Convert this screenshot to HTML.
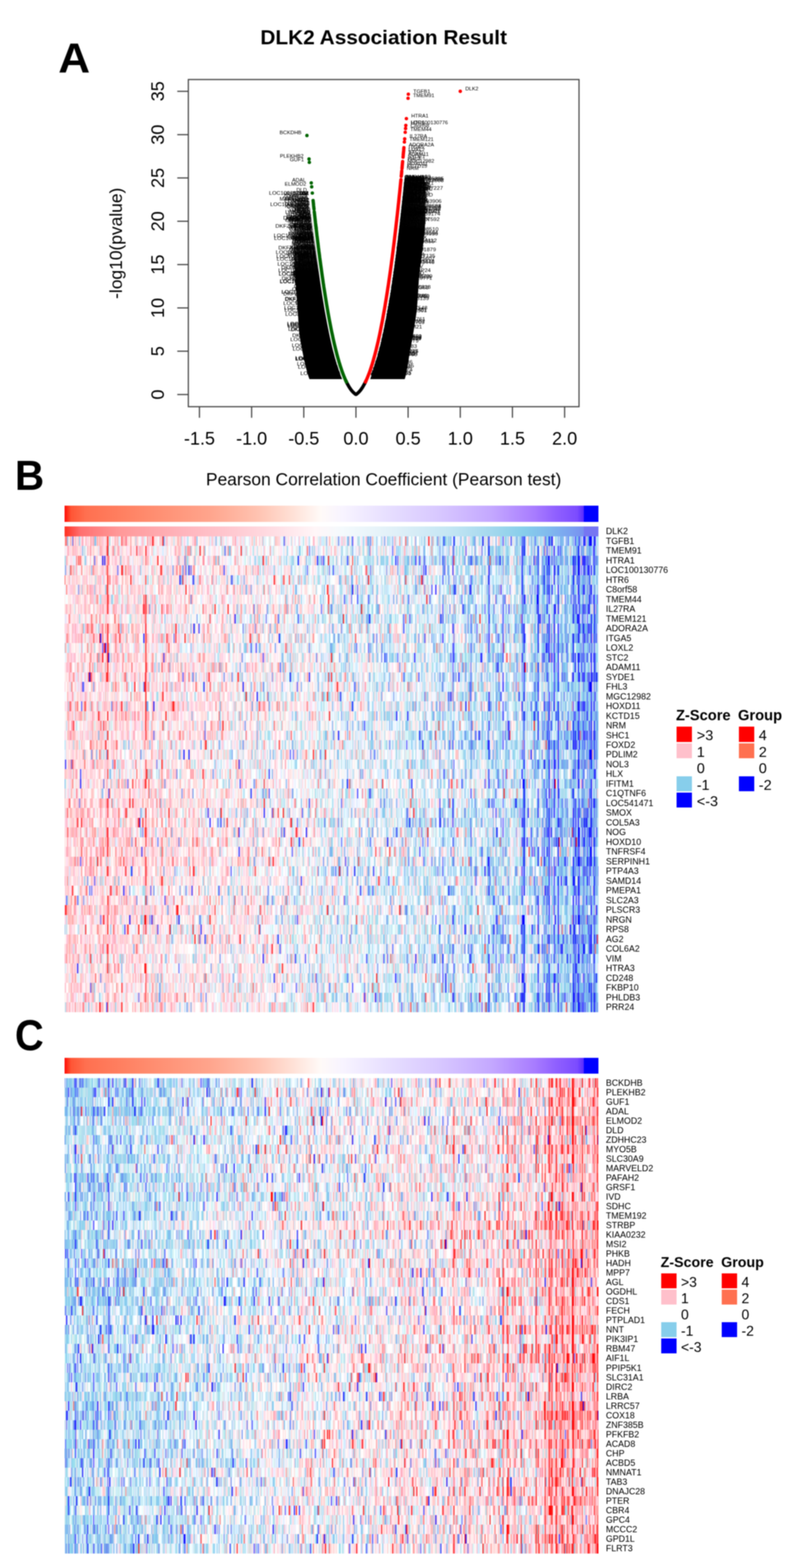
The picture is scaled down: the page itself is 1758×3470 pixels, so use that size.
<!DOCTYPE html><html><head><meta charset="utf-8"><title>DLK2 Association Result</title><style>
*{margin:0;padding:0;box-sizing:border-box}
html,body{width:1758px;height:3470px;overflow:hidden;background:#fff}
body{position:relative;font-family:"Liberation Sans",Arial,Helvetica,sans-serif;color:#000}
#w{position:absolute;left:0;top:0;width:1758px;height:3470px;filter:blur(0.8px)}
.abs{position:absolute;left:0;top:0}
.pl{position:absolute;font-weight:bold;font-size:93px;line-height:1}
svg text{font-family:"Liberation Sans",Arial,sans-serif}
.lab text{font-size:11.3px;fill:#000}
.labn text{font-size:10.6px;fill:#000}
.tk text{font-size:40px;fill:#000}
.axt{font-size:38.5px;fill:#000}
.ttl{font-size:43.5px;font-weight:bold;fill:#000}
.bar{position:absolute}
.hr{position:absolute;left:142.5px;width:1182px;height:21.78px}
.gl{position:absolute;left:1341.5px;font-size:19.5px;line-height:21.48px;height:21.48px;color:#000;white-space:nowrap}
.lt{position:absolute;font-weight:bold;font-size:32.5px;line-height:1;white-space:nowrap}
.lb{position:absolute;width:34px;height:33.2px}
.li{position:absolute;font-size:32px;line-height:39px;white-space:nowrap}
</style></head><body><div id="w"><div class="pl" style="left:129px;top:82px;transform:scaleX(1.05);transform-origin:0 0">A</div><div class="pl" style="left:32.5px;top:1006px;transform:scaleX(0.965);transform-origin:0 0">B</div><div class="pl" style="left:33px;top:2244px;transform:scale(0.95,1.03);transform-origin:0 0">C</div><svg class="abs" width="1758" height="1100" viewBox="0 0 1758 1100"><defs><linearGradient id="gl" gradientUnits="userSpaceOnUse" x1="0" y1="430" x2="0" y2="840"><stop offset="0" stop-color="#000" stop-opacity="0"/><stop offset="0.17" stop-color="#000" stop-opacity="0.2"/><stop offset="0.3" stop-color="#000" stop-opacity="0.65"/><stop offset="0.42" stop-color="#000" stop-opacity="1"/></linearGradient><linearGradient id="gr" gradientUnits="userSpaceOnUse" x1="0" y1="395" x2="0" y2="840"><stop offset="0" stop-color="#000" stop-opacity="0.72"/><stop offset="0.15" stop-color="#000" stop-opacity="0.9"/><stop offset="0.27" stop-color="#000" stop-opacity="1"/></linearGradient></defs><polygon points="819.6,839.0 823.4,829.5 826.9,820.1 830.0,810.7 832.9,801.3 835.6,791.8 838.2,782.4 840.6,773.0 842.8,763.5 845.0,754.1 847.1,744.7 849.1,735.2 851.0,725.8 852.8,716.4 854.6,707.0 856.4,697.5 858.0,688.1 859.7,678.7 861.3,669.2 862.8,659.8 864.3,650.4 865.8,640.9 867.2,631.5 868.6,622.1 870.0,612.7 871.3,603.2 872.6,593.8 873.9,584.4 875.1,574.9 876.4,565.5 877.6,556.1 878.8,546.6 879.9,537.2 881.1,527.8 882.2,518.4 883.3,508.9 884.4,499.5 885.5,490.1 886.5,480.6 887.6,471.2 888.6,461.8 889.6,452.3 890.6,442.9 891.6,433.5 892.5,424.1 893.5,414.6 894.4,405.2 895.4,395.8 939.6,395.8 941.6,405.2 943.1,414.6 942.8,424.1 942.5,433.5 942.1,442.9 941.8,452.3 941.6,461.8 941.7,471.2 941.8,480.6 941.8,490.1 941.1,499.5 940.2,508.9 939.3,518.4 938.4,527.8 937.4,537.2 936.3,546.6 935.1,556.1 933.9,565.5 932.6,574.9 931.4,584.4 930.1,593.8 928.8,603.2 927.7,612.7 927.2,622.1 926.6,631.5 926.1,640.9 925.5,650.4 924.8,659.8 924.2,669.2 923.4,678.7 922.6,688.1 921.3,697.5 919.9,707.0 918.4,716.4 916.9,725.8 915.4,735.2 913.8,744.7 912.1,754.1 910.4,763.5 908.6,773.0 906.6,782.4 905.4,791.8 904.1,801.3 902.6,810.7 900.8,820.1 898.8,829.5 896.1,839.0" fill="url(#gr)"/><polygon points="757.6,839.0 754.1,830.5 751.0,822.1 748.1,813.6 745.4,805.2 742.9,796.7 740.6,788.3 738.4,779.8 736.2,771.4 734.2,762.9 732.3,754.5 730.4,746.0 728.6,737.6 726.9,729.1 725.2,720.7 723.6,712.2 722.0,703.8 720.4,695.3 718.9,686.9 717.5,678.4 716.1,670.0 714.7,661.5 713.3,653.1 712.0,644.6 710.7,636.2 709.4,627.7 708.2,619.2 707.0,610.8 705.8,602.3 704.6,593.9 703.5,585.4 702.3,577.0 701.2,568.5 700.1,560.1 699.1,551.6 698.0,543.2 697.0,534.7 695.9,526.3 694.9,517.8 693.9,509.4 693.0,500.9 692.0,492.5 691.0,484.0 690.1,475.6 689.2,467.1 688.3,458.7 687.4,450.2 686.5,441.8 661.0,441.8 659.7,450.2 658.4,458.7 657.1,467.1 655.8,475.6 654.5,484.0 653.3,492.5 652.2,500.9 651.9,509.4 651.7,517.8 651.4,526.3 651.2,534.7 651.0,543.2 650.8,551.6 651.0,560.1 651.4,568.5 651.7,577.0 652.1,585.4 652.6,593.9 653.0,602.3 653.5,610.8 654.0,619.2 654.6,627.7 655.2,636.2 655.8,644.6 656.5,653.1 657.2,661.5 657.9,670.0 658.6,678.4 659.4,686.9 659.8,695.3 660.3,703.8 660.7,712.2 661.3,720.7 661.9,729.1 662.5,737.6 663.7,746.0 665.1,754.5 666.7,762.9 668.3,771.4 670.0,779.8 671.7,788.3 673.5,796.7 675.3,805.2 677.4,813.6 679.6,822.1 682.1,830.5 685.1,839.0" fill="url(#gl)"/><g class="lab" transform="scale(1.1 1)"><text x="804.8" y="494.1">WWA</text><text x="788.7" y="629.8">ZNF639</text><text x="787.3" y="639.9">MZU31</text><text x="770.7" y="741.2">BL2</text><text x="810.9" y="431.7">MIF4</text><text x="769.5" y="747.6">LOC100192401</text><text x="807.2" y="470.1">ZNF823</text><text x="798.2" y="554.0">KIAA1880</text><text x="792.9" y="597.5">IPOC3</text><text x="764.7" y="769.9">ZKOL24</text><text x="764.8" y="769.6">DKFZp146K83</text><text x="813.0" y="409.4">AG</text><text x="762.9" y="778.1">WZOG6</text><text x="793.6" y="592.6">POOBI9F</text><text x="809.2" y="449.8">HLT29I</text><text x="799.1" y="546.1">WRH11</text><text x="791.7" y="607.2">ZDKX23</text><text x="763.4" y="775.8">ZAVPM31</text><text x="771.7" y="736.3">EK</text><text x="780.4" y="686.2">FLE39</text><text x="795.1" y="580.1">KSX10</text><text x="812.3" y="416.8">RRH28</text><text x="779.9" y="689.4">FLJ16083</text><text x="807.6" y="465.7">WM18</text><text x="812.7" y="412.2">KPCE27</text><text x="760.9" y="786.2">TWWN</text><text x="750.5" y="822.7">SNORD87</text><text x="768.3" y="753.4">LOC100248569</text><text x="795.6" y="575.8">AL</text><text x="806.4" y="478.3">FET23</text><text x="753.4" y="813.7">CG</text><text x="762.6" y="779.2">MEOO11P</text><text x="799.3" y="544.6">UIHB</text><text x="765.8" y="764.9">REDN</text><text x="773.8" y="724.6">COIV6</text><text x="782.9" y="669.9">ESF34L</text><text x="803.7" y="504.2">BE30V</text><text x="757.3" y="800.3">ZNF198</text><text x="778.0" y="701.0">EALEW13S</text><text x="782.5" y="672.6">TUEGG9</text><text x="762.2" y="780.7">LPCS</text><text x="784.1" y="661.9">C19orf154</text><text x="787.3" y="640.0">AHV5</text><text x="802.2" y="517.9">FXI16</text><text x="814.0" y="398.3">UIXFC27Z</text><text x="767.3" y="758.1">TVELX33T</text><text x="789.0" y="627.4">HLS29</text><text x="773.3" y="727.4">DKFZp151M21</text><text x="750.9" y="821.5">KIAA1167</text><text x="808.5" y="456.7">C4orf41</text><text x="774.9" y="718.9">ZNF602</text><text x="791.5" y="608.5">KXUEW10D</text><text x="770.1" y="744.5">XUAT13M</text><text x="802.9" y="511.7">C5orf25</text><text x="766.3" y="763.0">ZHVXO7D</text><text x="776.1" y="711.8">UPUXF17</text><text x="807.4" y="467.9">EANS</text><text x="748.2" y="829.3">LKBS37S</text><text x="794.1" y="588.0">AXLC25U</text><text x="771.3" y="738.1">METL</text><text x="788.6" y="630.7">RRP4</text><text x="803.3" y="507.9">BTWM7</text><text x="787.4" y="638.9">LOC100826818</text><text x="795.0" y="580.6">RFOIK14</text><text x="781.3" y="680.7">FOT</text><text x="775.0" y="718.4">XRDBF34</text><text x="769.2" y="748.8">VDL</text><text x="782.7" y="671.5">FLJ29144</text><text x="754.2" y="811.1">MLF3</text><text x="798.4" y="552.4">FGLEN7</text><text x="776.7" y="708.6">SNORD32</text><text x="755.6" y="806.3">SUE2</text><text x="799.0" y="546.7">KTB14</text><text x="790.0" y="620.4">PM6X</text><text x="812.7" y="412.1">C6orf86</text><text x="789.1" y="626.9">DD30U</text><text x="797.0" y="564.0">URD</text><text x="799.6" y="541.4">OITXE</text><text x="761.0" y="785.7">LOC100854024</text><text x="796.8" y="566.3">IOEXW24</text><text x="748.7" y="827.9">KSVX30K</text><text x="768.0" y="754.8">NX17</text><text x="808.2" y="459.8">LOC100898584</text><text x="805.3" y="489.1">C2orf161</text><text x="800.5" y="533.5">ZNF669</text><text x="775.1" y="717.7">KIAA1939</text><text x="806.5" y="476.7">AONE</text><text x="804.3" y="498.9">OPI</text><text x="803.9" y="502.0">DIM29</text><text x="749.9" y="824.4">EW29</text><text x="808.5" y="457.0">ZNF550</text><text x="756.7" y="802.1">ZNF329</text><text x="766.9" y="759.8">EIS</text><text x="794.7" y="583.8">LOC100393446</text><text x="809.6" y="446.0">IB18</text><text x="746.6" y="833.6">OTTBI</text><text x="779.0" y="695.1">ADE4</text><text x="795.0" y="580.6">ORTT</text><text x="769.2" y="748.7">EDNPU</text><text x="802.8" y="512.6">ZNF508</text><text x="782.6" y="672.0">ND</text><text x="759.6" y="791.4">C3orf124</text><text x="810.6" y="434.7">SEMLM36D</text><text x="792.0" y="605.0">SDW</text><text x="761.2" y="784.8">WTFA</text><text x="788.0" y="635.1">DMD38</text><text x="762.7" y="778.7">KO15</text><text x="803.8" y="503.1">KT9</text><text x="778.3" y="699.2">SNORD107</text><text x="763.7" y="774.6">XRDKS34</text><text x="801.0" y="529.3">ZC32</text><text x="750.9" y="821.5">WBM23</text><text x="803.0" y="511.1">DXUI</text><text x="813.9" y="398.7">GXM37</text><text x="784.8" y="657.1">LK18</text><text x="763.7" y="774.4">NL</text><text x="772.3" y="733.0">NTRI13P</text><text x="760.2" y="789.2">GMP29</text><text x="773.9" y="724.4">TOT7N</text><text x="769.6" y="746.9">FLJ44910</text><text x="813.9" y="398.9">ZM38</text><text x="796.2" y="571.0">HXAI2T</text><text x="779.9" y="689.2">LOC100202481</text><text x="811.3" y="427.4">FLJ31130</text><text x="747.3" y="831.9">RWEP35H</text><text x="771.1" y="739.5">KIAA1678</text><text x="759.5" y="791.8">KHNH26</text><text x="793.3" y="594.9">KIAA1795</text><text x="774.4" y="721.3">UXPO21</text><text x="755.5" y="806.6">UZUGL27</text><text x="813.4" y="405.0">ZK14M</text><text x="787.2" y="640.9">MOVW35</text><text x="811.8" y="422.0">KIAA1197</text><text x="813.9" y="399.4">LOC100045885</text><text x="791.3" y="610.7">XIXFC13</text><text x="797.4" y="561.1">CEK32</text><text x="768.9" y="750.4">NFB7R</text><text x="773.8" y="724.7">IWMZ12M</text><text x="812.7" y="412.8">RVTGO32</text><text x="780.0" y="688.8">BGUR22</text><text x="755.8" y="805.5">CO</text><text x="769.6" y="746.7">BPIM2</text><text x="762.3" y="780.6">WXSD11G</text><text x="768.4" y="752.9">KR9</text><text x="784.4" y="660.1">FKSKH</text><text x="799.9" y="539.5">C1orf198</text><text x="750.3" y="823.3">ARDH9</text><text x="795.7" y="574.9">KIAA1810</text><text x="806.1" y="481.4">C18orf43</text><text x="797.7" y="558.5">LIUM28</text><text x="802.7" y="513.7">MSTK35T</text><text x="798.2" y="554.1">WPL37</text><text x="778.7" y="696.6">PXX37</text><text x="796.4" y="569.4">BCN21</text><text x="811.7" y="423.2">KAUI</text><text x="777.0" y="706.5">ZNF325</text><text x="757.4" y="799.6">OLEDT21</text><text x="754.5" y="810.1">LA31</text><text x="754.3" y="810.8">FLJ20578</text><text x="779.3" y="692.9">EXX1</text><text x="806.7" y="475.4">TBRTG4</text><text x="796.0" y="572.4">KIM23</text><text x="780.3" y="687.0">WDSTL</text><text x="812.8" y="411.3">KIAA1281</text><text x="777.3" y="705.0">OMVCG31</text><text x="809.2" y="449.4">KIAA1278</text><text x="789.4" y="624.5">TFVKB</text><text x="765.8" y="765.1">UZZB15</text><text x="774.6" y="720.7">CXABB9</text><text x="774.1" y="723.2">ZHTNB28</text><text x="807.7" y="465.0">KIAA1917</text><text x="802.5" y="515.3">ZENAN</text><text x="782.1" y="675.6">KIAA1062</text><text x="768.1" y="754.2">AOIRS29M</text><text x="753.3" y="813.9">VRV25</text><text x="810.1" y="440.4">BWXT7</text><text x="802.9" y="511.4">LOC100298510</text><text x="813.2" y="407.3">CEKL24</text><text x="800.6" y="533.0">MLOK4</text><text x="773.0" y="729.3">NGT</text><text x="781.7" y="677.7">SPUZT</text><text x="805.7" y="485.2">RH10</text><text x="800.3" y="535.6">LOC100264112</text><text x="799.5" y="542.6">BGRU23</text><text x="771.6" y="736.8">TI15</text><text x="809.7" y="444.7">GOS16</text><text x="792.3" y="602.2">HRZ15</text><text x="796.5" y="568.2">ABMV9X</text><text x="809.9" y="442.1">KIAA1656</text><text x="797.2" y="562.6">CFI5</text><text x="775.6" y="714.7">MIG</text><text x="786.5" y="645.3">ITZD4</text><text x="798.5" y="551.8">TPAXZ12E</text><text x="787.2" y="640.5">DKFZp726G68</text><text x="799.9" y="539.3">C5orf86</text><text x="803.3" y="507.6">KIAA1132</text><text x="772.4" y="732.7">CXU33X</text><text x="777.3" y="704.8">RHDHV7</text><text x="800.3" y="535.6">FDM1</text><text x="757.8" y="798.2">SMS32</text><text x="790.9" y="613.1">HG39</text><text x="811.8" y="421.7">VOPTK18C</text><text x="781.0" y="682.2">NPZA29</text><text x="765.6" y="765.8">HSEVC12L</text><text x="801.9" y="520.8">MVNA18</text><text x="805.8" y="484.3">FEC25</text><text x="801.1" y="528.0">ML6</text><text x="756.6" y="802.7">NRN26C</text><text x="778.2" y="699.9">XZ34</text><text x="795.9" y="573.8">ZP</text><text x="768.6" y="752.0">C13orf171</text><text x="755.8" y="805.5">RMBV16</text><text x="787.7" y="636.9">LESP21</text><text x="755.0" y="808.3">FLJ27836</text><text x="779.1" y="694.3">IAE</text><text x="786.9" y="642.6">WF</text><text x="779.1" y="694.2">GZRFV</text><text x="788.3" y="632.8">HPTS33P</text><text x="802.6" y="514.3">ZNF387</text><text x="782.6" y="671.8">GFB18</text><text x="746.6" y="833.6">CVB25</text><text x="791.3" y="609.9">FLJ33448</text><text x="779.8" y="690.1">ZLC12</text><text x="782.9" y="669.9">EDUU21</text><text x="806.4" y="478.4">DRSIF23</text><text x="748.9" y="827.3">VT4</text><text x="751.3" y="820.2">ZNF580</text><text x="788.3" y="632.4">HGRZN32</text><text x="755.7" y="805.9">TG26</text><text x="773.5" y="726.8">KTRL16</text><text x="747.7" y="830.6">GNR14</text><text x="811.7" y="423.6">ISDX</text><text x="800.0" y="538.4">DKFZp694B55</text><text x="801.3" y="526.2">VBAW11</text><text x="771.8" y="735.8">PED</text><text x="801.4" y="525.6">EASB33H</text><text x="790.5" y="616.1">SLEM5</text><text x="765.8" y="765.1">ZNF440</text><text x="773.5" y="726.7">KIAA1534</text><text x="792.1" y="604.0">SNORD32</text><text x="782.7" y="671.5">ZLVU17</text><text x="755.7" y="805.8">OCGGX35O</text><text x="809.8" y="443.3">WNXE</text><text x="750.7" y="822.0">LOC100903974</text><text x="812.7" y="412.6">EN1E</text><text x="800.6" y="532.9">KUXHE</text><text x="812.0" y="420.4">LOC100847227</text><text x="772.1" y="733.8">XC14F</text><text x="813.8" y="399.8">MZE1</text><text x="759.0" y="793.9">DT24</text><text x="778.0" y="700.8">SNORD117</text><text x="767.2" y="758.6">VIM28</text><text x="780.5" y="685.5">GFUB5</text><text x="775.9" y="713.4">FLJ23089</text><text x="786.9" y="642.6">UA</text><text x="776.9" y="707.3">SUHD</text><text x="783.4" y="666.6">THB21</text><text x="812.9" y="409.9">NCCV33</text><text x="807.1" y="471.4">LOC100931071</text><text x="775.2" y="717.0">HIHKU14</text><text x="779.8" y="689.9">KVOP12</text><text x="788.8" y="628.9">NLWZG3R</text><text x="812.7" y="411.9">SNORD47</text><text x="806.6" y="476.5">LCVNB</text><text x="796.3" y="570.5">ENHW</text><text x="811.2" y="428.8">LMT31</text><text x="751.2" y="820.6">WVS</text><text x="777.7" y="702.4">OWH35</text><text x="798.0" y="556.1">WEMR</text><text x="804.2" y="499.2">KM5</text><text x="764.2" y="772.1">IWVWT20</text><text x="767.3" y="758.3">DKFZp604D79</text><text x="755.1" y="807.9">UPC</text><text x="810.1" y="440.3">DGDNI39</text><text x="805.3" y="489.0">AVFWE37X</text><text x="777.4" y="704.4">TFI16V</text><text x="755.3" y="807.4">XLS20</text><text x="797.5" y="559.9">KIAA1521</text><text x="769.5" y="747.5">UO</text><text x="811.3" y="427.7">CU10R</text><text x="796.4" y="569.6">LOC100717135</text><text x="789.4" y="624.5">LC35</text><text x="791.2" y="611.3">FLJ45891</text><text x="784.6" y="658.7">LOC100988216</text><text x="813.9" y="399.5">FFCEZH</text><text x="805.2" y="489.5">LOC100127592</text><text x="802.9" y="512.0">RV1K</text><text x="798.5" y="551.4">C4orf155</text><text x="790.6" y="615.5">OI8G</text><text x="787.5" y="638.5">KIAA1269</text><text x="782.5" y="672.7">FLJ28502</text><text x="752.0" y="818.2">HHCS</text><text x="776.7" y="708.7">CPMEA</text><text x="752.7" y="815.8">CK21</text><text x="798.0" y="555.8">LOC100381879</text><text x="807.4" y="467.9">GN9</text><text x="788.8" y="629.0">FLJ21887</text><text x="749.7" y="825.0">C4orf172</text><text x="787.3" y="640.2">VR20</text><text x="764.7" y="769.9">HU11</text><text x="794.9" y="582.1">ISMW37</text><text x="780.4" y="686.5">ZVWI</text><text x="802.8" y="512.9">FUCD39</text><text x="803.7" y="504.3">ZCCC15</text><text x="811.0" y="431.0">CSASW33</text><text x="810.2" y="438.8">GFETE27</text><text x="759.3" y="792.7">IAW19I</text><text x="808.1" y="461.2">KLH7</text><text x="809.2" y="449.3">LOC100393906</text><text x="813.7" y="401.2">DKFZp909W58</text><text x="801.0" y="529.1">FKGEB39X</text><text x="784.8" y="657.7">DKFZp242R46</text><text x="802.8" y="512.2">PVFO18</text><text x="760.1" y="789.6">KIAA1274</text><text x="768.5" y="752.4">LOC100668914</text><text x="768.7" y="751.6">LOC100382709</text><text x="780.2" y="687.7">SXZEA15</text><text x="801.9" y="521.3">LOC100744956</text><text x="804.6" y="495.4">ZNF281</text><text x="792.5" y="600.9">CHB</text><text x="759.4" y="792.1">PFR38</text><text x="808.3" y="459.0">GG39</text><text x="776.9" y="707.6">BFF32</text><text x="790.5" y="616.4">DKFZp764G93</text><text x="791.0" y="612.3">UA11</text><text x="766.7" y="761.1">PZKID</text><text x="807.0" y="471.6">PVDM25P</text><text x="780.6" y="685.0">GVZP</text><text x="752.4" y="817.0">FVEE35W</text><text x="771.4" y="737.6">UTDLO6</text><text x="805.5" y="487.3">IW29V</text><text x="777.2" y="705.7">RR17</text><text x="787.2" y="640.7">DZ38</text><text x="788.5" y="631.0">ZNF590</text><text x="748.8" y="827.7">VEDRF39</text><text x="769.5" y="747.5">LVTWD17</text><text x="783.9" y="663.6">SNORD63</text><text x="811.0" y="430.7">HIBLH23</text><text x="775.0" y="718.5">CB31</text><text x="798.3" y="553.1">NWNHWT</text><text x="793.4" y="593.7">C18orf63</text><text x="806.1" y="480.8">COX</text><text x="806.2" y="480.0">WDOTD</text><text x="800.9" y="530.0">VMLG8</text><text x="791.4" y="609.7">PKRUC26</text><text x="755.1" y="807.9">PB36</text><text x="785.7" y="651.3">FNKV20</text><text x="776.3" y="710.7">PSRC24</text><text x="767.7" y="756.2">VR</text><text x="810.4" y="437.2">PRZE4</text><text x="806.0" y="481.5">GPI30Z</text><text x="810.7" y="433.6">KWAP21</text><text x="799.6" y="541.7">EFTA10</text><text x="756.4" y="803.3">DOWWX</text><text x="787.6" y="637.6">RFHPD</text><text x="785.8" y="650.6">APA25S</text><text x="814.1" y="396.4">C19orf75</text><text x="776.5" y="709.4">UNTX</text><text x="804.7" y="494.8">MXCCG8</text><text x="784.6" y="658.8">KIAA1379</text><text x="753.2" y="814.5">LTX30</text><text x="812.4" y="415.6">AXZLS37B</text><text x="785.2" y="654.8">SFSZK16</text><text x="791.7" y="607.5">BSBN6</text><text x="789.4" y="624.5">AEFI39</text><text x="790.2" y="619.0">LOC100720771</text><text x="779.1" y="694.3">SN24</text><text x="812.7" y="411.9">WL2</text><text x="779.6" y="691.3">LOC100332501</text><text x="809.4" y="447.4">KIAA1718</text><text x="807.8" y="463.6">C13orf126</text><text x="774.9" y="718.6">LLL</text><text x="806.6" y="476.3">FLJ14849</text><text x="792.0" y="604.6">ZZ36</text><text x="762.1" y="781.5">LOC100431237</text><text x="761.8" y="782.3">HS6</text><text x="799.9" y="539.5">LR6T</text><text x="770.4" y="742.7">FLJ22449</text><text x="774.4" y="721.3">HRGL4</text><text x="793.5" y="593.4">ZCTLZ24</text><text x="782.6" y="672.1">KAVFK36</text><text x="786.5" y="645.9">GZT4I</text><text x="756.4" y="803.6">MENFD27</text><text x="794.4" y="585.7">FLJ31848</text><text x="797.7" y="558.6">HLVW5</text><text x="794.1" y="588.3">PMZSO8</text><text x="811.8" y="422.5">KIAA1284</text><text x="799.5" y="542.5">CMWBS3</text><text x="806.5" y="476.7">LOC100259174</text><text x="785.1" y="655.6">DXIZA</text><text x="757.3" y="800.2">PK16</text><text x="759.8" y="790.6">RSL</text><text x="809.5" y="447.0">AUPK22P</text><text x="792.4" y="601.6">DKFZp454P24</text><text x="814.2" y="395.5">C21orf128</text><text x="787.1" y="641.5">DSIN30</text><text x="760.0" y="789.9">WGGO21</text><text x="755.9" y="805.1">DKFZp283V86</text><text x="778.9" y="695.5">NXB1P</text><text x="773.5" y="726.6">GH22V</text><text x="753.5" y="813.5">FLJ19858</text><text x="754.3" y="810.8">ESXWGO</text><text x="807.5" y="467.3">LOC100456048</text><text x="786.4" y="646.5">RS16</text><text x="759.0" y="793.9">LA28P</text><text x="753.5" y="813.4">SUC8</text><text x="800.0" y="538.5">OT19</text><text x="755.3" y="807.3">NUDC32</text><text x="798.8" y="548.7">UEAXA25</text><text x="792.7" y="599.5">BRT4</text><text x="813.9" y="399.0">LTEXI5</text><text x="755.5" y="806.7">EUGBDV</text><text x="789.2" y="625.8">COWW8</text><text x="779.0" y="694.6">AEFX13</text><text x="760.7" y="787.0">SRM8</text><text x="797.6" y="559.0">PE</text><text x="784.7" y="658.3">OIOUB30</text><text x="798.1" y="554.9">C6orf34</text><text x="809.2" y="449.2">OKD16</text><text x="788.9" y="628.6">GLDXK28</text><text x="805.2" y="490.3">STA</text><text x="752.1" y="817.7">ONC</text><text x="786.4" y="646.4">ZNF604</text><text x="796.5" y="568.4">KOFCN33</text><text x="763.4" y="775.8">LF9</text><text x="760.3" y="788.7">C14orf161</text><text x="793.9" y="589.7">FIH29</text><text x="789.7" y="622.4">WT13W</text><text x="746.7" y="833.4">KIAA1932</text><text x="809.9" y="442.9">SUK34</text><text x="778.0" y="700.8">ZGG</text><text x="759.7" y="791.0">NBM14</text><text x="751.2" y="820.8">MHDP23</text><text x="752.7" y="815.9">ABB13L</text><text x="809.2" y="449.7">PSPMK10</text><text x="809.1" y="450.3">MT20</text><text x="770.0" y="745.1">XGP</text><text x="807.9" y="462.8">FLJ21901</text><text x="771.5" y="737.1">SNORD98</text><text x="785.8" y="650.4">AB9</text><text x="782.7" y="671.5">CZ</text><text x="783.0" y="669.4">UI32</text><text x="798.8" y="548.5">ZNF374</text><text x="786.8" y="643.8">C6orf41</text><text x="752.3" y="817.2">IDBTO</text><text x="785.7" y="650.9">BSFE1N</text><text x="762.9" y="778.0">C12orf55</text><text x="788.1" y="634.1">RXRNAB</text><text x="791.2" y="611.3">TG</text><text x="807.8" y="463.9">LOC100351969</text><text x="798.2" y="553.8">WH28</text><text x="809.9" y="442.5">OVT</text><text x="788.6" y="630.7">UES36C</text><text x="777.6" y="703.2">GLV</text><text x="776.6" y="709.3">FLJ42682</text><text x="784.5" y="659.5">LOC100480980</text><text x="802.8" y="512.5">SNORD94</text><text x="792.9" y="598.0">OSHI32F</text><text x="779.0" y="694.7">VKM33</text><text x="767.9" y="755.1">FDC23</text><text x="802.6" y="514.8">C3orf105</text><text x="766.3" y="762.8">KIAA1361</text><text x="803.1" y="509.4">TGD</text><text x="794.4" y="586.1">EC</text><text x="760.9" y="786.1">OICZ</text><text x="796.1" y="571.7">AN23</text><text x="772.2" y="733.5">PBRP</text><text x="800.7" y="532.3">KIAA1908</text><text x="803.4" y="506.9">SROU</text><text x="790.7" y="615.0">MZZ25D</text><text x="782.8" y="670.7">ZCL1</text><text x="808.7" y="455.3">GPNR28</text><text x="746.1" y="835.1">WGEW</text><text x="755.4" y="807.0">NN6U</text><text x="783.4" y="666.9">KZM19</text><text x="797.4" y="561.1">EKPG</text><text x="802.1" y="519.5">LOC100998594</text><text x="812.0" y="420.4">PAIKH28</text><text x="810.7" y="433.6">ID7</text><text x="746.6" y="833.8">NA24</text><text x="793.8" y="590.5">SNORD94</text><text x="770.6" y="741.7">AVSGZ12</text><text x="804.5" y="496.3">NXCHN18</text><text x="758.3" y="796.3">OK23</text><text x="785.2" y="654.9">GEPZS4</text><text x="770.7" y="741.3">CHWZD6</text><text x="758.6" y="795.1">FX</text><text x="791.2" y="611.3">AHRO24W</text><text x="762.2" y="781.0">LOC100939025</text><text x="783.4" y="667.1">HZFCU7</text><text x="775.5" y="715.4">LOC100332057</text><text x="779.2" y="693.6">SNORD74</text><text x="781.4" y="680.0">DVNFK</text><text x="766.6" y="761.5">GFGBD</text><text x="795.5" y="576.5">GRVX21</text><text x="762.2" y="780.7">LOC100696785</text><text x="796.4" y="569.3">KIAA1151</text><text x="783.9" y="663.8">LOC100446139</text><text x="755.0" y="808.3">NFOKK</text><text x="777.8" y="702.3">WBDH8</text><text x="797.2" y="562.6">ZME7</text><text x="806.5" y="477.4">ZNF606</text><text x="813.4" y="404.1">ZNF226</text><text x="794.5" y="584.9">PZ22</text><text x="803.9" y="502.4">C17orf46</text><text x="764.9" y="769.0">KVCB6</text><text x="781.9" y="676.8">CGW17</text><text x="763.0" y="777.3">GAR</text><text x="750.3" y="823.4">FLJ41682</text><text x="792.1" y="603.9">DLZ25</text><text x="785.1" y="655.0">OGMH17</text><text x="798.7" y="550.0">CRUTK6</text><text x="761.2" y="784.8">KBINL39C</text><text x="780.7" y="684.3">DVF21L</text><text x="812.3" y="416.8">NH38R</text><text x="756.0" y="804.8">KIAA1032</text><text x="769.0" y="749.7">HHG14</text><text x="746.9" y="832.9">KIAA1169</text><text x="800.9" y="529.8">THGLC30</text><text x="789.2" y="626.0">GUSRK16</text><text x="808.6" y="456.3">KTO</text><text x="748.0" y="829.9">ZNF848</text><text x="773.8" y="724.9">LLSS38</text><text x="796.6" y="567.3">MNSWW</text><text x="801.7" y="523.1">FVRMR</text><text x="813.6" y="402.6">LOC100163908</text><text x="794.8" y="582.5">LOC100195618</text><text x="769.6" y="747.0">TULS</text><text x="781.6" y="678.3">EISID7M</text><text x="793.5" y="593.4">KFCDP19V</text><text x="786.3" y="646.7">SMBH8</text><text x="807.0" y="471.8">DKFZp532G40</text><text x="794.3" y="587.0">VZFLR36I</text><text x="796.5" y="568.3">NOZ17</text><text x="812.0" y="420.3">XA22</text><text x="781.9" y="676.9">SNORD23</text><text x="756.5" y="803.1">ZNF490</text><text x="769.3" y="748.6">NU19</text><text x="808.2" y="459.8">LOC100539508</text><text x="788.2" y="633.6">BKNFD</text><text x="799.2" y="545.3">ZNF600</text><text x="779.7" y="690.6">SNORD75</text><text x="748.3" y="829.1">LOC100525165</text><text x="757.9" y="797.8">OL5</text><text x="791.4" y="609.8">VZROWL</text><text x="755.0" y="808.2">BN1</text><text x="763.5" y="775.3">ALWE10</text><text x="780.6" y="684.7">LOC100857548</text><text x="774.8" y="719.2">C10orf143</text><text x="769.1" y="749.2">PCN</text><text x="760.1" y="789.3">GW30</text><text x="769.8" y="745.8">FBH16X</text><text x="813.6" y="402.7">NWWG</text><text x="798.5" y="551.4">ZNF745</text><text x="757.9" y="797.9">FLJ13655</text><text x="804.3" y="498.5">SOCHI10</text><text x="768.3" y="753.3">SNORD110</text><text x="765.2" y="768.0">SNORD88</text><text x="765.6" y="765.8">VDBN35</text><text x="806.5" y="476.8">EOF</text><text x="779.4" y="692.3">KSZ6</text><text x="772.3" y="733.1">IBCNF</text><text x="796.7" y="567.0">GWWFN34</text><text x="763.5" y="775.4">GB</text><text x="787.2" y="640.8">XNOUL21</text><text x="769.3" y="748.4">LOC100550559</text><text x="807.3" y="469.3">SNORD35</text><text x="770.6" y="742.1">C13orf117</text><text x="776.8" y="707.7">BHW26</text><text x="772.4" y="732.3">MCU31</text><text x="771.4" y="737.9">FLJ11729</text><text x="777.2" y="705.7">OPGK2</text><text x="760.4" y="788.1">LOC100064758</text><text x="782.8" y="671.0">UA16</text><text x="790.6" y="615.3">SNORD90</text><text x="753.7" y="812.7">LOC100583815</text><text x="802.4" y="516.8">NG38U</text><text x="777.2" y="705.7">XU7</text><text x="790.6" y="615.4">LOC100288799</text><text x="805.4" y="487.9">OLIK8</text><text x="775.1" y="717.4">LOC100624709</text><text x="775.1" y="717.8">RPP13</text><text x="811.0" y="431.1">ROL</text><text x="782.5" y="672.7">ZNF235</text><text x="795.6" y="576.1">LOC100325607</text><text x="777.8" y="702.1">OSFW</text><text x="794.5" y="585.2">FLJ37868</text><text x="760.7" y="787.1">DKFZp285E69</text><text x="773.7" y="725.2">ENRI9C</text><text x="808.8" y="453.7">ELO3</text><text x="780.4" y="686.0">VDET19</text><text x="750.4" y="823.1">OC6</text><text x="802.8" y="512.9">GP16</text><text x="747.9" y="830.2">LOC100228593</text><text x="769.9" y="745.3">XV</text><text x="748.3" y="829.1">CK33</text><text x="809.1" y="450.3">FI18</text><text x="785.0" y="656.0">WCBAX3</text><text x="789.0" y="627.3">TW33</text><text x="754.9" y="808.6">GO</text><text x="775.7" y="714.3">GDF23S</text><text x="814.1" y="396.9">ZNF183</text><text x="783.9" y="663.3">OW10</text><text x="784.9" y="656.8">CIISK2</text><text x="787.7" y="637.0">C3orf110</text><text x="807.4" y="467.6">EU6</text><text x="801.5" y="524.6">RDV16M</text><text x="808.9" y="453.3">WAES36O</text><text x="805.6" y="485.4">AKRU11G</text><text x="803.1" y="510.0">FMS</text><text x="778.9" y="695.5">WW9C</text><text x="794.9" y="582.1">ZIN4</text><text x="746.2" y="834.8">ZKUBA36H</text><text x="754.7" y="809.4">TCF</text><text x="779.2" y="693.4">C13orf87</text><text x="807.3" y="469.2">ITWZD22</text><text x="807.9" y="463.3">ZNF342</text><text x="761.9" y="782.0">KIAA1837</text><text x="752.9" y="815.2">OTAZW15</text><text x="776.5" y="709.9">LOC100424761</text><text x="796.0" y="572.4">PN14D</text><text x="781.1" y="682.0">SNORD115</text><text x="787.4" y="639.3">ZNF234</text><text x="752.8" y="815.5">DKFZp881H50</text><text x="757.1" y="800.8">KIAA1028</text><text x="798.7" y="549.8">UAGARK</text><text x="788.6" y="630.8">ZNF520</text><text x="757.9" y="798.0">FLJ44271</text><text x="811.4" y="426.9">DXZ23</text><text x="798.3" y="553.4">KN</text><text x="812.6" y="413.6">ZNF160</text><text x="763.3" y="776.3">EKGH</text><text x="806.7" y="474.6">C7orf72</text><text x="753.3" y="813.9">RGZEU24E</text><text x="755.7" y="805.9">HAHV</text><text x="804.7" y="494.5">EFATB10</text><text x="797.8" y="557.8">LK</text><text x="786.4" y="646.4">C5orf69</text><text x="781.3" y="680.4">FEN20</text><text x="766.0" y="764.2">OHPW17</text><text x="657.1" y="718.8" text-anchor="end">URS</text><text x="666.2" y="764.8" text-anchor="end">PX36</text><text x="656.8" y="717.2" text-anchor="end">KIAA1616</text><text x="633.9" y="554.5" text-anchor="end">NTRWI5</text><text x="644.2" y="636.4" text-anchor="end">KIRB</text><text x="651.7" y="686.3" text-anchor="end">SIWCO</text><text x="651.0" y="682.0" text-anchor="end">SM21</text><text x="683.4" y="828.0" text-anchor="end">HDWBK3</text><text x="651.8" y="687.0" text-anchor="end">LH13</text><text x="655.3" y="708.1" text-anchor="end">KIIVGU</text><text x="660.7" y="737.8" text-anchor="end">KIAA1568</text><text x="626.6" y="487.7" text-anchor="end">KIAA1602</text><text x="628.3" y="503.9" text-anchor="end">DKFZp802F97</text><text x="647.1" y="656.2" text-anchor="end">CVCUG35</text><text x="637.0" y="580.5" text-anchor="end">UHHZ5</text><text x="658.0" y="723.4" text-anchor="end">LOC100385456</text><text x="658.2" y="724.7" text-anchor="end">LOC100248247</text><text x="666.6" y="766.7" text-anchor="end">KIAA1578</text><text x="647.3" y="657.9" text-anchor="end">MK18</text><text x="649.2" y="670.4" text-anchor="end">RRV34</text><text x="681.3" y="822.0" text-anchor="end">FCB27D</text><text x="652.2" y="689.6" text-anchor="end">KN6</text><text x="647.8" y="661.4" text-anchor="end">WIG26O</text><text x="647.9" y="662.3" text-anchor="end">CV39</text><text x="676.2" y="805.2" text-anchor="end">BZNLI37</text><text x="662.5" y="747.3" text-anchor="end">ZNF351</text><text x="635.9" y="571.9" text-anchor="end">NSPT3</text><text x="659.7" y="733.1" text-anchor="end">DKFZp413P46</text><text x="649.5" y="672.2" text-anchor="end">PAMCG2</text><text x="669.3" y="778.5" text-anchor="end">FLJ34107</text><text x="627.4" y="495.7" text-anchor="end">C1orf43</text><text x="660.5" y="736.8" text-anchor="end">AEOVM12</text><text x="624.5" y="467.0" text-anchor="end">DFG16</text><text x="649.9" y="675.5" text-anchor="end">LOC100647884</text><text x="646.7" y="653.5" text-anchor="end">VBT37</text><text x="648.5" y="666.2" text-anchor="end">DKFZp308R93</text><text x="667.2" y="769.2" text-anchor="end">DUVSP26</text><text x="661.1" y="740.3" text-anchor="end">NSD28</text><text x="662.2" y="745.8" text-anchor="end">ZNF516</text><text x="683.8" y="829.2" text-anchor="end">KHERB15</text><text x="664.4" y="756.5" text-anchor="end">VFP31</text><text x="635.8" y="570.7" text-anchor="end">LOC100928430</text><text x="672.7" y="792.2" text-anchor="end">WKB37</text><text x="662.3" y="746.3" text-anchor="end">DKFZp851T96</text><text x="658.1" y="724.2" text-anchor="end">XAGT37</text><text x="636.8" y="578.8" text-anchor="end">SCG39</text><text x="640.3" y="606.9" text-anchor="end">XGPW39</text><text x="668.1" y="773.2" text-anchor="end">ZNF620</text><text x="678.1" y="811.9" text-anchor="end">GLXH1</text><text x="651.5" y="685.2" text-anchor="end">LOC100754594</text><text x="659.1" y="729.6" text-anchor="end">VS9H</text><text x="661.7" y="743.1" text-anchor="end">HPFK35</text><text x="628.8" y="508.9" text-anchor="end">BVR35</text><text x="652.6" y="692.2" text-anchor="end">CHRD31</text><text x="683.7" y="829.0" text-anchor="end">C15orf53</text><text x="670.2" y="782.1" text-anchor="end">AZMTO5</text><text x="678.0" y="811.5" text-anchor="end">NWRZ</text><text x="639.8" y="603.5" text-anchor="end">C21orf90</text><text x="657.2" y="718.9" text-anchor="end">FLJ16029</text><text x="630.9" y="528.0" text-anchor="end">C13orf170</text><text x="656.8" y="717.2" text-anchor="end">XUFV17Z</text><text x="645.0" y="642.1" text-anchor="end">ZNF282</text><text x="630.5" y="524.6" text-anchor="end">LOC100292451</text><text x="621.2" y="432.3" text-anchor="end">CCXH</text><text x="665.3" y="760.9" text-anchor="end">KBU14</text><text x="641.4" y="615.2" text-anchor="end">C5orf88</text><text x="681.5" y="822.5" text-anchor="end">HVV</text><text x="648.4" y="665.4" text-anchor="end">KOF12</text><text x="640.7" y="610.3" text-anchor="end">MN26</text><text x="631.8" y="536.3" text-anchor="end">PFRP16</text><text x="673.2" y="794.2" text-anchor="end">NC26</text><text x="629.0" y="510.5" text-anchor="end">WDTOA5</text><text x="621.1" y="431.9" text-anchor="end">MM</text><text x="677.4" y="809.5" text-anchor="end">GHS37</text><text x="661.2" y="740.4" text-anchor="end">HR</text><text x="626.4" y="486.1" text-anchor="end">DVWOO10</text><text x="644.5" y="638.5" text-anchor="end">NMWVI3</text><text x="641.7" y="617.8" text-anchor="end">XPD</text><text x="684.7" y="831.5" text-anchor="end">ZNF743</text><text x="640.4" y="608.2" text-anchor="end">EXTPK</text><text x="621.1" y="431.2" text-anchor="end">LOC100653052</text><text x="628.0" y="501.4" text-anchor="end">MPC18I</text><text x="638.2" y="590.8" text-anchor="end">C10orf159</text><text x="649.0" y="669.2" text-anchor="end">KD4</text><text x="680.0" y="818.0" text-anchor="end">C2orf50</text><text x="634.7" y="561.9" text-anchor="end">LOC100418489</text><text x="656.6" y="715.8" text-anchor="end">RW</text><text x="651.0" y="682.0" text-anchor="end">SHT27V</text><text x="647.9" y="662.2" text-anchor="end">BD27U</text><text x="636.4" y="575.6" text-anchor="end">EAM10D</text><text x="664.1" y="755.1" text-anchor="end">ZGURB4</text><text x="652.6" y="692.1" text-anchor="end">CNLMD30</text><text x="659.3" y="730.8" text-anchor="end">CV36</text><text x="633.6" y="552.3" text-anchor="end">DKFZp319L28</text><text x="648.4" y="665.4" text-anchor="end">LH</text><text x="667.5" y="770.6" text-anchor="end">OBGF30</text><text x="651.3" y="684.1" text-anchor="end">SBOUI6</text><text x="666.9" y="767.9" text-anchor="end">LOC100580404</text><text x="683.8" y="829.1" text-anchor="end">BGPAL2</text><text x="636.8" y="578.8" text-anchor="end">FLJ40315</text><text x="647.3" y="658.0" text-anchor="end">EG23</text><text x="677.3" y="809.3" text-anchor="end">LOC100748787</text><text x="627.0" y="491.5" text-anchor="end">MWVXO</text><text x="674.8" y="800.3" text-anchor="end">WHSU24</text><text x="635.4" y="567.7" text-anchor="end">FWP11T</text><text x="637.0" y="580.5" text-anchor="end">CBFG34</text><text x="671.6" y="787.9" text-anchor="end">US3</text><text x="654.5" y="703.6" text-anchor="end">XGS28</text><text x="657.0" y="718.0" text-anchor="end">C18orf94</text><text x="652.2" y="689.6" text-anchor="end">ETR</text><text x="636.7" y="578.1" text-anchor="end">KTL35</text><text x="660.2" y="735.5" text-anchor="end">LKKND</text><text x="642.9" y="627.0" text-anchor="end">VG14</text><text x="643.4" y="630.1" text-anchor="end">VFB23</text><text x="621.0" y="430.7" text-anchor="end">NM</text><text x="630.2" y="521.9" text-anchor="end">HS10</text><text x="643.9" y="634.3" text-anchor="end">VWZ20</text><text x="647.3" y="657.7" text-anchor="end">UFL22</text><text x="648.9" y="668.5" text-anchor="end">ZNF432</text><text x="639.4" y="600.4" text-anchor="end">BSIDZ16</text><text x="628.1" y="501.7" text-anchor="end">C21orf36</text><text x="637.7" y="586.2" text-anchor="end">UDT28</text><text x="660.5" y="737.0" text-anchor="end">C1orf172</text><text x="673.7" y="796.2" text-anchor="end">LOC100135233</text><text x="633.4" y="550.6" text-anchor="end">HAER6</text><text x="624.7" y="469.0" text-anchor="end">XUTV5N</text><text x="630.8" y="527.4" text-anchor="end">BBK27</text><text x="637.8" y="586.9" text-anchor="end">IFNCN12</text><text x="679.9" y="817.6" text-anchor="end">GIRU</text><text x="635.9" y="572.0" text-anchor="end">BVRK2</text><text x="645.3" y="644.3" text-anchor="end">DIO</text><text x="640.7" y="610.1" text-anchor="end">GCHW13N</text><text x="684.3" y="830.7" text-anchor="end">EPZOL</text><text x="633.2" y="548.7" text-anchor="end">WBF29</text><text x="675.2" y="801.6" text-anchor="end">SM3</text><text x="653.5" y="697.9" text-anchor="end">KIAA1553</text><text x="684.2" y="830.2" text-anchor="end">LOC100203943</text><text x="651.5" y="685.6" text-anchor="end">OXLPE11</text><text x="637.7" y="586.6" text-anchor="end">OF</text><text x="657.9" y="722.9" text-anchor="end">C17orf114</text><text x="666.9" y="768.2" text-anchor="end">ZNF742</text><text x="669.2" y="778.0" text-anchor="end">FO3</text><text x="669.4" y="779.2" text-anchor="end">ZNF838</text><text x="646.3" y="651.0" text-anchor="end">HIHGD</text><text x="657.5" y="721.0" text-anchor="end">KIAA1686</text><text x="649.2" y="670.3" text-anchor="end">SI32</text><text x="660.8" y="738.5" text-anchor="end">WVBA18</text><text x="626.1" y="483.2" text-anchor="end">TVM38W</text><text x="654.8" y="705.7" text-anchor="end">UD4</text><text x="686.0" y="834.9" text-anchor="end">C16orf134</text><text x="646.2" y="650.2" text-anchor="end">FLJ20570</text><text x="651.2" y="683.5" text-anchor="end">WLFIF34</text><text x="651.4" y="685.0" text-anchor="end">FNF14</text><text x="671.9" y="789.3" text-anchor="end">SNORD71</text><text x="650.8" y="681.2" text-anchor="end">HCP</text><text x="659.6" y="732.3" text-anchor="end">LOC100288264</text><text x="632.7" y="543.8" text-anchor="end">KRL</text><text x="683.6" y="828.5" text-anchor="end">CA3</text><text x="646.9" y="655.2" text-anchor="end">ICN</text><text x="643.4" y="630.4" text-anchor="end">ZCSI15E</text><text x="640.1" y="605.8" text-anchor="end">AR9</text><text x="676.7" y="807.0" text-anchor="end">RVK19</text><text x="646.0" y="649.2" text-anchor="end">WSM</text><text x="645.2" y="643.6" text-anchor="end">KIAA1828</text><text x="665.6" y="762.1" text-anchor="end">C18orf117</text><text x="680.7" y="820.1" text-anchor="end">EVVDK</text><text x="635.4" y="567.7" text-anchor="end">C6orf32</text><text x="672.3" y="790.6" text-anchor="end">RP</text><text x="667.4" y="770.5" text-anchor="end">ZPAT24</text><text x="665.0" y="759.5" text-anchor="end">AE14</text><text x="630.0" y="520.3" text-anchor="end">GMC</text><text x="657.5" y="721.0" text-anchor="end">FSWLD18</text><text x="664.3" y="755.9" text-anchor="end">SR14</text><text x="637.7" y="586.7" text-anchor="end">NEA36A</text><text x="674.9" y="800.8" text-anchor="end">SISM19B</text><text x="652.7" y="692.7" text-anchor="end">C19orf79</text><text x="637.0" y="581.0" text-anchor="end">C13orf154</text><text x="634.1" y="556.3" text-anchor="end">OZEMR11</text><text x="639.0" y="596.5" text-anchor="end">DKFZp611Z97</text><text x="649.5" y="672.3" text-anchor="end">C12orf118</text><text x="638.0" y="588.5" text-anchor="end">LP13</text><text x="643.1" y="628.1" text-anchor="end">AA10O</text><text x="669.5" y="779.6" text-anchor="end">LL6</text><text x="621.1" y="431.8" text-anchor="end">ULOF19A</text><text x="672.5" y="791.7" text-anchor="end">FT</text><text x="641.3" y="614.7" text-anchor="end">BAV</text><text x="625.2" y="474.2" text-anchor="end">DFP8R</text><text x="647.2" y="657.5" text-anchor="end">LT27</text><text x="655.6" y="709.8" text-anchor="end">HXMU23P</text><text x="633.6" y="551.7" text-anchor="end">EER16</text><text x="638.5" y="592.9" text-anchor="end">IXKA38</text><text x="681.5" y="822.4" text-anchor="end">FAEIK</text><text x="647.7" y="660.7" text-anchor="end">IINV14I</text><text x="625.2" y="473.5" text-anchor="end">LWKTC21</text><text x="634.8" y="562.1" text-anchor="end">FLJ29256</text><text x="653.7" y="699.1" text-anchor="end">KZ14</text><text x="658.3" y="725.0" text-anchor="end">ON28</text><text x="635.7" y="569.7" text-anchor="end">XUCKB34B</text><text x="632.1" y="538.5" text-anchor="end">UVDR15</text><text x="638.0" y="588.8" text-anchor="end">VCLZT22</text><text x="669.4" y="779.0" text-anchor="end">C11orf101</text><text x="663.3" y="751.2" text-anchor="end">C12orf11</text><text x="648.4" y="665.0" text-anchor="end">DKFZp687A94</text><text x="654.8" y="705.3" text-anchor="end">WI</text><text x="665.7" y="762.6" text-anchor="end">AF11T</text><text x="644.8" y="640.4" text-anchor="end">FLJ32993</text><text x="659.8" y="733.2" text-anchor="end">LTBX</text><text x="659.0" y="729.1" text-anchor="end">TLUNV25</text><text x="631.2" y="530.7" text-anchor="end">MWOZT</text><text x="660.5" y="736.9" text-anchor="end">NTRSH23</text><text x="642.0" y="619.8" text-anchor="end">DKFZp709N24</text><text x="640.0" y="604.8" text-anchor="end">KIAA1628</text><text x="635.7" y="569.9" text-anchor="end">EP31</text><text x="661.9" y="744.2" text-anchor="end">TOIFL19</text><text x="640.1" y="605.8" text-anchor="end">C7orf134</text><text x="626.4" y="486.1" text-anchor="end">BIOGE35</text><text x="675.8" y="803.9" text-anchor="end">ZNF350</text><text x="673.5" y="795.6" text-anchor="end">PSDA</text><text x="622.6" y="447.3" text-anchor="end">FLJ29771</text><text x="642.9" y="626.7" text-anchor="end">LOC100832852</text><text x="662.6" y="747.9" text-anchor="end">IOXCM12</text><text x="652.2" y="690.0" text-anchor="end">FFW</text><text x="672.9" y="793.2" text-anchor="end">VATZ</text><text x="640.9" y="611.5" text-anchor="end">FLJ28350</text><text x="678.8" y="814.1" text-anchor="end">WSH32</text><text x="669.4" y="779.0" text-anchor="end">TFDMB</text><text x="674.1" y="797.6" text-anchor="end">LOC100067083</text><text x="640.7" y="610.4" text-anchor="end">KIAA1632</text><text x="637.7" y="586.3" text-anchor="end">EX34</text><text x="651.0" y="682.3" text-anchor="end">ZNIUKF</text><text x="631.4" y="532.8" text-anchor="end">EU8</text><text x="635.7" y="570.2" text-anchor="end">UH17</text><text x="628.5" y="506.0" text-anchor="end">BS14</text><text x="664.5" y="756.9" text-anchor="end">PBAIE36T</text><text x="644.3" y="636.7" text-anchor="end">C14orf132</text><text x="663.5" y="752.1" text-anchor="end">DW17</text><text x="633.5" y="551.4" text-anchor="end">C10orf86</text><text x="670.3" y="782.8" text-anchor="end">ZNF303</text><text x="649.6" y="673.3" text-anchor="end">HOIM28</text><text x="653.0" y="694.7" text-anchor="end">KIAA1433</text><text x="680.3" y="818.8" text-anchor="end">CBCEGG</text><text x="623.0" y="451.6" text-anchor="end">TX22</text><text x="649.4" y="671.8" text-anchor="end">ZV10</text><text x="643.2" y="629.0" text-anchor="end">TSVAS1V</text><text x="626.6" y="487.3" text-anchor="end">PR</text><text x="671.3" y="786.7" text-anchor="end">PL</text><text x="666.1" y="764.2" text-anchor="end">C6orf165</text><text x="663.2" y="750.6" text-anchor="end">PXOOK5P</text><text x="663.3" y="751.3" text-anchor="end">TNMEHH</text><text x="631.1" y="529.6" text-anchor="end">OORZ10</text><text x="670.3" y="782.8" text-anchor="end">NHD39</text><text x="663.4" y="751.6" text-anchor="end">FOM11</text><text x="644.5" y="638.6" text-anchor="end">ZNF727</text><text x="645.3" y="644.2" text-anchor="end">OWPZO5G</text><text x="654.0" y="700.7" text-anchor="end">DDHEF6</text><text x="661.0" y="739.4" text-anchor="end">UNZZ1A</text><text x="655.4" y="708.8" text-anchor="end">RBANF7</text><text x="662.5" y="747.2" text-anchor="end">USIFN</text><text x="647.3" y="657.8" text-anchor="end">XR</text><text x="665.6" y="762.2" text-anchor="end">DCABS</text><text x="651.1" y="683.0" text-anchor="end">ZV</text><text x="668.7" y="776.0" text-anchor="end">LOC100356183</text><text x="649.2" y="670.3" text-anchor="end">HR26</text><text x="637.7" y="586.7" text-anchor="end">LG36</text><text x="631.4" y="533.1" text-anchor="end">IXM35</text><text x="636.6" y="577.5" text-anchor="end">LOC100735194</text><text x="675.9" y="804.4" text-anchor="end">RMGX27</text><text x="657.9" y="723.3" text-anchor="end">CA39</text><text x="665.9" y="763.5" text-anchor="end">FLJ41599</text><text x="647.0" y="655.9" text-anchor="end">GL32</text><text x="657.0" y="717.9" text-anchor="end">WSMX</text><text x="640.5" y="608.9" text-anchor="end">NWAA29</text><text x="676.3" y="805.5" text-anchor="end">SV28</text><text x="669.1" y="777.6" text-anchor="end">WEUF</text><text x="662.7" y="748.4" text-anchor="end">MRA33</text><text x="623.9" y="460.7" text-anchor="end">DKRXXK</text><text x="640.5" y="608.8" text-anchor="end">SNBAM15</text><text x="664.1" y="755.0" text-anchor="end">LOC100570149</text><text x="684.8" y="831.9" text-anchor="end">OTKRK20</text><text x="657.2" y="719.4" text-anchor="end">ZNF637</text><text x="640.9" y="611.7" text-anchor="end">VXSV35</text><text x="658.6" y="727.1" text-anchor="end">GRGN5</text><text x="640.1" y="605.4" text-anchor="end">TRF36</text><text x="652.6" y="692.4" text-anchor="end">ZNF568</text><text x="663.8" y="753.4" text-anchor="end">ZGTR</text><text x="634.5" y="560.0" text-anchor="end">DOZ7T</text><text x="641.5" y="616.4" text-anchor="end">GESKX12S</text><text x="669.5" y="779.3" text-anchor="end">HSZP15</text><text x="646.3" y="650.9" text-anchor="end">VPAG</text><text x="649.2" y="670.5" text-anchor="end">ELBPK12</text><text x="635.0" y="563.9" text-anchor="end">RI8</text><text x="663.9" y="753.9" text-anchor="end">KZAE21</text><text x="651.7" y="686.3" text-anchor="end">CHRIW11</text><text x="639.0" y="597.0" text-anchor="end">FTIKS</text><text x="673.4" y="795.1" text-anchor="end">DPGD36M</text><text x="623.6" y="457.7" text-anchor="end">SM22</text><text x="657.3" y="720.0" text-anchor="end">LOC100551020</text><text x="631.1" y="529.6" text-anchor="end">BS23</text><text x="684.7" y="831.7" text-anchor="end">SNORD51</text><text x="647.0" y="655.5" text-anchor="end">WCWH</text><text x="658.4" y="725.7" text-anchor="end">KIAA1759</text><text x="638.7" y="594.4" text-anchor="end">KIAA1022</text><text x="650.2" y="677.1" text-anchor="end">LO2</text><text x="635.4" y="567.3" text-anchor="end">C14orf14</text><text x="662.1" y="745.0" text-anchor="end">HDDRP10</text><text x="642.7" y="625.4" text-anchor="end">C6orf32</text><text x="631.3" y="531.9" text-anchor="end">EWS26</text><text x="656.6" y="715.6" text-anchor="end">EOBO25</text><text x="660.7" y="737.9" text-anchor="end">WXNOC16</text><text x="635.8" y="570.9" text-anchor="end">TZK14</text><text x="663.4" y="751.5" text-anchor="end">LZS</text><text x="640.9" y="611.8" text-anchor="end">GHZER28</text><text x="648.7" y="667.4" text-anchor="end">KIAA1120</text><text x="669.5" y="779.3" text-anchor="end">GC4</text><text x="679.8" y="817.3" text-anchor="end">C15orf186</text><text x="668.6" y="775.7" text-anchor="end">INV10</text><text x="657.1" y="718.9" text-anchor="end">TK</text><text x="657.0" y="717.9" text-anchor="end">UVI</text><text x="651.2" y="683.6" text-anchor="end">KIAA1232</text><text x="681.5" y="822.5" text-anchor="end">NHK15D</text><text x="680.5" y="819.5" text-anchor="end">DZW</text><text x="679.5" y="816.3" text-anchor="end">XOZ2W</text><text x="643.3" y="629.8" text-anchor="end">FLJ13737</text><text x="677.2" y="808.7" text-anchor="end">C12orf133</text><text x="655.0" y="706.5" text-anchor="end">BH9</text><text x="662.6" y="747.8" text-anchor="end">GG20</text><text x="679.1" y="815.0" text-anchor="end">DD25</text><text x="650.7" y="680.5" text-anchor="end">MON14</text><text x="642.9" y="626.7" text-anchor="end">MDCZW5</text><text x="660.2" y="735.4" text-anchor="end">GMIX14X</text><text x="634.8" y="562.6" text-anchor="end">ZNF448</text><text x="634.9" y="563.0" text-anchor="end">SNORD114</text><text x="640.6" y="609.6" text-anchor="end">RLB27W</text><text x="672.2" y="790.6" text-anchor="end">LOVIE5</text><text x="653.7" y="699.0" text-anchor="end">LOC100812309</text><text x="655.4" y="708.8" text-anchor="end">HEBG4</text><text x="634.9" y="563.3" text-anchor="end">SBZZ8T</text><text x="640.1" y="605.4" text-anchor="end">LA24</text><text x="635.2" y="565.4" text-anchor="end">RTXII14</text><text x="670.6" y="783.8" text-anchor="end">PRNM31D</text><text x="663.8" y="753.6" text-anchor="end">KIAA1281</text><text x="674.3" y="798.4" text-anchor="end">LOC100118619</text><text x="654.2" y="701.9" text-anchor="end">EZVGP9</text><text x="623.5" y="456.5" text-anchor="end">LOC100923367</text><text x="654.8" y="705.5" text-anchor="end">TTE16</text><text x="679.5" y="816.2" text-anchor="end">LOC100802459</text><text x="642.7" y="625.5" text-anchor="end">PUKNW13</text><text x="664.4" y="756.6" text-anchor="end">GWMAL8</text><text x="637.7" y="586.3" text-anchor="end">AFGPF4</text><text x="632.6" y="543.5" text-anchor="end">NSOO37</text><text x="647.8" y="661.4" text-anchor="end">DLIUC29</text><text x="654.8" y="705.3" text-anchor="end">APK</text><text x="659.0" y="728.9" text-anchor="end">RODO</text><text x="652.7" y="693.0" text-anchor="end">C18orf157</text><text x="639.6" y="601.4" text-anchor="end">CHAG11</text><text x="655.3" y="708.2" text-anchor="end">ZX29</text><text x="653.6" y="698.5" text-anchor="end">ZPN9</text><text x="639.9" y="604.2" text-anchor="end">KIAA1666</text><text x="649.3" y="671.1" text-anchor="end">C3orf193</text><text x="633.7" y="552.9" text-anchor="end">CXI</text><text x="629.3" y="513.7" text-anchor="end">BTBN</text><text x="672.8" y="792.9" text-anchor="end">CE20</text><text x="677.1" y="808.3" text-anchor="end">KIAA1951</text><text x="640.7" y="609.8" text-anchor="end">LOC100836802</text><text x="631.1" y="530.4" text-anchor="end">C14orf51</text><text x="660.4" y="736.4" text-anchor="end">UFNFX37</text><text x="641.8" y="618.6" text-anchor="end">C16orf134</text><text x="640.5" y="608.3" text-anchor="end">XMS16</text><text x="654.2" y="701.9" text-anchor="end">GLEUZ</text><text x="646.8" y="654.4" text-anchor="end">DKFZp998M32</text><text x="663.7" y="752.9" text-anchor="end">TDGA26</text><text x="644.5" y="638.7" text-anchor="end">BBICH27</text><text x="652.1" y="689.0" text-anchor="end">BBCB25</text><text x="635.0" y="563.7" text-anchor="end">ID37</text><text x="675.8" y="803.9" text-anchor="end">RDNS32</text><text x="646.2" y="650.4" text-anchor="end">LOC100360328</text><text x="628.6" y="506.9" text-anchor="end">ZZU</text><text x="655.9" y="711.7" text-anchor="end">DB31</text><text x="658.7" y="727.6" text-anchor="end">TBBD</text><text x="633.9" y="554.5" text-anchor="end">RIEXG28</text><text x="630.2" y="521.3" text-anchor="end">FLJ11920</text><text x="630.3" y="523.0" text-anchor="end">ZNF109</text><text x="631.8" y="536.6" text-anchor="end">ZNF411</text><text x="679.2" y="815.4" text-anchor="end">C2orf51</text><text x="682.5" y="825.4" text-anchor="end">C21orf102</text><text x="631.2" y="530.8" text-anchor="end">LOC100899162</text><text x="675.3" y="802.1" text-anchor="end">PLMP19I</text><text x="661.1" y="740.2" text-anchor="end">WXRTO31</text><text x="634.0" y="555.3" text-anchor="end">BH</text><text x="640.7" y="609.8" text-anchor="end">XEE27</text><text x="679.4" y="816.2" text-anchor="end">C21orf120</text><text x="647.8" y="661.2" text-anchor="end">CV22S</text><text x="626.2" y="483.6" text-anchor="end">ZGO21S</text><text x="651.0" y="682.1" text-anchor="end">FLJ39090</text><text x="645.5" y="645.2" text-anchor="end">BA34N</text><text x="646.2" y="650.5" text-anchor="end">ZNF350</text><text x="678.2" y="812.1" text-anchor="end">ZCHBH35</text><text x="642.4" y="622.7" text-anchor="end">RUZ</text><text x="661.5" y="742.4" text-anchor="end">C16orf78</text><text x="643.5" y="631.2" text-anchor="end">KIAA1141</text><text x="678.6" y="813.3" text-anchor="end">KIAA1779</text><text x="639.7" y="602.4" text-anchor="end">LOC100538748</text><text x="633.5" y="551.1" text-anchor="end">RC36</text><text x="666.1" y="764.5" text-anchor="end">C21orf80</text><text x="645.3" y="643.9" text-anchor="end">WNLDE</text><text x="631.4" y="532.7" text-anchor="end">LHER36</text><text x="631.2" y="530.8" text-anchor="end">NV3R</text><text x="635.1" y="565.2" text-anchor="end">PUISI10</text><text x="625.3" y="474.9" text-anchor="end">KXG</text><text x="674.6" y="799.5" text-anchor="end">C13orf104</text><text x="650.7" y="680.1" text-anchor="end">HCT12</text><text x="674.2" y="797.9" text-anchor="end">SP</text><text x="658.9" y="728.3" text-anchor="end">BBCEC29</text><text x="656.6" y="716.0" text-anchor="end">ZNF581</text><text x="655.3" y="708.4" text-anchor="end">ZS13</text><text x="625.9" y="481.1" text-anchor="end">MA3</text><text x="630.4" y="523.6" text-anchor="end">GF27</text><text x="671.8" y="788.7" text-anchor="end">XHP</text><text x="662.3" y="746.1" text-anchor="end">NX31</text><text x="642.9" y="626.5" text-anchor="end">LOC100260398</text><text x="639.8" y="603.0" text-anchor="end">VTB20</text><text x="632.2" y="539.5" text-anchor="end">MBXRA</text><text x="685.1" y="832.8" text-anchor="end">FLCC16</text><text x="683.7" y="829.0" text-anchor="end">NTT21</text><text x="662.5" y="747.2" text-anchor="end">NLF</text><text x="671.2" y="786.3" text-anchor="end">C5orf64</text><text x="648.8" y="667.7" text-anchor="end">CDM26</text><text x="667.7" y="771.5" text-anchor="end">DNRBH</text><text x="654.7" y="704.8" text-anchor="end">XBNO29F</text><text x="638.7" y="594.4" text-anchor="end">EGWH33</text><text x="633.5" y="551.1" text-anchor="end">DL6</text><text x="639.0" y="596.8" text-anchor="end">KGSG</text><text x="622.4" y="445.6" text-anchor="end">OG2</text><text x="647.8" y="661.1" text-anchor="end">RI</text><text x="657.7" y="721.8" text-anchor="end">LOC100892014</text><text x="640.1" y="605.8" text-anchor="end">TVBSW1</text><text x="680.7" y="820.0" text-anchor="end">ZNF467</text><text x="675.7" y="803.4" text-anchor="end">SNORD67</text><text x="638.0" y="588.5" text-anchor="end">LOC100938214</text><text x="626.7" y="488.2" text-anchor="end">NHLHB15</text><text x="633.2" y="548.5" text-anchor="end">TE26E</text><text x="628.2" y="503.3" text-anchor="end">IKEC35</text><text x="622.5" y="445.8" text-anchor="end">TG2</text><text x="650.6" y="679.7" text-anchor="end">AW11</text><text x="640.7" y="609.9" text-anchor="end">LOC100037581</text><text x="640.3" y="607.4" text-anchor="end">IXCO16</text><text x="684.0" y="829.8" text-anchor="end">DCCUL2</text><text x="653.2" y="696.1" text-anchor="end">TRNUD</text><text x="646.2" y="650.5" text-anchor="end">LOC100040343</text><text x="651.2" y="683.4" text-anchor="end">AP16O</text><text x="633.5" y="551.6" text-anchor="end">SO16</text><text x="625.5" y="477.2" text-anchor="end">MOI</text><text x="644.5" y="638.4" text-anchor="end">THEC5T</text><text x="649.6" y="673.2" text-anchor="end">CUCAW8K</text><text x="679.9" y="817.8" text-anchor="end">FLJ43772</text><text x="664.5" y="757.1" text-anchor="end">ZPLXW</text><text x="652.2" y="689.6" text-anchor="end">LOC100533239</text><text x="652.6" y="692.2" text-anchor="end">OGW6O</text><text x="642.0" y="619.7" text-anchor="end">SZUIC19</text><text x="665.4" y="761.4" text-anchor="end">HA</text><text x="675.9" y="804.3" text-anchor="end">KIAA1805</text><text x="645.7" y="646.5" text-anchor="end">XKZX2V</text><text x="681.7" y="823.2" text-anchor="end">ZAARB9</text><text x="645.4" y="644.7" text-anchor="end">HPWE28</text><text x="632.5" y="542.9" text-anchor="end">WKTA32</text><text x="645.6" y="645.9" text-anchor="end">LN13</text><text x="650.8" y="680.6" text-anchor="end">URVX15</text><text x="665.7" y="762.7" text-anchor="end">RO28</text><text x="682.8" y="826.3" text-anchor="end">MBRK4</text><text x="633.5" y="551.5" text-anchor="end">KIAA1100</text><text x="626.9" y="491.0" text-anchor="end">CUGEC32</text><text x="667.5" y="770.7" text-anchor="end">ME</text><text x="658.9" y="728.4" text-anchor="end">C3orf88</text><text x="653.5" y="697.5" text-anchor="end">SNORD110</text><text x="659.9" y="733.9" text-anchor="end">MDVS5V</text><text x="677.6" y="810.3" text-anchor="end">VEDZW39G</text><text x="642.9" y="626.7" text-anchor="end">VXKT16</text><text x="684.6" y="831.4" text-anchor="end">ZNF660</text><text x="636.1" y="573.6" text-anchor="end">GA14</text><text x="657.0" y="718.3" text-anchor="end">EA23</text></g><g class="labn" transform="scale(1.1 1)"><text x="936.5" y="199.6">DLK2</text><text x="831.9" y="206.0">TGFB1</text><text x="831.3" y="215.0">TMEM91</text><text x="827.7" y="260.0">HTRA1</text><text x="826.9" y="275.0">LOC100130776</text><text x="826.9" y="275.0">HTR6</text><text x="826.3" y="281.9">C8orf58</text><text x="825.7" y="290.3">TMEM44</text><text x="824.5" y="304.9">IL27RA</text><text x="824.0" y="311.8">TMEM121</text><text x="823.0" y="324.3">ADORA2A</text><text x="822.6" y="329.4">ITGA5</text><text x="822.1" y="334.6">LOXL2</text><text x="821.7" y="339.8">STC2</text><text x="821.3" y="345.0">ADAM11</text><text x="820.9" y="350.1">SYDE1</text><text x="820.4" y="355.3">FHL3</text><text x="820.0" y="360.5">MGC12982</text><text x="819.5" y="365.7">HOXD11</text><text x="819.1" y="370.8">KCTD15</text><text x="818.7" y="376.0">NRM</text><text x="817.0" y="395.2">SHC1</text><text x="816.8" y="397.1">FOXD2</text><text x="816.6" y="399.0">PDLIM2</text><text x="816.5" y="400.9">NOL3</text><text x="816.3" y="402.9">HLX</text><text x="816.1" y="404.8">IFITM1</text><text x="815.9" y="406.7">C1QTNF6</text><text x="815.8" y="408.6">LOC541471</text><text x="815.6" y="410.5">SMOX</text><text x="815.4" y="412.4">COL5A3</text><text x="815.2" y="414.4">NOG</text><text x="815.1" y="416.3">HOXD10</text><text x="814.9" y="418.2">TNFRSF4</text><text x="814.7" y="420.1">SERPINH1</text><text x="814.5" y="422.0">PTP4A3</text><text x="814.4" y="423.9">SAMD14</text><text x="814.2" y="425.9">PMEPA1</text><text x="814.0" y="427.8">SLC2A3</text><text x="813.8" y="429.7">PLSCR3</text><text x="813.6" y="431.6">NRGN</text><text x="813.5" y="433.5">RPS8</text><text x="813.3" y="435.4">AG2</text><text x="813.1" y="437.4">COL6A2</text><text x="812.9" y="439.3">VIM</text><text x="812.7" y="441.2">HTRA3</text><text x="812.6" y="443.1">CD248</text><text x="812.4" y="445.0">FKBP10</text><text x="812.2" y="446.9">PHLDB3</text><text x="812.0" y="448.9">PRR24</text><text x="606.9" y="297.2" text-anchor="end">BCKDHB</text><text x="611.1" y="349.2" text-anchor="end">PLEKHB2</text><text x="611.7" y="356.6" text-anchor="end">GUF1</text><text x="615.7" y="402.1" text-anchor="end">ADAL</text><text x="616.4" y="410.7" text-anchor="end">ELMOD2</text><text x="617.7" y="424.5" text-anchor="end">DLD</text><text x="618.9" y="437.2" text-anchor="end">ZDHHC23</text><text x="619.1" y="439.4" text-anchor="end">MYO5B</text><text x="619.3" y="441.7" text-anchor="end">SLC30A9</text><text x="619.5" y="444.0" text-anchor="end">MARVELD2</text><text x="619.8" y="446.3" text-anchor="end">PAFAH2</text><text x="620.0" y="448.5" text-anchor="end">GRSF1</text><text x="620.2" y="450.8" text-anchor="end">IVD</text><text x="620.4" y="453.1" text-anchor="end">SDHC</text><text x="620.6" y="455.3" text-anchor="end">TMEM192</text><text x="620.9" y="457.6" text-anchor="end">STRBP</text><text x="621.1" y="459.9" text-anchor="end">KIAA0232</text><text x="621.3" y="462.2" text-anchor="end">MSI2</text><text x="621.5" y="464.4" text-anchor="end">PHKB</text><text x="621.8" y="466.7" text-anchor="end">HADH</text><text x="622.0" y="469.0" text-anchor="end">MPP7</text><text x="622.2" y="471.3" text-anchor="end">AGL</text><text x="622.4" y="473.5" text-anchor="end">OGDHL</text><text x="622.7" y="475.8" text-anchor="end">CDS1</text><text x="622.9" y="478.1" text-anchor="end">FECH</text><text x="623.1" y="480.4" text-anchor="end">PTPLAD1</text><text x="623.4" y="482.6" text-anchor="end">NNT</text><text x="623.6" y="484.9" text-anchor="end">PIK3IP1</text><text x="623.8" y="487.2" text-anchor="end">RBM47</text><text x="624.1" y="489.5" text-anchor="end">AIF1L</text><text x="624.3" y="491.7" text-anchor="end">PPIP5K1</text><text x="624.5" y="494.0" text-anchor="end">SLC31A1</text><text x="624.8" y="496.3" text-anchor="end">DIRC2</text><text x="625.0" y="498.5" text-anchor="end">LRBA</text><text x="625.2" y="500.8" text-anchor="end">LRRC57</text><text x="625.5" y="503.1" text-anchor="end">COX18</text><text x="625.7" y="505.4" text-anchor="end">ZNF385B</text><text x="626.0" y="507.6" text-anchor="end">PFKFB2</text><text x="626.2" y="509.9" text-anchor="end">ACAD8</text><text x="626.4" y="512.2" text-anchor="end">CHP</text><text x="626.7" y="514.5" text-anchor="end">ACBD5</text><text x="626.9" y="516.7" text-anchor="end">NMNAT1</text><text x="627.2" y="519.0" text-anchor="end">TAB3</text><text x="627.4" y="521.3" text-anchor="end">DNAJC28</text><text x="627.7" y="523.6" text-anchor="end">PTER</text><text x="627.9" y="525.8" text-anchor="end">CBR4</text><text x="628.2" y="528.1" text-anchor="end">GPC4</text><text x="628.4" y="530.4" text-anchor="end">MCCC2</text><text x="628.7" y="532.7" text-anchor="end">GPD1L</text><text x="628.9" y="534.9" text-anchor="end">FLRT3</text></g><polyline points="766.2,843.4 767.3,845.8 768.4,848.0 769.5,850.2 770.7,852.2 771.8,854.2 772.9,856.1 774.0,857.9 775.2,859.6 776.3,861.2 777.4,862.7 778.5,864.1 779.7,865.5 780.8,866.7 781.9,867.9 783.0,869.0 784.2,870.1 785.3,871.0 786.4,871.9 787.5,872.7 788.7,872.7 789.8,871.9 790.9,871.0 792.0,870.1 793.2,869.0 794.3,867.9 795.4,866.7 796.5,865.5 797.7,864.1 798.8,862.7 799.9,861.2 801.0,859.6 802.2,857.9 803.3,856.1 804.4,854.2 805.5,852.2 806.7,850.2 807.8,848.0 808.9,845.8 810.0,843.4" fill="none" stroke="#000" stroke-width="7.4" stroke-linejoin="round" stroke-linecap="round"/><polyline points="767.1,845.3 765.0,840.9 763.1,836.5 761.3,832.2 759.6,827.8 758.0,823.4 756.4,819.0 755.0,814.6 753.5,810.3 752.2,805.9 750.8,801.5 749.6,797.1 748.3,792.7 747.1,788.4 745.9,784.0 744.8,779.6 743.7,775.2 742.6,770.8 741.6,766.5 740.5,762.1 739.5,757.7 738.5,753.3 737.5,748.9 736.6,744.6 735.7,740.2 734.7,735.8 733.8,731.4 732.9,727.0 732.1,722.7 731.2,718.3 730.4,713.9 729.5,709.5 728.7,705.1 727.9,700.8 727.1,696.4 726.3,692.0 725.6,687.6 724.8,683.2 724.1,678.9 723.3,674.5 722.6,670.1 721.9,665.7 721.2,661.3 720.5,657.0 719.8,652.6 719.1,648.2 718.4,643.8 717.7,639.4 717.0,635.1 716.4,630.7 715.7,626.3 715.1,621.9 714.5,617.5 713.8,613.2 713.2,608.8 712.6,604.4 712.0,600.0 711.4,595.6 710.8,591.3 710.2,586.9 709.6,582.5 709.0,578.1 708.4,573.7 707.8,569.4 707.3,565.0 706.7,560.6 706.1,556.2 705.6,551.8 705.0,547.5 704.5,543.1 704.0,538.7 703.4,534.3 702.9,529.9 702.4,525.6 701.8,521.2 701.3,516.8 700.8,512.4 700.3,508.0 699.8,503.7 699.3,499.3" fill="none" stroke="#006400" stroke-width="7.4" stroke-linecap="round"/><polyline points="699.9,505.0 699.5,501.0 699.0,496.9 698.5,492.9 698.1,488.8 697.6,484.8 697.2,480.8 696.7,476.7 696.3,472.7 695.8,468.6" fill="none" stroke="#006400" stroke-width="7.4" stroke-linecap="round"/><polyline points="695.2,462.9 694.9,460.1 694.6,457.4 694.3,454.6 694.1,451.9 693.8,449.2 693.5,446.4 693.2,443.7" fill="none" stroke="#006400" stroke-width="7.4" stroke-linecap="round"/><polyline points="809.1,845.3 811.5,840.3 813.7,835.2 815.7,830.2 817.6,825.2 819.4,820.2 821.1,815.1 822.7,810.1 824.3,805.1 825.8,800.0 827.2,795.0 828.6,790.0 830.0,785.0 831.3,779.9 832.6,774.9 833.8,769.9 835.0,764.8 836.2,759.8 837.4,754.8 838.5,749.7 839.6,744.7 840.7,739.7 841.7,734.7 842.7,729.6 843.7,724.6 844.7,719.6 845.7,714.5 846.7,709.5 847.6,704.5 848.5,699.4 849.4,694.4 850.3,689.4 851.2,684.4 852.1,679.3 852.9,674.3 853.7,669.3 854.6,664.2 855.4,659.2 856.2,654.2 857.0,649.2 857.8,644.1 858.5,639.1 859.3,634.1 860.1,629.0 860.8,624.0 861.5,619.0 862.3,613.9 863.0,608.9 863.7,603.9 864.4,598.9 865.1,593.8 865.8,588.8 866.5,583.8 867.1,578.7 867.8,573.7 868.5,568.7 869.1,563.7 869.8,558.6 870.4,553.6 871.0,548.6 871.7,543.5 872.3,538.5 872.9,533.5 873.5,528.4 874.1,523.4 874.7,518.4 875.3,513.4 875.9,508.3 876.5,503.3 877.0,498.3 877.6,493.2 878.2,488.2 878.7,483.2 879.3,478.2 879.9,473.1 880.4,468.1 881.0,463.1 881.5,458.0 882.0,453.0 882.6,448.0 883.1,442.9 883.6,437.9 884.1,432.9 884.7,427.9 885.2,422.8 885.7,417.8 886.2,412.8 886.7,407.7 887.2,402.7 887.7,397.7" fill="none" stroke="#ff0000" stroke-width="7.4" stroke-linecap="round"/><polyline points="888.4,390.0 888.6,387.7 888.9,385.4 889.1,383.1 889.3,380.8 889.5,378.5" fill="none" stroke="#ff0000" stroke-width="7.4" stroke-linecap="round"/><polyline points="890.1,372.8 890.4,369.7 890.6,366.6 890.9,363.6 891.2,360.5 891.5,357.4" fill="none" stroke="#ff0000" stroke-width="7.4" stroke-linecap="round"/><polyline points="892.4,347.8 892.7,344.8 892.9,341.8 893.2,338.8 893.5,335.8 893.8,332.8 894.0,329.8 894.3,326.8" fill="none" stroke="#ff0000" stroke-width="7.4" stroke-linecap="round"/><circle cx="904.1" cy="208.5" r="3.8" fill="#f00"/><circle cx="903.5" cy="217.5" r="3.8" fill="#f00"/><circle cx="899.8" cy="262.5" r="3.8" fill="#f00"/><circle cx="898.5" cy="277.5" r="3.8" fill="#f00"/><circle cx="898.0" cy="284.4" r="3.8" fill="#f00"/><circle cx="897.2" cy="292.8" r="3.8" fill="#f00"/><circle cx="896.0" cy="307.4" r="3.8" fill="#f00"/><circle cx="895.4" cy="314.3" r="3.8" fill="#f00"/><circle cx="1019.1" cy="202.1" r="3.8" fill="#f00"/><circle cx="679.6" cy="299.9" r="3.8" fill="#006400"/><circle cx="684.2" cy="351.9" r="3.8" fill="#006400"/><circle cx="684.9" cy="359.3" r="3.8" fill="#006400"/><circle cx="689.2" cy="404.8" r="3.8" fill="#006400"/><circle cx="690.1" cy="413.4" r="3.8" fill="#006400"/><circle cx="691.5" cy="427.2" r="3.8" fill="#006400"/><rect x="417" y="176" width="865" height="724" fill="none" stroke="#444" stroke-width="2.6"/><g stroke="#444" stroke-width="2.6"><line x1="392.5" y1="873.1" x2="417" y2="873.1"/><line x1="392.5" y1="777.2" x2="417" y2="777.2"/><line x1="392.5" y1="681.4" x2="417" y2="681.4"/><line x1="392.5" y1="585.5" x2="417" y2="585.5"/><line x1="392.5" y1="489.7" x2="417" y2="489.7"/><line x1="392.5" y1="393.8" x2="417" y2="393.8"/><line x1="392.5" y1="298.0" x2="417" y2="298.0"/><line x1="392.5" y1="202.1" x2="417" y2="202.1"/><line x1="441.6" y1="900" x2="441.6" y2="924.5"/><line x1="557.1" y1="900" x2="557.1" y2="924.5"/><line x1="672.6" y1="900" x2="672.6" y2="924.5"/><line x1="788.1" y1="900" x2="788.1" y2="924.5"/><line x1="903.6" y1="900" x2="903.6" y2="924.5"/><line x1="1019.1" y1="900" x2="1019.1" y2="924.5"/><line x1="1134.6" y1="900" x2="1134.6" y2="924.5"/><line x1="1250.1" y1="900" x2="1250.1" y2="924.5"/></g><g class="tk"><text transform="translate(363 873.1) rotate(-90)" text-anchor="middle">0</text><text transform="translate(363 777.2) rotate(-90)" text-anchor="middle">5</text><text transform="translate(363 681.4) rotate(-90)" text-anchor="middle">10</text><text transform="translate(363 585.5) rotate(-90)" text-anchor="middle">15</text><text transform="translate(363 489.7) rotate(-90)" text-anchor="middle">20</text><text transform="translate(363 393.8) rotate(-90)" text-anchor="middle">25</text><text transform="translate(363 298.0) rotate(-90)" text-anchor="middle">30</text><text transform="translate(363 202.1) rotate(-90)" text-anchor="middle">35</text><text x="441.6" y="984" text-anchor="middle">-1.5</text><text x="557.1" y="984" text-anchor="middle">-1.0</text><text x="672.6" y="984" text-anchor="middle">-0.5</text><text x="788.1" y="984" text-anchor="middle">0.0</text><text x="903.6" y="984" text-anchor="middle">0.5</text><text x="1019.1" y="984" text-anchor="middle">1.0</text><text x="1134.6" y="984" text-anchor="middle">1.5</text><text x="1250.1" y="984" text-anchor="middle">2.0</text></g><text class="axt" transform="translate(270 538.4) rotate(-90)" text-anchor="middle">-log10(pvalue)</text><text class="axt" x="849.4" y="1074.4" text-anchor="middle">Pearson Correlation Coefficient (Pearson test)</text><text class="ttl" x="849.5" y="98.4" text-anchor="middle" textLength="546" lengthAdjust="spacingAndGlyphs">DLK2 Association Result</text></svg><div class="bar" style="left:142.5px;top:1119.4px;width:1182.0px;height:35.6px;background:linear-gradient(90deg,#ff0000 0,#ff2010 0.3%,#ff5535 1.2%,#ff7050 4%,#ff8a6c 15%,#ffa48c 27%,#ffc2b0 36%,#ffe2d8 43%,#fffaf8 48%,#f8f4ff 52%,#e8e0ff 60%,#d8c8ff 70%,#c4a8ff 80%,#a87cff 88%,#9060ff 92%,#7c4cff 96%,#5a2cff 97.2%,#4020ff 97.25%,#0000ff 97.3%,#0000ff 100%)"></div><div class="hr" style="top:1165.40px;background:linear-gradient(90deg,#ff3020 0,#ff7070 3%,#ff9898 10%,#ffb4bc 22%,#ffcad2 32%,#ffe0e6 40%,#fff6f8 47%,#f4fafd 52%,#e0f0f8 62%,#c4e6f4 72%,#a4d8ee 80%,#87ceeb 86%,#80b8ee 91%,#7aa0f0 95%,#7890f0 97.2%,#7676f2 97.3%,#7676f2 100%)"></div><div class="hr" style="top:1186.88px;background:linear-gradient(90deg,#fee,#f66,#f88,#8be,#fdd,#eff,#f99,#fee,#67e,#f9a,#fff,#f9a,#eff,#fcc,#fcd,#8ce,#fee,#fcd,#f9a,#fde,#fff,#fbb,#fcd,#fde,#fcc,#fff,#f99,#fcd,#fbc,#faa,#9ce,#7be,#fdd,#f99,#fee,#f99,#fdd,#fbb,#fcd,#fcd,#fee,#fcd,#fcc,#f00,#fdd,#9de,#fee,#fff,#fcd,#fff,#fbb,#fbc,#fdd,#faa,#def,#def,#fee,#f44,#fbc,#faa,#fcc,#f78,#f9a,#fee,#fcc,#fff,#f88,#fff,#fdd,#fff,#fcc,#bde,#fbc,#fdd,#fee,#eff,#eef,#fcd,#fbc,#fdd,#cef,#fff,#fdd,#f89,#eff,#f9a,#fdd,#fab,#f00,#fbb,#fdd,#fef,#fdd,#fff,#eff,#fbc,#fcc,#fcc,#f11,#69e,#def,#fcd,#fbc,#fdd,#eff,#fde,#fee,#fcc,#fee,#bde,#fee,#fdd,#fee,#f99,#fdd,#fcc,#fbc,#bde,#fff,#fcd,#fde,#fef,#def,#ade,#fff,#fee,#fee,#fee,#fbc,#fde,#f88,#fcd,#7be,#fff,#fee,#fee,#fdd,#fef,#fee,#fde,#eef,#fee,#fee,#fee,#fcc,#cef,#eef,#fbc,#fdd,#def,#fde,#7be,#fee,#eef,#eff,#bee,#f9a,#cef,#fdd,#fde,#fff,#cef,#fee,#fde,#fff,#fef,#eff,#fee,#fab,#fee,#f9a,#fcd,#def,#fde,#fee,#fcd,#fdd,#def,#fde,#fdd,#cef,#fff,#eff,#fff,#def,#fde,#fee,#fbb,#fee,#ade,#fee,#fbb,#fee,#fff,#fcd,#fdd,#eff,#fbc,#ade,#fee,#def,#eff,#fff,#fff,#cee,#fdd,#eff,#fff,#fff,#cef,#fbb,#fcc,#fcc,#fdd,#fcd,#fee,#def,#fff,#bde,#55f,#fdd,#def,#fee,#fde,#fee,#fff,#bde,#fdd,#fff,#def,#fde,#fff,#fff,#def,#fbc,#fff,#def,#fff,#9de,#fff,#fdd,#fdd,#fef,#eef,#ade,#fff,#fff,#fff,#fab,#fcd,#fff,#fee,#fee,#def,#cee,#fcd,#cef,#cef,#cef,#cee,#fee,#7be,#fde,#fff,#faa,#fee,#eff,#cee,#eff,#fee,#fee,#cef,#fee,#68e,#def,#eef,#fcd,#fcd,#cee,#fcd,#fde,#eff,#8be,#8be,#fcd,#fff,#ade,#44f,#fde,#fff,#eef,#fff,#bde,#bde,#bee,#fff,#fde,#def,#8ce,#eff,#fcd,#fbc,#7be,#7ae,#bde,#67e,#eff,#f99,#eff,#cef,#fff,#8ce,#eef,#eff,#fff,#eef,#9de,#fde,#def,#79e,#fee,#fef,#8ce,#cee,#ade,#def,#def,#8be,#fef,#fab,#bde,#fee,#def,#fff,#f88,#cef,#bde,#fef,#fff,#def,#f55,#bde,#8be,#fee,#fff,#eff,#ade,#fff,#eff,#fcd,#7ae,#fff,#fff,#fff,#ade,#fff,#8ce,#fff,#bde,#8ce,#fee,#def,#eef,#f00,#fee,#fee,#7be,#faa,#bde,#fff,#cef,#ade,#68e,#fdd,#9ce,#cef,#def,#8ce,#33f,#7be,#8ce,#cee,#ade,#9ce,#bde,#7be,#eef,#eff,#00f,#8be,#fff,#cef,#fee,#def,#def,#7be,#eef,#fee,#bde,#9de,#9ce,#fee,#eef,#fbc,#def,#ade,#cee,#7be,#8ce,#68e,#fee,#def,#fee,#ade,#9de,#eef,#9ce,#00f,#fee,#bde,#def,#fdd,#7ae,#33f,#fee,#fee,#fdd,#cef,#fee,#fff,#7ae,#fff,#fdd,#fab,#cee,#8ce,#cef,#44f,#fdd,#9de,#8ce,#def,#9ce,#fdd,#fee,#33f,#cee,#fde,#cee,#def,#8be,#8be,#bde,#cee,#7be,#bee,#44f,#7ae,#22f,#79e,#def,#fee,#fcc,#8ce,#eff,#7ae,#bde,#bde,#ade,#56f,#9ce,#ade,#ade,#fee,#ade,#ade,#cef,#bde,#fcc,#56f,#7ae,#9de,#8ce,#00f,#7be,#67e,#00f,#fee,#eff,#bde,#9de,#def,#7ae,#def,#7ae,#7be,#8be,#7be,#eef,#def,#79e,#ade,#56f,#bee,#cee,#ade,#ade,#79e,#def,#33f,#8ce,#7be,#8be,#22f,#bde,#79e,#fff,#56f,#11f,#56f,#fcd,#7be,#8ce,#00f,#11f,#00f,#eff,#8be,#00f,#55f,#def,#ade,#9de)"></div><div class="hr" style="top:1208.36px;background:linear-gradient(90deg,#fdd,#eef,#fee,#fbc,#fab,#fee,#fcd,#fee,#fbb,#fbc,#fcc,#fbc,#fcd,#fcc,#fee,#fdd,#fcd,#fde,#7be,#fee,#ade,#fee,#eff,#fab,#fdd,#fdd,#f89,#fee,#fdd,#fcc,#fee,#fee,#fee,#fdd,#def,#fbc,#faa,#fbc,#fcc,#fde,#fdd,#fde,#f88,#f00,#ade,#fff,#fdd,#fee,#f9a,#f99,#bde,#fdd,#fee,#fab,#fab,#fdd,#def,#fcd,#fdd,#fee,#fee,#fee,#fcd,#fef,#fde,#fee,#f88,#fde,#fee,#fcd,#fee,#fde,#f22,#eef,#fbc,#fbc,#fbb,#fcd,#fcc,#fee,#fff,#f00,#fcd,#fcd,#fcd,#fef,#fff,#fbb,#fde,#bee,#fff,#def,#fee,#fcd,#fee,#eef,#fee,#eef,#cef,#eef,#fee,#def,#fdd,#fdd,#fff,#eff,#fcd,#fff,#fee,#fef,#fbc,#faa,#fee,#fcc,#fbc,#fbb,#fdd,#def,#cef,#fee,#fab,#8ce,#fdd,#f77,#fbc,#f88,#9ce,#fdd,#fff,#fee,#fcc,#bee,#cee,#fee,#def,#f11,#fcc,#fff,#fdd,#f88,#9ce,#fff,#fff,#fee,#def,#eef,#fff,#fee,#fee,#fde,#fdd,#fef,#eff,#fef,#fdd,#fff,#fff,#ade,#fdd,#bde,#56f,#fdd,#eef,#f88,#8ce,#7be,#fbb,#fff,#eff,#fff,#fcc,#eef,#fbc,#fee,#def,#fff,#f00,#cef,#eef,#fee,#cef,#fbc,#cee,#eff,#fff,#fdd,#fde,#fff,#9de,#fee,#fde,#fff,#bde,#fee,#fee,#eff,#fdd,#fff,#def,#fbc,#fee,#fff,#eff,#fef,#eff,#f99,#def,#eef,#bee,#fdd,#eff,#fee,#fff,#fee,#fee,#fef,#fde,#fff,#def,#def,#fee,#fee,#8ce,#eff,#fef,#fff,#fee,#fcd,#eff,#eff,#eff,#fdd,#cee,#fef,#7be,#9de,#fff,#bee,#fff,#eff,#fee,#def,#f55,#fff,#67e,#def,#eef,#8ce,#fee,#9ce,#fee,#fde,#fef,#bde,#eef,#def,#fff,#fff,#fbc,#fee,#eff,#ade,#def,#fdd,#def,#fee,#fbc,#fff,#eff,#fbc,#fcc,#fdd,#def,#eef,#fee,#eef,#ade,#ade,#fff,#eff,#def,#cee,#bde,#fee,#eff,#bde,#cee,#7ae,#eef,#eff,#def,#fde,#eff,#fcd,#ade,#fdd,#fee,#cee,#9de,#fee,#fff,#fdd,#ade,#ade,#79e,#fab,#fff,#bde,#eef,#eff,#eff,#9ce,#eef,#fdd,#fee,#bee,#fdd,#fee,#bde,#eff,#fbc,#cee,#fff,#fef,#def,#eef,#eef,#56f,#fee,#fbb,#fff,#8be,#cef,#8ce,#cef,#ade,#fff,#bde,#fee,#f9a,#eef,#ade,#fee,#cef,#fde,#fee,#cee,#9de,#cef,#faa,#bde,#8ce,#fee,#faa,#bde,#fff,#def,#fff,#7ae,#8ce,#fff,#fff,#def,#fff,#fdd,#ade,#f99,#bde,#eff,#eff,#cef,#eff,#ade,#def,#79e,#cef,#def,#8be,#def,#def,#fef,#bde,#def,#8ce,#fcd,#fee,#fee,#68e,#67e,#fff,#ade,#9de,#fee,#bee,#8ce,#fff,#ade,#8ce,#bee,#fdd,#55f,#fde,#eff,#cee,#eef,#fff,#9ce,#eff,#fee,#79e,#bde,#eff,#fff,#fcd,#def,#fde,#67e,#def,#fff,#7be,#eef,#fff,#79e,#00f,#ade,#9de,#9ce,#8ce,#cee,#fee,#7ae,#bde,#8ce,#8ce,#9ce,#bee,#bde,#bde,#fdd,#cef,#ade,#8ce,#9de,#bde,#cee,#eff,#def,#eff,#fee,#8be,#ade,#8ce,#bde,#ade,#bde,#fff,#00f,#7ae,#00f,#69e,#fff,#eef,#fbb,#eff,#def,#9de,#8be,#fee,#79e,#ade,#fee,#9de,#00f,#cef,#fff,#fcc,#ade,#ade,#56f,#faa,#ade,#44f,#fee,#7ae,#fdd,#8ce,#7be,#fde,#00f,#eff,#ade,#def,#11f,#cef,#44f,#8ce,#79e,#fff,#bde,#7be,#7be,#bde,#bde,#cee,#fbc,#8ce,#fff,#8ce,#8be,#cee,#68e,#8ce,#00f,#79e,#fff,#67e,#8ce,#68e,#bde,#fdd,#ade,#7ae,#9de,#68e,#7be,#7be,#cef,#55f,#33f,#ade,#8ce,#fde,#8ce)"></div><div class="hr" style="top:1229.85px;background:linear-gradient(90deg,#9de,#bde,#fab,#fcc,#fee,#fee,#fde,#fde,#fee,#def,#eef,#eef,#f77,#fee,#f44,#fbb,#f55,#fee,#fdd,#fff,#bde,#8ce,#fde,#fee,#fff,#fee,#fbc,#fff,#eff,#fbb,#56f,#fdd,#fbb,#fde,#fff,#fee,#fef,#fdd,#00f,#fdd,#00f,#fcd,#fcc,#f78,#f77,#fde,#fff,#fdd,#fcd,#fee,#fcd,#fbc,#fcd,#fee,#fee,#fbc,#8ce,#fdd,#fdd,#fcd,#fdd,#fef,#fdd,#fbc,#fbb,#def,#fee,#fef,#def,#fdd,#fee,#fdd,#fff,#fcc,#fff,#fcd,#fee,#bde,#fcd,#fcc,#fff,#f55,#fde,#f99,#fee,#fde,#cef,#eff,#fdd,#fee,#fde,#fee,#fdd,#f00,#fff,#fff,#fde,#fde,#fcd,#fee,#cef,#fbb,#fff,#fdd,#eef,#fff,#fde,#cef,#fff,#fee,#fef,#fdd,#fcd,#f9a,#9ce,#fcc,#eff,#fcd,#fee,#fcd,#68e,#faa,#9de,#ade,#fdd,#fee,#fff,#fee,#fee,#fbc,#8ce,#fee,#fee,#fdd,#fcd,#eff,#fee,#fff,#f89,#f9a,#fff,#fff,#eef,#fcd,#fbc,#def,#fdd,#fee,#fcd,#f99,#fbb,#7be,#fee,#f88,#8ce,#fee,#fff,#fcd,#fee,#fee,#eef,#fde,#fff,#eef,#eff,#def,#def,#eff,#fff,#fde,#f99,#fcd,#cee,#fbc,#eff,#fee,#fdd,#fff,#eef,#eff,#bee,#fff,#fee,#def,#fee,#ade,#fff,#fef,#fee,#def,#8ce,#def,#fde,#bee,#ade,#cee,#def,#bde,#f00,#fcd,#fee,#7be,#eff,#f99,#fff,#fee,#bde,#fff,#fff,#fcd,#fff,#fdd,#eff,#cef,#fcc,#fcc,#bde,#eff,#eef,#ade,#fff,#8ce,#def,#fee,#cee,#def,#ade,#ade,#8ce,#fee,#cef,#fff,#ade,#00f,#fff,#fcd,#fee,#fee,#fff,#fdd,#fdd,#7be,#fff,#ade,#cef,#ade,#fff,#def,#fdd,#def,#f99,#fff,#00f,#bde,#8ce,#cef,#67e,#fde,#33f,#9de,#def,#fff,#cef,#f00,#cee,#cee,#def,#cee,#ade,#fff,#fee,#8ce,#fdd,#eef,#fff,#eff,#7ae,#fff,#bde,#fee,#bde,#cef,#33f,#ade,#fbb,#fff,#eff,#f44,#eff,#8ce,#bde,#fee,#7be,#def,#eff,#fee,#eff,#eff,#def,#ade,#bde,#cee,#ade,#9de,#bde,#ade,#def,#9de,#bde,#fee,#fee,#cee,#8be,#fef,#fee,#ade,#8ce,#ade,#8ce,#def,#bde,#9de,#8ce,#eef,#fdd,#fff,#8ce,#9de,#eff,#eff,#11f,#cef,#55f,#fdd,#bee,#bde,#fef,#bde,#fcd,#8ce,#bde,#9de,#7be,#7be,#fdd,#def,#79e,#cee,#8ce,#9de,#22f,#fde,#def,#9ce,#33f,#fee,#ade,#fff,#68e,#67e,#def,#cef,#eff,#eef,#9de,#fef,#7be,#fbc,#ade,#ade,#7ae,#cee,#cee,#def,#79e,#eef,#bee,#33f,#8ce,#67e,#fde,#ade,#8ce,#bde,#eff,#9de,#bde,#55f,#f44,#bde,#ade,#def,#eff,#9de,#bde,#fde,#cee,#8ce,#ade,#68e,#fff,#fee,#9de,#67e,#9de,#22f,#7ae,#8be,#fdd,#8ce,#67e,#7ae,#8ce,#cee,#bde,#7ae,#8ce,#def,#fcd,#cee,#eff,#bde,#69e,#7be,#f44,#7be,#bde,#bde,#9ce,#fee,#55f,#ade,#79e,#9de,#00f,#bde,#9de,#57e,#fee,#cee,#8ce,#8ce,#69e,#ade,#fff,#fcd,#fee,#fdd,#8ce,#fff,#9de,#7be,#fbb,#cef,#79e,#fef,#11f,#7ae,#8be,#8ce,#bde,#bee,#fff,#7ae,#cee,#7ae,#fee,#ade,#22f,#fcc,#56e,#8ce,#11f,#cee,#def,#fff,#68e,#8be,#8ce,#8ce,#44f,#8ce,#22f,#00f,#def,#79e,#67e,#bde,#55f,#ade,#68e,#9ce,#8ce,#ade,#79e,#7ae,#7ae,#8ce,#fde,#69e,#8ce,#68e,#9de,#fff,#7ae,#9de,#7be,#00f,#68e,#22f,#7be,#7ae,#00f,#11f,#ade,#fbc,#44f,#33f,#22f,#44f,#7ae,#55f,#68e,#79e,#68e,#def,#cee,#56f,#55f,#7ae,#67e,#7be,#7ae)"></div><div class="hr" style="top:1251.33px;background:linear-gradient(90deg,#def,#79e,#fdd,#fde,#fee,#bde,#f55,#faa,#fdd,#f9a,#cee,#fcd,#fab,#fee,#eff,#fde,#fff,#f77,#fee,#eff,#fdd,#fee,#fcd,#fdd,#fee,#fbb,#fde,#8ce,#fab,#f88,#fdd,#fbc,#fdd,#fcc,#fff,#fdd,#fde,#fcc,#fbc,#fcd,#eef,#fcc,#f99,#f33,#fff,#fbc,#eff,#fee,#fee,#fcd,#fee,#fcd,#fdd,#56f,#fde,#fde,#fff,#f00,#f66,#def,#fdd,#f66,#fee,#faa,#fbc,#fbc,#fab,#fee,#def,#fcd,#fcd,#eff,#fef,#fcd,#fdd,#fbc,#8ce,#fff,#fcd,#eff,#fcd,#fdd,#fee,#fdd,#def,#fff,#eff,#fab,#fcd,#fcc,#bee,#fee,#fcc,#fff,#fde,#fee,#f11,#f77,#fee,#fde,#def,#def,#fbc,#bde,#fcd,#fee,#fbc,#fff,#68e,#fdd,#fdd,#fcd,#f66,#fee,#fdd,#f77,#fbc,#cef,#67e,#fcc,#fab,#56f,#fee,#ade,#22f,#fcc,#56f,#fdd,#fcd,#f77,#fdd,#fff,#fff,#cef,#fef,#fee,#fbc,#fff,#eff,#fdd,#def,#fcd,#fff,#fee,#fff,#cee,#fee,#fee,#f9a,#fee,#fee,#fdd,#fee,#fee,#fff,#f88,#fff,#f9a,#fee,#22f,#fee,#fbc,#def,#def,#def,#fff,#fdd,#fee,#fee,#fdd,#fff,#eef,#fff,#fcc,#fab,#fee,#fde,#fff,#fde,#fdd,#eff,#f77,#fff,#fcc,#fff,#fcc,#fee,#bde,#fab,#fee,#fcc,#fcd,#fde,#f78,#eff,#9ce,#fff,#fde,#9de,#fdd,#fcd,#eef,#fdd,#fcd,#def,#fcd,#def,#fde,#def,#8ce,#fdd,#fef,#fee,#cef,#eef,#eff,#bde,#fff,#eff,#fcd,#fdd,#fee,#fde,#fdd,#fdd,#fde,#8be,#cef,#eff,#def,#cee,#fee,#fff,#fee,#cee,#fee,#fef,#eff,#bde,#fff,#7be,#def,#56f,#fee,#cee,#fff,#fff,#fde,#fdd,#fff,#fde,#fff,#cef,#bde,#cef,#fff,#cee,#cee,#8ce,#fdd,#ade,#fff,#8ce,#fee,#67e,#fff,#eef,#9de,#44f,#fff,#ade,#fef,#bde,#def,#fde,#def,#def,#fee,#eff,#cee,#ade,#def,#eff,#eff,#fdd,#eef,#f66,#cee,#fef,#9ce,#fdd,#ade,#def,#fff,#bde,#eff,#ade,#fff,#fff,#fff,#f9a,#f44,#cef,#bde,#cef,#67e,#fee,#8ce,#fcc,#eff,#fff,#def,#fff,#fff,#bde,#def,#eff,#eff,#def,#cef,#fee,#79e,#fee,#def,#cef,#faa,#fee,#f99,#def,#fcd,#fdd,#fee,#79e,#def,#bee,#fcd,#fde,#fbc,#fde,#8ce,#7be,#9de,#9ce,#bee,#fee,#bde,#eff,#fbb,#ade,#fcd,#cef,#fde,#eff,#ade,#fef,#bde,#9ce,#fde,#44f,#cef,#00f,#eff,#fde,#bde,#fbc,#fdd,#def,#eef,#fdd,#fdd,#fff,#fff,#def,#fee,#def,#fdd,#fff,#79e,#79e,#56f,#fee,#eff,#68e,#8ce,#def,#fff,#fee,#22f,#fdd,#fff,#ade,#9de,#8be,#fff,#def,#9de,#ade,#fee,#fee,#eff,#7be,#cef,#8ce,#ade,#bde,#eff,#fde,#def,#fff,#f99,#ade,#fee,#fdd,#ade,#cef,#fff,#7be,#cee,#bde,#7be,#eef,#cee,#fde,#00f,#bde,#8be,#def,#fff,#eef,#fff,#9de,#bde,#fff,#7ae,#fff,#8ce,#def,#79e,#fdd,#ade,#7ae,#bde,#8ce,#9de,#fde,#fff,#ade,#fff,#ade,#fbc,#7be,#ade,#ade,#cee,#ade,#def,#00f,#ade,#9ce,#bde,#fff,#8ce,#cef,#7ae,#55f,#def,#8ce,#fee,#9ce,#8ce,#8be,#8ce,#22f,#cee,#fff,#eef,#68e,#9de,#22f,#ade,#8ce,#22f,#7be,#00f,#bde,#8ce,#cef,#fff,#00f,#67e,#def,#7be,#00f,#8ce,#cee,#cee,#7ae,#eff,#9de,#bde,#8ce,#cef,#79e,#eef,#ade,#ade,#fee,#22f,#67e,#55f,#8be,#9ce,#00f,#00f,#fff,#55f,#def,#67e,#33f,#67e,#ade,#56f,#22f,#33f,#eff,#00f,#fff,#7ae,#11f,#8ce,#bde,#9ce,#9de)"></div><div class="hr" style="top:1272.81px;background:linear-gradient(90deg,#f44,#fdd,#fee,#fdd,#fdd,#fab,#eff,#fde,#fcc,#fdd,#fcd,#fee,#fbc,#fdd,#fdd,#fdd,#fee,#eff,#fcd,#fcd,#fcc,#fdd,#fbc,#fde,#fff,#fcc,#eff,#fcd,#fee,#fee,#fdd,#ade,#fdd,#fcc,#fbc,#fcd,#fab,#fee,#cef,#fbc,#fde,#fee,#fee,#f00,#fdd,#f66,#fcd,#fff,#fbc,#fcc,#fde,#faa,#fab,#fbc,#eef,#fee,#fff,#fdd,#faa,#fff,#fee,#fbb,#fdd,#fcc,#fee,#fff,#f00,#fdd,#fcd,#bde,#fde,#fee,#fef,#fdd,#eef,#fff,#def,#fee,#fdd,#def,#fdd,#f33,#eff,#8ce,#fee,#fee,#bee,#eff,#faa,#fee,#fee,#fff,#fdd,#cee,#f9a,#fdd,#fcc,#fde,#fbc,#ade,#fdd,#fde,#fee,#9de,#fdd,#fef,#fab,#def,#fee,#fdd,#fdd,#fdd,#fee,#fdd,#fee,#00f,#ade,#79e,#f33,#def,#fcd,#fbc,#cef,#fff,#fcd,#fff,#def,#fff,#33f,#68e,#fee,#fde,#def,#bde,#fbc,#f77,#fcd,#fde,#fcc,#fff,#eff,#def,#fbc,#def,#fdd,#fff,#fee,#f78,#bde,#fcd,#fff,#fab,#cef,#fff,#ade,#fff,#fdd,#fdd,#fdd,#fdd,#fcd,#fff,#8be,#fdd,#fee,#fee,#68e,#55f,#cee,#fde,#cef,#fff,#ade,#8ce,#eff,#def,#fbc,#cef,#fde,#7ae,#fee,#fcd,#fcc,#fee,#eff,#fee,#fde,#fff,#fde,#def,#eff,#fdd,#9ce,#cef,#fdd,#def,#fdd,#eff,#cef,#eff,#fee,#fde,#fbc,#eff,#fee,#eff,#def,#fee,#fef,#f00,#fcc,#fdd,#fff,#fee,#eff,#eff,#ade,#def,#f66,#f77,#fff,#fee,#cef,#fff,#f33,#def,#fdd,#cee,#ade,#fde,#eef,#fff,#cef,#faa,#8ce,#def,#faa,#eef,#cef,#ade,#9ce,#fdd,#fdd,#bde,#eff,#eff,#def,#fee,#fdd,#9de,#eff,#fde,#cee,#9de,#ade,#fde,#eef,#eff,#cee,#fff,#8ce,#eef,#def,#fee,#bde,#fff,#eff,#fff,#fff,#fff,#fee,#fee,#fee,#fde,#7ae,#8ce,#bde,#fde,#fdd,#cef,#f88,#ade,#bde,#ade,#fde,#fef,#7ae,#7be,#fff,#fee,#fee,#f99,#fee,#bde,#9de,#fef,#def,#ade,#fee,#fff,#def,#fcd,#8ce,#f00,#fff,#7ae,#bee,#cee,#cef,#def,#fee,#ade,#fee,#def,#fff,#fee,#bde,#eff,#fff,#ade,#ade,#fdd,#bde,#fdd,#fdd,#fee,#bde,#fee,#eef,#eff,#fdd,#fcd,#fff,#ade,#8ce,#fde,#fee,#eff,#fff,#7be,#f44,#bde,#fdd,#cef,#fff,#eff,#bee,#fbc,#fff,#cef,#7ae,#fef,#faa,#ade,#7ae,#fcc,#f00,#67e,#fcd,#def,#eff,#bde,#ade,#fff,#fee,#cee,#ade,#fcd,#fee,#cef,#cee,#9de,#fff,#eff,#8be,#eff,#cef,#55f,#cee,#fff,#7be,#fff,#bde,#68e,#def,#cee,#fee,#fee,#68e,#eef,#79e,#eff,#cef,#cee,#7be,#fbc,#ade,#fbc,#9ce,#def,#eff,#eff,#eff,#8be,#def,#55f,#7be,#8ce,#fef,#9ce,#bde,#cef,#fdd,#ade,#cee,#8ce,#7ae,#bde,#fff,#eef,#bde,#eef,#79e,#00f,#fff,#cef,#def,#9de,#def,#eff,#ade,#cef,#cef,#cee,#eef,#ade,#fcd,#8ce,#def,#def,#bde,#fee,#7be,#fee,#fee,#fcc,#def,#eff,#eff,#eef,#8ce,#8ce,#9ce,#ade,#bde,#def,#00f,#7be,#bde,#eff,#fee,#eef,#cef,#cee,#def,#cef,#79e,#7ae,#def,#7be,#bee,#9de,#55f,#cef,#ade,#9ce,#68e,#7ae,#00f,#8ce,#bde,#55f,#8ce,#33f,#fff,#8be,#cee,#fee,#00f,#cee,#def,#9ce,#67e,#ade,#9ce,#cef,#79e,#bee,#def,#8ce,#8ce,#bde,#56f,#bde,#eff,#8ce,#8ce,#00f,#69e,#fee,#8ce,#55f,#68e,#44f,#ade,#9ce,#7be,#69e,#8be,#79e,#bde,#79e,#ade,#33f,#7be,#fdd,#8ce,#ade,#8ce,#def,#8ce,#8be,#eff)"></div><div class="hr" style="top:1294.29px;background:linear-gradient(90deg,#def,#fff,#f77,#fee,#fde,#fde,#fcd,#fcd,#fcd,#fcc,#fcc,#fdd,#eff,#fde,#79e,#fcd,#fdd,#bde,#fab,#fee,#fcc,#eff,#fcc,#f99,#fee,#fab,#fab,#fbc,#fbc,#fcd,#9ce,#fbc,#fdd,#fde,#fee,#fab,#fdd,#fdd,#fee,#fde,#fee,#8ce,#f88,#f11,#eff,#fcd,#fff,#eff,#fbc,#faa,#eff,#eff,#fbb,#fde,#ade,#bde,#fff,#f9a,#fdd,#fff,#fee,#fdd,#fdd,#faa,#fff,#cef,#fbc,#fcc,#fcd,#fdd,#fcc,#fde,#fee,#fdd,#fbc,#fcc,#fdd,#eef,#fab,#fff,#fcc,#ade,#fff,#fde,#fff,#fcd,#fdd,#fcc,#fdd,#eff,#def,#fff,#fff,#fff,#f88,#fde,#fdd,#f99,#fcd,#fdd,#fff,#fee,#fcc,#fcd,#fcc,#fcd,#fab,#eff,#fff,#fcc,#fdd,#fdd,#bde,#fee,#fcc,#fdd,#fde,#fef,#fdd,#def,#fee,#f00,#fff,#fff,#fbc,#fbc,#fff,#fdd,#fbc,#fee,#ade,#fff,#fcd,#fdd,#fbb,#fff,#fee,#fbb,#eef,#fde,#fee,#fff,#fcd,#fab,#fde,#fee,#bee,#fff,#eef,#fbb,#def,#fee,#fff,#eff,#fee,#fee,#fbc,#fff,#fde,#fee,#fdd,#cef,#f77,#fdd,#fee,#fef,#fff,#fee,#fcd,#f88,#def,#fee,#fcd,#fdd,#fff,#f99,#eef,#ade,#fcd,#fcd,#fdd,#69e,#cee,#fcd,#fcd,#fbc,#7ae,#fde,#eff,#fde,#fff,#fee,#fcc,#def,#fdd,#fff,#fde,#fee,#9de,#f77,#eff,#fee,#fee,#fab,#bde,#def,#fcd,#fff,#fee,#fff,#fee,#fbc,#fee,#eef,#fcc,#fff,#9ce,#def,#bde,#def,#fee,#fcd,#bee,#fee,#fff,#cef,#def,#fff,#f9a,#fff,#8ce,#7ae,#eff,#eef,#eff,#fff,#fcd,#eff,#fff,#fee,#fdd,#fdd,#fee,#eff,#fff,#fff,#eff,#fee,#fdd,#eff,#fdd,#ade,#fff,#fff,#fff,#fff,#eef,#9de,#fee,#7be,#fff,#fff,#f00,#faa,#def,#cef,#fde,#bde,#bde,#fcd,#fff,#fee,#fff,#fff,#cef,#ade,#ade,#cee,#fef,#def,#fff,#fbc,#cee,#bde,#fbc,#bde,#8ce,#00f,#fcc,#eff,#9ce,#fee,#56f,#fee,#fdd,#bde,#def,#8ce,#fde,#9de,#fdd,#fcd,#fff,#bee,#def,#9de,#cef,#7ae,#fdd,#eff,#fee,#9de,#8ce,#fef,#fee,#def,#def,#bde,#eff,#ade,#def,#bde,#cef,#cef,#eff,#def,#eef,#fee,#def,#fcd,#bee,#fff,#faa,#def,#ade,#9de,#fee,#fee,#fee,#ade,#eff,#8ce,#eff,#cee,#fee,#eff,#eef,#def,#ade,#cee,#68e,#8ce,#fcc,#cef,#ade,#fdd,#cee,#fff,#fab,#79e,#fdd,#cee,#fcd,#bde,#eff,#fee,#44f,#def,#fff,#fef,#00f,#fff,#fee,#fdd,#7ae,#eff,#def,#fff,#ade,#fff,#eef,#bee,#9de,#9de,#f9a,#8ce,#cef,#7ae,#68e,#11f,#7ae,#def,#fcd,#ade,#fff,#eff,#9de,#fbc,#fde,#7ae,#7be,#fbc,#cef,#ade,#22f,#44f,#bde,#eff,#8ce,#def,#fee,#9de,#fab,#8ce,#eff,#eff,#8ce,#eff,#eff,#bde,#eef,#7ae,#ade,#44f,#fde,#cef,#fee,#8be,#8ce,#eff,#9ce,#9ce,#bde,#79e,#fcc,#33f,#fef,#ade,#fff,#eef,#def,#8ce,#cee,#def,#79e,#fef,#eef,#fff,#fee,#fee,#ade,#9ce,#ade,#fee,#bee,#def,#00f,#7ae,#7ae,#fee,#eff,#bee,#fdd,#cee,#79e,#eef,#79e,#cef,#bde,#68e,#def,#55f,#33f,#7be,#bde,#fff,#8ce,#8ce,#22f,#8ce,#9de,#33f,#79e,#00f,#cee,#8be,#11f,#fff,#9de,#8be,#eff,#fee,#00f,#eff,#9ce,#7ae,#8ce,#def,#7be,#7be,#ade,#7be,#bde,#fff,#def,#68e,#8be,#33f,#8ce,#9ce,#9de,#fee,#00f,#68e,#ade,#7be,#7ae,#33f,#33f,#ade,#ade,#67e,#bde,#67e,#67e,#00f,#def,#bde,#68e,#9ce,#def,#8ce,#fee)"></div><div class="hr" style="top:1315.77px;background:linear-gradient(90deg,#fdd,#fff,#eff,#fff,#fdd,#fee,#fdd,#fff,#fde,#fcd,#eef,#fcc,#fcd,#fbc,#fcc,#fdd,#fdd,#fff,#fdd,#fef,#fbb,#fbc,#fde,#fdd,#fff,#fdd,#faa,#fcd,#fbc,#fcd,#cee,#fcd,#faa,#f88,#fee,#cef,#9de,#fcd,#fcc,#fcd,#fcc,#fbc,#fcc,#f00,#f9a,#fdd,#fde,#8ce,#ade,#eff,#fbb,#fcc,#fbc,#fbc,#cee,#cee,#eff,#fde,#fbc,#fee,#cee,#fdd,#cef,#faa,#fdd,#fde,#fee,#fdd,#fff,#fcd,#fbc,#fee,#fee,#fcd,#bde,#fdd,#bde,#fee,#fee,#f55,#fcd,#f00,#bee,#fcd,#fee,#fee,#bde,#fcd,#fab,#fee,#f89,#eff,#ade,#eff,#fde,#fcd,#fdd,#fee,#fcd,#fee,#fff,#fcd,#fdd,#fdd,#fcd,#fcc,#fdd,#cee,#fdd,#eff,#fee,#fab,#fff,#fde,#fff,#fee,#fbc,#fee,#eff,#fee,#fab,#eff,#fee,#fff,#f99,#fcc,#68e,#f99,#fde,#fee,#fee,#fdd,#fee,#fff,#fff,#fff,#cef,#fef,#fde,#fff,#fee,#fee,#fee,#fcd,#eff,#faa,#fde,#fcd,#fee,#def,#fee,#ade,#eff,#fff,#fde,#fee,#eef,#f99,#fcd,#fbc,#fde,#fee,#fff,#eff,#def,#fde,#cef,#fff,#fcd,#fde,#fcd,#fee,#fdd,#cee,#fdd,#fee,#fcc,#fff,#fee,#fde,#fff,#fff,#fee,#fcd,#fee,#fff,#fcc,#fee,#bee,#fff,#def,#fcd,#def,#fdd,#eef,#eff,#fbc,#eff,#fff,#fde,#fdd,#fff,#eff,#fdd,#fde,#ade,#fff,#cee,#fde,#fff,#fdd,#fee,#fff,#eff,#def,#eef,#fff,#fff,#def,#fff,#f99,#8ce,#bde,#fde,#fff,#eef,#fff,#fab,#bde,#eff,#f88,#fff,#fcc,#ade,#fab,#fff,#8ce,#fff,#def,#eff,#fff,#fee,#fde,#eff,#f99,#cee,#fee,#fff,#fde,#f88,#fee,#fff,#fdd,#fff,#fff,#8ce,#cef,#def,#9ce,#fee,#cef,#fff,#fff,#f00,#fcc,#fff,#fdd,#ade,#8ce,#fde,#def,#fff,#fcc,#def,#fdd,#bde,#bde,#fee,#def,#44f,#cee,#9ce,#cef,#eef,#fcd,#fef,#67e,#eff,#fff,#fee,#fff,#eff,#33f,#cef,#cef,#bde,#9ce,#9de,#fee,#def,#fff,#fee,#cef,#44f,#ade,#bde,#fff,#cef,#def,#fee,#fee,#7ae,#fcd,#fff,#fff,#def,#eff,#ade,#def,#cee,#fee,#cef,#cee,#8ce,#cef,#fef,#def,#fee,#69e,#fff,#fee,#7be,#fde,#fee,#eff,#ade,#fdd,#f9a,#8be,#def,#fde,#def,#8ce,#56f,#fee,#eef,#bde,#fde,#bde,#def,#cee,#fff,#def,#fdd,#eef,#eef,#bde,#fff,#cef,#def,#def,#f00,#def,#fdd,#56f,#bde,#def,#eff,#eff,#fff,#fff,#fee,#fee,#bde,#9ce,#fee,#eff,#69e,#ade,#fcc,#8ce,#fee,#fee,#bde,#fff,#fee,#ade,#fff,#7be,#fef,#fff,#fcd,#cef,#fee,#8ce,#bde,#56f,#fff,#def,#9de,#eff,#fee,#9de,#7ae,#cee,#7be,#9de,#79e,#fff,#9de,#fff,#fff,#fde,#def,#fff,#fff,#8ce,#eff,#fee,#ade,#fee,#8ce,#bee,#22f,#bde,#fff,#fee,#bde,#fff,#fcd,#56e,#ade,#def,#cef,#def,#def,#def,#67e,#8ce,#55f,#fdd,#fff,#fdd,#fcc,#fdd,#9de,#fff,#fff,#cee,#8ce,#fee,#9de,#fff,#fee,#8ce,#fee,#44f,#8ce,#11f,#55f,#fee,#bde,#8ce,#fdd,#def,#68e,#8ce,#fee,#ade,#8ce,#ade,#00f,#00f,#cee,#bde,#def,#7be,#8ce,#7be,#cee,#cee,#56f,#cef,#00f,#fef,#79e,#cee,#fff,#def,#8ce,#7ae,#ade,#00f,#9ce,#fee,#8ce,#fab,#fff,#fff,#56f,#cee,#7ae,#7be,#cee,#8ce,#55f,#eff,#67e,#79e,#55f,#8be,#def,#44f,#44f,#9de,#cee,#8ce,#68e,#fee,#8be,#8ce,#79e,#bde,#00f,#79e,#56f,#def,#55f,#33f,#9de,#8ce,#56f,#fee)"></div><div class="hr" style="top:1337.26px;background:linear-gradient(90deg,#fdd,#fdd,#fab,#fdd,#fdd,#fdd,#fab,#fee,#fdd,#fee,#cef,#fcc,#fff,#fee,#fbc,#fee,#fcd,#fcc,#fee,#fde,#fbc,#fbb,#fdd,#fdd,#fcc,#fbc,#fee,#fff,#fff,#fbb,#fde,#eff,#fdd,#fcc,#fdd,#fcd,#fab,#fde,#faa,#fbc,#fee,#fcd,#fcc,#f00,#fcd,#fde,#fef,#def,#fcc,#f99,#fbc,#fbc,#fbc,#fff,#fcd,#fee,#def,#f9a,#fcc,#fef,#fde,#bde,#fbc,#fab,#fcc,#fcd,#fee,#fdd,#def,#fcd,#cef,#fbb,#fdd,#fab,#fdd,#fdd,#fee,#fee,#fab,#f00,#f9a,#f22,#faa,#fee,#f89,#7ae,#fee,#fbc,#fcd,#fee,#9ce,#f99,#fff,#def,#cee,#eef,#fee,#f44,#fcd,#fab,#fef,#fef,#f66,#fbc,#f9a,#fff,#f88,#fee,#cef,#fdd,#fff,#fcd,#fff,#fcd,#fde,#fcd,#fcc,#fee,#fee,#fcd,#fdd,#f77,#fdd,#fee,#fcc,#eff,#fff,#fdd,#def,#cef,#fee,#fee,#fee,#eff,#fdd,#fee,#eff,#eff,#f66,#fcd,#fdd,#fab,#fee,#fee,#fdd,#fde,#fee,#fbb,#ade,#fee,#f11,#fee,#fff,#def,#bde,#fee,#fee,#fee,#fbb,#cef,#fde,#fee,#fee,#f00,#fff,#fef,#eff,#fff,#fcd,#fbb,#fee,#fdd,#7be,#fcd,#cef,#fee,#f88,#fdd,#def,#def,#9de,#fcd,#fee,#fee,#fcd,#fde,#fee,#fff,#f99,#67e,#fff,#fdd,#ade,#f9a,#fee,#f99,#fff,#fdd,#fee,#fee,#fff,#fde,#79e,#ade,#fee,#cef,#fdd,#fee,#f99,#fde,#fee,#fdd,#fee,#fee,#ade,#fcd,#fdd,#def,#eff,#faa,#fbb,#f89,#8ce,#fab,#fff,#cef,#fbc,#fcc,#fff,#fcc,#def,#ade,#7ae,#fff,#fde,#fcc,#fcc,#def,#fff,#fee,#fee,#fee,#fee,#fcc,#fde,#fee,#fcd,#fde,#fcd,#bee,#fff,#fee,#def,#fff,#fee,#fee,#56f,#eef,#fbb,#cef,#eff,#eff,#bde,#f55,#bde,#ade,#56e,#ade,#def,#fdd,#cef,#bde,#fdd,#8ce,#fee,#ade,#ade,#fcd,#def,#fff,#fbc,#fcc,#ade,#fff,#fdd,#eef,#def,#ade,#fbc,#fff,#cef,#eff,#ade,#fef,#cef,#8ce,#f00,#bee,#fcc,#bde,#cef,#fff,#8ce,#9ce,#def,#eff,#bee,#8ce,#fff,#fff,#cee,#8be,#7be,#7ae,#f9a,#fff,#fff,#fdd,#eff,#bde,#fee,#def,#ade,#def,#fcd,#fff,#bde,#fff,#fee,#fde,#cef,#fff,#fff,#fcc,#cee,#ade,#fdd,#eff,#fee,#bde,#fee,#bee,#7be,#9de,#fde,#ade,#eef,#fff,#fff,#fee,#bee,#def,#9de,#cef,#cef,#fee,#eef,#79e,#8ce,#bde,#fdd,#bde,#8ce,#fff,#bee,#eff,#79e,#eff,#def,#fee,#ade,#def,#cef,#fcd,#8ce,#fde,#fee,#44f,#eff,#9de,#fdd,#bde,#cee,#fff,#67e,#fff,#fdd,#fee,#7ae,#faa,#9de,#fff,#fee,#ade,#fee,#fee,#def,#22f,#7ae,#7ae,#ade,#fff,#7ae,#8ce,#9ce,#fff,#eff,#def,#bde,#bee,#56f,#def,#eef,#bee,#def,#fee,#7be,#ade,#def,#55f,#fff,#ade,#9de,#33f,#eff,#ade,#cef,#ade,#67e,#fee,#def,#def,#cef,#fee,#fff,#8be,#eef,#44f,#ade,#fff,#68e,#eff,#bde,#44f,#fee,#8ce,#fde,#eff,#79e,#cef,#8ce,#faa,#8ce,#cee,#ade,#9de,#79e,#67e,#8ce,#7ae,#7be,#bde,#def,#cee,#7ae,#eef,#9de,#fee,#8ce,#def,#69e,#67e,#00f,#def,#9ce,#fdd,#7ae,#bde,#7ae,#8ce,#7be,#00f,#cef,#9de,#fee,#ade,#bde,#bde,#33f,#11f,#bde,#fee,#00f,#cee,#fee,#fee,#8ce,#cee,#9ce,#68e,#8ce,#7ae,#eff,#7be,#bde,#8ce,#bde,#11f,#8ce,#67e,#55f,#79e,#def,#22f,#8be,#8ce,#68e,#33f,#67e,#55f,#8ce,#79e,#44f,#11f,#cee,#bde,#fcd,#ade,#00f,#fdd,#68e,#8ce,#9de)"></div><div class="hr" style="top:1358.74px;background:linear-gradient(90deg,#fde,#def,#fde,#fff,#fbc,#f77,#fee,#fde,#fee,#fdd,#fdd,#fde,#fee,#fcd,#fdd,#9de,#fee,#fde,#fee,#eff,#fee,#fbc,#fee,#fee,#eff,#fde,#fdd,#f55,#fee,#fcc,#eff,#fbb,#f99,#fee,#eff,#f89,#fcc,#fee,#fee,#cee,#fee,#fbc,#fcc,#fde,#fdd,#fee,#fff,#fff,#fee,#fff,#f55,#fbb,#fee,#fdd,#faa,#def,#bde,#fcd,#fee,#fff,#fde,#fee,#fee,#fff,#eff,#bee,#ade,#fdd,#fdd,#fee,#fdd,#cee,#fde,#fdd,#fdd,#fee,#cef,#fbb,#fee,#fbc,#fbb,#f33,#eff,#def,#fef,#eff,#fee,#fde,#fcc,#bde,#fbb,#fde,#fee,#fde,#fff,#bee,#fef,#f9a,#fee,#fff,#8be,#eff,#fcd,#def,#fee,#eef,#def,#fbc,#eff,#fee,#fde,#fee,#ade,#fdd,#eff,#fdd,#fde,#eff,#eef,#fdd,#fab,#fdd,#eef,#bde,#fdd,#fff,#bde,#fff,#fee,#eff,#fee,#fff,#79e,#eff,#fff,#bee,#fee,#fff,#fee,#fee,#fff,#fcc,#fee,#fee,#bde,#f44,#fde,#fee,#fff,#fff,#fde,#eff,#bde,#fef,#fde,#fee,#fff,#faa,#fab,#fff,#fde,#fde,#ade,#fee,#fee,#9ce,#fdd,#fff,#fde,#fbc,#00f,#eff,#ade,#cee,#bde,#fcc,#faa,#cef,#fef,#cef,#fff,#fff,#def,#fef,#fff,#9de,#ade,#fcd,#fff,#8ce,#f9a,#fff,#f88,#fdd,#7be,#fee,#fee,#fde,#cee,#cef,#fef,#67e,#fff,#def,#fff,#fff,#fde,#fff,#eff,#fee,#f88,#fcc,#fdd,#55f,#ade,#fee,#fff,#bde,#def,#f99,#fee,#fff,#cee,#eff,#fee,#fff,#def,#fdd,#fee,#bde,#fff,#eff,#ade,#44f,#def,#ade,#9de,#fff,#faa,#bde,#fff,#def,#fff,#eef,#ade,#fff,#def,#cee,#bde,#eef,#f99,#eff,#cee,#7be,#fff,#def,#fff,#8ce,#bde,#cee,#ade,#eff,#eff,#fff,#fbb,#ade,#fee,#bee,#fff,#fee,#eff,#fee,#fff,#8ce,#ade,#9ce,#def,#8ce,#f00,#fff,#bee,#7ae,#def,#fee,#fff,#fbc,#cef,#bee,#ade,#eef,#9de,#fcc,#fee,#9ce,#bee,#fdd,#8ce,#9ce,#fcd,#cee,#def,#7ae,#8be,#8be,#00f,#ade,#cef,#bee,#fee,#fbc,#bde,#def,#bde,#bde,#fff,#fee,#9ce,#fef,#fef,#bde,#ade,#def,#bde,#eff,#8ce,#8ce,#bde,#fff,#bee,#eff,#8ce,#fff,#9de,#fff,#fef,#eff,#eff,#bde,#55f,#def,#f55,#cef,#9de,#fee,#44f,#bde,#8ce,#eef,#eff,#fff,#8ce,#fff,#fbc,#def,#ade,#fff,#bde,#fff,#cee,#cef,#fee,#def,#8ce,#def,#eef,#def,#fee,#cef,#fef,#ade,#bee,#fef,#fef,#f99,#ade,#00f,#bde,#44f,#cee,#eff,#8be,#fdd,#9de,#8be,#fff,#ade,#bde,#79e,#cef,#8be,#ade,#fff,#bde,#eff,#eef,#fff,#bee,#eff,#bde,#def,#ade,#fef,#79e,#ade,#fee,#56f,#bde,#8ce,#f99,#ade,#69e,#eff,#cef,#cee,#f00,#fff,#ade,#cef,#fff,#ade,#ade,#bde,#eef,#00f,#9de,#eff,#cee,#7ae,#8ce,#def,#8ce,#fff,#9ce,#fee,#fee,#fdd,#def,#33f,#def,#9de,#ade,#cee,#8be,#eff,#bde,#eff,#cef,#fff,#fde,#8ce,#7be,#ade,#bde,#ade,#7ae,#faa,#22f,#def,#8ce,#ade,#eff,#8ce,#9ce,#9de,#cee,#fff,#9ce,#fee,#bde,#ade,#8ce,#eff,#00f,#68e,#00f,#fee,#68e,#ade,#55f,#9de,#bde,#9de,#cee,#00f,#fef,#def,#9ce,#bde,#11f,#cee,#8ce,#9de,#79e,#def,#cef,#7ae,#9de,#def,#def,#79e,#9de,#7ae,#bde,#eff,#9de,#ade,#9ce,#00f,#8be,#7ae,#9de,#11f,#22f,#33f,#fef,#bde,#56f,#79e,#ade,#79e,#fff,#55f,#cef,#9de,#9ce,#11f,#7be,#cee,#00f,#7ae,#7ae,#8be,#bde)"></div><div class="hr" style="top:1380.22px;background:linear-gradient(90deg,#fcc,#fde,#fcd,#fcc,#fbb,#fef,#fee,#fee,#fab,#fcd,#fcd,#fab,#fde,#fcd,#fef,#fdd,#fdd,#fcc,#faa,#8ce,#def,#fab,#fbc,#f55,#fbc,#fbb,#fcc,#f55,#f88,#fcd,#fee,#fcd,#cee,#fff,#9ce,#fcc,#fbc,#fbc,#f67,#fdd,#fee,#f77,#fee,#f00,#fbc,#fcc,#fee,#fee,#fdd,#fcc,#fdd,#fbb,#fcc,#fcc,#f22,#fde,#7be,#fab,#faa,#fbb,#fff,#fbc,#fcd,#fdd,#9ce,#fff,#fee,#f99,#fbb,#fcc,#fff,#faa,#fdd,#fbc,#fcd,#fcc,#fff,#fee,#fbb,#eff,#fcd,#f00,#fef,#fee,#fee,#fff,#fee,#fdd,#bde,#fdd,#fcd,#eff,#fcc,#fef,#fdd,#fcd,#cee,#eef,#fee,#fff,#bde,#fcd,#fdd,#fee,#fbc,#fee,#fee,#faa,#fdd,#ade,#fdd,#f00,#fde,#fde,#9ce,#fff,#fdd,#bde,#fcc,#fde,#fee,#cef,#fcd,#def,#fff,#fdd,#7ae,#fee,#fcd,#00f,#bde,#fee,#fff,#fcd,#33f,#def,#fff,#fcd,#fcc,#f9a,#eef,#fff,#fcd,#f88,#fdd,#fdd,#cef,#fdd,#fff,#fff,#fdd,#fcd,#fef,#fee,#fff,#fff,#fcd,#faa,#fdd,#bde,#fde,#fdd,#fee,#fee,#def,#fdd,#9de,#fbb,#fef,#fdd,#fee,#fdd,#cef,#fdd,#fee,#eff,#fff,#eff,#67e,#fff,#9ce,#fcc,#cef,#fde,#fbc,#fbb,#fee,#fcd,#faa,#fde,#79e,#f9a,#fdd,#fde,#eff,#fbb,#def,#fbc,#8ce,#fee,#fdd,#fff,#eff,#fcc,#fcd,#7ae,#fcc,#fee,#fdd,#cee,#8be,#fdd,#f77,#fee,#fdd,#fde,#bee,#fee,#def,#fcc,#eef,#fff,#cee,#fee,#def,#def,#def,#fee,#ade,#fbc,#eff,#fbc,#cee,#fee,#eef,#fff,#eef,#fff,#fdd,#eff,#fcc,#fff,#7ae,#fde,#9de,#fef,#fee,#bde,#fcd,#fdd,#fee,#cef,#bde,#fee,#def,#fef,#fff,#fff,#fff,#fcc,#cee,#fef,#fee,#fde,#9ce,#fef,#fde,#7ae,#9ce,#fee,#fde,#fdd,#def,#def,#fff,#fdd,#68e,#def,#eef,#eff,#eff,#bde,#9de,#bde,#f88,#fbb,#8ce,#eef,#fff,#cee,#fff,#fee,#def,#fdd,#8be,#bde,#faa,#cef,#fee,#eff,#def,#faa,#7ae,#ade,#cee,#fde,#fff,#def,#fde,#fff,#eff,#cee,#eef,#fee,#fab,#bee,#bde,#fff,#fee,#ade,#fee,#def,#8ce,#7be,#f89,#fcd,#cee,#eff,#fee,#fcd,#fdd,#fbb,#fff,#fee,#fff,#fff,#fdd,#cef,#33f,#def,#fee,#9de,#eff,#8ce,#fff,#def,#fdd,#fff,#def,#fee,#8ce,#fdd,#fff,#eff,#9de,#eff,#cee,#ade,#bde,#fbc,#fdd,#bde,#fff,#9de,#f77,#cef,#ade,#ade,#fee,#ade,#fee,#cef,#cef,#eef,#ade,#cee,#fee,#8ce,#cef,#7be,#eff,#fff,#def,#bde,#fee,#fff,#fde,#33f,#79e,#fee,#fee,#fde,#fcd,#fff,#eff,#cef,#fcd,#fee,#def,#8be,#8be,#fee,#68e,#ade,#cef,#56f,#7be,#fee,#def,#7be,#def,#55f,#fee,#bee,#fff,#fdd,#7be,#cee,#fbc,#ade,#fff,#8ce,#cee,#33f,#def,#def,#eff,#9de,#ade,#8ce,#67e,#fcd,#cee,#eff,#cef,#9de,#79e,#56f,#def,#fbc,#7be,#fff,#7ae,#79e,#fdd,#bee,#cee,#fff,#cef,#7be,#67e,#cef,#79e,#bde,#bde,#8ce,#33f,#79e,#00f,#fee,#eff,#eff,#fee,#fee,#fdd,#8ce,#faa,#9de,#9de,#68e,#eff,#ade,#00f,#ade,#f9a,#def,#7ae,#bde,#fcc,#9ce,#fee,#22f,#8ce,#00f,#fee,#69e,#ade,#fdd,#00f,#bde,#fff,#def,#00f,#eef,#7ae,#8be,#8ce,#eff,#8ce,#7ae,#79e,#bde,#eff,#7ae,#9de,#cee,#ade,#cee,#ade,#8be,#7be,#9de,#55f,#22f,#68e,#8ce,#7ae,#00f,#68e,#7be,#7be,#68e,#44f,#44f,#79e,#00f,#cee,#8ce,#00f,#8ce,#56f,#def,#cee)"></div><div class="hr" style="top:1401.70px;background:linear-gradient(90deg,#def,#fee,#f9a,#f88,#fcc,#fcd,#fff,#fdd,#fbc,#fde,#fcd,#fbc,#fbc,#fdd,#fab,#fcd,#fcc,#f89,#fcd,#eff,#fcc,#fcc,#eff,#fdd,#def,#fbb,#fcd,#fbc,#fdd,#f55,#fbc,#fdd,#fbc,#fcd,#fff,#f22,#00f,#fcd,#f77,#fcd,#eff,#fbc,#fcd,#f00,#fee,#fff,#bde,#fdd,#fcd,#fbc,#fbb,#f66,#fbc,#fde,#fdd,#f22,#fbc,#fdd,#fdd,#fcd,#fee,#bde,#f99,#fdd,#fff,#fde,#fee,#fdd,#fbb,#fbb,#cef,#f99,#fdd,#f88,#fcd,#fff,#fee,#eff,#fff,#00f,#fdd,#f22,#faa,#fcd,#fdd,#fff,#fee,#fef,#f99,#fde,#fee,#fcd,#fcd,#fcd,#ade,#fcc,#fbc,#f88,#fbc,#9de,#fdd,#fde,#f22,#fbc,#fab,#fee,#fbc,#fee,#fff,#67e,#fbc,#f33,#fef,#fdd,#fbc,#fde,#fee,#def,#fef,#eff,#f11,#fdd,#fee,#ade,#fcd,#fbb,#fee,#fff,#f99,#fdd,#fff,#fcc,#cef,#fdd,#fff,#fff,#fde,#fcc,#cef,#f66,#fff,#fde,#fcc,#fdd,#fcc,#fbb,#bde,#fee,#fef,#fdd,#fff,#fde,#fff,#fcc,#def,#fff,#fcd,#fdd,#fdd,#fcc,#f88,#fcd,#fbb,#fdd,#8ce,#fde,#eff,#ade,#fde,#fff,#fee,#fde,#fde,#fdd,#fff,#fdd,#fee,#fff,#8ce,#fee,#cee,#fcc,#eff,#fde,#fee,#f11,#fab,#bde,#fdd,#fee,#fee,#fdd,#ade,#faa,#f77,#fff,#fdd,#fff,#fff,#def,#fee,#fff,#fff,#fbb,#9ce,#eff,#fef,#9ce,#fee,#fdd,#fff,#fee,#fdd,#fee,#00f,#8ce,#def,#fff,#def,#fee,#fee,#fdd,#def,#fdd,#ade,#fcc,#ade,#fee,#fff,#eff,#f9a,#9ce,#fdd,#8be,#fef,#fcc,#faa,#ade,#fee,#ade,#fab,#def,#fff,#fee,#ade,#fee,#fee,#fdd,#f77,#fee,#fff,#fff,#eff,#eef,#def,#cee,#9ce,#eef,#fdd,#cef,#ade,#cef,#def,#fff,#8ce,#eff,#fff,#fff,#9ce,#69e,#fff,#eff,#cee,#68e,#ade,#eef,#ade,#fee,#bde,#9ce,#cef,#def,#bde,#cef,#fee,#fdd,#fdd,#ade,#eff,#def,#f44,#fee,#eff,#fde,#fff,#def,#cee,#eff,#fee,#fff,#fdd,#eff,#ade,#bde,#fcd,#def,#fff,#9de,#68e,#fcd,#fff,#67e,#def,#fff,#fcd,#9ce,#eff,#f99,#fee,#8be,#fee,#8ce,#def,#def,#7ae,#ade,#cef,#def,#fbc,#fde,#fbb,#def,#faa,#fcd,#bde,#cef,#fee,#fcd,#fef,#fee,#fcd,#ade,#ade,#ade,#fee,#eff,#bde,#eff,#def,#7be,#8ce,#fdd,#fee,#68e,#fee,#fff,#fdd,#ade,#bde,#44f,#fcc,#eff,#fee,#bde,#fee,#fff,#79e,#cef,#7be,#eef,#9ce,#fff,#fff,#def,#cef,#7ae,#fef,#11f,#fff,#9de,#fff,#fff,#fdd,#9de,#cef,#eff,#cef,#fdd,#67e,#fdd,#def,#fee,#fff,#bde,#fff,#fdd,#fbb,#eff,#fff,#fcd,#7be,#fef,#fff,#9de,#def,#ade,#8be,#def,#def,#eef,#ade,#68e,#fde,#8ce,#f55,#eff,#bde,#bde,#fef,#7ae,#eff,#56f,#def,#00f,#fee,#cee,#f88,#def,#fff,#fff,#69e,#cef,#55f,#7ae,#bde,#cee,#cee,#33f,#fdd,#def,#8be,#bde,#eff,#8ce,#fcd,#bee,#fdd,#fee,#68e,#9de,#9de,#bde,#8ce,#fcc,#ade,#fee,#69e,#79e,#00f,#56f,#eff,#fff,#fee,#fff,#fcd,#9de,#def,#fdd,#9ce,#8ce,#8ce,#9de,#00f,#fff,#def,#fee,#79e,#8be,#67e,#8ce,#7ae,#67e,#8ce,#00f,#fee,#67e,#8be,#fee,#22f,#9ce,#ade,#cee,#00f,#cee,#9de,#8ce,#69e,#cef,#bde,#7ae,#7ae,#8ce,#67e,#cee,#9de,#cef,#79e,#00f,#7ae,#8ce,#67e,#8ce,#00f,#67e,#9de,#def,#79e,#67e,#33f,#67e,#8ce,#55f,#79e,#bde,#7ae,#11f,#fcd,#7ae,#33f,#7be,#44f,#bde,#fef)"></div><div class="hr" style="top:1423.18px;background:linear-gradient(90deg,#ade,#faa,#fdd,#cef,#bde,#fcd,#fcd,#fee,#fee,#fee,#fff,#fdd,#fee,#fee,#fee,#def,#eff,#f9a,#cef,#fff,#fee,#fee,#fee,#f77,#cee,#fdd,#fcc,#f9a,#fee,#fcc,#ade,#fee,#fff,#fee,#fdd,#fbc,#fcd,#fde,#55f,#f89,#f00,#11f,#fde,#f00,#f88,#cef,#fee,#fee,#fff,#fdd,#fde,#f77,#fcc,#fcd,#fde,#fdd,#ade,#fbc,#fab,#fff,#fee,#fcc,#fdd,#fcd,#fcd,#eff,#fff,#fee,#fff,#cef,#fcd,#fbc,#fbc,#fcc,#fbb,#def,#eef,#fee,#fff,#ade,#fee,#f00,#fff,#fcc,#fcd,#fee,#eff,#fcd,#def,#fde,#fee,#fde,#fcc,#fee,#def,#eef,#cef,#fee,#bde,#fff,#fcd,#def,#f99,#fee,#f22,#fff,#fcd,#fee,#fff,#fdd,#fee,#fde,#fdd,#fbc,#fbc,#def,#bde,#def,#eff,#fee,#eff,#cef,#def,#fff,#fff,#fef,#8be,#def,#fbc,#def,#fee,#fee,#eef,#cee,#fff,#def,#fee,#def,#fcd,#fdd,#9de,#eff,#fde,#fee,#bde,#cef,#fdd,#fee,#fef,#fcd,#cee,#fee,#fab,#fff,#9ce,#cee,#fee,#fdd,#fde,#cee,#fee,#fcc,#def,#9de,#7ae,#fee,#fff,#eff,#9de,#faa,#eff,#fee,#def,#fff,#fcd,#9de,#fde,#fff,#fef,#9de,#8ce,#8ce,#fab,#fde,#def,#cee,#44f,#bee,#def,#eef,#fde,#44f,#def,#fee,#7be,#8be,#fee,#def,#fee,#fcc,#fee,#def,#cef,#eef,#fff,#faa,#fcd,#fff,#fee,#fff,#69e,#fef,#fde,#fff,#fee,#eff,#bde,#def,#ade,#fff,#f89,#f77,#ade,#fde,#cee,#fde,#f9a,#fff,#bde,#def,#cee,#fff,#fee,#fee,#ade,#fee,#bde,#def,#fee,#eef,#eff,#eff,#fcc,#cef,#67e,#fee,#ade,#fff,#eef,#eff,#eff,#fee,#eff,#eff,#bde,#fee,#def,#fff,#fee,#fff,#fee,#def,#cee,#def,#cee,#7ae,#7ae,#8ce,#ade,#9de,#def,#fee,#fee,#fde,#cef,#fff,#fff,#ade,#fee,#9de,#cef,#def,#bde,#fdd,#fab,#fee,#8ce,#fee,#fee,#7ae,#bde,#56f,#fee,#eef,#def,#ade,#eef,#fee,#fee,#8ce,#fff,#fff,#fee,#55f,#ade,#79e,#cef,#ade,#fee,#fff,#eff,#79e,#fee,#bee,#fee,#fee,#68e,#9ce,#def,#8ce,#fff,#cef,#cef,#fee,#9ce,#cef,#cee,#def,#bde,#fee,#fee,#def,#def,#fcd,#bee,#fff,#fee,#fff,#8be,#9ce,#f88,#fff,#cee,#cef,#fff,#fff,#fdd,#fee,#fff,#bde,#faa,#eff,#8ce,#ade,#ade,#bde,#bee,#def,#cef,#bde,#fdd,#fff,#eff,#def,#eff,#fee,#fff,#def,#69e,#ade,#bde,#f77,#bee,#fbc,#9ce,#fee,#fcc,#eff,#cef,#7ae,#fff,#bde,#8ce,#fff,#eff,#bde,#eff,#44f,#56f,#def,#bee,#cee,#eff,#bee,#fff,#cee,#eff,#eef,#fdd,#8ce,#ade,#eff,#f9a,#8ce,#cef,#55f,#8ce,#fde,#7ae,#9de,#fff,#bde,#fff,#fcc,#ade,#def,#8ce,#def,#def,#eff,#fab,#bee,#8be,#33f,#fde,#ade,#9de,#7be,#8be,#cee,#eff,#bde,#bee,#def,#fff,#7ae,#fee,#33f,#f77,#cee,#bee,#eff,#fff,#eff,#8ce,#cef,#fef,#fee,#cef,#fcc,#bde,#def,#eff,#cee,#8ce,#fff,#7ae,#8ce,#22f,#bde,#bee,#fff,#fde,#fde,#fdd,#8ce,#8ce,#fde,#cef,#8ce,#ade,#ade,#00f,#cee,#eff,#def,#8ce,#8ce,#7ae,#bde,#00f,#56f,#56f,#33f,#def,#68e,#ade,#ade,#22f,#def,#79e,#ade,#00f,#9de,#7ae,#9de,#56e,#7ae,#ade,#cee,#56f,#67e,#9de,#fff,#bde,#8ce,#8ce,#00f,#cee,#fff,#9de,#8ce,#9de,#8be,#8be,#79e,#bde,#44f,#ade,#8ce,#bee,#7ae,#9de,#55f,#ade,#67e,#7ae,#cee,#44f,#cee,#ade,#ade,#cef)"></div><div class="hr" style="top:1444.67px;background:linear-gradient(90deg,#fff,#def,#fee,#fbb,#fbc,#fdd,#fcd,#fbc,#fde,#fcd,#fbc,#fcd,#fff,#fee,#fdd,#eff,#fcc,#fbc,#fcd,#fee,#f9a,#fdd,#fee,#fee,#fee,#fcc,#f77,#fcd,#fee,#fcc,#fde,#fee,#fcd,#f66,#8ce,#f99,#fdd,#fbc,#f00,#fde,#fee,#fcc,#fbb,#f00,#11f,#fee,#ade,#fbc,#fee,#fbc,#fbb,#fde,#fbc,#f99,#fcd,#fcd,#fff,#fdd,#faa,#f89,#fff,#ade,#fff,#fab,#faa,#fcc,#fcc,#fcc,#fff,#fcc,#fcc,#fde,#fbb,#fcd,#fff,#fee,#fde,#eff,#fcd,#fcc,#fdd,#f22,#fcc,#fdd,#fee,#eff,#fde,#fcc,#f88,#fee,#fee,#9de,#fdd,#fff,#eef,#fff,#fcd,#fdd,#f99,#33f,#fcc,#fab,#fee,#fee,#fcd,#fcc,#bde,#fcd,#fee,#fbb,#cef,#fdd,#8ce,#fbc,#eff,#fee,#fcd,#eff,#fdd,#fee,#fdd,#fee,#fde,#cef,#fee,#fde,#fbb,#def,#fcd,#fff,#def,#fff,#fcd,#fdd,#faa,#f88,#fff,#fdd,#fbb,#f89,#fdd,#fee,#fee,#fdd,#fdd,#fde,#fee,#fcd,#fee,#fcd,#bde,#fef,#eff,#9de,#def,#fcc,#fde,#fcd,#fde,#fee,#fde,#fff,#fff,#fee,#fbc,#def,#eff,#eff,#fdd,#fde,#fff,#fdd,#eff,#fee,#fee,#fde,#fdd,#68e,#def,#fef,#cef,#fff,#fff,#eff,#fff,#fee,#fcc,#cef,#fee,#fee,#fef,#fcc,#fff,#def,#eef,#fcc,#fbc,#fcd,#44f,#fcd,#fcd,#def,#bde,#fcc,#fff,#cee,#fee,#fff,#fee,#fee,#fde,#fff,#fde,#fff,#fee,#fee,#cef,#7ae,#ade,#fff,#fdd,#eff,#bde,#bde,#def,#7ae,#fee,#fcc,#bde,#fdd,#ade,#fee,#bde,#fee,#fff,#fee,#fee,#9de,#bde,#fdd,#fcd,#fff,#fee,#fef,#fbb,#bde,#fff,#fdd,#fdd,#fde,#eff,#68e,#fbc,#eff,#fee,#fef,#9ce,#def,#bde,#fef,#cef,#eef,#def,#fde,#bde,#fdd,#f00,#8ce,#cee,#fee,#eff,#fff,#fee,#fff,#79e,#def,#def,#fee,#fff,#bde,#cee,#7ae,#8ce,#fbc,#cee,#eff,#bde,#def,#fff,#fcc,#eff,#cef,#bde,#fde,#fcd,#fff,#bde,#cee,#eff,#cee,#fee,#fdd,#fde,#7be,#f99,#eef,#fde,#8ce,#ade,#fef,#fdd,#ade,#8be,#eef,#eff,#fff,#67e,#fff,#eff,#33f,#8ce,#56f,#def,#fff,#7be,#cee,#8ce,#8ce,#ade,#fee,#8ce,#cef,#56f,#fef,#bde,#eff,#fde,#7be,#fff,#9de,#fee,#8ce,#cee,#7be,#fee,#def,#fff,#bde,#def,#00f,#fff,#ade,#eff,#bde,#fee,#8ce,#fee,#fdd,#def,#7ae,#fee,#fff,#cef,#cef,#fef,#fee,#bde,#def,#def,#ade,#fff,#9de,#cee,#fee,#7ae,#ade,#ade,#def,#def,#8ce,#fee,#eff,#ade,#ade,#bde,#55f,#cef,#56f,#33f,#ade,#8ce,#cef,#def,#fff,#9ce,#f9a,#9ce,#ade,#eff,#9de,#9de,#cee,#cee,#9ce,#cee,#79e,#9de,#def,#cef,#fff,#7be,#bde,#cee,#9de,#def,#00f,#56f,#eef,#def,#fdd,#fff,#bde,#8ce,#68e,#8ce,#ade,#cee,#67e,#def,#fdd,#69e,#bee,#56f,#9de,#7be,#7ae,#8ce,#33f,#fff,#fff,#faa,#f44,#fff,#def,#f88,#def,#ade,#fff,#ade,#fcd,#7ae,#7ae,#9de,#fcd,#ade,#fee,#11f,#7ae,#ade,#8be,#fff,#eef,#fff,#bde,#fee,#9de,#bde,#8be,#8ce,#67e,#cef,#7ae,#bee,#bde,#def,#fee,#56f,#79e,#33f,#ade,#79e,#ade,#7be,#00f,#fab,#56f,#55f,#fde,#00f,#8ce,#9de,#bee,#00f,#fff,#fff,#79e,#79e,#cee,#bde,#def,#9ce,#56f,#8ce,#cee,#fee,#68e,#7ae,#00f,#bde,#00f,#eff,#8be,#00f,#33f,#9ce,#56f,#68e,#56f,#67e,#ade,#7ae,#44f,#8ce,#fff,#79e,#00f,#fff,#56f,#22f,#67e,#9de,#8ce,#eff)"></div><div class="hr" style="top:1466.15px;background:linear-gradient(90deg,#fde,#fee,#fbc,#fbc,#fcd,#fbc,#f88,#fbc,#fff,#fff,#fee,#fcd,#eff,#f99,#fcc,#fde,#fee,#fcc,#fbb,#bde,#fde,#fee,#fff,#fcd,#fff,#f66,#fcc,#fee,#f89,#fdd,#8ce,#fee,#cef,#f99,#fde,#fab,#fde,#faa,#fee,#fdd,#def,#f88,#fff,#f00,#fee,#fde,#fcc,#fff,#fde,#cef,#fcd,#fcd,#fbc,#fdd,#fdd,#fde,#fef,#fee,#f78,#fff,#fdd,#fcc,#fcc,#fee,#fcc,#fef,#fee,#f66,#fcd,#fff,#fdd,#fde,#fcd,#fff,#fcc,#fdd,#fdd,#fee,#eff,#fee,#fff,#f00,#f88,#fcd,#fee,#fff,#fcc,#f9a,#f88,#fde,#9ce,#def,#fbc,#fee,#8be,#fdd,#eff,#f55,#fbc,#fde,#fbb,#fff,#fcd,#fdd,#f67,#9ce,#fbc,#fff,#f9a,#fff,#fee,#fbc,#fff,#faa,#fee,#fee,#f99,#ade,#fdd,#fef,#fab,#fbb,#fff,#fcc,#fcd,#fdd,#def,#fde,#fbc,#fbc,#fee,#fee,#fde,#fee,#fee,#def,#fcc,#fcc,#fcd,#fcc,#fff,#cef,#fdd,#fcc,#fcc,#fdd,#bde,#faa,#faa,#f9a,#bde,#fbc,#fcd,#eff,#f77,#8be,#f9a,#bde,#fcc,#fee,#fee,#f77,#fee,#fee,#fff,#fee,#fff,#def,#def,#fee,#fee,#9de,#def,#fcd,#fff,#79e,#fee,#fee,#def,#fef,#7be,#fdd,#f9a,#fcd,#fcd,#fcd,#fff,#fab,#fcd,#fff,#fab,#fbb,#fdd,#fee,#def,#fff,#fdd,#fcd,#ade,#fdd,#fdd,#fee,#fff,#fee,#fee,#bde,#fcd,#f99,#eff,#fde,#fff,#fdd,#fee,#f77,#fdd,#55f,#cef,#fcc,#7ae,#bee,#f89,#fee,#fee,#eef,#def,#ade,#f99,#ade,#def,#fde,#cee,#fdd,#fde,#eff,#eff,#fcc,#fcd,#cee,#fdd,#fcc,#fff,#fff,#fdd,#def,#def,#fcd,#fdd,#fcc,#fff,#9de,#fff,#fde,#def,#eef,#fee,#fab,#bee,#fff,#eff,#f99,#def,#fde,#ade,#eff,#def,#fbb,#cef,#cee,#fdd,#f88,#fee,#cee,#fee,#def,#fee,#eff,#8ce,#eff,#8ce,#def,#8be,#fdd,#cef,#fdd,#8be,#fff,#bee,#cef,#fee,#eff,#def,#cef,#def,#fff,#fdd,#eff,#cef,#fee,#fde,#fde,#fdd,#fcc,#def,#eff,#fee,#fee,#fcc,#fff,#bde,#fee,#fff,#cee,#fee,#def,#fdd,#bde,#fff,#fff,#ade,#def,#eff,#7be,#bde,#fcd,#fee,#eff,#fef,#fde,#fff,#fff,#fee,#fee,#fbc,#fcc,#68e,#eef,#fcc,#def,#def,#f88,#fcc,#cef,#eff,#eff,#fff,#fff,#7be,#cef,#fdd,#bee,#9ce,#fef,#def,#eff,#fee,#eff,#7be,#cef,#cee,#fee,#fcd,#8ce,#9ce,#eff,#fdd,#eef,#cee,#9de,#eff,#eef,#cef,#8ce,#def,#def,#bde,#fff,#fff,#def,#fee,#cef,#fbc,#eff,#8ce,#bde,#fee,#8ce,#eff,#55f,#fef,#8ce,#cee,#fff,#7be,#fcc,#fbc,#def,#8ce,#68e,#faa,#ade,#67e,#cee,#9de,#bde,#fde,#67e,#eff,#fdd,#bee,#fee,#7be,#def,#fff,#cee,#fee,#fde,#bde,#f9a,#def,#79e,#fee,#bde,#8ce,#cee,#fee,#eff,#fee,#8ce,#bee,#cef,#68e,#67e,#22f,#ade,#def,#7ae,#7ae,#eff,#fee,#cee,#bde,#fff,#8ce,#bde,#faa,#9de,#9ce,#ade,#8be,#def,#cee,#67e,#cef,#faa,#def,#eef,#67e,#bee,#00f,#f00,#fdd,#79e,#fee,#fff,#8ce,#9ce,#68e,#bde,#bee,#8ce,#f88,#9de,#00f,#cee,#fdd,#fbc,#7ae,#79e,#fee,#7be,#7ae,#67e,#9de,#bde,#eef,#7be,#ade,#eef,#00f,#bee,#68e,#eef,#00f,#eff,#cee,#fee,#68e,#8ce,#7be,#8ce,#9de,#7ae,#fee,#def,#def,#fff,#fef,#8ce,#8be,#11f,#ade,#fff,#00f,#8ce,#eff,#33f,#7be,#bde,#56f,#7ae,#cef,#ade,#8ce,#8be,#fee,#11f,#eff,#bde,#00f,#79e,#8ce,#fee,#8ce)"></div><div class="hr" style="top:1487.63px;background:linear-gradient(90deg,#fee,#fee,#fdd,#fee,#fde,#f99,#fde,#fcd,#fdd,#f77,#fcd,#fde,#cef,#fcd,#fbc,#eff,#fdd,#fcd,#def,#fff,#fcd,#fcd,#def,#fdd,#f44,#00f,#f33,#f78,#fcd,#fcd,#fcc,#fff,#fff,#fee,#fee,#fde,#8ce,#fcc,#fab,#fdd,#fcd,#fcc,#f11,#f33,#fbc,#fbb,#def,#fff,#fde,#fdd,#fcd,#faa,#eff,#fdd,#fdd,#fff,#cee,#fdd,#fcd,#fcc,#f77,#f78,#ade,#fde,#fee,#eff,#fcd,#fcd,#fdd,#fde,#f89,#fdd,#fdd,#fde,#cef,#faa,#fef,#fee,#fcc,#fff,#f9a,#f00,#fee,#fcd,#fde,#9ce,#fff,#fcc,#fdd,#fab,#def,#fee,#fbc,#eff,#fff,#fdd,#fdd,#fee,#fcc,#cef,#fff,#fcd,#fcc,#eff,#fab,#def,#fff,#fee,#fef,#fee,#fff,#fff,#fee,#fcd,#f66,#fff,#faa,#fee,#44f,#fcd,#f9a,#fee,#fee,#def,#f66,#fdd,#fde,#bde,#67e,#fbc,#fee,#7ae,#fee,#fff,#fcc,#eef,#def,#fde,#fee,#fbc,#fee,#cef,#f9a,#fde,#f00,#fde,#fdd,#fde,#fff,#fcd,#fee,#fde,#fff,#fee,#eff,#eff,#fef,#fbc,#eff,#68e,#fde,#fff,#fcd,#fef,#bde,#fee,#fcc,#68e,#def,#fde,#eff,#cef,#fdd,#f00,#fdd,#9de,#fdd,#7be,#fee,#fef,#eff,#def,#fde,#fdd,#fee,#bde,#fff,#fff,#faa,#fde,#bde,#fdd,#eff,#fdd,#eff,#fbb,#fff,#fee,#cef,#fee,#bee,#fcc,#bde,#fde,#def,#fde,#fee,#79e,#fbc,#eff,#cee,#fcd,#fcd,#fee,#fee,#fbc,#def,#fff,#fab,#ade,#fcd,#eff,#cef,#fff,#ade,#00f,#bde,#cef,#bde,#def,#fff,#fee,#cef,#8be,#fff,#fcd,#fff,#fff,#eff,#bde,#fcc,#fff,#f88,#fee,#00f,#fee,#fee,#fff,#fff,#def,#fee,#fee,#ade,#8be,#fff,#eff,#fef,#cef,#cef,#fdd,#8ce,#def,#cef,#f44,#7be,#eef,#f00,#cef,#cef,#fff,#ade,#fbb,#fee,#cef,#bde,#9ce,#bde,#fff,#fde,#fcc,#f77,#def,#8ce,#def,#eff,#fdd,#fcc,#9de,#7ae,#fee,#ade,#fef,#eef,#bde,#fee,#eef,#fff,#bde,#fcd,#fee,#fff,#fff,#fdd,#def,#79e,#cee,#eff,#fde,#9de,#ade,#fff,#cee,#fff,#def,#cef,#def,#bee,#eef,#bde,#8ce,#eef,#def,#eff,#cef,#7ae,#fdd,#def,#fbb,#bde,#fdd,#fee,#eff,#eef,#cef,#fff,#fff,#f88,#def,#56f,#7be,#eff,#cee,#def,#9de,#def,#7be,#bde,#def,#eff,#eff,#bee,#f99,#fee,#44f,#cef,#fff,#7be,#fff,#ade,#cef,#fee,#fdd,#cef,#fee,#eff,#fee,#9ce,#eef,#eef,#7be,#eff,#fee,#9ce,#eef,#68e,#ade,#fff,#67e,#9de,#8be,#fff,#ade,#eff,#fff,#fcd,#bde,#eef,#67e,#68e,#def,#68e,#fee,#def,#00f,#def,#ade,#cef,#def,#fee,#9ce,#69e,#fff,#def,#ade,#bde,#56f,#ade,#eef,#fff,#ade,#cee,#def,#fdd,#ade,#fef,#7ae,#8be,#eff,#fde,#ade,#fff,#7ae,#eef,#ade,#8ce,#def,#def,#9ce,#def,#fef,#7ae,#fff,#ade,#f78,#cef,#fee,#def,#33f,#fee,#fff,#8ce,#8be,#fff,#9de,#fff,#eff,#fff,#fee,#7ae,#def,#79e,#def,#9de,#cee,#9ce,#fff,#56f,#cef,#33f,#8ce,#ade,#fee,#eff,#def,#8be,#eef,#8be,#cef,#ade,#9ce,#79e,#ade,#44f,#9de,#cef,#fee,#7ae,#fee,#79e,#ade,#7be,#33f,#79e,#9ce,#fff,#8ce,#9de,#eff,#44f,#8ce,#8ce,#ade,#00f,#def,#fee,#bde,#44f,#8ce,#67e,#79e,#8ce,#69e,#eff,#fff,#eff,#fee,#67e,#00f,#def,#8ce,#ade,#8ce,#55f,#00f,#ade,#9ce,#44f,#55f,#22f,#8ce,#9de,#67e,#67e,#44f,#bde,#00f,#55f,#79e,#22f,#7ae,#00f,#68e,#bde)"></div><div class="hr" style="top:1509.11px;background:linear-gradient(90deg,#fcd,#fee,#fff,#fcc,#fee,#fcd,#cef,#f77,#fcc,#fff,#fdd,#fcd,#fee,#def,#fcd,#eef,#fcd,#fbc,#55f,#56f,#fde,#fde,#fdd,#fde,#fee,#fff,#eff,#faa,#fdd,#79e,#fbc,#fdd,#fff,#fff,#fcd,#fdd,#fee,#fcd,#fdd,#fef,#fde,#fbb,#fcd,#fcd,#fcc,#fff,#fee,#9de,#fbb,#faa,#fee,#f55,#fdd,#fcd,#fbb,#fee,#fff,#cee,#fee,#fee,#fcc,#fef,#f66,#fcd,#ade,#fff,#fff,#ade,#def,#fde,#f00,#fff,#fff,#fdd,#fcd,#ade,#fee,#def,#eef,#67e,#f00,#f33,#fde,#faa,#f99,#def,#eff,#fbc,#fdd,#fdd,#fde,#fdd,#fbc,#eff,#fee,#fcd,#def,#fff,#f77,#fde,#fde,#fbc,#f77,#fee,#fde,#bde,#fbc,#8ce,#fde,#fdd,#fcc,#f9a,#eef,#fab,#fef,#f9a,#fff,#eef,#eff,#fcd,#f9a,#def,#fff,#fcd,#fdd,#fde,#fff,#fff,#fcc,#fde,#fff,#f44,#fdd,#fdd,#fff,#fee,#fde,#eff,#bde,#11f,#fee,#fee,#fbb,#fee,#eff,#f55,#fbc,#fff,#fdd,#bde,#fee,#eff,#eff,#fbb,#fdd,#ade,#fcd,#f99,#fdd,#fee,#fde,#f99,#fde,#fff,#fee,#fdd,#fee,#eef,#fdd,#fee,#eff,#fee,#faa,#fcc,#def,#fff,#fdd,#fee,#00f,#fee,#fdd,#fdd,#eff,#fff,#fdd,#fee,#7ae,#def,#fee,#f99,#fbb,#fef,#bde,#eff,#eef,#ade,#f99,#fff,#67e,#ade,#fff,#eef,#ade,#fdd,#def,#fbc,#fff,#def,#fde,#eff,#fee,#fcd,#fcd,#fff,#fee,#fcc,#def,#7ae,#fff,#fde,#fef,#fff,#eef,#fff,#fee,#ade,#eff,#cef,#fee,#fee,#def,#fdd,#55f,#fee,#fdd,#fee,#7ae,#fff,#fee,#eff,#fef,#fff,#fee,#bde,#eff,#fdd,#fff,#fcc,#fff,#fee,#def,#fee,#cef,#7ae,#fee,#fee,#cef,#ade,#fde,#fee,#def,#fff,#fdd,#f89,#eff,#def,#ade,#cef,#fff,#fde,#fdd,#fbb,#f00,#fee,#fcd,#eff,#fdd,#fde,#fcc,#9ce,#fff,#cef,#bde,#fee,#faa,#fff,#def,#fff,#def,#55f,#8be,#fbb,#fee,#7ae,#fee,#fff,#def,#fcc,#def,#fcd,#f9a,#fff,#cee,#eff,#bde,#eff,#fff,#ade,#fee,#ade,#fee,#7be,#ade,#def,#fcd,#eef,#ade,#8be,#cee,#cee,#fff,#fcd,#fff,#68e,#def,#fbc,#def,#fbb,#bde,#fee,#eff,#fcd,#fab,#fff,#fef,#bde,#fee,#fee,#cee,#bee,#fff,#eef,#f77,#7be,#faa,#cee,#fbc,#fee,#eef,#fde,#def,#bde,#fff,#fff,#def,#eef,#fee,#bde,#cef,#ade,#eef,#fdd,#eff,#def,#fcc,#fee,#ade,#def,#def,#fdd,#9de,#cef,#def,#def,#9ce,#fff,#7ae,#68e,#def,#def,#fef,#cef,#eff,#ade,#fff,#9de,#fdd,#67e,#ade,#fff,#fff,#fcc,#fde,#fee,#def,#cee,#def,#fee,#eef,#bde,#cef,#fcd,#ade,#7be,#67e,#56f,#8ce,#f99,#cef,#bee,#cee,#eff,#faa,#8ce,#eff,#8ce,#9de,#8be,#fdd,#fbb,#fee,#ade,#fdd,#fff,#fcd,#ade,#fff,#9ce,#eff,#cee,#8be,#9ce,#ade,#56f,#cee,#def,#fef,#00f,#eef,#def,#7be,#8ce,#9de,#ade,#fff,#def,#9de,#fab,#9ce,#fee,#67e,#def,#f78,#bde,#bde,#fff,#7be,#ade,#44f,#ade,#eff,#fee,#eef,#fff,#fff,#fff,#def,#def,#68e,#57e,#9ce,#8be,#00f,#def,#fee,#cef,#ade,#cee,#fdd,#cee,#bde,#def,#67e,#8ce,#eff,#9de,#8ce,#ade,#44f,#7ae,#9de,#8ce,#00f,#9de,#def,#ade,#def,#8ce,#bde,#8ce,#8ce,#9de,#44f,#9de,#cef,#7be,#7ae,#8ce,#bde,#8ce,#ade,#bee,#8ce,#79e,#fee,#9de,#cee,#67e,#7be,#9ce,#8ce,#9ce,#67e,#22f,#00f,#00f,#fde,#bde,#67e,#cee,#68e,#ade,#cee)"></div><div class="hr" style="top:1530.59px;background:linear-gradient(90deg,#fef,#eff,#fff,#faa,#fde,#fdd,#fde,#fde,#f89,#fdd,#def,#fee,#fee,#fcc,#fdd,#fee,#fbc,#fde,#fcd,#eef,#fcd,#fab,#fcd,#fdd,#eff,#fcc,#fcc,#fee,#fde,#fff,#fde,#fee,#eff,#fdd,#fdd,#fbc,#fcd,#fde,#fff,#fbc,#eff,#faa,#eff,#fbc,#fff,#fee,#fee,#fdd,#fdd,#fee,#fcc,#def,#fcd,#fdd,#fdd,#fff,#fff,#def,#fee,#fee,#fee,#eef,#fde,#fcd,#eff,#fff,#f88,#bee,#fff,#fdd,#faa,#fee,#f99,#fdd,#fcc,#fab,#fdd,#fee,#fee,#eff,#fee,#f00,#fee,#fff,#fee,#eff,#bde,#fde,#fab,#fee,#fef,#fee,#9de,#ade,#fee,#fdd,#fdd,#fbb,#f00,#fde,#fff,#fdd,#fcd,#fde,#fee,#fcc,#fcd,#cef,#def,#fee,#fff,#fcd,#fee,#fcc,#def,#eff,#fcc,#ade,#fde,#fcd,#fde,#fee,#8ce,#fff,#fff,#fdd,#fdd,#fcd,#fff,#fee,#9de,#def,#fff,#fbc,#fdd,#fde,#fcc,#fee,#fff,#fde,#def,#fdd,#f99,#fdd,#fdd,#def,#eff,#fcd,#fcc,#fdd,#fbc,#fee,#fbc,#fde,#f9a,#cee,#fee,#fee,#fcd,#fcc,#fff,#fff,#fee,#fcd,#fde,#fde,#ade,#fee,#fcd,#fee,#fee,#eff,#cef,#fcc,#bee,#fde,#fff,#eff,#fee,#bde,#9de,#f00,#bde,#fee,#eef,#8ce,#fcc,#def,#f9a,#fde,#fff,#fee,#00f,#def,#fee,#ade,#bee,#fff,#cee,#8ce,#fee,#eff,#f88,#68e,#cee,#cee,#bde,#fee,#def,#fcd,#ade,#eff,#fee,#fcc,#fff,#fdd,#bde,#cee,#cef,#fff,#def,#bde,#fee,#fee,#fff,#fee,#9ce,#9ce,#ade,#eff,#f88,#fff,#cef,#bee,#fcc,#fde,#fff,#eff,#eff,#fcd,#fff,#fdd,#eef,#cee,#cee,#fde,#fee,#def,#f99,#fbb,#9ce,#def,#eff,#bde,#fee,#fee,#bde,#f77,#8be,#9de,#cef,#fee,#f00,#9de,#8ce,#cef,#def,#fbb,#def,#fee,#fab,#fff,#f99,#9ce,#cee,#11f,#bde,#eef,#def,#fff,#eff,#fee,#fcc,#fee,#eff,#ade,#def,#fff,#8ce,#8ce,#fef,#fdd,#bde,#9de,#ade,#eff,#fbc,#eff,#fbc,#fef,#cef,#def,#bde,#9ce,#fff,#fff,#fee,#eef,#9de,#fdd,#def,#bde,#eff,#fbc,#fee,#cee,#79e,#fdd,#fff,#def,#fee,#eff,#fff,#fff,#fff,#fef,#def,#eff,#79e,#fff,#cef,#eef,#fff,#fff,#def,#bde,#fff,#def,#fcd,#def,#def,#cee,#bde,#fff,#fee,#ade,#def,#bde,#fef,#fff,#9de,#fcd,#eff,#eff,#def,#fee,#ade,#cef,#cee,#67e,#fbb,#9ce,#9ce,#fee,#fee,#fee,#def,#fff,#eef,#fff,#def,#bde,#fbc,#ade,#ade,#fee,#bde,#fee,#bde,#cee,#fbc,#fff,#7ae,#55f,#bde,#00f,#fdd,#67e,#fdd,#eff,#eef,#fbb,#bde,#cef,#ade,#ade,#9de,#7ae,#def,#cee,#7ae,#cee,#ade,#faa,#69e,#56f,#fdd,#fef,#fee,#79e,#8ce,#bee,#fff,#fee,#fde,#bee,#def,#ade,#bde,#eff,#8ce,#7be,#def,#00f,#fdd,#9de,#fff,#8ce,#eff,#fff,#7be,#7ae,#bde,#8ce,#7ae,#44f,#def,#fff,#def,#fdd,#bde,#fdd,#8ce,#ade,#bde,#ade,#eff,#fdd,#8ce,#8ce,#fcc,#def,#ade,#22f,#bde,#cef,#ade,#8be,#00f,#cee,#fde,#9ce,#def,#ade,#ade,#def,#7ae,#8ce,#8ce,#68e,#9de,#ade,#22f,#fee,#fff,#def,#8ce,#cee,#55f,#bde,#fdd,#8ce,#def,#22f,#def,#7be,#7ae,#bde,#11f,#eef,#ade,#ade,#cef,#eff,#def,#7ae,#cee,#ade,#67e,#eff,#bde,#8be,#cee,#cef,#7ae,#def,#9ce,#7ae,#ade,#68e,#ade,#bde,#68e,#44f,#fee,#9de,#9de,#7ae,#8ce,#bde,#8ce,#56f,#ade,#8ce,#9ce,#33f,#ade,#8ce,#67e,#55f,#ade,#ade,#fff)"></div><div class="hr" style="top:1552.08px;background:linear-gradient(90deg,#fee,#fcd,#fef,#fab,#ade,#f89,#f55,#fcd,#fdd,#fde,#def,#f88,#fdd,#f44,#fff,#fdd,#fff,#44f,#fdd,#fdd,#f66,#f55,#fee,#fde,#fdd,#fcd,#ade,#f77,#fbc,#fdd,#fee,#eff,#fcd,#f9a,#bde,#fdd,#cef,#fee,#fcc,#fcd,#fab,#fcc,#fbc,#fdd,#fdd,#fbc,#eff,#67e,#f99,#fbc,#fcd,#fbc,#f78,#def,#fde,#fcc,#fbc,#f00,#fde,#fdd,#ade,#fcc,#7be,#fcd,#fbc,#fbc,#fdd,#fde,#fee,#fee,#fbc,#fee,#fff,#fdd,#fdd,#fee,#fbb,#fee,#fab,#fff,#fcc,#f00,#7ae,#7ae,#fff,#fff,#fee,#fdd,#fab,#00f,#fee,#fde,#cee,#fee,#fde,#fdd,#fbc,#fcd,#fcd,#fdd,#fcc,#fee,#fdd,#fde,#faa,#fee,#f9a,#fbb,#f11,#f33,#fcc,#fcd,#fde,#faa,#fbb,#def,#fcd,#fef,#f99,#fcd,#fee,#fcd,#fcd,#9de,#fde,#fee,#fcd,#fcd,#fde,#fee,#fee,#fbc,#fde,#fdd,#fee,#fbb,#fee,#fbc,#fee,#fbc,#fde,#fff,#fee,#fde,#fde,#fbb,#fde,#fcd,#fee,#fff,#fde,#f88,#fff,#fdd,#fee,#7be,#faa,#fdd,#fde,#fee,#fdd,#fdd,#eef,#fcd,#fff,#fff,#fff,#fee,#def,#fbc,#ade,#fbb,#eff,#fee,#fee,#fee,#fcc,#ade,#fff,#fff,#fdd,#fde,#fcc,#fde,#fff,#fbc,#fdd,#69e,#fcc,#fff,#fcd,#def,#8be,#fee,#f33,#fab,#fcd,#fcd,#faa,#f88,#fcd,#fde,#fff,#fcc,#69e,#cef,#fee,#fbc,#fee,#fee,#fee,#fdd,#f66,#cef,#f88,#fee,#fff,#fcd,#9de,#fdd,#fab,#fbb,#bee,#eff,#fee,#fdd,#fcd,#fde,#eff,#fdd,#fdd,#fcd,#fee,#fff,#fff,#fdd,#fde,#eff,#fde,#fdd,#fee,#fcd,#f77,#fee,#def,#fde,#fde,#fef,#eff,#fef,#fdd,#fee,#cef,#def,#eff,#def,#9de,#eff,#bde,#cee,#fff,#cef,#fff,#fcd,#fdd,#fee,#fee,#8be,#def,#fde,#fff,#fee,#fcd,#fde,#fee,#ade,#9de,#fcd,#fee,#eff,#def,#fee,#def,#eef,#fab,#fbc,#9de,#00f,#cef,#fee,#fff,#fee,#cef,#fdd,#fff,#f99,#fbc,#fee,#fcc,#def,#fee,#fee,#bde,#7ae,#eef,#eff,#eff,#8ce,#def,#fde,#fdd,#def,#fff,#bde,#fee,#ade,#cee,#fff,#9ce,#9de,#fff,#fcc,#eef,#fcd,#bde,#fcd,#9de,#fee,#def,#def,#fcc,#9ce,#bde,#8ce,#fff,#fdd,#fdd,#fee,#fee,#cee,#cef,#ade,#ade,#eef,#8ce,#fdd,#cee,#7ae,#8ce,#fbb,#79e,#cef,#fff,#bde,#9de,#fcd,#eff,#fcd,#eff,#9ce,#fff,#fde,#bde,#fff,#fef,#eef,#7be,#fbc,#fee,#fee,#ade,#68e,#eff,#fdd,#67e,#fde,#fab,#bde,#fab,#ade,#fff,#fde,#ade,#68e,#fee,#8ce,#eff,#fbb,#79e,#9de,#fde,#fff,#fde,#bde,#fcd,#f44,#ade,#fcc,#fff,#bde,#00f,#fff,#cee,#f33,#def,#8be,#eff,#bee,#ade,#8ce,#def,#bde,#fee,#def,#cef,#f9a,#8be,#fff,#fab,#eef,#fff,#fdd,#8be,#11f,#7ae,#68e,#def,#bde,#bee,#fef,#68e,#9de,#fee,#f44,#cee,#def,#fff,#44f,#fff,#8be,#79e,#cef,#8ce,#fef,#eff,#eff,#def,#cee,#cee,#ade,#8ce,#cee,#def,#ade,#eef,#fcd,#11f,#9de,#fee,#8ce,#fee,#8ce,#ade,#cef,#bde,#55f,#8ce,#fff,#bde,#7be,#22f,#7be,#8ce,#fff,#bde,#fdd,#eff,#fdd,#33f,#68e,#9de,#55f,#8ce,#00f,#fdd,#68e,#fff,#8ce,#00f,#fee,#9de,#8ce,#00f,#cee,#bde,#7ae,#def,#8ce,#cee,#8be,#8ce,#fff,#bde,#9ce,#cef,#8ce,#faa,#55f,#fff,#8ce,#ade,#68e,#00f,#33f,#8ce,#67e,#56f,#44f,#22f,#79e,#8ce,#56f,#8be,#8ce,#bde,#00f,#def,#68e,#33f,#cee,#8be,#8ce,#def)"></div><div class="hr" style="top:1573.56px;background:linear-gradient(90deg,#eff,#fee,#fee,#faa,#faa,#fcd,#fcd,#fdd,#fbb,#fde,#def,#faa,#fde,#fcc,#fcc,#fab,#faa,#faa,#fdd,#cee,#faa,#fcc,#cef,#fee,#fdd,#fee,#fcd,#fee,#f9a,#fcd,#fcc,#fff,#fcd,#fdd,#f00,#fbc,#fbc,#fee,#fcc,#fee,#fcc,#fee,#fff,#f00,#fef,#fee,#fcd,#cee,#fcd,#fee,#fcc,#f89,#fab,#fee,#fdd,#faa,#fff,#f77,#fde,#f9a,#fff,#f55,#fde,#fbb,#fcc,#fcc,#cee,#fcd,#fab,#fde,#f78,#fcd,#fff,#f99,#fab,#fcd,#eff,#fdd,#fbc,#fee,#fcc,#f11,#fbc,#faa,#fab,#fff,#fee,#def,#f77,#fdd,#fcc,#fde,#fdd,#eff,#fcd,#def,#fcd,#fdd,#fff,#fdd,#fff,#f00,#fdd,#def,#fcc,#fff,#fcd,#fdd,#fcd,#fbb,#fbc,#fbc,#fee,#f9a,#fff,#fef,#fcd,#fde,#fef,#fee,#fdd,#fff,#fee,#eff,#fcd,#fef,#fcc,#8be,#fbc,#eef,#fff,#fff,#fdd,#fef,#fee,#fff,#fdd,#fdd,#fdd,#fee,#fdd,#fdd,#fde,#9de,#fff,#fff,#fff,#fcd,#eff,#fee,#fff,#fee,#fee,#fff,#f66,#8ce,#eff,#fdd,#fbc,#eff,#fdd,#fff,#fcd,#faa,#eef,#fee,#def,#eff,#fbc,#fee,#bde,#eff,#eff,#fdd,#9ce,#f99,#fde,#8ce,#fff,#fee,#fff,#fbc,#ade,#fff,#eef,#fff,#f77,#fff,#fcd,#cef,#fdd,#eff,#cee,#f88,#fff,#def,#fee,#fee,#fee,#fee,#faa,#fcd,#fee,#fee,#9de,#eff,#fee,#def,#cee,#fde,#fff,#fde,#eff,#fee,#eff,#fab,#eff,#fee,#cee,#fdd,#fdd,#fff,#fff,#fee,#eef,#fde,#fef,#9ce,#def,#fff,#8ce,#9ce,#fbc,#def,#fff,#fee,#def,#def,#fff,#fdd,#cee,#eff,#fcd,#fff,#7be,#fcd,#fdd,#f99,#fcc,#fee,#faa,#cef,#fff,#bde,#fbc,#def,#eff,#bde,#fee,#fcd,#fff,#eff,#fee,#eff,#f00,#def,#eff,#def,#fff,#cef,#fee,#cee,#eef,#9de,#fff,#fff,#79e,#def,#ade,#fde,#ade,#bde,#cee,#9ce,#fdd,#fcd,#fff,#fcc,#eff,#cef,#8ce,#fff,#fbc,#fff,#fff,#fee,#eff,#def,#def,#fff,#fdd,#fff,#eef,#bde,#bde,#cee,#bde,#8ce,#ade,#faa,#fff,#79e,#def,#fff,#fcc,#cef,#9de,#fff,#bde,#7be,#fdd,#9de,#9ce,#ade,#8ce,#fee,#9ce,#fcd,#cef,#bde,#bde,#00f,#fff,#fff,#ade,#bde,#fcd,#eff,#fee,#def,#cee,#cee,#00f,#def,#bde,#fff,#def,#fee,#fff,#fdd,#bde,#fff,#bde,#bee,#fee,#fff,#eff,#ade,#bde,#fcc,#7be,#fff,#eef,#fff,#def,#fff,#9de,#8ce,#79e,#fee,#fff,#ade,#ade,#ade,#7be,#cee,#fff,#68e,#eff,#7be,#def,#cee,#cee,#cee,#def,#8ce,#def,#fff,#9de,#eff,#fde,#fff,#def,#8be,#cee,#def,#def,#f99,#bde,#ade,#ade,#cee,#ade,#68e,#cef,#79e,#9de,#fff,#def,#def,#ade,#ade,#fee,#9de,#fff,#fff,#8ce,#8ce,#fff,#7ae,#eff,#9de,#8be,#fff,#7be,#fbb,#cee,#8ce,#ade,#fff,#79e,#cee,#cee,#7be,#bde,#bde,#def,#11f,#def,#eef,#fff,#9ce,#9ce,#def,#def,#fff,#fff,#fdd,#7be,#cee,#68e,#bde,#9de,#fde,#fff,#fee,#67e,#7ae,#00f,#7ae,#def,#7be,#fff,#9de,#fff,#8ce,#8ce,#9de,#00f,#68e,#9ce,#8ce,#00f,#fff,#eff,#cee,#79e,#cef,#7be,#8ce,#faa,#ade,#79e,#11f,#fee,#bde,#7ae,#cef,#def,#8ce,#22f,#8ce,#00f,#9de,#eef,#bde,#68e,#8ce,#fdd,#8ce,#def,#9de,#56f,#cef,#ade,#7ae,#ade,#79e,#56f,#55f,#8ce,#8ce,#79e,#44f,#fff,#8ce,#79e,#ade,#67e,#8ce,#79e,#22f,#9ce,#bde,#7be,#11f,#ade,#8be,#8be,#7ae,#68e,#8ce,#7be)"></div><div class="hr" style="top:1595.04px;background:linear-gradient(90deg,#fee,#fee,#bde,#fde,#faa,#fdd,#fff,#f9a,#fab,#f22,#fde,#fee,#ade,#fff,#eff,#fee,#fdd,#fee,#fff,#fcd,#fee,#fde,#eff,#fcd,#fdd,#fdd,#fcd,#fbc,#faa,#fdd,#cee,#fee,#fcc,#fdd,#fbc,#fdd,#f66,#fbc,#def,#f22,#fef,#f77,#fdd,#fdd,#fcc,#bde,#fee,#bee,#fff,#fcd,#fdd,#f99,#fdd,#fcc,#fff,#fbc,#fcd,#fee,#fbc,#fdd,#fee,#fee,#fbb,#fcd,#fcc,#fff,#def,#fef,#fdd,#fee,#fab,#fcd,#fde,#fde,#fde,#fdd,#fef,#ade,#fcd,#fde,#fcc,#f00,#fff,#f88,#fef,#cef,#def,#f99,#fee,#fdd,#fee,#fee,#fff,#def,#fff,#fcc,#fee,#fcc,#f44,#ade,#fdd,#fff,#fee,#cef,#fbc,#fde,#fcd,#def,#fff,#fdd,#fff,#fdd,#fee,#fcc,#eff,#fff,#fcc,#fef,#def,#fdd,#fbc,#fdd,#fcc,#fff,#fcd,#fcd,#fee,#fee,#f99,#fee,#bde,#def,#fcd,#fcc,#fff,#fee,#fcd,#fcd,#fcd,#fee,#68e,#fdd,#fff,#fee,#fff,#fee,#f89,#faa,#fdd,#fcc,#fdd,#fde,#fee,#f78,#fee,#79e,#fee,#faa,#f11,#eff,#fdd,#fcc,#fff,#fee,#faa,#fdd,#9de,#bde,#fdd,#fde,#ade,#fee,#fff,#fee,#def,#fcc,#fee,#eff,#fbc,#eef,#68e,#fee,#fee,#fee,#fff,#fab,#fee,#fee,#fee,#fff,#fff,#fde,#9ce,#fcd,#ade,#bde,#fff,#faa,#eff,#fdd,#fee,#bde,#fee,#cee,#fee,#fff,#fee,#cef,#cef,#f66,#fee,#fdd,#fdd,#cee,#fee,#eff,#ade,#faa,#fff,#fee,#fee,#fee,#eff,#fdd,#def,#fee,#eff,#cee,#fff,#fee,#cee,#fbb,#bee,#fff,#def,#bee,#9de,#fee,#fee,#cee,#fcd,#fff,#eef,#fcd,#fee,#fcd,#eff,#fbc,#fff,#fdd,#fff,#fdd,#bde,#eef,#8ce,#def,#fff,#fee,#eff,#fdd,#cee,#fee,#fff,#bde,#fff,#fef,#fff,#7ae,#fee,#fff,#bee,#def,#fee,#fff,#fff,#fee,#cef,#eef,#def,#eff,#bde,#def,#68e,#fff,#fdd,#bde,#fff,#7ae,#def,#fee,#fff,#def,#cee,#7ae,#fee,#cef,#fdd,#7ae,#cef,#33f,#eff,#ade,#def,#9ce,#cee,#cef,#ade,#bde,#fee,#fcd,#fff,#cef,#fee,#fee,#fde,#fff,#ade,#fee,#fee,#cee,#fee,#cef,#def,#fff,#7ae,#fff,#7be,#def,#eff,#eef,#fff,#cef,#def,#eff,#ade,#fff,#fee,#9ce,#fee,#fff,#8ce,#8ce,#9ce,#cef,#fbc,#bee,#cef,#fee,#fee,#fee,#cee,#fde,#fee,#eff,#9ce,#fef,#def,#fee,#7ae,#8ce,#fee,#56e,#fef,#fff,#fff,#cee,#cee,#fee,#fde,#fee,#9de,#fdd,#9de,#f44,#9de,#def,#def,#f88,#def,#def,#fff,#fee,#9de,#ade,#fff,#ade,#def,#68e,#7be,#fff,#def,#ade,#eef,#cee,#f66,#def,#eff,#fff,#fee,#def,#cef,#ade,#fff,#8be,#eef,#68e,#68e,#f99,#fff,#9ce,#fdd,#fcc,#eff,#ade,#fff,#eef,#9ce,#7be,#eef,#eef,#fee,#8ce,#def,#11f,#cee,#9de,#fee,#def,#8ce,#fee,#7ae,#fff,#8ce,#ade,#9ce,#cee,#cef,#bde,#fee,#cee,#79e,#fee,#22f,#55f,#ade,#fbc,#fff,#fee,#fdd,#fff,#bee,#8ce,#cee,#fdd,#ade,#def,#def,#7be,#55f,#ade,#eff,#7ae,#fee,#8ce,#fff,#8be,#ade,#eff,#f00,#9de,#cee,#cee,#00f,#cee,#ade,#fef,#68e,#9de,#56f,#bde,#8be,#68e,#55f,#79e,#bde,#22f,#8ce,#cef,#fff,#8ce,#bde,#eff,#00f,#fcc,#68e,#fff,#9de,#fbc,#8ce,#cee,#ade,#22f,#f99,#bde,#f89,#fff,#9de,#00f,#8ce,#7ae,#8be,#7ae,#11f,#7ae,#7ae,#8ce,#7be,#33f,#8ce,#68e,#7be,#8ce,#bde,#22f,#ade,#00f,#fee,#bde,#11f,#ade,#7be,#69e,#9de)"></div><div class="hr" style="top:1616.52px;background:linear-gradient(90deg,#fcd,#fde,#eff,#fbb,#fbb,#fbc,#f89,#fbc,#fcc,#faa,#fbb,#fcd,#fee,#fdd,#eef,#fee,#fbc,#fee,#fab,#eff,#fdd,#fde,#fcd,#fcd,#fcc,#def,#fbc,#def,#f99,#fee,#fcc,#fcc,#fdd,#fcd,#7be,#fbb,#fcd,#fbb,#fbc,#fcc,#cef,#fde,#bde,#f11,#fdd,#eff,#fee,#fab,#fde,#fde,#fff,#fcc,#fdd,#eff,#fee,#fee,#fde,#fbc,#fcc,#fcd,#fef,#fdd,#fdd,#fab,#fcd,#def,#fff,#fdd,#fde,#f9a,#fcd,#fff,#fff,#fdd,#fee,#fee,#fff,#fbc,#fcc,#fcd,#fde,#f22,#fbb,#fcc,#fdd,#fff,#fbc,#fbb,#fbc,#56f,#fcc,#def,#fee,#fee,#fee,#fbb,#fcd,#fee,#eef,#fdd,#fff,#fff,#fee,#fbc,#f88,#def,#fee,#eff,#fdd,#fcc,#fdd,#fee,#fef,#fcd,#fcd,#f55,#fdd,#fdd,#f99,#fbc,#eff,#fee,#fcc,#def,#fde,#f99,#fef,#fee,#fdd,#fee,#fcd,#fff,#fee,#fcc,#fdd,#fcd,#fde,#fff,#fbc,#faa,#56f,#fde,#fee,#f9a,#fee,#f99,#eef,#faa,#fdd,#fcd,#fcc,#fdd,#9de,#fde,#eef,#def,#fcc,#f77,#fcc,#fee,#fde,#fde,#fee,#eef,#fdd,#def,#fff,#fee,#eef,#fff,#fbc,#fff,#fde,#fcd,#bee,#fee,#fdd,#cee,#fee,#fff,#def,#f66,#fef,#fee,#fff,#eff,#fcc,#fcd,#fde,#def,#fee,#fcd,#7be,#fbc,#fff,#9ce,#cee,#fee,#fee,#fee,#9de,#fff,#cee,#ade,#9de,#cef,#def,#fcc,#fff,#fef,#fcd,#fdd,#fff,#fff,#fde,#fdd,#fff,#fff,#fff,#fde,#fde,#cee,#7be,#fee,#ade,#fde,#f55,#fff,#def,#9de,#def,#fee,#def,#fff,#fff,#fee,#fbc,#cee,#fee,#fff,#9de,#eef,#fcc,#fff,#cee,#def,#fef,#fcd,#eff,#def,#eff,#fdd,#eff,#eff,#ade,#cee,#fdd,#fff,#ade,#cee,#7be,#8ce,#faa,#fee,#def,#fee,#bee,#def,#67e,#bde,#fee,#fee,#fee,#00f,#cef,#fee,#eff,#eff,#fef,#fff,#f99,#fff,#7ae,#eff,#f77,#fde,#eff,#ade,#fdd,#fff,#bde,#eef,#cef,#fee,#def,#def,#cef,#fee,#def,#eff,#f99,#fef,#ade,#9de,#fff,#def,#69e,#8ce,#fff,#fdd,#fbc,#8ce,#fee,#cee,#fdd,#fee,#def,#fee,#eff,#bde,#fee,#fff,#fee,#fee,#fde,#def,#fff,#fee,#fee,#fde,#ade,#fff,#9de,#fcc,#8ce,#eff,#fdd,#9ce,#fdd,#bde,#eff,#bee,#fff,#9de,#cee,#ade,#ade,#9ce,#9ce,#cef,#9de,#fee,#eff,#ade,#00f,#cee,#79e,#eef,#eff,#9de,#fee,#def,#cee,#ade,#7ae,#7be,#8ce,#fee,#fff,#7ae,#f33,#fff,#bde,#fee,#7be,#fff,#def,#7be,#8ce,#8ce,#fee,#eff,#9ce,#cee,#fbc,#7be,#eef,#68e,#7be,#cef,#fee,#fff,#fee,#def,#cef,#9de,#ade,#eef,#cef,#69e,#7ae,#ade,#8ce,#cef,#eff,#68e,#bde,#fee,#fee,#7ae,#55f,#fee,#cef,#22f,#68e,#fee,#7be,#ade,#def,#8ce,#eef,#eff,#56e,#9de,#fde,#eef,#fdd,#7ae,#eff,#fee,#eff,#cee,#cef,#bde,#9ce,#8ce,#cee,#55f,#fff,#67e,#8ce,#bde,#79e,#22f,#f55,#eff,#bde,#fee,#def,#eff,#9de,#9ce,#eff,#fee,#ade,#cef,#cee,#7ae,#67e,#cee,#fee,#ade,#fff,#cef,#def,#eef,#def,#bde,#69e,#8ce,#fef,#ade,#00f,#fff,#9de,#fee,#7ae,#67e,#bde,#7ae,#ade,#11f,#8ce,#22f,#def,#8be,#def,#fff,#9de,#fff,#9ce,#cef,#00f,#ade,#9de,#79e,#8ce,#eff,#67e,#8be,#7be,#7ae,#7be,#ade,#9de,#44f,#cef,#00f,#7be,#00f,#7ae,#8ce,#22f,#44f,#f77,#7ae,#9ce,#44f,#44f,#56f,#69e,#33f,#cef,#44f,#7be,#00f,#fee,#67e,#11f,#68e,#8be,#7ae,#bde)"></div><div class="hr" style="top:1638.00px;background:linear-gradient(90deg,#9de,#def,#fdd,#fee,#fdd,#fcd,#fee,#fdd,#fcd,#ade,#fcc,#fdd,#fbb,#fbb,#fee,#ade,#fff,#faa,#fee,#fcd,#fdd,#fff,#fee,#fff,#fff,#fdd,#f55,#fbb,#fbc,#fbb,#fdd,#fee,#f99,#fcc,#fee,#fcc,#fcc,#faa,#fee,#fcd,#fdd,#f00,#fcd,#fee,#fcc,#fff,#fdd,#fbc,#fdd,#fab,#fdd,#fbb,#f55,#fcd,#fff,#fee,#def,#fdd,#fee,#8be,#cee,#ade,#fdd,#fff,#7ae,#fde,#fee,#bee,#fcc,#fde,#fdd,#fcc,#fee,#fde,#fef,#fcc,#fff,#def,#fdd,#fcc,#f89,#fdd,#fdd,#faa,#fdd,#7ae,#eff,#f9a,#fdd,#fef,#fee,#fff,#fff,#ade,#eff,#f88,#eff,#faa,#fee,#cee,#fdd,#def,#cee,#eff,#fcd,#fee,#f89,#9ce,#fee,#cef,#def,#fab,#fdd,#fee,#fff,#cee,#fde,#fcd,#fde,#fff,#fff,#fdd,#fde,#fdd,#fde,#fee,#def,#fcd,#fbc,#bde,#bde,#fff,#fcd,#fff,#fdd,#eff,#68e,#fff,#fee,#fdd,#f88,#f00,#def,#cee,#fef,#fff,#ade,#eff,#fab,#cee,#fff,#fff,#fdd,#fff,#79e,#ade,#fef,#fcd,#fcd,#def,#eff,#fff,#eef,#fee,#fff,#fff,#bde,#fde,#fee,#fde,#def,#fee,#fcd,#fee,#def,#8ce,#fcc,#cef,#68e,#fdd,#def,#fdd,#def,#eff,#fdd,#eff,#fdd,#fbb,#cef,#cee,#fee,#fcc,#7ae,#fee,#cee,#fff,#def,#ade,#fde,#f88,#fee,#fde,#eff,#fff,#bde,#def,#fff,#eff,#cee,#fde,#fbc,#cef,#fff,#fee,#f33,#fdd,#fff,#ade,#def,#fee,#8ce,#eff,#fee,#fee,#bde,#fff,#fee,#7ae,#ade,#fee,#9ce,#fee,#bee,#fef,#fde,#fee,#9de,#cef,#ade,#fee,#fff,#fee,#fff,#def,#ade,#fee,#fee,#fdd,#fdd,#fbb,#eff,#fff,#9de,#bde,#fbc,#eff,#ade,#fee,#def,#9ce,#cee,#ade,#def,#fcc,#fee,#cee,#9ce,#def,#cef,#f99,#eff,#def,#fee,#def,#fbb,#fcd,#fee,#f77,#bde,#9de,#def,#def,#eef,#def,#eff,#cef,#fff,#bde,#def,#fde,#bde,#fee,#fdd,#8ce,#fff,#bde,#eef,#eef,#fff,#bde,#fff,#fee,#fff,#8ce,#fdd,#8ce,#9de,#8be,#cef,#fcc,#fff,#bde,#fee,#cef,#fab,#9ce,#def,#fee,#eff,#bee,#cee,#8ce,#fee,#def,#67e,#def,#eff,#9ce,#eef,#fee,#9de,#9de,#fcc,#fcd,#8ce,#cee,#bde,#def,#def,#bde,#eff,#44f,#fff,#bde,#eff,#cef,#8ce,#cef,#def,#def,#9ce,#fee,#fff,#cef,#8be,#cee,#ade,#00f,#cee,#bee,#fff,#ade,#cef,#ade,#fee,#f99,#ade,#eff,#bde,#fff,#68e,#cef,#fde,#eef,#eff,#cef,#bde,#fee,#fee,#69e,#fee,#fff,#bde,#7be,#55f,#fdd,#9de,#44f,#fee,#fee,#9de,#fff,#def,#69e,#def,#bde,#56f,#ade,#def,#eff,#bde,#def,#def,#7ae,#8ce,#68e,#67e,#7be,#9ce,#9ce,#8be,#fee,#fff,#ade,#cef,#cef,#7be,#bde,#fde,#9de,#bee,#8ce,#44f,#00f,#def,#eff,#fcc,#fef,#7ae,#fee,#7be,#7ae,#cee,#ade,#9de,#8ce,#def,#33f,#fff,#def,#79e,#8ce,#def,#cee,#cef,#ade,#9ce,#def,#ade,#ade,#7be,#ade,#bde,#fff,#8ce,#eff,#68e,#fbb,#44f,#cef,#def,#cee,#cee,#eff,#ade,#bee,#8ce,#fbc,#67e,#8ce,#8be,#68e,#8ce,#8ce,#ade,#fee,#def,#fdd,#fcc,#9ce,#f44,#8ce,#67e,#00f,#9de,#56f,#8be,#8ce,#00f,#9de,#68e,#9de,#00f,#fff,#7ae,#def,#8ce,#9ce,#ade,#8be,#68e,#33f,#7ae,#fff,#7ae,#cee,#ade,#00f,#67e,#22f,#55f,#68e,#cef,#00f,#9de,#9de,#56f,#7be,#56f,#79e,#cee,#56f,#9de,#69e,#69e,#55f,#79e,#8ce,#11f,#ade,#56f,#ade,#8ce)"></div><div class="hr" style="top:1659.49px;background:linear-gradient(90deg,#def,#def,#fdd,#fee,#fdd,#fff,#fdd,#fdd,#fcd,#fcd,#fee,#fdd,#fbb,#fde,#fee,#fcc,#fee,#fde,#fcc,#f88,#8ce,#fbc,#fee,#fdd,#fff,#fee,#fdd,#68e,#faa,#fee,#fee,#fdd,#7ae,#fee,#fee,#f66,#fbb,#bde,#fee,#ade,#fdd,#fde,#7ae,#f11,#fdd,#fee,#fee,#fcd,#fde,#faa,#fee,#fee,#fab,#eff,#fee,#fef,#fab,#fee,#fff,#fff,#cee,#fef,#fff,#fff,#fef,#fcc,#fcc,#fbc,#fff,#fee,#ade,#fee,#fdd,#fde,#fff,#fcc,#68e,#cef,#fde,#bde,#fde,#fdd,#fee,#fff,#eef,#fff,#fee,#f88,#fee,#fcd,#fef,#fcc,#fee,#cef,#fab,#fbc,#fdd,#f88,#ade,#fff,#bde,#def,#fee,#fff,#fcd,#fee,#fee,#fff,#fbc,#cef,#fde,#fcc,#fdd,#fff,#9ce,#7be,#fcd,#fde,#def,#00f,#fde,#fff,#fdd,#eff,#00f,#fdd,#fee,#fee,#fff,#fde,#fff,#fee,#fef,#fcd,#fee,#fef,#fee,#fee,#fdd,#fcc,#cee,#def,#fee,#bde,#fee,#def,#f55,#fbc,#fff,#def,#fdd,#fee,#bde,#faa,#eff,#fee,#fdd,#fef,#cee,#fcc,#fdd,#bee,#fdd,#fcc,#eef,#8ce,#cef,#69e,#fff,#fff,#fff,#def,#cee,#fbb,#eef,#fee,#def,#fee,#bde,#fee,#fff,#fef,#fff,#fcc,#fdd,#fee,#fbc,#8ce,#fff,#fdd,#9de,#fdd,#cef,#fde,#eff,#fff,#fbc,#eff,#bde,#fde,#fcd,#fff,#bde,#fee,#fff,#7ae,#fff,#fdd,#7be,#def,#bde,#fdd,#fde,#fee,#fff,#def,#8ce,#fee,#fbb,#fee,#def,#faa,#fcc,#fbc,#fff,#44f,#eff,#fef,#56f,#fdd,#fcd,#fdd,#7ae,#eff,#eef,#bde,#cef,#fcd,#fdd,#fdd,#fcc,#f77,#fee,#cee,#def,#fff,#eff,#fff,#f00,#fee,#9de,#faa,#eff,#fff,#def,#67e,#bee,#cef,#def,#ade,#f00,#fee,#fee,#fff,#cee,#fff,#fef,#fff,#fee,#bde,#fff,#fee,#8be,#8ce,#fff,#fdd,#ade,#fff,#fee,#cef,#cee,#fdd,#fef,#fef,#cef,#fcd,#ade,#ade,#fee,#fde,#bde,#faa,#cee,#fee,#ade,#eff,#bde,#faa,#cee,#fcc,#fff,#fee,#eef,#eef,#fff,#68e,#fde,#def,#bde,#56f,#def,#fee,#8be,#fff,#fee,#fcc,#cee,#eff,#fdd,#def,#fff,#fff,#cef,#fee,#def,#def,#fcd,#fff,#fef,#fff,#cee,#9ce,#fff,#bde,#cee,#def,#fee,#eff,#fff,#bde,#fee,#cee,#eff,#cee,#fdd,#fee,#eef,#9de,#eff,#fff,#ade,#fef,#fff,#eef,#eff,#cee,#fdd,#7ae,#f9a,#7be,#fee,#def,#8ce,#fff,#fee,#fff,#cef,#fcd,#ade,#fde,#fab,#9ce,#fcc,#fde,#68e,#fdd,#fee,#eff,#fee,#eef,#cef,#def,#def,#8ce,#fee,#fff,#fff,#9de,#eff,#fff,#fbb,#fcc,#fbb,#def,#fff,#cee,#eff,#ade,#ade,#8ce,#cef,#fee,#ade,#eef,#ade,#79e,#8ce,#fde,#69e,#def,#fff,#8ce,#cee,#ade,#fee,#fde,#ade,#def,#def,#def,#8ce,#cee,#8ce,#22f,#7be,#fee,#eef,#79e,#ade,#fcd,#8be,#8ce,#8ce,#fff,#7ae,#fff,#fff,#bde,#eff,#ade,#8be,#ade,#8ce,#7ae,#fde,#eff,#def,#8ce,#9de,#ade,#eff,#cef,#bee,#fef,#7ae,#def,#44f,#9ce,#44f,#cee,#fee,#def,#9de,#f99,#def,#00f,#fdd,#fee,#8be,#79e,#9de,#fff,#fff,#8be,#bee,#cee,#67e,#fee,#fee,#ade,#9de,#68e,#7be,#44f,#eef,#bde,#8be,#bde,#00f,#9de,#8ce,#fcd,#11f,#bde,#8ce,#9ce,#fde,#7ae,#cef,#eff,#9de,#fee,#def,#bde,#ade,#79e,#def,#9ce,#8ce,#69e,#bee,#fff,#11f,#79e,#ade,#8ce,#79e,#7ae,#69e,#def,#7ae,#69e,#ade,#22f,#00f,#00f,#f9a,#bee,#22f,#7be,#68e,#7be,#cef)"></div><div class="hr" style="top:1680.97px;background:linear-gradient(90deg,#fee,#11f,#fee,#fee,#fab,#fdd,#f9a,#67e,#f44,#fbc,#fcd,#fdd,#fee,#fee,#fdd,#fdd,#fcd,#fee,#fcd,#fee,#f66,#fdd,#fee,#fcd,#fff,#fde,#fcd,#fcd,#f9a,#f89,#ade,#fee,#fab,#faa,#fdd,#fcd,#fcc,#fcc,#fcc,#fee,#fcd,#fcd,#fcc,#fab,#fdd,#fdd,#fee,#eef,#79e,#fbc,#f44,#fbc,#eff,#8ce,#fdd,#ade,#fee,#fab,#fcd,#faa,#fef,#def,#fde,#eff,#fee,#fff,#fee,#fde,#bde,#fcd,#fef,#f66,#def,#fee,#fee,#fdd,#def,#fff,#fee,#fee,#fde,#f44,#fdd,#fdd,#fdd,#fdd,#fcc,#fcd,#fdd,#eff,#fdd,#fde,#67e,#fee,#def,#def,#eff,#f11,#fbb,#def,#eef,#fcd,#fee,#cee,#fcc,#eff,#eff,#fbc,#fdd,#fee,#fde,#fdd,#fdd,#fff,#fff,#fee,#fcd,#def,#fff,#fee,#fcc,#fee,#f88,#fee,#fbb,#f99,#eff,#ade,#fee,#cee,#ade,#fee,#fff,#fbc,#fdd,#eef,#fbc,#cef,#fee,#fee,#fff,#eff,#fee,#fee,#fee,#fff,#fff,#fee,#fff,#def,#8ce,#fcd,#def,#def,#def,#fff,#ade,#fff,#fee,#def,#fff,#fee,#fde,#fde,#eff,#cef,#def,#fff,#fcd,#fee,#fee,#f77,#fdd,#fbb,#22f,#fdd,#bee,#fcd,#eff,#fff,#bde,#fff,#def,#fde,#fee,#ade,#fee,#cef,#fdd,#bde,#fcd,#fdd,#ade,#bde,#fdd,#f9a,#def,#fcd,#cee,#fff,#ade,#fcd,#eff,#fee,#ade,#def,#fee,#fef,#fff,#fee,#fbc,#fee,#fde,#fff,#eff,#fee,#bde,#fcc,#fff,#fff,#f9a,#fee,#fff,#cef,#eff,#fff,#cee,#eff,#eff,#cef,#ade,#8ce,#eff,#fff,#fff,#fdd,#fde,#eff,#fee,#9ce,#faa,#def,#fff,#fee,#fdd,#fee,#8ce,#fcd,#8ce,#bde,#def,#ade,#fff,#fdd,#fef,#bde,#bde,#fee,#fee,#fcd,#9ce,#fee,#eff,#fee,#cef,#79e,#fff,#bee,#fee,#fcc,#fee,#def,#fdd,#cef,#def,#fff,#ade,#fff,#cef,#fff,#8ce,#fee,#8ce,#fff,#ade,#fff,#cef,#fee,#fff,#fee,#eff,#fff,#bde,#8ce,#fdd,#def,#cef,#fff,#fee,#cee,#8ce,#fef,#ade,#bde,#fde,#bde,#fee,#8ce,#fff,#fee,#fde,#def,#eff,#eef,#fee,#ade,#bde,#fef,#9de,#ade,#8ce,#bde,#fee,#fff,#eef,#9de,#cee,#fff,#def,#fee,#ade,#eef,#cef,#fee,#def,#fff,#fee,#fdd,#cee,#cee,#def,#9de,#79e,#bde,#fee,#fab,#8ce,#8ce,#def,#7be,#cef,#fde,#cef,#eff,#eff,#8ce,#9de,#bde,#bde,#8ce,#fde,#bde,#8ce,#def,#cee,#fde,#cef,#eff,#cef,#fff,#fef,#eff,#fee,#cee,#79e,#eef,#9ce,#fee,#8ce,#fee,#fdd,#fff,#bde,#bde,#def,#ade,#7ae,#fee,#56f,#fff,#fff,#eef,#fee,#ade,#fee,#fff,#fff,#fee,#def,#ade,#7be,#fff,#bde,#cee,#fff,#7ae,#9de,#def,#bde,#cef,#ade,#8be,#fee,#ade,#cef,#eff,#fdd,#fff,#fee,#def,#fee,#ade,#bde,#9de,#fff,#ade,#8ce,#7ae,#eff,#bde,#7ae,#def,#9de,#bde,#eff,#ade,#cee,#fee,#fee,#8ce,#8ce,#ade,#cef,#9ce,#fde,#cef,#eff,#fef,#9ce,#eef,#cef,#9de,#cef,#ade,#9de,#eff,#bde,#8ce,#00f,#cef,#cef,#fcd,#fef,#eff,#def,#eff,#79e,#7be,#cef,#67e,#ade,#7be,#33f,#8ce,#8ce,#def,#ade,#bde,#00f,#68e,#ade,#7ae,#7be,#00f,#fee,#7be,#79e,#def,#00f,#55f,#7ae,#fff,#00f,#9de,#bee,#8be,#79e,#7ae,#7be,#7ae,#9ce,#68e,#bde,#eef,#eef,#ade,#bde,#69e,#7ae,#55f,#9ce,#8be,#00f,#55f,#cee,#67e,#79e,#8be,#67e,#67e,#8be,#79e,#fcc,#67e,#7be,#00f,#8ce,#8ce,#79e,#eef,#67e,#cee,#def)"></div><div class="hr" style="top:1702.45px;background:linear-gradient(90deg,#fab,#fcc,#fcc,#fdd,#fcd,#fcd,#fbc,#fcc,#def,#f99,#fff,#fab,#f9a,#fdd,#fff,#fee,#22f,#fff,#fbc,#fdd,#fdd,#fde,#fbc,#fee,#fdd,#fee,#fbc,#fdd,#fcd,#fee,#fcd,#fee,#fff,#fde,#fdd,#faa,#fee,#fee,#fff,#fef,#fbb,#fcd,#eef,#f33,#fee,#8ce,#8be,#fff,#def,#fdd,#fbc,#fff,#bde,#fff,#fbb,#8ce,#fff,#fbc,#fdd,#fee,#eff,#fcd,#fee,#def,#fff,#fdd,#cef,#fee,#fee,#fdd,#def,#fff,#f55,#fff,#fee,#fdd,#def,#def,#fff,#fcc,#fde,#f66,#f11,#ade,#fbb,#9de,#f9a,#faa,#def,#fff,#eff,#fff,#ade,#fff,#9ce,#fcc,#fee,#f77,#fee,#fde,#fff,#fff,#faa,#fbc,#fab,#eef,#ade,#fee,#fcc,#fbb,#fde,#fab,#68e,#fff,#fff,#9de,#cee,#fcd,#fee,#fdd,#fee,#fdd,#fff,#fff,#fff,#fee,#f78,#fdd,#f78,#fee,#fdd,#fdd,#cef,#fcd,#fee,#bde,#fee,#fdd,#f22,#fbc,#fdd,#bde,#fff,#fdd,#fff,#def,#fbb,#fee,#68e,#def,#fcd,#fcd,#cee,#def,#fff,#8ce,#fff,#fbc,#eff,#fff,#fdd,#fdd,#fff,#ade,#eff,#f77,#def,#fee,#fee,#fee,#eff,#bde,#fab,#fbb,#fcc,#fee,#fab,#fcc,#bee,#fff,#fee,#fde,#fcd,#fdd,#fee,#fcc,#def,#fff,#eff,#fff,#fff,#fde,#cef,#fff,#ade,#cef,#def,#fbc,#cee,#fee,#f88,#eff,#cee,#def,#22f,#eff,#fff,#7ae,#fee,#fcd,#eff,#fbc,#fee,#fff,#fff,#fef,#def,#eff,#fee,#def,#fde,#fff,#fff,#fcd,#fee,#fdd,#fee,#fee,#def,#fee,#fee,#fee,#eff,#fde,#fee,#eff,#fee,#fdd,#bee,#def,#fde,#def,#fcd,#cef,#fff,#bde,#fef,#fff,#fee,#fcc,#bde,#cef,#eef,#fcd,#ade,#f78,#bee,#eef,#fde,#fde,#7ae,#fee,#bde,#fdd,#cef,#eff,#fee,#fee,#def,#fee,#fcc,#fff,#fee,#bee,#fef,#fff,#fee,#eff,#fee,#eff,#eef,#fff,#7ae,#fff,#fde,#def,#fee,#cef,#bde,#fee,#fff,#fee,#fff,#def,#fcc,#79e,#cee,#79e,#fde,#fde,#fdd,#fff,#cee,#fff,#9de,#fcc,#fcd,#fff,#def,#fff,#fff,#fff,#def,#cef,#eef,#cef,#eef,#fee,#fee,#def,#8ce,#eff,#79e,#fff,#fde,#eef,#eff,#fff,#def,#ade,#fff,#def,#7be,#bde,#ade,#fdd,#fff,#ade,#cef,#def,#eff,#fff,#bde,#f77,#fab,#cef,#fcc,#fdd,#cef,#fff,#bee,#fee,#ade,#eff,#cef,#fde,#eef,#eff,#fcd,#bde,#fee,#def,#fdd,#7be,#fee,#fff,#f55,#fee,#def,#def,#cee,#fdd,#fbc,#fdd,#7ae,#fee,#cef,#eff,#44f,#8be,#def,#9de,#fbb,#9ce,#fff,#fff,#fcc,#79e,#7be,#eef,#def,#fff,#fef,#def,#fdd,#cef,#8ce,#fee,#def,#bde,#68e,#fee,#cef,#fee,#9de,#69e,#ade,#fee,#def,#eef,#def,#fff,#fde,#fef,#bde,#def,#fff,#bee,#fff,#bde,#fab,#fff,#7ae,#44f,#fff,#cee,#fee,#cef,#cee,#def,#9de,#7be,#67e,#9ce,#eff,#cef,#fcd,#68e,#cef,#cef,#55f,#f88,#eef,#def,#fdd,#fee,#fee,#fff,#7ae,#ade,#9de,#fdd,#cee,#cef,#def,#cef,#00f,#def,#8ce,#8ce,#fee,#ade,#fcd,#def,#bde,#bde,#ade,#fee,#68e,#8ce,#7ae,#ade,#7ae,#def,#eff,#def,#68e,#eff,#fee,#cee,#7be,#8ce,#9ce,#00f,#fee,#fde,#cef,#bde,#44f,#def,#9de,#bde,#56f,#fee,#ade,#eff,#fff,#def,#7be,#bde,#ade,#bde,#fff,#fff,#fcc,#9de,#ade,#00f,#8ce,#22f,#fff,#7ae,#55f,#8be,#cee,#8ce,#8ce,#56f,#79e,#fff,#fff,#68e,#cef,#68e,#8ce,#7be,#8be,#7be,#22f,#33f,#bde,#cef,#fff)"></div><div class="hr" style="top:1723.93px;background:linear-gradient(90deg,#7ae,#bee,#fee,#fee,#fde,#def,#fcd,#fdd,#f77,#fdd,#eff,#fdd,#fdd,#fee,#fdd,#fde,#00f,#fee,#fdd,#fdd,#eff,#fcd,#fde,#fcd,#fab,#fee,#cef,#fee,#fdd,#fcd,#fcd,#fff,#fcc,#fdd,#fee,#fff,#fcc,#fde,#fdd,#67e,#fcc,#fff,#f9a,#fdd,#def,#fff,#faa,#bde,#fde,#fdd,#fdd,#fdd,#ade,#fbc,#f77,#fdd,#fff,#f99,#fcd,#fbb,#ade,#f9a,#fde,#56f,#fbc,#fff,#fee,#fee,#f11,#fff,#fdd,#f9a,#fee,#fff,#f9a,#fde,#fde,#eff,#fbc,#fcd,#f77,#f00,#fee,#fee,#f44,#fee,#fee,#fcc,#fde,#fcd,#fff,#fee,#eff,#fdd,#fcc,#fcd,#bee,#f88,#fcc,#fbc,#69e,#fcd,#fde,#fee,#fee,#fcd,#fdd,#fff,#fcc,#fff,#eef,#fee,#fee,#fcd,#eff,#faa,#fdd,#fff,#fee,#eff,#fcd,#fee,#eff,#fdd,#fbc,#fcd,#eff,#fff,#fee,#fcc,#fee,#fcc,#fee,#fee,#def,#fee,#cef,#fff,#fdd,#f88,#fee,#fff,#fee,#fde,#fee,#fcd,#fdd,#fde,#eff,#fdd,#fee,#fee,#f88,#fee,#eff,#fff,#fff,#eff,#ade,#bde,#fee,#ade,#fff,#fee,#7be,#fee,#fcd,#fdd,#fee,#fff,#bde,#fee,#fcd,#fee,#eff,#33f,#fde,#f9a,#fef,#eef,#fde,#fab,#fff,#fee,#fee,#fee,#fef,#eff,#def,#67e,#cef,#f77,#fee,#fdd,#fee,#fee,#cee,#fee,#def,#f33,#eff,#fdd,#fcd,#fdd,#fff,#fee,#fdd,#fff,#f9a,#eff,#def,#fcd,#fef,#eff,#fcd,#fcc,#fff,#fff,#fff,#fee,#fff,#7ae,#fff,#fab,#fdd,#fff,#fff,#fee,#fef,#eff,#eef,#fff,#fff,#fee,#cee,#fee,#def,#fdd,#fef,#eff,#fcc,#fff,#eff,#def,#eff,#fee,#fdd,#def,#fcd,#fee,#fff,#def,#cee,#f67,#fff,#9de,#eef,#fee,#eff,#eff,#eff,#fee,#def,#faa,#7ae,#fee,#eef,#bde,#fdd,#fbb,#fee,#fff,#fdd,#eff,#fee,#eff,#fff,#69e,#def,#eef,#fff,#ade,#00f,#fff,#f33,#9de,#fcd,#cef,#fff,#fee,#fee,#fdd,#fff,#fef,#fcc,#cee,#fde,#fff,#fee,#fdd,#def,#def,#fee,#fcd,#fee,#bde,#fff,#8ce,#fee,#fcc,#fee,#f88,#cee,#fff,#eef,#eff,#9ce,#f22,#fee,#fff,#fff,#cef,#fff,#fcc,#cef,#fff,#fff,#fee,#fee,#fff,#fff,#fcd,#eff,#fef,#cef,#9de,#fee,#fff,#fde,#fee,#fee,#def,#fff,#bee,#7ae,#def,#00f,#eff,#fff,#fee,#fee,#ade,#fee,#eff,#fff,#eff,#ade,#bde,#bde,#cef,#fdd,#fff,#fff,#fff,#cef,#ade,#fbc,#cef,#eff,#fff,#fff,#def,#7ae,#fff,#bde,#7be,#eff,#fee,#9de,#ade,#fff,#fff,#eff,#56f,#fde,#faa,#f33,#eef,#bee,#fee,#eef,#f55,#fde,#bde,#fff,#def,#44f,#8ce,#fde,#cef,#9de,#eff,#fff,#cef,#fcc,#bde,#fff,#eff,#fcc,#bee,#cee,#eef,#fee,#def,#fee,#fdd,#eef,#fee,#def,#55f,#fbc,#cef,#cef,#00f,#fee,#8ce,#eef,#bde,#7ae,#fee,#def,#fff,#55f,#7ae,#9de,#9de,#eff,#56f,#fdd,#ade,#9ce,#def,#def,#def,#fee,#9de,#7ae,#fdd,#7be,#def,#bde,#bde,#ade,#def,#67e,#fee,#eff,#00f,#00f,#8ce,#8ce,#f88,#eff,#7ae,#fde,#fff,#8ce,#bee,#def,#79e,#fff,#def,#cee,#fdd,#def,#fee,#8ce,#9de,#44f,#cef,#7be,#79e,#8ce,#44f,#bde,#eff,#68e,#eff,#00f,#f00,#fff,#bde,#00f,#fef,#ade,#eff,#9de,#eff,#ade,#79e,#8ce,#8ce,#cee,#8ce,#79e,#79e,#bde,#8be,#8be,#9de,#8be,#eef,#00f,#67e,#fff,#fab,#55f,#79e,#fee,#7ae,#8ce,#7ae,#bde,#7ae,#8be,#00f,#fee,#8ce,#eff,#68e,#ade,#8ce,#eff)"></div><div class="hr" style="top:1745.41px;background:linear-gradient(90deg,#faa,#cef,#fee,#fde,#fcd,#def,#fdd,#faa,#fee,#fdd,#def,#fee,#f78,#fcd,#fee,#eff,#fde,#f88,#fdd,#fee,#fcd,#fee,#fde,#fdd,#fff,#fee,#fff,#fbb,#fcc,#fcc,#fff,#eff,#fff,#fde,#fdd,#fff,#fcc,#bde,#7ae,#fff,#fee,#fcd,#fdd,#fdd,#55f,#f55,#fee,#fee,#def,#fee,#fbc,#fdd,#fdd,#fdd,#fdd,#fbc,#fde,#fff,#fcc,#fee,#fcd,#eff,#fee,#fdd,#fff,#f66,#fde,#fff,#fcd,#fcd,#fcd,#fee,#fde,#fee,#cef,#fcd,#fdd,#fef,#fbb,#fee,#fbb,#fef,#fde,#fee,#f55,#bde,#fcd,#faa,#fff,#fbb,#fde,#f88,#eef,#cee,#fcd,#fbc,#fcd,#fcc,#fff,#fee,#fff,#fff,#def,#fff,#fcc,#fab,#fcc,#eff,#fcc,#fff,#eff,#fcd,#fdd,#fdd,#eff,#fdd,#fee,#68e,#fde,#faa,#fdd,#fff,#fcd,#fdd,#f99,#fde,#fff,#fcd,#69e,#fff,#fff,#fee,#fcd,#fee,#fef,#def,#fcc,#fff,#f99,#fdd,#cef,#fee,#fdd,#fdd,#fde,#fcd,#eff,#fff,#fff,#fee,#fdd,#cee,#eff,#fee,#eef,#fee,#fcc,#fcc,#fcc,#eff,#fdd,#faa,#faa,#fde,#fab,#fff,#fcd,#fee,#def,#fef,#fee,#fee,#eff,#fdd,#fdd,#fff,#fbb,#eff,#cef,#ade,#fff,#fff,#fff,#fee,#fee,#bde,#11f,#fff,#fdd,#fee,#fbc,#fde,#bee,#def,#fef,#def,#def,#ade,#68e,#fdd,#8ce,#8ce,#fbb,#fdd,#44f,#fff,#eff,#def,#eff,#fee,#fee,#fcd,#ade,#fee,#fee,#bde,#def,#fee,#ade,#fdd,#fdd,#fcd,#def,#f88,#cef,#fbc,#fff,#68e,#bde,#fff,#fff,#cef,#def,#fff,#eff,#fee,#fcd,#eff,#def,#fee,#fee,#def,#fdd,#fdd,#def,#eff,#fff,#cee,#eff,#fee,#9de,#eff,#bde,#fff,#bde,#fff,#cee,#bde,#bde,#def,#fdd,#fde,#fdd,#8ce,#eff,#bde,#fff,#ade,#fff,#fef,#eff,#fee,#fde,#eff,#ade,#fee,#ade,#f99,#fff,#fff,#ade,#9de,#ade,#fcd,#faa,#fff,#ade,#cef,#bde,#eff,#fde,#fff,#22f,#fff,#eff,#fff,#def,#f78,#fff,#def,#faa,#fff,#ade,#9de,#44f,#67e,#bde,#9de,#def,#fee,#fff,#fff,#fdd,#ade,#fff,#8ce,#def,#fee,#ade,#bde,#fff,#79e,#cef,#fdd,#eff,#bde,#fff,#fff,#cee,#fee,#fee,#fde,#eef,#cee,#9de,#eff,#fee,#8ce,#def,#cee,#fdd,#fcc,#eff,#9de,#fde,#eff,#7ae,#f66,#fee,#fff,#ade,#fff,#fee,#cef,#fee,#bde,#fff,#def,#cef,#8ce,#fee,#eef,#cef,#fff,#fff,#fee,#def,#fff,#fdd,#fff,#9de,#fee,#ade,#ade,#9ce,#cee,#fff,#fde,#fff,#def,#fff,#def,#7be,#fbb,#fff,#cee,#faa,#def,#8ce,#fee,#bde,#fee,#fff,#fef,#fcc,#fee,#bde,#eff,#eef,#9ce,#cef,#fff,#ade,#def,#fee,#44f,#cef,#fee,#f9a,#8be,#bde,#cee,#fee,#fdd,#fff,#fee,#9ce,#fdd,#fdd,#eff,#fff,#bde,#bde,#ade,#cee,#fff,#fee,#9de,#def,#7be,#67e,#eef,#def,#fef,#fee,#fff,#eef,#9de,#f00,#bde,#ade,#cef,#cef,#fcc,#fbc,#fff,#fdd,#cee,#def,#eff,#ade,#f77,#cee,#cee,#def,#fde,#fff,#7ae,#00f,#7ae,#def,#bde,#fee,#eef,#fff,#def,#ade,#cee,#bde,#ade,#eef,#def,#33f,#fee,#bde,#def,#69e,#bde,#69e,#8ce,#33f,#cef,#def,#00f,#fbc,#68e,#8ce,#cef,#22f,#7ae,#bde,#fee,#00f,#68e,#cef,#ade,#ade,#ade,#bde,#ade,#9de,#def,#def,#fee,#def,#8ce,#68e,#00f,#9de,#fee,#def,#cef,#68e,#9de,#eff,#9ce,#79e,#7be,#79e,#ade,#bde,#7ae,#fee,#44f,#69e,#00f,#fff,#8ce,#8be,#def,#7be,#fcc,#def)"></div><div class="hr" style="top:1766.90px;background:linear-gradient(90deg,#fbb,#fee,#fdd,#fdd,#fbc,#f44,#fdd,#fff,#fee,#fcd,#faa,#fcc,#fdd,#fcd,#fbc,#67e,#fcc,#fbc,#fdd,#fff,#f89,#fcc,#fcc,#fff,#fef,#fee,#faa,#fbc,#fbb,#fff,#fde,#fee,#fdd,#fff,#fcd,#fbb,#f88,#fbb,#fbc,#fdd,#fdd,#fbc,#f9a,#f11,#fbc,#fde,#eff,#f77,#9ce,#fdd,#fcd,#fff,#cef,#fcc,#fbc,#fee,#fee,#fee,#fcd,#fbc,#fcd,#fcd,#fee,#fcd,#fee,#f00,#fcd,#eff,#f00,#fcd,#fcd,#fcc,#fdd,#fdd,#fcd,#fee,#fde,#fee,#f88,#fee,#fee,#fcc,#fdd,#faa,#fee,#fff,#f9a,#fee,#f9a,#fef,#fee,#eef,#f77,#fee,#fde,#f77,#8be,#fdd,#fcd,#fcd,#ade,#fdd,#fcc,#fdd,#fdd,#fab,#fbc,#fdd,#fee,#fee,#fdd,#fee,#fee,#fcc,#eff,#fde,#faa,#def,#fcc,#fdd,#fee,#fdd,#fdd,#cee,#fee,#fcd,#fcd,#fdd,#fdd,#def,#fdd,#eff,#fee,#fdd,#faa,#fff,#fbc,#fcc,#fdd,#fdd,#fee,#eef,#f77,#fde,#fee,#fcd,#fdd,#eff,#fcd,#fee,#fdd,#eff,#fef,#fde,#fee,#fef,#fbc,#fbc,#fdd,#ade,#fde,#fff,#eff,#fcc,#fff,#eff,#fee,#def,#fff,#fcd,#fee,#eff,#fee,#faa,#fee,#fee,#f9a,#cee,#f99,#fee,#fbb,#fcd,#eff,#fef,#fff,#fdd,#fbb,#fee,#fcd,#fee,#fee,#fcc,#8be,#fdd,#def,#fcd,#fdd,#ade,#eff,#f00,#def,#cef,#fee,#fee,#fee,#8ce,#fee,#def,#eef,#fde,#fff,#fff,#cef,#fcd,#fdd,#fbc,#cee,#bee,#def,#ade,#eff,#fdd,#def,#fbb,#fff,#fff,#cef,#def,#fef,#fbb,#f78,#bee,#eff,#fff,#eff,#fff,#7be,#fff,#fdd,#fde,#fff,#f99,#def,#cee,#33f,#fee,#fdd,#fbc,#fee,#eff,#fde,#f77,#cef,#fdd,#fff,#ade,#bde,#fdd,#fff,#fff,#bde,#fff,#bee,#fee,#fee,#eff,#fff,#9de,#def,#fee,#fde,#eff,#fdd,#ade,#fff,#def,#56f,#fcc,#fcd,#def,#ade,#def,#cef,#fee,#bee,#fdd,#def,#def,#eef,#eef,#fff,#def,#eef,#eff,#eef,#fff,#eff,#fee,#fff,#fee,#fab,#fcc,#bde,#9de,#cee,#bde,#fff,#cee,#def,#fff,#fee,#fde,#fee,#fde,#fef,#68e,#bde,#fee,#8ce,#67e,#fff,#9ce,#eff,#def,#8be,#fee,#8be,#fee,#fee,#fff,#eef,#7ae,#fef,#fde,#def,#cee,#def,#eef,#ade,#cee,#fff,#bde,#fee,#bde,#fdd,#f44,#ade,#ade,#ade,#fcd,#ade,#9de,#fff,#fcd,#fbc,#eff,#cee,#bde,#fff,#8ce,#fee,#cee,#eff,#7be,#fef,#fff,#fab,#fee,#fde,#cee,#def,#fff,#fcd,#fee,#44f,#fee,#fff,#bde,#8ce,#9de,#cef,#fff,#9ce,#67e,#f66,#cee,#fff,#00f,#9de,#cef,#eff,#eef,#fde,#cee,#fde,#fff,#9de,#eef,#cee,#eef,#def,#faa,#eff,#7ae,#fff,#cef,#7be,#cef,#eff,#68e,#9ce,#bde,#fff,#fff,#fee,#cef,#def,#ade,#eff,#8ce,#fcc,#8ce,#8ce,#11f,#def,#bde,#55f,#ade,#55f,#eff,#9de,#cef,#ade,#bee,#def,#bde,#fff,#56f,#cef,#ade,#eff,#fee,#cee,#fff,#fcd,#bde,#def,#ade,#9ce,#68e,#00f,#9de,#ade,#bde,#7ae,#cef,#8ce,#7ae,#00f,#79e,#cee,#def,#79e,#fff,#eff,#cee,#9ce,#cee,#fee,#fff,#def,#9de,#11f,#bde,#bde,#fee,#8ce,#8be,#68e,#9de,#56f,#33f,#fff,#68e,#ade,#7be,#69e,#bde,#00f,#bde,#8ce,#fff,#33f,#bde,#8ce,#8ce,#56f,#ade,#def,#67e,#ade,#67e,#eff,#ade,#eff,#9ce,#cef,#56f,#7ae,#33f,#79e,#cee,#7be,#33f,#eff,#7ae,#56f,#68e,#7be,#8be,#8ce,#8be,#f99,#33f,#cee,#00f,#bee,#55f,#00f,#7be,#67e,#ade,#ade)"></div><div class="hr" style="top:1788.38px;background:linear-gradient(90deg,#def,#fbb,#fcd,#f55,#fee,#fdd,#faa,#fbb,#fdd,#fdd,#fdd,#fcd,#faa,#fbc,#fbb,#fee,#f9a,#fbb,#f99,#fab,#fdd,#fdd,#fff,#f78,#fbc,#fab,#fee,#fee,#fee,#fab,#fcd,#eff,#fdd,#fcc,#fff,#fde,#f89,#fdd,#fcd,#fff,#fee,#fbc,#fcd,#f44,#fcd,#fee,#fee,#fff,#faa,#fcd,#fbc,#fcd,#fcd,#fee,#f55,#fcc,#fee,#eff,#fef,#fde,#fbc,#f44,#f55,#def,#fee,#fdd,#fee,#fdd,#fdd,#fde,#fdd,#fcd,#fcd,#fde,#fee,#fcd,#7ae,#bde,#def,#fde,#cee,#f00,#fee,#fef,#fcc,#fff,#fff,#fee,#f9a,#fff,#fcd,#fee,#fbc,#bee,#fee,#fcd,#fab,#fbb,#def,#fef,#faa,#def,#fdd,#fff,#f00,#fdd,#def,#fbc,#fee,#bde,#fdd,#faa,#fab,#fee,#fee,#fee,#fff,#fff,#ade,#fee,#fdd,#fbb,#eff,#fff,#f9a,#fcd,#eff,#fde,#fcd,#f99,#fff,#fdd,#fff,#fcd,#fee,#eff,#bde,#fcd,#fff,#fee,#def,#8be,#fee,#22f,#fcd,#def,#eff,#fcd,#bde,#fee,#fab,#fde,#fff,#fdd,#fef,#8ce,#f00,#fdd,#fde,#bde,#eff,#fee,#fff,#fcc,#cef,#cef,#def,#fbc,#eff,#fbc,#fff,#7ae,#cee,#fde,#fff,#def,#f9a,#eef,#bde,#fcd,#9ce,#fdd,#7ae,#def,#fee,#fcd,#fde,#fff,#fff,#9de,#def,#fcc,#fff,#fee,#fdd,#fff,#fde,#fdd,#fff,#00f,#fee,#fee,#def,#def,#fff,#fff,#fdd,#56f,#f55,#cee,#fde,#fee,#fdd,#f33,#fff,#def,#eff,#fff,#f00,#cee,#fdd,#eff,#9ce,#fde,#7ae,#fdd,#fff,#fde,#def,#fee,#def,#fff,#fff,#fee,#def,#fdd,#fcc,#55f,#cee,#fee,#fff,#fee,#eff,#8ce,#9ce,#faa,#fee,#eff,#fff,#fff,#f77,#ade,#cee,#def,#fff,#fdd,#fcd,#fee,#cee,#f9a,#fbc,#bde,#def,#fde,#fdd,#eff,#9de,#cee,#fbc,#fef,#eff,#fee,#fee,#8ce,#fef,#fdd,#8ce,#fee,#def,#cef,#eff,#def,#def,#bde,#fee,#fee,#7ae,#def,#fff,#fbc,#8be,#fee,#fdd,#fbc,#cee,#fcd,#eff,#bde,#cee,#faa,#def,#fee,#ade,#cee,#fff,#fcd,#fee,#9de,#fff,#fab,#def,#68e,#def,#fde,#fee,#def,#def,#8ce,#8ce,#8ce,#fdd,#def,#cef,#eff,#fcd,#cee,#8ce,#fee,#def,#fee,#fee,#ade,#def,#cee,#def,#eef,#9de,#fff,#fff,#def,#cef,#68e,#67e,#fef,#fbb,#fee,#eff,#cef,#f00,#fde,#8ce,#bde,#eff,#fff,#8be,#cee,#bde,#cee,#79e,#bde,#fab,#def,#def,#def,#fee,#fff,#cef,#eff,#cee,#fcc,#cef,#eff,#eef,#ade,#33f,#7be,#cee,#68e,#fee,#9ce,#fff,#fff,#cef,#ade,#def,#ade,#cee,#00f,#bde,#def,#fff,#f99,#bee,#eff,#fff,#def,#ade,#fee,#ade,#67e,#ade,#fee,#9de,#9de,#fee,#cef,#8ce,#eff,#7be,#cee,#68e,#bde,#fff,#8ce,#eef,#fef,#8ce,#cef,#cee,#cef,#fff,#8ce,#def,#def,#fdd,#def,#fee,#67e,#eff,#fde,#44f,#def,#fcc,#8ce,#7be,#bde,#def,#fcd,#bde,#eef,#7ae,#cef,#cee,#cee,#fff,#7be,#ade,#cee,#8be,#ade,#eef,#ade,#8be,#fde,#67e,#def,#56f,#ade,#00f,#bde,#bde,#cee,#00f,#fee,#fdd,#bde,#8ce,#fee,#ade,#7ae,#cee,#7ae,#22f,#fee,#ade,#fff,#fff,#8ce,#79e,#def,#8ce,#44f,#8ce,#00f,#cee,#56f,#7ae,#def,#00f,#def,#8ce,#9de,#55f,#eff,#8ce,#9de,#69e,#7ae,#cef,#8be,#8ce,#56e,#bde,#def,#def,#9de,#fee,#00f,#8be,#33f,#8be,#7be,#44f,#55f,#69e,#8be,#fdd,#79e,#67e,#67e,#68e,#44f,#68e,#bde,#68e,#22f,#ade,#9de,#55f,#9de,#68e,#ade,#ade)"></div><div class="hr" style="top:1809.86px;background:linear-gradient(90deg,#fde,#fcd,#fbc,#fcd,#eff,#fdd,#fdd,#fcc,#fcd,#fbb,#fee,#fdd,#fbc,#f11,#fdd,#fee,#fde,#f00,#fee,#fab,#fcd,#fcd,#fcc,#fcd,#eff,#f99,#fdd,#fab,#f99,#fee,#fff,#eef,#fff,#fee,#fee,#fde,#faa,#fdd,#fff,#fcc,#fee,#fab,#faa,#fee,#fcd,#fcd,#eef,#fdd,#fde,#fee,#f89,#fde,#fcd,#fff,#f67,#fee,#8ce,#fff,#fbb,#fbb,#cee,#fbb,#fdd,#fff,#fee,#fdd,#fbb,#fdd,#fdd,#fff,#fef,#fcc,#fcd,#f99,#f00,#33f,#fdd,#fff,#f00,#fee,#fcd,#f55,#fee,#fcd,#fcc,#fdd,#fff,#fbb,#faa,#fcc,#fee,#fff,#f88,#eef,#fff,#fee,#fff,#f66,#fdd,#fff,#fff,#9ce,#fff,#fde,#f88,#fcd,#fdd,#fbc,#fee,#fff,#fcc,#fcd,#fff,#fee,#9de,#fff,#fde,#fcd,#fee,#fcd,#f77,#fdd,#bde,#fff,#fde,#fee,#fdd,#fdd,#fcc,#fcd,#fdd,#fdd,#fdd,#cee,#f78,#fff,#cef,#faa,#def,#fcc,#fee,#bde,#fff,#eef,#fff,#00f,#fef,#fff,#fcd,#fff,#fff,#fee,#bee,#55f,#eff,#8be,#44f,#fff,#fdd,#7ae,#fcc,#fff,#f00,#def,#fde,#fee,#fdd,#fde,#def,#fff,#fbb,#fcd,#fdd,#fff,#eff,#fab,#fee,#eff,#fdd,#7be,#bde,#fcd,#cee,#fee,#eff,#fff,#fee,#def,#f77,#fff,#8be,#fbc,#cee,#eef,#fee,#fcc,#eff,#fee,#fef,#fff,#bde,#ade,#fee,#eff,#fee,#fee,#fcd,#cef,#fee,#cef,#fff,#fcd,#fff,#fee,#fbc,#fff,#9ce,#bde,#cef,#fee,#fee,#fde,#eff,#fee,#fee,#f89,#f00,#9de,#def,#eef,#fdd,#fff,#56f,#fee,#ade,#def,#fcc,#fff,#def,#def,#fee,#fdd,#f9a,#ade,#fde,#fee,#fde,#eef,#def,#f99,#fff,#bee,#fee,#8be,#cee,#def,#ade,#bee,#eff,#67e,#8ce,#fff,#eff,#fdd,#fbb,#8ce,#ade,#bde,#9ce,#9ce,#fdd,#def,#fbc,#69e,#def,#fee,#69e,#fdd,#bee,#fff,#def,#eff,#cee,#fff,#fff,#def,#ade,#eff,#cee,#eff,#fff,#fff,#fff,#fdd,#7ae,#def,#eff,#fee,#fee,#fff,#def,#def,#79e,#faa,#eff,#def,#bee,#def,#8ce,#fee,#fdd,#8be,#eef,#fff,#fff,#def,#cee,#fee,#def,#def,#bde,#9de,#fde,#cee,#bde,#fee,#cee,#fdd,#fee,#bee,#eff,#fee,#9ce,#fff,#cef,#eff,#fde,#ade,#fee,#bde,#cef,#56f,#9ce,#8ce,#00f,#cee,#cef,#79e,#bde,#fcd,#7be,#def,#bde,#def,#67e,#ade,#9de,#cef,#cee,#8ce,#fcd,#9ce,#def,#bde,#fde,#f77,#9ce,#8ce,#eef,#ade,#68e,#fff,#eff,#eef,#00f,#68e,#eff,#fef,#67e,#8ce,#bde,#fee,#67e,#def,#def,#bde,#fde,#33f,#fee,#8ce,#bde,#cef,#fef,#7be,#fee,#ade,#7be,#eff,#ade,#bde,#9ce,#def,#8ce,#fee,#7ae,#69e,#ade,#eff,#fff,#fee,#8ce,#9de,#fcd,#ade,#fff,#7ae,#7ae,#fde,#eef,#8ce,#fff,#cee,#cee,#8ce,#fef,#8ce,#eff,#7be,#fde,#fee,#8be,#fff,#eff,#eef,#eff,#67e,#fff,#55f,#eef,#ade,#9ce,#fee,#8ce,#8ce,#fbb,#fee,#eff,#cef,#bde,#cef,#cee,#bde,#fcc,#9de,#8ce,#fef,#00f,#79e,#00f,#7ae,#eef,#7ae,#fff,#cee,#ade,#bde,#8ce,#fee,#ade,#8ce,#def,#7ae,#cee,#8ce,#8ce,#fee,#68e,#7be,#fde,#9ce,#67e,#69e,#7be,#00f,#bde,#79e,#bde,#def,#bde,#ade,#8ce,#8be,#00f,#67e,#67e,#67e,#7be,#9de,#cef,#7ae,#cee,#69e,#bde,#bde,#8ce,#79e,#ade,#00f,#cef,#55f,#67e,#def,#00f,#cee,#bee,#56e,#69e,#79e,#00f,#68e,#00f,#67e,#8ce,#ade,#67e,#00f,#7ae,#79e,#7ae,#8be,#79e,#cee,#bde)"></div><div class="hr" style="top:1831.34px;background:linear-gradient(90deg,#fdd,#fcd,#fdd,#f55,#fbc,#fee,#fbb,#fbc,#faa,#fbb,#fbc,#fbc,#f99,#fde,#fcc,#eff,#f89,#fee,#fee,#eff,#fcc,#fcd,#f88,#def,#fef,#fcd,#fdd,#fdd,#f99,#fcc,#f99,#faa,#fee,#bde,#fcd,#fdd,#fcd,#fcd,#fdd,#fcc,#def,#fcc,#f89,#f00,#fde,#fee,#fcd,#fdd,#fcd,#f77,#fbc,#faa,#fcd,#fab,#fcc,#fff,#fde,#fde,#fab,#fdd,#fee,#fbc,#fcc,#fcd,#fee,#f9a,#fbc,#bde,#fdd,#fee,#eff,#fef,#fcd,#fcc,#fff,#def,#7be,#fde,#67e,#fff,#f66,#f11,#faa,#fde,#fcd,#def,#fff,#fcc,#fcd,#fbc,#fee,#8ce,#fee,#fef,#fde,#fdd,#fcd,#eff,#fab,#fdd,#fcd,#f66,#fdd,#fee,#fdd,#fff,#f89,#7be,#fcd,#fdd,#fde,#fcc,#fdd,#fee,#fee,#fee,#fcd,#ade,#fff,#fcc,#fcd,#fdd,#fee,#fee,#fdd,#fdd,#fee,#fff,#f88,#fff,#fcd,#fde,#fbc,#fdd,#def,#fff,#fee,#def,#fdd,#fab,#fff,#fdd,#fab,#eff,#cef,#fdd,#fee,#f66,#fcc,#fdd,#eff,#fee,#cef,#fee,#fde,#cef,#fee,#fdd,#fbc,#fee,#fee,#faa,#fdd,#fde,#fff,#fee,#fee,#fcc,#fdd,#7ae,#bde,#fcc,#fee,#f77,#33f,#eff,#def,#eef,#fde,#ade,#fee,#fff,#fee,#fff,#fdd,#fcd,#fbc,#fff,#f89,#eff,#9ce,#fcd,#8ce,#fbc,#fee,#fdd,#fde,#fcd,#69e,#fcc,#fff,#fde,#fff,#fbc,#fdd,#cef,#fdd,#cef,#fee,#fff,#fcd,#fab,#fff,#bee,#fee,#eff,#67e,#fbc,#ade,#33f,#fcc,#fef,#fff,#fee,#fee,#fee,#fde,#bde,#cef,#fee,#fcd,#f00,#f9a,#fcd,#fff,#fcc,#fdd,#eef,#eef,#fff,#fff,#00f,#fdd,#fee,#fff,#eff,#fee,#fee,#fcd,#f99,#def,#fff,#fcd,#fff,#fcd,#eef,#8ce,#fff,#eef,#def,#9de,#fee,#cee,#fdd,#fef,#fff,#fde,#def,#ade,#fde,#fbc,#fdd,#cef,#9de,#def,#def,#fff,#9de,#fff,#fdd,#fff,#def,#ade,#fbc,#fbb,#fef,#fee,#fdd,#fff,#fee,#bee,#ade,#fee,#def,#f66,#fff,#68e,#eff,#fff,#fff,#def,#fdd,#fff,#8ce,#9de,#fdd,#bde,#68e,#fee,#fff,#fff,#fee,#7be,#fee,#fee,#def,#bde,#fff,#fff,#def,#fff,#8ce,#bde,#def,#fee,#fdd,#fff,#def,#7ae,#fff,#8be,#44f,#9ce,#fff,#bde,#f99,#fbc,#eff,#fee,#ade,#fcd,#bde,#ade,#bde,#bde,#bde,#68e,#fff,#def,#fee,#cef,#8ce,#def,#f77,#cee,#fcd,#67e,#cee,#cee,#def,#fbc,#ade,#f00,#cef,#fff,#fff,#cee,#fde,#bee,#fff,#ade,#fee,#eff,#eff,#8ce,#fff,#def,#9de,#8ce,#def,#def,#eff,#cee,#ade,#def,#8be,#8be,#eff,#8be,#eef,#fde,#f89,#f77,#def,#fee,#fdd,#fee,#fff,#bde,#bde,#f88,#def,#8ce,#bde,#ade,#44f,#fee,#eff,#ade,#fdd,#eff,#fff,#fcd,#eef,#ade,#fff,#eff,#def,#eff,#cef,#fbc,#8ce,#ade,#def,#fdd,#def,#fde,#7ae,#8ce,#fee,#7ae,#00f,#eff,#fef,#eff,#8ce,#fde,#44f,#fff,#ade,#ade,#9ce,#bde,#ade,#fee,#fff,#ade,#fff,#ade,#fff,#79e,#fcd,#def,#fde,#bde,#fff,#7be,#ade,#00f,#8ce,#cee,#def,#fee,#fcc,#eff,#33f,#8ce,#bde,#fff,#def,#bde,#67e,#7be,#fee,#cef,#fcc,#8be,#def,#56f,#79e,#7ae,#44f,#56f,#22f,#fde,#00f,#bde,#def,#eef,#79e,#7ae,#7be,#8be,#def,#67e,#7ae,#68e,#cee,#79e,#8be,#9de,#7ae,#fdd,#68e,#def,#8ce,#f44,#22f,#7be,#55f,#7be,#cef,#00f,#00f,#def,#ade,#44f,#bde,#55f,#68e,#ade,#55f,#7ae,#00f,#33f,#22f,#9ce,#7ae,#67e,#eff,#44f,#8be,#bee)"></div><div class="hr" style="top:1852.82px;background:linear-gradient(90deg,#fdd,#fee,#fee,#f9a,#fee,#fde,#fcc,#eef,#fff,#fcc,#fbc,#fcd,#fdd,#fbb,#fee,#fee,#f99,#fab,#f89,#fcc,#eff,#fee,#fcd,#fcc,#fcc,#faa,#fde,#fbc,#fee,#f77,#fde,#fdd,#cef,#fff,#fde,#fab,#fbc,#fbb,#f99,#fbb,#fee,#f88,#fde,#f00,#fbc,#fcc,#def,#fdd,#fcc,#fdd,#fbc,#cef,#eef,#fde,#fcc,#fcc,#fbb,#fde,#fee,#fab,#fee,#fcc,#f99,#fbc,#f99,#faa,#fdd,#79e,#fbc,#fee,#fcd,#f33,#eff,#fdd,#fcc,#fee,#fff,#fee,#fdd,#fdd,#fee,#f33,#fcd,#fde,#fbb,#fcd,#cee,#f66,#fbc,#fee,#fef,#fbc,#eff,#56f,#fee,#fdd,#fcd,#f77,#fcc,#eff,#fcc,#eff,#faa,#fee,#8be,#fee,#fdd,#fcc,#fee,#fbc,#fff,#fbc,#fcd,#fcc,#67e,#fdd,#f88,#fff,#fee,#fbc,#def,#fcd,#bee,#fdd,#fcc,#fee,#fff,#fdd,#f55,#eef,#fbc,#fdd,#f33,#fdd,#faa,#fee,#fde,#cee,#fbc,#fcd,#fff,#fee,#def,#cef,#fbc,#bee,#fee,#fee,#fef,#fff,#fff,#fff,#fdd,#f77,#fdd,#cef,#fcd,#fde,#f9a,#fff,#fbc,#faa,#f77,#eff,#cee,#fee,#fdd,#fde,#eff,#fee,#def,#fee,#ade,#fcd,#cee,#fee,#fdd,#eff,#eff,#fcd,#def,#fee,#fdd,#fcd,#def,#fde,#fdd,#fdd,#8be,#fab,#fff,#fcd,#ade,#cee,#fff,#fff,#fef,#fee,#fdd,#fcd,#fee,#fdd,#fee,#fff,#fff,#fff,#fee,#fcd,#fbc,#fcd,#fdd,#f99,#fee,#fff,#f66,#def,#ade,#fee,#def,#fff,#fff,#fde,#fee,#fee,#cef,#fde,#f00,#def,#f9a,#bde,#def,#fdd,#cee,#bee,#00f,#eef,#bde,#fff,#f33,#fff,#fcd,#fee,#fdd,#fee,#fee,#fab,#cef,#fee,#fee,#fee,#fee,#fff,#eff,#fee,#eff,#fee,#cef,#bde,#fde,#fee,#def,#cee,#fef,#fbc,#ade,#fcc,#8ce,#ade,#fff,#fdd,#fee,#fff,#fde,#bde,#cef,#fff,#56f,#def,#eff,#fcc,#fbc,#cee,#8ce,#fee,#9ce,#fde,#ade,#eff,#fdd,#eff,#def,#fee,#ade,#fde,#8be,#fee,#eff,#fdd,#fee,#fff,#ade,#eff,#79e,#fee,#8ce,#56f,#fff,#def,#def,#fbb,#fdd,#fee,#eff,#fee,#fff,#fdd,#eef,#fff,#fdd,#ade,#fbc,#bde,#00f,#fee,#cee,#fde,#79e,#def,#eef,#fcd,#def,#fff,#eff,#fcd,#def,#fde,#ade,#79e,#fee,#cef,#f66,#def,#fcd,#bde,#fee,#bde,#fff,#fff,#ade,#eef,#7be,#fee,#eef,#bee,#cee,#fbc,#eff,#56f,#def,#ade,#fbb,#fff,#55f,#fff,#fcc,#eef,#eff,#def,#fff,#eff,#8ce,#fff,#cef,#fee,#eff,#bde,#cef,#68e,#9ce,#bde,#cef,#fff,#8ce,#eff,#ade,#fff,#eff,#56f,#79e,#eff,#9ce,#fff,#def,#cee,#fde,#cee,#fff,#fff,#fdd,#7be,#9ce,#fef,#ade,#cef,#cef,#67e,#9ce,#fdd,#def,#8ce,#ade,#fef,#fef,#fef,#fee,#fee,#9ce,#bee,#fff,#ade,#fee,#def,#8ce,#ade,#fef,#9de,#fff,#79e,#7ae,#def,#8ce,#bde,#bee,#8ce,#f66,#79e,#cee,#bde,#bde,#def,#7be,#fee,#8ce,#8ce,#def,#fee,#fef,#fde,#ade,#def,#bde,#fbc,#eff,#def,#ade,#fde,#22f,#79e,#00f,#79e,#fff,#00f,#fee,#7be,#eff,#44f,#ade,#fde,#7be,#def,#79e,#8ce,#fee,#def,#fcd,#def,#68e,#ade,#67e,#8ce,#9de,#79e,#ade,#00f,#fff,#8be,#7ae,#bde,#44f,#ade,#00f,#ade,#00f,#f22,#ade,#9ce,#44f,#eff,#bde,#bde,#cee,#79e,#fee,#fff,#8ce,#56f,#fcd,#7ae,#8be,#33f,#f00,#8be,#22f,#00f,#fff,#7ae,#79e,#56f,#00f,#9ce,#7be,#56f,#ade,#00f,#cef,#22f,#fdd,#69e,#00f,#8be,#69e,#9de,#cee)"></div><div class="hr" style="top:1874.31px;background:linear-gradient(90deg,#fcd,#fee,#fab,#fab,#fcc,#fcd,#fcc,#fee,#fff,#fee,#fee,#fbb,#eff,#fdd,#fdd,#fcd,#fdd,#f44,#fee,#fde,#fbc,#fdd,#f88,#fee,#fee,#fee,#fab,#fbc,#fff,#fde,#fff,#fbc,#f99,#fbc,#fdd,#fcd,#f78,#fbc,#faa,#f66,#fee,#fcd,#fcd,#f00,#fff,#f88,#fee,#eff,#fdd,#fff,#fee,#f88,#fcd,#fee,#fde,#fbb,#fff,#f66,#fdd,#def,#fde,#fbb,#fbc,#fcd,#fee,#fdd,#fbb,#fee,#fde,#fcd,#fcc,#def,#f77,#fcd,#fdd,#fdd,#fdd,#22f,#fcd,#fde,#f77,#eff,#fcd,#cef,#fcd,#fff,#fcd,#fdd,#fab,#fcc,#fde,#fdd,#fde,#fdd,#fff,#fbb,#9de,#f66,#f99,#fee,#fee,#bde,#fcd,#fde,#fcd,#fee,#fbb,#fbc,#bde,#fde,#fbc,#fdd,#fde,#fcd,#fee,#eef,#fee,#fff,#fee,#fdd,#fff,#fee,#fde,#fff,#f89,#fee,#fdd,#fdd,#fbb,#fdd,#fff,#fcd,#fff,#fdd,#fcd,#eef,#fee,#fcc,#fcd,#f99,#eef,#faa,#fff,#fef,#eef,#fcd,#fbc,#f88,#fcc,#fee,#fcd,#fee,#fee,#fee,#fbb,#8ce,#fcd,#fde,#def,#eff,#fff,#eff,#fcc,#fee,#fff,#fee,#fff,#fdd,#fee,#fff,#fff,#fee,#fde,#def,#22f,#fde,#fdd,#fbc,#fdd,#fee,#fee,#fcd,#fdd,#f88,#fab,#fee,#eff,#cef,#fdd,#fff,#fbc,#7ae,#fdd,#fcc,#fcc,#eff,#fee,#f55,#eef,#fbb,#fee,#fdd,#eff,#fee,#8be,#fee,#fdd,#fff,#fff,#fff,#fcc,#fee,#fde,#faa,#fde,#eff,#eff,#fee,#eff,#fef,#fbc,#ade,#fff,#fee,#fff,#fee,#def,#55f,#fee,#fee,#cee,#fbb,#def,#def,#ade,#fff,#fff,#bde,#bde,#fef,#fde,#fff,#fff,#bde,#cef,#fff,#eff,#bde,#f9a,#fff,#9ce,#fcc,#fff,#9ce,#9de,#fee,#eef,#fff,#eff,#ade,#eef,#eff,#fdd,#fde,#bde,#7ae,#7be,#8ce,#fdd,#fde,#eff,#cee,#fcc,#fee,#fcd,#eff,#9de,#fcd,#fee,#7ae,#eef,#fef,#bde,#fee,#fdd,#fee,#fcc,#fff,#fcd,#def,#fff,#fdd,#7ae,#fee,#9ce,#eff,#fff,#fee,#def,#fee,#fee,#fcd,#fee,#ade,#def,#ade,#9ce,#def,#fef,#fff,#f44,#fcd,#eff,#fde,#f9a,#bde,#bee,#def,#fff,#eff,#faa,#eff,#fff,#fff,#f22,#fdd,#def,#fff,#bee,#f77,#fbc,#cef,#fef,#fee,#8ce,#bde,#fbc,#fcd,#f99,#def,#fbb,#eef,#9ce,#7ae,#fee,#fff,#eff,#fee,#bee,#8ce,#bde,#fee,#bee,#fff,#33f,#fff,#def,#ade,#cef,#8be,#fee,#cef,#bee,#eff,#fdd,#fdd,#ade,#fcc,#cee,#def,#fef,#fff,#fff,#def,#7ae,#def,#fbc,#fdd,#eef,#fff,#fdd,#def,#ade,#def,#fff,#68e,#fcd,#fcd,#f9a,#9de,#eff,#fdd,#8ce,#fff,#fee,#bde,#fff,#fee,#def,#cef,#cef,#fee,#9ce,#cef,#bee,#9de,#cee,#eff,#bde,#fff,#7be,#fff,#fdd,#def,#8ce,#8ce,#44f,#ade,#fee,#bee,#fff,#8ce,#7ae,#bde,#8ce,#fbb,#cef,#ade,#fff,#fcd,#8be,#cee,#fee,#eff,#bde,#9de,#def,#67e,#fee,#79e,#7ae,#bde,#fff,#fdd,#fcd,#fff,#cef,#fdd,#ade,#def,#bde,#def,#fde,#fee,#ade,#f99,#9de,#7ae,#00f,#9ce,#cee,#eff,#fee,#f33,#9de,#cef,#33f,#fcd,#55f,#8ce,#ade,#bde,#00f,#cee,#def,#fff,#55f,#cee,#33f,#def,#ade,#00f,#bde,#00f,#fee,#8be,#8ce,#fff,#bde,#fff,#fff,#bde,#00f,#fee,#f77,#ade,#7be,#7be,#ade,#8ce,#7ae,#fdd,#fab,#bde,#9de,#def,#eff,#7ae,#cee,#00f,#79e,#7ae,#56f,#55f,#fee,#8ce,#fee,#68e,#69e,#7ae,#bde,#55f,#8ce,#8ce,#00f,#11f,#fff,#ade,#22f,#cef,#8ce,#fff,#cee)"></div><div class="hr" style="top:1895.79px;background:linear-gradient(90deg,#fdd,#fee,#fde,#fde,#fdd,#fcc,#fbc,#fbc,#fcc,#fcc,#f99,#f89,#def,#f78,#fcc,#fcd,#55f,#fcd,#f9a,#fcd,#fff,#fab,#f99,#fee,#fee,#fbc,#f77,#fab,#fde,#faa,#fdd,#fdd,#ade,#f00,#fee,#fdd,#f67,#fbb,#fee,#fee,#fee,#fbc,#ade,#fbb,#fcd,#cef,#fee,#fee,#fff,#fdd,#fee,#faa,#fcc,#fee,#f9a,#fcc,#f66,#fee,#fde,#f33,#fdd,#fbc,#fab,#fcc,#fde,#fcd,#fcd,#def,#f67,#fcd,#fcd,#fdd,#fee,#fcc,#fef,#fdd,#fff,#fcc,#fdd,#fcc,#fbc,#f11,#fee,#fcc,#fcd,#fff,#fee,#fcc,#fbc,#fdd,#fff,#f99,#fde,#def,#fee,#fde,#fde,#f77,#fcd,#fee,#def,#fdd,#fcc,#fdd,#f99,#fff,#fdd,#fcd,#f44,#fde,#fee,#fcc,#fbc,#fbc,#fff,#fff,#faa,#fff,#fef,#fbb,#fcd,#faa,#fab,#fff,#7be,#fcc,#fff,#fdd,#f89,#fcc,#fdd,#fde,#fee,#fdd,#fbc,#fff,#fdd,#fcc,#fcd,#fbc,#eff,#fcc,#fdd,#fee,#fcd,#8ce,#fde,#f99,#fbc,#fcd,#fef,#fcd,#fee,#eef,#fff,#eff,#fee,#fde,#fcd,#fee,#fee,#fab,#fee,#fde,#def,#fee,#cee,#fab,#fee,#fee,#fdd,#fee,#fee,#f88,#fdd,#faa,#fde,#fdd,#fab,#fde,#fdd,#eff,#fbb,#f66,#fcc,#9de,#fdd,#fee,#fdd,#68e,#bde,#fdd,#eef,#fde,#eff,#fef,#def,#fcd,#bde,#fef,#fdd,#fcd,#fff,#fbb,#f55,#9ce,#fdd,#fcd,#f00,#fee,#fcd,#fcd,#fff,#fcc,#fff,#cef,#fff,#cef,#bee,#fbb,#fee,#fff,#8ce,#fdd,#fdd,#fee,#cef,#eff,#fee,#eff,#fdd,#def,#cee,#fee,#def,#fee,#eff,#fdd,#9de,#fee,#fee,#fff,#fde,#fbc,#9de,#fff,#eef,#fee,#fff,#fde,#def,#def,#cee,#fee,#bde,#fee,#fdd,#fff,#68e,#fee,#fee,#fff,#7be,#fdd,#eef,#eff,#def,#fde,#eff,#fbb,#fff,#fdd,#fbb,#7be,#7ae,#def,#cee,#fde,#eff,#fdd,#44f,#fde,#bde,#7be,#fdd,#eff,#fee,#fee,#def,#9ce,#fff,#fee,#8ce,#f44,#ade,#fcd,#cef,#bde,#eff,#ade,#fcd,#fff,#cef,#ade,#ade,#eff,#fef,#eff,#fff,#8ce,#fee,#fff,#fdd,#fee,#fdd,#bee,#eff,#fee,#fee,#bde,#fdd,#ade,#8ce,#f88,#9de,#fdd,#ade,#def,#fff,#fff,#bde,#fdd,#fee,#cef,#ade,#bde,#fbb,#ade,#def,#7be,#f99,#def,#bee,#56f,#fff,#cee,#cef,#8be,#f9a,#fcd,#ade,#fee,#fee,#fdd,#fee,#fff,#fdd,#fde,#56f,#9de,#bde,#def,#fbc,#fff,#def,#fef,#67e,#cef,#fdd,#7ae,#bde,#fff,#fff,#9ce,#8be,#fff,#fee,#56f,#eff,#7ae,#fff,#cef,#bde,#bde,#fdd,#eff,#9de,#68e,#68e,#fee,#def,#fee,#fbc,#eff,#ade,#def,#bde,#f66,#fff,#bde,#ade,#def,#def,#f55,#8be,#55f,#ade,#fff,#eef,#cee,#7ae,#cee,#fff,#def,#eff,#fcc,#79e,#def,#fee,#eef,#eff,#8ce,#44f,#00f,#cef,#7ae,#bde,#7be,#cee,#fff,#8ce,#def,#9de,#7ae,#fdd,#9ce,#cee,#69e,#fee,#cee,#fff,#cee,#ade,#7be,#fdd,#fee,#def,#fde,#cef,#def,#9de,#bee,#bde,#eff,#8be,#bde,#9de,#68e,#00f,#8ce,#fcc,#def,#fee,#def,#8ce,#9de,#cef,#fff,#fff,#8ce,#cee,#8ce,#11f,#bde,#fff,#f44,#8ce,#def,#00f,#7ae,#7ae,#9de,#8ce,#11f,#eff,#67e,#eff,#cee,#33f,#fee,#69e,#fee,#00f,#9de,#9de,#7ae,#8ce,#8ce,#79e,#00f,#cef,#56f,#cee,#cee,#9de,#fde,#eff,#00f,#7ae,#8ce,#55f,#7ae,#00f,#11f,#79e,#55f,#9ce,#68e,#79e,#ade,#8ce,#00f,#7ae,#44f,#44f,#00f,#ade,#8ce,#00f,#7ae,#79e,#8ce,#cee)"></div><div class="hr" style="top:1917.27px;background:linear-gradient(90deg,#fcd,#fdd,#fcd,#fcc,#fcd,#cef,#fcd,#fdd,#fdd,#fbc,#fcd,#fee,#fdd,#fee,#fcd,#eef,#fee,#f88,#fff,#fff,#fdd,#f9a,#fde,#fbb,#fdd,#f9a,#f9a,#fab,#fcd,#f88,#fee,#fee,#f99,#fee,#fef,#eff,#fcc,#fbc,#fde,#def,#fdd,#fee,#faa,#f00,#fbc,#fdd,#fbc,#fff,#fff,#fee,#fdd,#fcc,#fab,#fde,#fde,#fdd,#fee,#fde,#fcd,#fff,#fbc,#f22,#fcd,#fee,#fcd,#fee,#8ce,#00f,#fee,#fdd,#fee,#fdd,#fff,#fee,#fab,#fcd,#def,#fee,#fee,#fff,#fcc,#f11,#fab,#fcc,#fee,#fde,#fdd,#fde,#fff,#fff,#fff,#faa,#fdd,#bde,#fee,#fdd,#f99,#fff,#fcd,#7ae,#fdd,#fef,#fbc,#fee,#fdd,#fcd,#fde,#fff,#fcc,#fee,#79e,#fef,#8ce,#fff,#def,#def,#fdd,#eff,#def,#fef,#fcc,#fee,#fcc,#cef,#fde,#f66,#fff,#fff,#f78,#f00,#fff,#9ce,#fff,#fcc,#fde,#fee,#fff,#fdd,#fff,#f99,#fee,#def,#fcd,#fff,#fee,#8ce,#fff,#fee,#fcc,#eff,#fee,#fff,#eff,#def,#fff,#fee,#fdd,#fcd,#fdd,#fff,#fdd,#fcd,#f99,#fbc,#fcd,#eff,#44f,#fff,#fff,#ade,#fee,#cef,#fdd,#fdd,#8ce,#fff,#fdd,#cee,#fef,#fcd,#fff,#fcd,#fdd,#fdd,#cef,#ade,#eff,#cef,#fbb,#eef,#f33,#fdd,#eff,#fdd,#eff,#eff,#eff,#fee,#fff,#eff,#fcc,#cef,#bde,#fde,#fcd,#fff,#def,#cee,#fff,#fff,#fde,#eef,#fff,#fee,#fcc,#fcd,#fff,#cef,#fff,#fff,#fef,#eff,#fff,#9de,#fcd,#f99,#fff,#ade,#7be,#bee,#fff,#fee,#9ce,#fde,#fee,#fdd,#eff,#eff,#eff,#fff,#fff,#bde,#fee,#fcd,#fff,#eff,#cee,#fbc,#def,#bde,#cee,#fff,#f9a,#69e,#eff,#fff,#9de,#eff,#9ce,#def,#7ae,#def,#eff,#fcd,#fee,#fff,#7ae,#ade,#69e,#fff,#56f,#ade,#eef,#8be,#f00,#7ae,#fee,#fdd,#bde,#fff,#def,#bde,#56f,#fee,#eff,#fee,#fcd,#def,#fff,#00f,#bde,#fff,#bde,#ade,#def,#8be,#eff,#7be,#fff,#fcd,#fff,#fbc,#9de,#68e,#cee,#fdd,#fff,#cee,#22f,#fef,#cee,#cee,#fff,#fff,#fde,#7ae,#bde,#fff,#fdd,#ade,#eff,#8ce,#8ce,#fff,#fef,#fff,#cee,#fff,#fef,#fff,#cee,#fff,#8ce,#def,#ade,#fde,#fcd,#fff,#cef,#8be,#def,#bde,#ade,#def,#fef,#9de,#bde,#7be,#def,#fcd,#8be,#bde,#def,#def,#cef,#ade,#eff,#cee,#ade,#fee,#fdd,#cef,#eff,#ade,#fdd,#cef,#ade,#eff,#8ce,#bee,#7ae,#def,#67e,#fee,#7be,#fff,#bde,#55f,#cef,#bee,#fff,#fef,#9ce,#bde,#def,#8ce,#def,#def,#8ce,#def,#8ce,#fff,#eff,#fff,#cef,#69e,#bee,#fff,#ade,#ade,#7be,#eef,#ade,#bde,#eff,#68e,#bde,#fee,#9de,#69e,#67e,#7ae,#fcc,#def,#eff,#cef,#8ce,#cee,#cef,#00f,#fee,#8ce,#69e,#33f,#79e,#fff,#9de,#8be,#79e,#fff,#79e,#ade,#8be,#eff,#fde,#bee,#cee,#eff,#bde,#7ae,#8ce,#fbc,#ade,#ade,#fcd,#cef,#eff,#fee,#fff,#7be,#67e,#8be,#fcc,#eff,#def,#fcd,#33f,#def,#00f,#cee,#def,#9ce,#eff,#cee,#69e,#9de,#79e,#fee,#eef,#7ae,#fff,#fff,#fff,#cee,#7be,#def,#def,#8ce,#7ae,#8ce,#faa,#69e,#8be,#22f,#fcd,#79e,#79e,#fcd,#55f,#55f,#7be,#cef,#8ce,#8be,#8be,#7ae,#7ae,#9de,#ade,#8ce,#79e,#bde,#cef,#fdd,#bde,#7be,#8ce,#00f,#8ce,#56f,#ade,#79e,#9de,#33f,#eef,#9de,#8ce,#55f,#56e,#67e,#68e,#56f,#ade,#67e,#44f,#8ce,#bde,#55f,#7ae,#68e,#7ae,#9de,#55f)"></div><div class="hr" style="top:1938.75px;background:linear-gradient(90deg,#fab,#fcd,#fdd,#f88,#cef,#fcd,#fdd,#fee,#fff,#fcd,#fdd,#fcd,#fee,#fcc,#def,#fcd,#fff,#fbb,#fbc,#fee,#8ce,#fdd,#fdd,#68e,#fee,#fee,#fee,#faa,#fde,#fcd,#55f,#fdd,#fbc,#cef,#fee,#fcc,#9ce,#fcc,#ade,#def,#fdd,#f99,#fef,#fcd,#fde,#fdd,#fee,#fef,#fcc,#fcc,#8ce,#fbb,#fdd,#fcc,#7be,#fde,#fee,#fbb,#fff,#fde,#fee,#eef,#fcc,#fdd,#fbc,#fee,#fff,#f99,#fee,#fcd,#fdd,#fee,#fcd,#fcc,#eff,#fcd,#fdd,#fff,#fdd,#fbc,#fcd,#f11,#fdd,#fdd,#fdd,#fee,#def,#f9a,#fdd,#cef,#fee,#fee,#fde,#fee,#fee,#fbb,#fcc,#f00,#faa,#fdd,#cee,#fdd,#fee,#fcd,#fdd,#bee,#fcd,#fcc,#fde,#8ce,#fff,#fbc,#fff,#fdd,#fff,#def,#fee,#fab,#eff,#fee,#eff,#fcd,#fee,#fee,#fee,#fcd,#fdd,#def,#fbc,#fcd,#fff,#fde,#fee,#fdd,#fee,#fee,#fee,#fff,#8ce,#fbb,#eff,#fff,#fee,#bde,#fdd,#bee,#fcd,#fee,#fff,#fee,#fcd,#fdd,#def,#fee,#eff,#fee,#fef,#fab,#fcc,#fdd,#fcd,#fbc,#fee,#fff,#fff,#fde,#ade,#bde,#fee,#bde,#fee,#fde,#fde,#eff,#cee,#eff,#fcd,#fee,#fee,#fdd,#fff,#fcd,#fee,#fcd,#fcd,#fee,#fee,#def,#fee,#fff,#bee,#fee,#def,#fee,#fff,#fee,#def,#fcd,#fee,#fcd,#fee,#fee,#fbc,#def,#fee,#9ce,#fde,#fff,#fee,#fcd,#fee,#fcc,#fee,#fdd,#fff,#fff,#eef,#fff,#fef,#eef,#fee,#fee,#fbc,#ade,#fff,#def,#def,#fee,#9ce,#fef,#bde,#fbc,#8ce,#def,#fde,#fdd,#22f,#fff,#fbb,#fde,#fee,#eff,#fdd,#fdd,#cef,#fee,#eff,#ade,#fff,#fff,#bee,#fcc,#fee,#eff,#eef,#eff,#def,#fff,#def,#bde,#bde,#faa,#fcd,#fee,#fff,#fdd,#def,#def,#fff,#fde,#fef,#fbc,#fde,#ade,#eff,#eff,#8ce,#fef,#eef,#fef,#cee,#ade,#bde,#fee,#fee,#fee,#fdd,#8ce,#fff,#fff,#fee,#cef,#68e,#fee,#fee,#bde,#eff,#fff,#fdd,#def,#7ae,#fcc,#bde,#8ce,#eff,#def,#fcd,#fff,#fde,#fee,#eef,#8ce,#fee,#f33,#f9a,#cef,#def,#def,#cef,#eef,#ade,#8ce,#def,#44f,#def,#def,#def,#fdd,#f66,#fee,#cee,#8ce,#bde,#fee,#fee,#fff,#fff,#def,#eef,#8ce,#cef,#cef,#bee,#7ae,#fee,#fde,#def,#cef,#ade,#fbc,#8ce,#fee,#fee,#ade,#bde,#eff,#fef,#fff,#9ce,#9de,#fee,#7be,#ade,#cee,#fdd,#bde,#def,#cee,#fef,#fff,#9de,#fee,#cef,#fcd,#eff,#cef,#fde,#cef,#def,#68e,#eef,#ade,#fff,#cee,#fcd,#cef,#fff,#eff,#eef,#8ce,#faa,#f89,#fcd,#fee,#cef,#cee,#eef,#bee,#fcc,#fef,#bde,#ade,#ade,#cef,#bde,#def,#8ce,#fff,#def,#fab,#56f,#def,#fef,#fef,#fdd,#fcd,#def,#ade,#fff,#bde,#fff,#fee,#8be,#8ce,#56f,#bee,#eff,#ade,#ade,#f9a,#68e,#def,#ade,#8ce,#cee,#8ce,#fee,#def,#fcd,#eff,#ade,#fde,#68e,#9ce,#fee,#cef,#fde,#fff,#9de,#9ce,#eff,#cee,#eff,#fcd,#8ce,#bde,#69e,#8ce,#22f,#ade,#9ce,#bde,#fee,#7ae,#f99,#fcc,#9de,#fde,#55f,#8ce,#ade,#69e,#fee,#fbc,#bde,#fbb,#79e,#8ce,#bde,#8ce,#7be,#9de,#9de,#11f,#eff,#7be,#8be,#fff,#22f,#def,#bee,#8ce,#00f,#9de,#fef,#00f,#def,#8be,#7ae,#67e,#00f,#8ce,#eef,#def,#bde,#bee,#8be,#11f,#00f,#ade,#fee,#cee,#00f,#55f,#8ce,#7ae,#9de,#55f,#7be,#9de,#9de,#00f,#bde,#33f,#fff,#7be,#def,#8ce,#00f,#9ce,#79e,#bde,#68e)"></div><div class="hr" style="top:1960.23px;background:linear-gradient(90deg,#fff,#fbc,#fdd,#fcc,#fbc,#fee,#fde,#fcd,#f00,#fee,#fee,#fff,#fff,#fef,#cee,#fdd,#faa,#fcc,#fde,#fee,#fdd,#fbc,#f55,#fdd,#fff,#56f,#fee,#56f,#fde,#fde,#fdd,#fbc,#fff,#fab,#fff,#fdd,#fcd,#fdd,#fbb,#fdd,#def,#fff,#fcc,#fdd,#eff,#fab,#f22,#f9a,#fde,#bde,#fdd,#fbc,#f66,#fbb,#fee,#faa,#fff,#fdd,#fee,#00f,#fde,#fab,#fcd,#fee,#fdd,#79e,#fff,#fff,#cef,#bee,#def,#fee,#fff,#fdd,#fee,#eff,#def,#fee,#9de,#ade,#ade,#faa,#fcd,#fcd,#fee,#fcc,#55f,#fee,#fdd,#68e,#eff,#fff,#def,#fdd,#cee,#fff,#fdd,#f9a,#fbc,#fff,#cef,#eff,#fee,#fff,#f55,#fff,#fee,#fbc,#fff,#fff,#fff,#fcd,#eff,#fee,#fef,#7ae,#fdd,#fff,#fff,#cee,#fde,#68e,#cef,#fee,#fcd,#fcd,#fee,#22f,#fcd,#fff,#fee,#fdd,#eff,#eff,#f55,#fff,#fcd,#cee,#fff,#fdd,#8ce,#fee,#fff,#8ce,#fee,#fde,#eff,#fcd,#fff,#fef,#fcc,#fee,#fff,#9ce,#44f,#fee,#fbb,#fff,#fee,#def,#fcc,#fee,#fee,#7be,#8ce,#fee,#fbb,#fff,#9ce,#fee,#fee,#eef,#9de,#fdd,#fee,#fcc,#fdd,#68e,#eff,#eff,#fdd,#fee,#cef,#f77,#fee,#fff,#fbb,#eef,#fee,#cef,#cee,#fab,#ade,#fee,#bee,#f9a,#fff,#fff,#cef,#fee,#fee,#fee,#eef,#67e,#eef,#eff,#eff,#eff,#fdd,#fff,#fef,#ade,#def,#def,#fee,#9de,#fef,#fee,#8be,#fee,#fee,#fde,#fee,#f78,#eef,#fee,#ade,#bde,#def,#fff,#eff,#eef,#ade,#def,#7be,#faa,#fee,#fef,#fee,#fcd,#eff,#bde,#fde,#def,#fff,#fff,#cef,#7ae,#fff,#fee,#bde,#fff,#fbb,#cef,#ade,#eef,#7ae,#fcd,#def,#bde,#fee,#cef,#fcd,#eff,#cef,#fee,#eff,#67e,#eff,#f88,#fee,#fbc,#def,#def,#def,#fcd,#fee,#fdd,#eff,#fff,#bde,#ade,#9de,#fff,#fbc,#cef,#fee,#cef,#fff,#eff,#fee,#fbc,#fff,#def,#cee,#22f,#def,#cef,#fbc,#fee,#fde,#fee,#ade,#56f,#8ce,#ade,#def,#55f,#8ce,#cee,#fab,#def,#9de,#def,#fee,#def,#ade,#eff,#bde,#8ce,#fee,#bde,#def,#fee,#bde,#eff,#cef,#7be,#bde,#def,#8ce,#eff,#fff,#f88,#eff,#9de,#fee,#fdd,#fdd,#cef,#ade,#def,#def,#ade,#fff,#fee,#ade,#eef,#fde,#def,#ade,#cef,#fdd,#fdd,#9de,#9de,#eff,#fee,#bde,#7ae,#9de,#cef,#7ae,#fff,#7be,#fdd,#ade,#eef,#fee,#def,#def,#fcd,#ade,#ade,#8ce,#cef,#fdd,#fee,#cee,#fff,#eff,#eff,#8ce,#00f,#cef,#68e,#8ce,#8be,#79e,#cef,#cef,#fff,#cee,#fee,#fff,#cef,#7ae,#fff,#8ce,#def,#8ce,#cee,#fee,#cef,#fee,#8ce,#67e,#def,#eff,#bde,#fee,#fee,#fee,#fff,#bde,#cee,#bde,#fee,#cef,#bde,#fcd,#79e,#9ce,#00f,#cee,#9de,#7ae,#8ce,#8ce,#fee,#f99,#cef,#def,#cef,#7be,#bde,#ade,#44f,#def,#bde,#bde,#eff,#9ce,#8ce,#fee,#fff,#ade,#bde,#9ce,#def,#ade,#9de,#eff,#9de,#8be,#bde,#33f,#fee,#00f,#bde,#fff,#9ce,#eff,#9de,#7be,#def,#8ce,#cef,#79e,#69e,#9ce,#eef,#69e,#bde,#9de,#fdd,#7ae,#bde,#fcd,#00f,#8be,#44f,#68e,#44f,#fee,#8ce,#ade,#9ce,#44f,#cef,#9de,#eef,#00f,#cee,#8ce,#8ce,#7be,#ade,#fee,#ade,#eef,#55f,#ade,#cef,#ade,#9de,#8ce,#7be,#44f,#56f,#67e,#ade,#11f,#44f,#ade,#8ce,#ade,#79e,#79e,#bde,#7be,#7ae,#ade,#bde,#67e,#9de,#fee,#67e,#22f,#9de,#79e,#8ce,#bde)"></div><div class="hr" style="top:1981.72px;background:linear-gradient(90deg,#fee,#fde,#56f,#ade,#fcc,#fdd,#fcc,#f99,#fee,#fee,#f99,#f66,#fee,#55f,#bde,#fee,#fee,#fbb,#fcd,#79e,#fde,#def,#fdd,#fab,#eef,#fff,#fbb,#fee,#fde,#fbc,#fff,#fdd,#eef,#fdd,#fff,#fdd,#fdd,#fbc,#fab,#fcc,#fdd,#fee,#fff,#f22,#f99,#fcd,#fcd,#fff,#fdd,#fee,#fcc,#fff,#fee,#fff,#fbc,#fcd,#def,#f9a,#eff,#faa,#fbc,#fcc,#f78,#def,#fcd,#fdd,#fcc,#fff,#fee,#fcd,#fbc,#fbc,#68e,#fee,#fff,#fde,#fee,#fde,#eff,#fff,#9de,#f22,#7ae,#fcd,#fee,#fef,#eff,#fdd,#fdd,#fdd,#fee,#def,#fde,#fff,#def,#eef,#fcd,#fcd,#fee,#fff,#44f,#fab,#fbb,#fcd,#fdd,#def,#fcd,#def,#fcd,#f78,#def,#fff,#fdd,#fee,#fee,#fee,#fee,#f66,#fdd,#fee,#fee,#def,#fdd,#fff,#eff,#fee,#fee,#def,#eff,#fcd,#fee,#fff,#fcd,#fdd,#fee,#cef,#fff,#fee,#fef,#fcd,#fbb,#fff,#f88,#def,#fff,#f66,#fee,#eff,#fdd,#cee,#fee,#faa,#eff,#fee,#f99,#fff,#def,#7ae,#fee,#fef,#fdd,#fff,#fcd,#eff,#9de,#fff,#fdd,#cef,#fdd,#7ae,#f66,#fff,#fee,#fcd,#fde,#fcd,#fff,#fcd,#def,#fee,#8be,#fbc,#eff,#fde,#fdd,#fff,#f77,#eff,#fcd,#fbc,#fef,#fee,#def,#fee,#fee,#fee,#cef,#fff,#fbb,#ade,#fbc,#fdd,#68e,#7be,#eef,#def,#fee,#67e,#ade,#ade,#fee,#fde,#fee,#fcc,#fee,#fff,#fff,#fab,#fee,#fdd,#8be,#f77,#7be,#fef,#fbc,#fff,#def,#cee,#fff,#79e,#def,#ade,#ade,#eef,#cee,#eff,#fee,#fee,#bde,#faa,#def,#bee,#fff,#fff,#eef,#fcd,#ade,#def,#bde,#fcc,#fff,#fcd,#def,#fcd,#fff,#f88,#fde,#fdd,#ade,#def,#eff,#fdd,#fee,#fdd,#fee,#bde,#fee,#fab,#fee,#fcd,#9de,#fff,#def,#8be,#fee,#fee,#eff,#fff,#fbc,#56f,#ade,#ade,#8be,#fde,#fef,#fee,#eef,#eff,#fee,#fff,#cef,#fde,#f77,#fbc,#fee,#eff,#fff,#fde,#fdd,#def,#def,#eff,#fef,#eff,#def,#fcd,#cee,#def,#fff,#fee,#def,#fcc,#fdd,#eef,#fdd,#def,#eff,#fee,#def,#fff,#ade,#bde,#eff,#fff,#cef,#68e,#fdd,#fcc,#8be,#fff,#fff,#fee,#def,#fff,#ade,#def,#fbb,#fde,#eff,#def,#fee,#fee,#9de,#fff,#bde,#def,#fff,#9de,#fee,#fff,#eff,#eef,#bde,#8ce,#bde,#fff,#fff,#fff,#eef,#ade,#faa,#eff,#bde,#fde,#fde,#f99,#bde,#9ce,#fcd,#def,#cef,#def,#fff,#8ce,#7ae,#eef,#f89,#8ce,#fff,#67e,#def,#ade,#fdd,#eff,#fff,#def,#fff,#cee,#fee,#fff,#eff,#def,#bde,#fcd,#fef,#fff,#bde,#cef,#cef,#cee,#8ce,#fcd,#8ce,#9de,#def,#bee,#9de,#eff,#cee,#fff,#79e,#ade,#fff,#cef,#fff,#bde,#cee,#fde,#fff,#eff,#bde,#bde,#8ce,#bde,#7ae,#eef,#8ce,#8ce,#00f,#eff,#8be,#fff,#79e,#bde,#fee,#cef,#fff,#ade,#ade,#fff,#eff,#fbc,#cef,#33f,#9de,#fef,#ade,#bde,#9de,#bde,#9ce,#7ae,#cef,#fdd,#ade,#cee,#11f,#9de,#def,#fff,#fcd,#fff,#fee,#ade,#bde,#bde,#fff,#fef,#cef,#bde,#67e,#7ae,#00f,#fff,#ade,#def,#ade,#8ce,#55f,#bde,#7ae,#55f,#8ce,#00f,#fff,#fde,#7be,#9de,#44f,#69e,#8be,#eff,#00f,#eff,#8ce,#ade,#7be,#ade,#def,#7ae,#79e,#69e,#ade,#cee,#ade,#eff,#eef,#00f,#def,#bde,#22f,#fff,#44f,#67e,#eff,#fcd,#9de,#68e,#7ae,#def,#33f,#7ae,#8ce,#79e,#79e,#55f,#9ce,#8ce,#33f,#cef,#bde,#def,#8ce)"></div><div class="hr" style="top:2003.20px;background:linear-gradient(90deg,#fcd,#f00,#f77,#fbb,#faa,#fcd,#faa,#fcc,#fff,#fcc,#f9a,#fab,#fde,#fee,#fee,#def,#fee,#fab,#fab,#fee,#f99,#fdd,#fcc,#fbb,#fcd,#f77,#fde,#faa,#fde,#fff,#faa,#fdd,#ade,#fdd,#fee,#fbc,#fbc,#fee,#fee,#fcc,#fcc,#fcd,#fbc,#f88,#f77,#fde,#fdd,#faa,#fde,#fcd,#f88,#faa,#fbc,#faa,#eff,#fcd,#fdd,#fcd,#fbb,#fff,#fde,#fee,#fcc,#fdd,#fcc,#fdd,#fde,#fcd,#bde,#fcd,#fab,#fbb,#eff,#fcd,#fdd,#fde,#def,#fab,#fcc,#cee,#fbc,#fcd,#fcd,#fcc,#fcd,#fbb,#cef,#fcd,#fcd,#fde,#f99,#fcc,#fdd,#fee,#fee,#eef,#fee,#fbc,#fbc,#fee,#fee,#fcc,#cef,#68e,#fcc,#fde,#fcd,#eff,#fbb,#fff,#fef,#fbb,#f00,#f33,#fee,#fff,#fab,#fee,#fef,#fde,#fee,#fbc,#fcd,#fbc,#8ce,#fde,#fee,#fdd,#fee,#faa,#cef,#fcc,#fdd,#fbb,#eef,#fff,#fcd,#fdd,#fbc,#fdd,#fbc,#fee,#fee,#fde,#9de,#fee,#fde,#fcc,#fcd,#fee,#f33,#fff,#cef,#fdd,#def,#fff,#fee,#faa,#fff,#fff,#fee,#fdd,#def,#fff,#ade,#eef,#fdd,#fdd,#bde,#f77,#def,#fcd,#fff,#fee,#fee,#fee,#fcc,#cee,#fde,#fff,#f99,#fdd,#fcd,#f66,#fdd,#fff,#fde,#fcd,#fee,#fde,#fff,#fdd,#eef,#fff,#ade,#f44,#fbc,#fdd,#fff,#f9a,#fdd,#fff,#ade,#fdd,#fdd,#def,#fab,#fee,#fff,#fff,#def,#fcd,#def,#fff,#fff,#fde,#68e,#fee,#ade,#fab,#fdd,#fdd,#9de,#fee,#eff,#fdd,#eff,#eff,#fdd,#fdd,#fff,#fbc,#ade,#fee,#bde,#fcd,#fbc,#fab,#eef,#fee,#fde,#fcd,#fde,#fcd,#fee,#fcc,#eff,#fcd,#def,#bee,#fee,#eff,#fdd,#fde,#bde,#fef,#8ce,#bde,#fee,#eff,#def,#fdd,#f00,#8be,#fff,#fee,#def,#cef,#ade,#f99,#fff,#eff,#fee,#ade,#fff,#fdd,#def,#fdd,#def,#fee,#eff,#cee,#cef,#8ce,#fff,#fde,#fee,#8ce,#fff,#fee,#ade,#fee,#ade,#fff,#fee,#eff,#fee,#fee,#fcc,#fcd,#fff,#fee,#ade,#ade,#fee,#fff,#fee,#8ce,#fff,#fab,#fee,#def,#8ce,#fdd,#fcc,#8ce,#fef,#fde,#eff,#fff,#def,#fff,#def,#fdd,#faa,#fee,#79e,#eef,#eff,#fde,#fdd,#fee,#fee,#fee,#f00,#7ae,#fcc,#fee,#fde,#ade,#68e,#68e,#ade,#eff,#fef,#bee,#7be,#def,#9de,#fee,#def,#eff,#fcd,#cef,#fff,#fbb,#fcd,#fdd,#fee,#def,#fcc,#68e,#f66,#eff,#fee,#fcc,#def,#cee,#ade,#fff,#fff,#def,#fee,#def,#bde,#fde,#fff,#7ae,#def,#fee,#fee,#f99,#eef,#9de,#eff,#fef,#bde,#9de,#68e,#69e,#def,#fff,#cef,#fff,#bde,#cee,#cee,#fde,#fee,#8ce,#8ce,#fee,#bee,#bde,#8ce,#7be,#9de,#cef,#fef,#eef,#cee,#ade,#f00,#fff,#fee,#fff,#ade,#fdd,#8be,#fff,#fff,#bde,#def,#bde,#fff,#fff,#fdd,#ade,#cef,#cef,#8be,#7be,#eff,#ade,#67e,#8ce,#f55,#cee,#def,#def,#9de,#def,#eef,#ade,#fee,#fff,#fff,#fff,#bde,#bee,#cef,#def,#fcd,#fff,#9ce,#fee,#def,#8ce,#def,#7be,#fee,#fcd,#f89,#7ae,#fee,#ade,#67e,#def,#eff,#ade,#69e,#fff,#22f,#fcd,#fff,#fdd,#8be,#9de,#8be,#cee,#79e,#68e,#eff,#00f,#fff,#9ce,#8ce,#fcc,#33f,#cef,#bde,#cee,#00f,#eff,#ade,#ade,#cee,#fff,#ade,#8ce,#7be,#9ce,#def,#bde,#bde,#ade,#ade,#11f,#cee,#79e,#ade,#8ce,#55f,#55f,#9de,#8ce,#68e,#67e,#8be,#8ce,#bde,#7ae,#fff,#fff,#ade,#00f,#def,#8ce,#8be,#fcd,#11f,#8be,#cef)"></div><div class="hr" style="top:2024.68px;background:linear-gradient(90deg,#fde,#fcd,#bde,#fdd,#faa,#fbb,#fbb,#fcc,#f99,#fcc,#fcd,#fdd,#fcc,#eff,#fde,#fde,#fcd,#fdd,#fbc,#fab,#fff,#fbc,#fef,#fff,#eff,#fde,#fdd,#fbc,#fbb,#fcc,#eef,#fde,#def,#fdd,#fee,#fcd,#67e,#fcd,#fbc,#f00,#fcd,#fdd,#fcd,#f44,#fdd,#fff,#fab,#fbc,#fdd,#fbb,#fab,#fbc,#fde,#fff,#fee,#fde,#9de,#fcc,#fdd,#fde,#fde,#eff,#fcc,#fff,#fcd,#00f,#fcd,#fdd,#fdd,#fcc,#fef,#fdd,#f99,#fde,#fff,#fdd,#ade,#7be,#fcd,#ade,#f00,#f11,#fde,#faa,#fee,#67e,#fee,#11f,#f9a,#bde,#fcd,#fff,#fee,#fde,#fde,#fee,#fdd,#f89,#fff,#fef,#fee,#fee,#fee,#fbb,#fee,#fee,#fbc,#fcd,#eff,#fcd,#fee,#eff,#68e,#fdd,#00f,#cee,#fff,#fdd,#fff,#fff,#fdd,#eff,#fee,#fdd,#fff,#fbc,#fff,#fdd,#f9a,#fcc,#def,#fff,#fff,#fee,#ade,#56f,#ade,#def,#fdd,#fee,#eff,#def,#fcc,#8ce,#fcc,#f00,#fee,#fdd,#fee,#fee,#fcc,#fcc,#def,#fff,#cef,#fff,#fee,#8ce,#fdd,#fff,#fff,#fde,#fee,#fdd,#cee,#def,#fab,#fbc,#fee,#fcd,#fee,#fdd,#cef,#fde,#fee,#fcd,#fde,#fdd,#fff,#fbc,#eef,#fbc,#def,#def,#fbc,#fff,#fbb,#def,#fbc,#eff,#cee,#fbc,#cee,#79e,#fde,#def,#def,#f77,#eef,#fee,#fab,#fee,#fbc,#fee,#fcd,#fef,#fee,#fde,#fff,#fee,#cef,#7ae,#def,#bde,#fdd,#eff,#bde,#79e,#fff,#fdd,#cee,#fee,#cef,#fbc,#9de,#fff,#def,#ade,#ade,#fee,#68e,#eff,#44f,#fcc,#fcd,#fde,#fee,#bee,#fee,#fff,#fdd,#fff,#ade,#def,#eff,#fee,#fff,#fee,#bee,#fbc,#ade,#cef,#ade,#fff,#8ce,#fcc,#fff,#fff,#8ce,#fdd,#cee,#cee,#fff,#cee,#fdd,#9ce,#ade,#eff,#fff,#fee,#fde,#fee,#67e,#ade,#cef,#fff,#fcc,#eef,#fab,#bde,#cee,#cee,#7be,#cee,#fee,#fdd,#def,#fff,#eff,#fff,#cee,#f33,#def,#fee,#cef,#def,#faa,#fcd,#8ce,#eff,#eef,#fab,#fff,#ade,#ade,#eff,#cee,#ade,#fee,#fdd,#ade,#ade,#9de,#fff,#fee,#def,#fff,#fff,#def,#def,#fff,#7ae,#8be,#cee,#fff,#fee,#fef,#bde,#ade,#fef,#def,#9de,#def,#fff,#fde,#fee,#fee,#fff,#fff,#eff,#fff,#7ae,#cef,#bde,#fee,#def,#def,#fff,#7ae,#cee,#8ce,#fde,#fdd,#bee,#fee,#fee,#8ce,#fdd,#def,#9de,#fdd,#fef,#fff,#def,#eff,#fee,#cef,#79e,#eff,#fff,#56f,#fef,#eff,#fee,#bde,#ade,#fee,#8ce,#cee,#fde,#fcd,#8ce,#ade,#ade,#fee,#ade,#fee,#00f,#8be,#9de,#cee,#fde,#fff,#69e,#eff,#bee,#7be,#fee,#def,#9ce,#ade,#cef,#cef,#ade,#fff,#fee,#ade,#fff,#fff,#bde,#bde,#cee,#ade,#9de,#fde,#def,#fcc,#bde,#bde,#ade,#fde,#cee,#eef,#eff,#def,#8ce,#fff,#9de,#bde,#def,#56f,#33f,#bde,#f88,#cef,#cef,#cef,#68e,#eef,#68e,#8ce,#fff,#68e,#bde,#bde,#eff,#9ce,#def,#8ce,#def,#7ae,#fff,#f88,#fee,#8be,#fee,#33f,#00f,#00f,#eff,#bde,#fff,#fde,#eef,#fee,#eef,#def,#fee,#9de,#bde,#eff,#def,#22f,#cee,#9ce,#fff,#ade,#7ae,#fde,#9de,#8be,#7be,#9ce,#22f,#eef,#7be,#ade,#def,#fde,#00f,#ade,#def,#00f,#cee,#7ae,#9ce,#fee,#cee,#cef,#cef,#8ce,#8ce,#cee,#cef,#bde,#7be,#fab,#00f,#bde,#56f,#56f,#bde,#00f,#00f,#8ce,#67e,#8be,#68e,#7ae,#7ae,#fbb,#22f,#8ce,#67e,#ade,#68e,#ade,#68e,#44f,#79e,#79e,#9de,#bde)"></div><div class="hr" style="top:2046.16px;background:linear-gradient(90deg,#7be,#fee,#ade,#fee,#fff,#fbb,#fcd,#fcd,#fee,#fde,#fdd,#fff,#fff,#def,#ade,#fdd,#fde,#fdd,#fdd,#fee,#def,#f11,#fee,#fff,#eff,#fee,#fcd,#fbc,#fee,#fee,#fee,#fee,#fdd,#f77,#fbb,#fdd,#fcc,#fdd,#fee,#fee,#fff,#fbc,#fff,#f00,#fee,#fee,#8be,#fee,#fdd,#f44,#fde,#fcd,#fff,#faa,#fee,#fee,#fee,#fee,#9de,#fff,#33f,#fcd,#fdd,#f00,#fbb,#fff,#fde,#eff,#eef,#fff,#def,#fcd,#eff,#fcc,#f00,#fff,#fff,#def,#fdd,#f78,#eef,#f11,#eef,#fcd,#fff,#bde,#fee,#fdd,#fbc,#fdd,#fcc,#cef,#f9a,#44f,#fff,#fcd,#fcd,#fff,#fdd,#fee,#fef,#def,#fff,#fdd,#fde,#f00,#8be,#fff,#fdd,#9de,#fee,#9de,#def,#fcc,#eef,#fcd,#f99,#9de,#fbc,#def,#eff,#fee,#9de,#cef,#fdd,#fee,#bde,#def,#f22,#ade,#fee,#def,#fcd,#fee,#f9a,#eff,#11f,#fcd,#fee,#fcd,#fff,#eef,#fee,#def,#fde,#fdd,#ade,#fee,#fde,#f77,#fee,#fee,#fee,#eff,#cef,#fab,#fee,#fde,#fde,#bde,#fdd,#fdd,#fee,#fdd,#def,#def,#fff,#eff,#fdd,#fab,#fdd,#eff,#fde,#fcc,#fdd,#fcd,#fee,#fdd,#fee,#fcc,#def,#fdd,#fde,#fff,#fcc,#fee,#fee,#fff,#fee,#fee,#8ce,#fee,#def,#fef,#f22,#68e,#fff,#fee,#fef,#fee,#fff,#def,#fff,#def,#fff,#cef,#fff,#bee,#eff,#eff,#fef,#fee,#fff,#bde,#fee,#fab,#fee,#fff,#bde,#fcd,#def,#fcd,#fff,#fcc,#ade,#fee,#fcd,#fee,#9de,#fdd,#fee,#fff,#bde,#eff,#eff,#fff,#cee,#eff,#fee,#faa,#fee,#fef,#eff,#eef,#fbb,#def,#9de,#fdd,#fff,#fee,#ade,#eff,#9de,#fbc,#eff,#bde,#7be,#fee,#cef,#fbc,#eff,#fef,#fdd,#fff,#def,#fdd,#ade,#bde,#def,#def,#bde,#fde,#bee,#def,#eff,#bde,#fff,#fdd,#cef,#ade,#fee,#ade,#ade,#fee,#fee,#fee,#68e,#fee,#cee,#cee,#8ce,#7be,#cef,#fee,#fff,#fde,#fee,#eff,#fff,#bde,#fcd,#fee,#8ce,#9de,#fde,#f99,#bde,#cee,#fff,#fee,#cee,#bde,#fee,#fde,#fff,#cee,#ade,#bde,#fcd,#ade,#bde,#def,#9ce,#eff,#bde,#eff,#ade,#eff,#eff,#eff,#cee,#fef,#bee,#8ce,#9ce,#ade,#fab,#fcd,#eff,#8ce,#fcd,#def,#def,#cee,#fff,#def,#cee,#eff,#bde,#fcc,#fdd,#eff,#eef,#ade,#fcd,#fff,#cef,#cee,#cef,#8ce,#fbb,#ade,#bee,#fff,#eff,#fcc,#9de,#8ce,#eef,#8ce,#bee,#fff,#fee,#9de,#00f,#eff,#fde,#def,#cef,#cee,#cee,#fdd,#eef,#ade,#f88,#eff,#8ce,#fef,#68e,#cef,#ade,#fde,#fff,#fee,#def,#cee,#9ce,#fee,#fef,#11f,#68e,#fee,#fff,#ade,#fdd,#55f,#ade,#fcc,#fee,#8ce,#eff,#fee,#cee,#7ae,#f77,#fdd,#8ce,#eff,#fde,#8ce,#def,#ade,#cee,#fff,#fff,#ade,#8be,#69e,#11f,#fee,#ade,#55f,#7be,#8be,#7ae,#9de,#bde,#56f,#fee,#fff,#ade,#def,#8be,#fff,#eff,#fee,#fef,#cee,#ade,#eff,#def,#9de,#def,#eef,#cef,#56e,#22f,#8ce,#00f,#7be,#fef,#cee,#fff,#9de,#cee,#fef,#00f,#9de,#79e,#7be,#fff,#fbc,#00f,#bee,#eef,#fee,#def,#fff,#67e,#9ce,#67e,#def,#8ce,#bde,#fde,#7be,#bde,#bde,#00f,#def,#8ce,#eff,#00f,#faa,#eff,#8be,#f66,#bde,#cee,#67e,#bde,#8ce,#fee,#fcd,#00f,#7ae,#cee,#67e,#00f,#68e,#cee,#def,#fff,#33f,#bde,#9ce,#67e,#9de,#7ae,#9de,#9de,#8ce,#55f,#68e,#69e,#00f,#def,#8ce,#55f,#8ce,#ade,#ade,#cee)"></div><div class="hr" style="top:2067.64px;background:linear-gradient(90deg,#fee,#fff,#fcd,#fbc,#fcc,#f99,#fcc,#fcd,#fdd,#fbb,#fbb,#fab,#fee,#faa,#fff,#fff,#fab,#fbc,#fee,#fde,#fde,#fcc,#eef,#fbc,#fff,#fab,#fee,#fee,#fcd,#fdd,#fee,#eff,#fff,#fde,#fbb,#faa,#fee,#fde,#fee,#f78,#fee,#f99,#fdd,#fbc,#fcd,#fab,#fee,#fde,#fbc,#fbc,#fab,#fbc,#eef,#fdd,#fdd,#fdd,#fbc,#fdd,#fbc,#fde,#fcc,#fdd,#fbc,#fdd,#fdd,#fee,#fff,#def,#fab,#fcc,#fdd,#fdd,#fdd,#fcc,#fdd,#fbb,#8ce,#def,#fab,#bee,#fee,#fee,#fff,#fcc,#fcc,#def,#fbb,#fff,#fde,#eff,#fee,#8ce,#fdd,#fbc,#fdd,#fcc,#fcd,#def,#fee,#def,#fee,#eef,#f88,#fde,#faa,#cee,#fde,#7ae,#bde,#def,#fff,#fdd,#fff,#fcc,#fee,#fee,#fcd,#bde,#fff,#fee,#fee,#f9a,#eff,#def,#fde,#fbc,#eef,#9de,#cee,#fdd,#f00,#fff,#fee,#ade,#f77,#67e,#fde,#fdd,#fee,#fee,#22f,#ade,#f99,#fcc,#fee,#fdd,#fee,#f55,#fcd,#fee,#fef,#fcd,#def,#fee,#fde,#7be,#fdd,#fbc,#fdd,#fee,#fee,#f9a,#ade,#fcd,#f77,#def,#fee,#fdd,#fde,#fee,#fff,#fde,#fff,#fcd,#fcd,#f00,#fee,#fff,#fde,#8ce,#fcd,#fdd,#fee,#fff,#eff,#bde,#fdd,#fff,#fdd,#fff,#fcd,#fde,#cef,#fcd,#fab,#fff,#fee,#def,#eff,#fcd,#fcd,#fdd,#f88,#fee,#eff,#fff,#cee,#fee,#f9a,#eff,#fde,#fde,#8be,#22f,#fff,#fee,#9ce,#fff,#cee,#fee,#fbc,#fdd,#ade,#fee,#eff,#f88,#eff,#9de,#ade,#fee,#bee,#cee,#fff,#fdd,#def,#fee,#eff,#9de,#fde,#fcc,#f89,#fff,#fcc,#fff,#fff,#ade,#eef,#fff,#fff,#bde,#fff,#fff,#fdd,#eff,#f99,#ade,#8ce,#fff,#eef,#fcd,#fff,#cee,#9de,#eef,#cee,#7ae,#def,#eff,#ade,#fef,#eff,#ade,#fdd,#fee,#cef,#def,#56f,#fee,#fff,#fee,#def,#8ce,#cee,#fff,#f99,#68e,#def,#eff,#def,#eff,#bde,#fee,#fde,#bee,#ade,#fff,#ade,#fee,#eff,#fde,#fde,#fee,#ade,#7be,#fee,#7be,#fdd,#ade,#def,#fcd,#bee,#cee,#bde,#fcd,#fee,#bde,#cee,#eff,#7be,#ade,#fcd,#9de,#eef,#fff,#bee,#cee,#fde,#fdd,#def,#fdd,#7ae,#def,#fdd,#def,#fef,#eef,#fee,#fff,#eff,#7be,#cef,#eef,#9de,#ade,#fdd,#fff,#eef,#fff,#eef,#fcd,#8ce,#def,#bee,#ade,#bde,#def,#fff,#bde,#fff,#ade,#fee,#bee,#7ae,#fff,#f99,#def,#cef,#fee,#def,#eef,#fff,#bde,#eff,#7ae,#8ce,#eff,#fff,#def,#fee,#8be,#fff,#fee,#8ce,#69e,#cef,#bde,#fee,#fff,#fee,#faa,#bde,#fee,#fdd,#79e,#fdd,#fff,#9ce,#fdd,#fff,#bde,#9de,#fff,#9de,#fcd,#8ce,#fff,#8ce,#cef,#bde,#7ae,#bee,#7be,#fff,#9de,#eff,#eff,#7be,#eff,#eff,#67e,#fef,#cef,#ade,#11f,#fff,#cef,#9ce,#7be,#7ae,#fff,#79e,#ade,#ade,#ade,#ade,#56f,#7be,#33f,#cee,#55f,#8ce,#fee,#8ce,#8be,#f55,#fcd,#fff,#cee,#ade,#fde,#9de,#7ae,#9ce,#fff,#9de,#fff,#44f,#8ce,#00f,#8ce,#9de,#ade,#fde,#ade,#9de,#9de,#7ae,#def,#ade,#fff,#ade,#fee,#68e,#bde,#eff,#fff,#55f,#cee,#8ce,#8be,#def,#57e,#67e,#11f,#bde,#7ae,#7ae,#bde,#22f,#9de,#8ce,#ade,#00f,#8ce,#8ce,#ade,#8ce,#33f,#8be,#ade,#79e,#68e,#9de,#def,#7ae,#7ae,#bde,#00f,#7ae,#00f,#79e,#56f,#7ae,#67e,#ade,#67e,#67e,#44f,#8ce,#67e,#8be,#8ce,#7ae,#44f,#56f,#00f,#eff,#ade,#00f,#8ce,#56f,#f33,#8ce)"></div><div class="hr" style="top:2089.13px;background:linear-gradient(90deg,#fbc,#fee,#fab,#fbb,#fdd,#f99,#fdd,#fbc,#fcd,#bde,#fdd,#f9a,#fcd,#fff,#fdd,#fee,#fdd,#fcc,#fee,#fde,#fbc,#f88,#fdd,#fcd,#fff,#f88,#fcc,#fee,#fcd,#fdd,#fde,#ade,#fee,#fdd,#fde,#fcd,#f9a,#fee,#f78,#fab,#def,#fdd,#f9a,#f00,#fcd,#fdd,#fff,#f9a,#fbc,#fde,#fdd,#fbb,#fcd,#fcd,#fee,#fdd,#fde,#fcd,#fff,#fde,#fcd,#fcc,#fff,#fee,#fcd,#fdd,#fdd,#fdd,#eef,#7ae,#fcc,#fcc,#f44,#fde,#fcc,#fff,#eef,#fff,#cef,#faa,#fdd,#fff,#fde,#fbc,#fcc,#fee,#fde,#fcc,#fcd,#fcc,#def,#fee,#fee,#fee,#fcd,#fde,#fee,#eff,#fdd,#cef,#fee,#fdd,#fcd,#fee,#fbb,#def,#def,#eff,#fcd,#fff,#fff,#fcc,#fee,#fdd,#fee,#fff,#fee,#fff,#fef,#fee,#fee,#fff,#fee,#fff,#fff,#fff,#fff,#fff,#eff,#fdd,#def,#9ce,#fee,#eff,#fcd,#fee,#cee,#fde,#eff,#fee,#cef,#fcc,#fde,#fee,#fee,#f88,#fff,#8ce,#fde,#fff,#fbc,#fcc,#fff,#fff,#fcc,#fdd,#def,#fbc,#fcc,#eff,#f9a,#fee,#fde,#bde,#fee,#fee,#7ae,#fff,#bde,#fdd,#cef,#fef,#fee,#fee,#cef,#fcd,#bde,#def,#fde,#bde,#fde,#fee,#fde,#fcc,#fff,#fff,#fcc,#fee,#f77,#fee,#fdd,#fee,#ade,#fff,#fff,#cef,#fff,#fcd,#7ae,#fbb,#faa,#fde,#7be,#fee,#fef,#fde,#fbc,#f00,#fff,#fee,#fee,#fcd,#fdd,#fdd,#9ce,#55f,#fdd,#eff,#eff,#fff,#fde,#cef,#cee,#fff,#def,#fde,#def,#fef,#fcc,#bde,#cef,#cef,#7be,#fee,#eff,#eef,#fee,#eef,#fde,#fee,#def,#def,#fdd,#ade,#ade,#fff,#fee,#fdd,#def,#eff,#fcd,#f33,#fff,#eef,#eef,#eff,#ade,#fee,#fee,#fee,#eff,#bde,#fff,#eff,#8ce,#fde,#fcd,#def,#faa,#fee,#eff,#8ce,#fde,#cee,#fff,#ade,#def,#fee,#bde,#fee,#ade,#eff,#bde,#ade,#fcd,#def,#cee,#bde,#fdd,#fdd,#fef,#fff,#8ce,#fee,#fcc,#cee,#cee,#fff,#fee,#def,#fff,#cee,#fff,#8ce,#9de,#fff,#def,#ade,#eff,#def,#fff,#eef,#bde,#ade,#fff,#fff,#eef,#eff,#fde,#bee,#fff,#68e,#bde,#fdd,#def,#fee,#fee,#56f,#def,#fee,#fee,#fff,#fff,#eff,#cee,#9ce,#fee,#def,#cef,#def,#cef,#9ce,#cee,#def,#f88,#ade,#8ce,#fff,#def,#eff,#fff,#fde,#fff,#79e,#bee,#fff,#9de,#eef,#ade,#7ae,#eff,#def,#def,#def,#fde,#def,#9de,#def,#ade,#fff,#ade,#fff,#fbc,#cee,#79e,#cee,#68e,#fde,#fee,#7be,#def,#9de,#bee,#ade,#68e,#ade,#bde,#44f,#7be,#fff,#cef,#eef,#fee,#cef,#fef,#bde,#9ce,#fdd,#bde,#67e,#fff,#fff,#7ae,#68e,#fff,#56f,#7ae,#9ce,#fee,#eef,#def,#eff,#fff,#eef,#9de,#eff,#8ce,#9de,#cef,#f11,#def,#8ce,#7ae,#ade,#fff,#ade,#fff,#44f,#8ce,#fff,#68e,#fff,#bde,#ade,#8be,#9ce,#fff,#79e,#eff,#fff,#def,#bee,#44f,#7ae,#bde,#fee,#def,#fee,#fdd,#bde,#8ce,#69e,#def,#fff,#bde,#9de,#22f,#8be,#00f,#8ce,#def,#bde,#fee,#def,#fee,#fcd,#cee,#fff,#79e,#8ce,#7be,#9de,#00f,#56f,#fdd,#cef,#44f,#8be,#67e,#79e,#7be,#f78,#ade,#55f,#fff,#fff,#9de,#fff,#55f,#68e,#8ce,#ade,#56f,#bde,#68e,#44f,#11f,#bde,#bde,#7be,#8ce,#7ae,#bde,#8be,#cee,#8ce,#bde,#68e,#55f,#7ae,#55f,#eff,#22f,#79e,#8ce,#7ae,#8ce,#22f,#00f,#9de,#def,#bde,#8ce,#33f,#55f,#00f,#ade,#68e,#68e,#f66,#8ce,#8ce,#8ce)"></div><div class="hr" style="top:2110.61px;background:linear-gradient(90deg,#fab,#fcd,#f88,#fdd,#fde,#faa,#fdd,#fee,#fbb,#fab,#fde,#fdd,#fcc,#fcd,#f88,#cef,#fde,#fee,#fee,#fcd,#fbc,#fdd,#cee,#bde,#fde,#fbc,#f22,#ade,#def,#fde,#fcd,#fff,#fbc,#fbc,#fff,#fcd,#f89,#ade,#fee,#fde,#fff,#fee,#cee,#f44,#fdd,#fee,#cef,#eff,#fee,#f88,#fde,#fff,#fcd,#fcd,#fdd,#bee,#8ce,#fbb,#8ce,#fcd,#eef,#eff,#faa,#fff,#fbc,#fcd,#fef,#faa,#fbc,#fee,#fee,#fdd,#fde,#fde,#fdd,#faa,#fde,#fdd,#fcd,#fee,#fcc,#fcd,#cef,#fdd,#eff,#cef,#cef,#fff,#fab,#eef,#fdd,#bde,#fcd,#fee,#fff,#eff,#fab,#f89,#fff,#fee,#cee,#7ae,#def,#fde,#fbb,#fff,#eff,#def,#fff,#eef,#fcd,#faa,#def,#fcd,#cee,#fcd,#cef,#fee,#cee,#fde,#def,#fdd,#fee,#eff,#fdd,#fff,#fff,#fee,#9de,#9ce,#fdd,#8be,#fee,#fde,#fcd,#fee,#fee,#fbc,#eff,#ade,#9de,#fcc,#fcd,#fff,#def,#fee,#fff,#fde,#fff,#fff,#fdd,#fdd,#fff,#fee,#fee,#68e,#fff,#fde,#eff,#eff,#fdd,#fee,#fef,#fff,#fff,#fff,#def,#fdd,#9de,#fde,#fef,#fcd,#cef,#fdd,#fee,#fff,#eff,#fdd,#cee,#fee,#fdd,#def,#fee,#def,#eff,#def,#fff,#fff,#fee,#8ce,#fde,#fff,#fbc,#fee,#bde,#fdd,#fff,#fef,#00f,#fdd,#cef,#fcc,#fab,#fee,#fff,#eff,#fcc,#def,#fee,#eff,#eff,#fde,#fee,#def,#fff,#def,#fff,#fee,#eff,#eef,#fde,#fff,#79e,#fef,#def,#9ce,#f88,#bee,#fcd,#fee,#22f,#ade,#cee,#fef,#9de,#def,#fee,#fff,#fdd,#fff,#33f,#fee,#fff,#9de,#fde,#fee,#fff,#fff,#fee,#fdd,#fff,#bde,#bde,#def,#eff,#fcd,#ade,#8be,#fff,#ade,#fee,#def,#cef,#fee,#eef,#def,#fee,#cef,#def,#fff,#cef,#def,#f9a,#fff,#bee,#def,#fbc,#eef,#eef,#fab,#bde,#cef,#bde,#fee,#f99,#def,#fff,#eff,#def,#fcd,#fee,#fff,#fbc,#eff,#eff,#def,#cef,#ade,#fff,#def,#fff,#33f,#ade,#bde,#fee,#ade,#cef,#cef,#cee,#fff,#fbc,#8ce,#fff,#cef,#fee,#def,#cee,#fee,#55f,#8ce,#eff,#fcc,#56f,#fff,#bee,#f66,#ade,#faa,#cef,#fcd,#fee,#def,#def,#fee,#bde,#ade,#fdd,#ade,#cef,#8ce,#fff,#79e,#7ae,#def,#def,#fdd,#bde,#cee,#fde,#fee,#11f,#fdd,#fdd,#ade,#bde,#9de,#bde,#fdd,#7ae,#fee,#fff,#8ce,#def,#fee,#fee,#fee,#8be,#7ae,#ade,#00f,#eff,#7be,#fff,#fff,#7ae,#fbb,#ade,#00f,#eff,#eff,#fff,#fcd,#cee,#7ae,#eff,#cee,#fcd,#67e,#eff,#cee,#cef,#fcd,#cee,#def,#9de,#fee,#8ce,#def,#fff,#cef,#cee,#eff,#eff,#9de,#22f,#56f,#8ce,#def,#8ce,#fee,#def,#cef,#eff,#fee,#fff,#cef,#8be,#8ce,#fcc,#ade,#cef,#8ce,#7ae,#00f,#fff,#ade,#bde,#ade,#ade,#cef,#56f,#cef,#fee,#ade,#bde,#56f,#fee,#56f,#fef,#def,#bde,#8ce,#8ce,#bee,#ade,#f88,#ade,#fef,#55f,#7be,#cef,#9ce,#ade,#fff,#bde,#fcd,#cef,#ade,#11f,#fee,#cef,#9de,#fee,#bde,#def,#67e,#8ce,#bde,#fee,#79e,#cef,#def,#cee,#f88,#cee,#fff,#79e,#def,#67e,#ade,#7be,#55f,#8ce,#7ae,#fff,#67e,#cef,#ade,#22f,#ade,#7ae,#fee,#79e,#9de,#cee,#8be,#69e,#bde,#ade,#cee,#ade,#11f,#7be,#cef,#44f,#ade,#9ce,#8ce,#79e,#44f,#7ae,#ade,#00f,#44f,#cef,#9ce,#55f,#68e,#8ce,#7be,#8ce,#56f,#ade,#67e,#7be,#fff,#def,#79e,#11f,#cef,#cef,#cef,#bde)"></div><div class="hr" style="top:2132.09px;background:linear-gradient(90deg,#fdd,#cef,#fee,#fcd,#fee,#fee,#fcc,#fcc,#fab,#fee,#fbc,#fcd,#fee,#00f,#fdd,#def,#fee,#bde,#fcd,#fee,#fff,#fdd,#fcd,#fcd,#eff,#bee,#fcd,#faa,#fdd,#fbb,#fee,#fee,#fff,#fcd,#bee,#fdd,#fee,#fee,#fdd,#fcd,#fff,#fbc,#fcc,#f11,#bde,#f99,#fee,#fcd,#fff,#fee,#f67,#fde,#fcc,#fbc,#f66,#fff,#fde,#7ae,#fff,#fee,#fff,#fcc,#fcd,#fdd,#fbc,#fee,#fee,#fee,#bde,#fff,#f89,#fde,#fee,#fcd,#eef,#fdd,#fdd,#fee,#fff,#fff,#f11,#f11,#fdd,#fee,#eff,#fff,#fee,#fdd,#bde,#fee,#fdd,#eef,#fdd,#fff,#fcd,#fbc,#fde,#fab,#fff,#def,#eff,#eff,#fab,#fdd,#fff,#fee,#fee,#fee,#fff,#def,#eff,#fee,#fff,#fee,#56f,#fff,#def,#fee,#fef,#fdd,#fde,#fcc,#fee,#fdd,#fee,#fdd,#fff,#fde,#fdd,#eff,#fff,#fee,#fbb,#fcd,#fdd,#fee,#fee,#fdd,#eef,#fde,#fcc,#fff,#fff,#eff,#fee,#fff,#79e,#fdd,#fdd,#fee,#fee,#fdd,#fee,#ade,#cee,#fee,#fef,#fab,#fcd,#def,#fee,#cee,#fee,#fde,#cee,#fff,#def,#fff,#eff,#fbc,#9de,#eff,#bde,#fcd,#fcc,#f9a,#faa,#fff,#fff,#fcd,#fee,#fdd,#fff,#fcd,#fff,#fef,#fbb,#fde,#fdd,#fee,#fdd,#fff,#ade,#fdd,#fee,#eff,#fcd,#fdd,#fdd,#fcd,#fff,#cef,#fef,#cee,#cef,#fef,#fff,#cee,#fee,#fff,#fdd,#fcc,#faa,#fcc,#8ce,#bde,#fff,#f00,#fcc,#fee,#fee,#fee,#def,#fde,#fef,#fee,#fbc,#eef,#fff,#fcd,#fee,#fff,#fde,#fee,#eef,#7be,#fde,#eff,#bde,#fff,#def,#def,#fee,#fff,#7ae,#fff,#fde,#ade,#fdd,#ade,#fff,#fff,#cef,#def,#fde,#f99,#bde,#bde,#eff,#cee,#fee,#fee,#fff,#fcd,#eff,#eef,#def,#fff,#9ce,#eff,#fee,#fde,#bde,#fdd,#fff,#def,#eff,#fee,#fef,#fcc,#fab,#def,#ade,#eff,#fff,#fcc,#eef,#eff,#fde,#fdd,#cee,#fcc,#7ae,#eff,#cef,#eef,#fee,#fde,#eef,#fee,#eff,#fcd,#bee,#8ce,#eef,#def,#def,#ade,#fee,#fcd,#fff,#def,#79e,#eef,#fff,#def,#fff,#fdd,#def,#fff,#def,#bde,#fcd,#fee,#cee,#fff,#cee,#bee,#fab,#fee,#8ce,#fee,#9de,#cee,#fee,#fdd,#fde,#fee,#fff,#ade,#fff,#cef,#8be,#f89,#fff,#def,#ade,#9ce,#eff,#55f,#def,#9de,#fde,#fee,#ade,#eff,#ade,#9ce,#fdd,#def,#fbc,#79e,#eff,#def,#def,#fde,#ade,#def,#cef,#fef,#fff,#cef,#bde,#eff,#7ae,#fff,#def,#55f,#eff,#ade,#fde,#68e,#7ae,#cee,#fff,#def,#fff,#eef,#55f,#8ce,#eff,#fee,#bde,#fdd,#fff,#fee,#eff,#79e,#def,#def,#def,#fff,#56f,#bde,#9de,#fff,#def,#f22,#fdd,#8ce,#fcc,#fef,#fef,#cef,#fff,#fee,#def,#fee,#fff,#def,#fbb,#8ce,#def,#00f,#eef,#9ce,#f77,#bde,#fcc,#fff,#79e,#cef,#def,#44f,#fff,#8ce,#ade,#eff,#fde,#ade,#def,#fee,#9ce,#bde,#fff,#fee,#fff,#fdd,#9ce,#fcc,#fdd,#8ce,#fcd,#def,#8ce,#fef,#55f,#ade,#33f,#eef,#fff,#fee,#fdd,#eff,#fff,#cee,#def,#fde,#eff,#ade,#fff,#bde,#00f,#cef,#def,#fee,#cee,#ade,#79e,#9de,#bde,#9de,#8ce,#00f,#def,#ade,#cef,#def,#ade,#fee,#bde,#cef,#00f,#fff,#8ce,#8ce,#9de,#def,#ade,#7ae,#eff,#7be,#8ce,#bde,#9ce,#def,#bee,#33f,#8ce,#33f,#22f,#7ae,#ade,#7be,#def,#8be,#7ae,#8be,#7ae,#def,#7be,#68e,#eff,#56f,#cee,#79e,#def,#7ae,#55f,#cee,#cef,#def,#fde)"></div><div class="hr" style="top:2153.57px;background:linear-gradient(90deg,#fee,#fde,#fcc,#fdd,#fdd,#cef,#fde,#fdd,#f9a,#fdd,#fcc,#f99,#fee,#def,#def,#eff,#fbb,#fcc,#fcd,#fcd,#eff,#fbb,#fff,#fde,#fef,#def,#fcd,#fdd,#fcc,#fde,#fdd,#f55,#fff,#fee,#fcd,#fdd,#67e,#fdd,#fcd,#fee,#fdd,#fcc,#fcc,#fcd,#faa,#fee,#fcc,#faa,#fcc,#eff,#fcc,#fdd,#fde,#fff,#fee,#fee,#fee,#9ce,#def,#fee,#fde,#fee,#fee,#fee,#fdd,#fcc,#fdd,#fff,#fbb,#fcd,#fee,#f9a,#fff,#fcd,#fcc,#eff,#f77,#eef,#fbc,#eef,#fff,#f55,#fbc,#fbc,#fde,#cee,#fdd,#faa,#fee,#fbb,#fcd,#ade,#fdd,#7ae,#fee,#fdd,#8ce,#f99,#fde,#cef,#fff,#fdd,#fff,#fee,#fcc,#fef,#fee,#eff,#fbc,#fdd,#def,#fcc,#fde,#fdd,#fff,#cef,#fab,#eff,#fde,#fdd,#fee,#ade,#fde,#eff,#fee,#fbc,#fdd,#fcc,#faa,#fee,#bde,#fcc,#fde,#fde,#fdd,#fee,#fee,#fee,#fee,#f99,#7be,#f66,#fee,#cee,#fde,#fee,#fff,#fcd,#def,#fdd,#fde,#fcd,#bde,#fff,#def,#9ce,#fde,#fbc,#fab,#def,#fee,#fcd,#fdd,#fee,#f9a,#fdd,#fef,#fef,#7ae,#bde,#fff,#fff,#def,#fcd,#fbc,#fcc,#fdd,#fde,#bde,#fee,#cef,#fee,#fdd,#fdd,#fff,#fff,#fcd,#fbb,#fff,#9de,#fef,#fee,#fee,#eef,#fde,#def,#fcd,#fbc,#bee,#fee,#fdd,#def,#eff,#ade,#eef,#8ce,#fee,#fff,#cef,#22f,#fcc,#fdd,#fbc,#fff,#fee,#fcc,#fef,#def,#bde,#fdd,#fff,#9de,#f99,#fdd,#fee,#fff,#cee,#bde,#cef,#fcd,#ade,#fff,#cef,#fff,#9ce,#fbc,#fdd,#ade,#fff,#bde,#fff,#fee,#fee,#7be,#ade,#cef,#fee,#79e,#bde,#def,#f99,#56f,#cef,#bde,#def,#bde,#9ce,#fdd,#fee,#ade,#fcd,#eff,#bde,#faa,#fde,#fdd,#fee,#fff,#cee,#fee,#fde,#fde,#cef,#9ce,#fcc,#fff,#eff,#def,#def,#bde,#9de,#9de,#56f,#ade,#fee,#fee,#ade,#bde,#fff,#fdd,#fff,#fdd,#fdd,#def,#fde,#7ae,#eff,#eff,#fee,#fab,#fff,#fee,#fee,#ade,#fde,#cee,#fff,#9de,#cef,#fee,#fff,#f00,#ade,#def,#fee,#cef,#fff,#fdd,#bde,#9de,#fde,#ade,#cef,#ade,#ade,#cee,#ade,#eef,#def,#eef,#00f,#def,#7be,#fee,#69e,#ade,#fff,#fee,#fee,#ade,#def,#eef,#cee,#ade,#fff,#fee,#ade,#def,#fee,#fdd,#eff,#fff,#ade,#fee,#def,#cef,#def,#fdd,#fff,#eff,#f33,#fee,#cef,#bde,#eff,#fab,#9de,#fee,#cef,#fff,#f99,#bde,#8ce,#fbb,#79e,#fff,#fff,#44f,#eef,#9ce,#11f,#fee,#ade,#9ce,#bde,#9ce,#fef,#79e,#7be,#bee,#fcc,#cef,#fff,#cee,#fff,#fff,#eef,#fdd,#ade,#bee,#fee,#fff,#def,#cef,#cef,#79e,#8ce,#cee,#fff,#def,#8ce,#9de,#fde,#cef,#fde,#cef,#bde,#eff,#cef,#cef,#f33,#cef,#def,#def,#fff,#def,#fcc,#9ce,#fee,#cee,#7ae,#8ce,#ade,#69e,#8ce,#cef,#fee,#ade,#fff,#bde,#7be,#cee,#ade,#9de,#fff,#fee,#cee,#fee,#bde,#eff,#9ce,#7be,#fde,#67e,#fef,#fee,#00f,#22f,#56f,#ade,#fab,#cef,#fee,#ade,#fff,#9de,#9ce,#eff,#7ae,#9de,#8ce,#cee,#00f,#fff,#ade,#fee,#ade,#cee,#44f,#ade,#8ce,#33f,#8ce,#22f,#9de,#7be,#8ce,#8be,#11f,#44f,#8ce,#7ae,#79e,#bde,#69e,#def,#9ce,#def,#7be,#bde,#7ae,#9de,#68e,#9de,#fde,#eff,#cee,#00f,#8ce,#44f,#9de,#55f,#44f,#7ae,#7ae,#cef,#fde,#55f,#67e,#8ce,#ade,#79e,#67e,#7ae,#8ce,#7ae,#def,#9de,#44f,#8ce,#00f,#ade,#def)"></div><div class="hr" style="top:2175.05px;background:linear-gradient(90deg,#fdd,#fbc,#fff,#fff,#fdd,#fcc,#fdd,#f9a,#fff,#fbc,#fcc,#fcd,#fcc,#fbc,#fcd,#fee,#f9a,#fcc,#fef,#fee,#fff,#fcd,#fdd,#fee,#fee,#fdd,#55f,#f99,#ade,#fab,#8ce,#fff,#fdd,#fee,#fbc,#fff,#fee,#fdd,#fef,#fee,#8be,#fcd,#fbc,#fdd,#fcd,#fde,#fff,#fee,#fcc,#fee,#fff,#eff,#f88,#fdd,#fdd,#fff,#fff,#f33,#fab,#fff,#fde,#def,#faa,#fde,#fde,#fef,#fdd,#fbc,#fee,#def,#fee,#fcd,#fff,#fee,#fee,#fee,#fcd,#cee,#fef,#fff,#fde,#f33,#fee,#fdd,#fee,#ade,#fff,#fcd,#f88,#fee,#fdd,#bde,#fbb,#fee,#cef,#68e,#cee,#fcc,#fcc,#cef,#cef,#fbc,#cef,#fde,#fde,#fcc,#fdd,#fee,#fcc,#fdd,#fff,#bde,#fff,#fee,#fde,#fde,#fdd,#def,#fee,#fcc,#cef,#fee,#fee,#cef,#fcd,#fee,#fde,#fff,#fee,#f77,#def,#fff,#def,#fee,#cee,#fef,#f89,#fde,#def,#fcd,#def,#eff,#fbc,#cef,#faa,#eef,#cef,#fdd,#def,#fff,#ade,#fdd,#fff,#fee,#fdd,#fee,#eef,#fcd,#8be,#fdd,#fff,#fbc,#fee,#fab,#ade,#def,#fde,#cef,#cee,#fee,#faa,#def,#def,#f99,#ade,#9de,#fcd,#def,#fee,#cef,#fff,#fde,#ade,#fff,#fef,#cee,#fbb,#cee,#f55,#def,#def,#faa,#fcd,#fff,#fff,#fdd,#bde,#fdd,#fbc,#fee,#fff,#fff,#def,#fee,#fee,#fde,#eff,#fcc,#eff,#fcd,#fee,#fde,#faa,#fee,#fcc,#fff,#fff,#44f,#fff,#8ce,#def,#fef,#fee,#def,#fee,#fee,#cef,#eef,#fef,#fff,#fee,#55f,#def,#fdd,#ade,#fdd,#fee,#f88,#fee,#cee,#fcd,#def,#ade,#fff,#9ce,#fef,#fcc,#fde,#def,#fcd,#eff,#fcd,#79e,#cef,#eef,#fde,#bde,#fcd,#8ce,#cee,#fff,#fee,#fee,#fde,#56f,#9de,#fee,#eef,#bde,#fdd,#f77,#bde,#def,#fcd,#cee,#def,#9de,#ade,#fff,#fee,#fff,#cee,#fff,#fdd,#fbb,#fff,#fff,#33f,#fff,#fee,#fff,#eff,#fff,#eff,#fff,#eff,#cef,#bee,#cef,#68e,#fee,#fee,#cee,#7be,#fee,#fee,#bde,#f44,#9de,#ade,#cee,#bde,#9ce,#f88,#fdd,#eff,#cef,#eef,#fff,#eff,#bde,#bde,#def,#cef,#bee,#eff,#cef,#def,#cee,#fdd,#eff,#ade,#fbc,#def,#ade,#cef,#fee,#fde,#fee,#bee,#fdd,#9ce,#9de,#bde,#fee,#bde,#69e,#8be,#fff,#fee,#def,#fff,#def,#ade,#def,#fef,#cee,#ade,#bde,#eff,#eff,#def,#9de,#def,#fef,#bde,#9de,#bde,#68e,#fdd,#cef,#fff,#eff,#def,#bee,#bde,#f88,#69e,#def,#ade,#00f,#eff,#bde,#7ae,#fdd,#f44,#9ce,#eef,#69e,#9ce,#fee,#def,#fee,#def,#def,#fee,#9de,#fee,#fff,#eef,#8ce,#eff,#ade,#ade,#def,#bee,#8ce,#fff,#cef,#9de,#fef,#ade,#fff,#def,#fcc,#fde,#def,#bde,#fff,#fab,#fff,#bde,#8ce,#22f,#fff,#fee,#68e,#bee,#8ce,#fdd,#ade,#cee,#def,#68e,#fbb,#7ae,#cef,#fee,#cee,#def,#eff,#eff,#56f,#eff,#fff,#fcd,#bde,#fcc,#fcd,#fef,#bde,#ade,#cee,#eef,#cef,#fee,#68e,#bde,#00f,#55f,#cee,#fff,#fcc,#eff,#bde,#ade,#7be,#bde,#bde,#9de,#def,#def,#55f,#eff,#68e,#eff,#7ae,#9de,#eff,#fee,#55f,#67e,#9ce,#22f,#8ce,#ade,#def,#fcc,#11f,#cef,#bde,#bde,#00f,#fcd,#bee,#9de,#ade,#def,#8ce,#8ce,#bde,#ade,#9de,#ade,#67e,#bde,#9de,#00f,#79e,#55f,#7be,#ade,#22f,#8be,#7be,#7be,#8ce,#7ae,#56f,#ade,#68e,#8ce,#7ae,#00f,#8ce,#00f,#cee,#67e,#68e,#7ae,#8ce,#cef,#eef)"></div><div class="hr" style="top:2196.54px;background:linear-gradient(90deg,#fdd,#fff,#fdd,#fcd,#fde,#eff,#fcc,#fbb,#fbc,#fbc,#fef,#fcd,#def,#fff,#fcc,#fff,#fcd,#fff,#fde,#ade,#fab,#f78,#fcd,#fcd,#faa,#fde,#fde,#fcd,#faa,#fab,#ade,#fee,#fff,#fee,#fee,#7be,#eff,#cef,#fdd,#fee,#fff,#fbc,#fdd,#f99,#fbc,#fee,#fff,#fee,#fcc,#fdd,#f88,#fbc,#fcd,#fee,#fbc,#eff,#fef,#fcc,#fee,#cef,#fee,#fcc,#fbc,#fee,#fff,#fee,#fee,#eff,#fee,#fdd,#def,#def,#def,#fcd,#67e,#fde,#fdd,#fee,#fee,#fcd,#f88,#f55,#fee,#f99,#fee,#eff,#fcd,#f99,#fcc,#fee,#fab,#ade,#f9a,#fdd,#8ce,#67e,#fee,#fbc,#fcc,#fdd,#f99,#fdd,#fff,#fab,#fcc,#fcd,#fcc,#fdd,#fff,#fde,#fbc,#fcd,#f66,#fcd,#fee,#fdd,#fdd,#fee,#fdd,#cef,#f55,#fcc,#fff,#fee,#fcc,#fff,#fee,#fee,#fde,#faa,#fee,#fde,#def,#fcc,#fcc,#fee,#68e,#eef,#faa,#fdd,#fff,#67e,#fee,#fee,#fee,#fff,#fdd,#fff,#fee,#fde,#fff,#fff,#eff,#def,#fff,#cef,#fde,#fcc,#fdd,#f99,#fff,#def,#fcd,#fcd,#fde,#fff,#fbc,#def,#cee,#fbb,#f99,#fee,#def,#fee,#fcc,#fff,#fbc,#fee,#cee,#fdd,#ade,#fee,#fcc,#eff,#fbc,#eef,#fcd,#fbb,#fcd,#def,#fdd,#fee,#eff,#fde,#9ce,#fff,#fcd,#fee,#fff,#fcd,#fee,#def,#fff,#fff,#fef,#fee,#fff,#def,#fff,#def,#7ae,#fcc,#fef,#fee,#eff,#fff,#fff,#eff,#fff,#fee,#fee,#eef,#eff,#cee,#cef,#fde,#8ce,#bde,#eff,#bde,#fff,#fdd,#fee,#fff,#fef,#fdd,#fee,#cef,#def,#fcc,#fde,#9de,#fde,#ade,#ade,#bde,#bee,#fde,#fff,#fcd,#fdd,#cee,#9de,#8ce,#eef,#fde,#8ce,#ade,#8ce,#f99,#faa,#cee,#def,#fde,#eff,#eff,#cee,#8ce,#8ce,#fee,#ade,#7ae,#cef,#fff,#cef,#fee,#bde,#fee,#cee,#bde,#fff,#7ae,#79e,#eff,#fcc,#bee,#bde,#fff,#def,#fee,#fde,#fdd,#def,#fde,#fff,#bee,#eff,#fee,#fbc,#22f,#faa,#eef,#9de,#fee,#fff,#cee,#cef,#9de,#def,#fcc,#00f,#def,#7be,#fdd,#67e,#9de,#7be,#fee,#fff,#8ce,#bde,#9de,#9de,#bde,#cee,#8ce,#def,#fff,#fab,#fff,#eff,#fee,#fff,#8ce,#68e,#8ce,#fee,#eff,#eef,#9ce,#fff,#bde,#9de,#cee,#fee,#8ce,#9ce,#68e,#def,#fee,#8ce,#fff,#eff,#ade,#fff,#eef,#8ce,#ade,#ade,#7ae,#f33,#fff,#fdd,#fff,#fcc,#def,#9ce,#def,#79e,#bde,#def,#eff,#fff,#fff,#8ce,#bde,#fee,#bde,#fee,#cef,#ade,#bee,#9de,#fff,#fff,#ade,#fee,#11f,#67e,#7be,#cee,#fdd,#fdd,#7ae,#def,#bde,#def,#eff,#eff,#ade,#8ce,#fff,#8be,#9ce,#fcd,#44f,#ade,#fee,#9de,#9de,#7ae,#8ce,#eff,#67e,#f00,#fee,#9ce,#def,#fff,#ade,#fff,#fff,#7be,#00f,#bde,#fee,#eff,#9de,#79e,#ade,#33f,#8ce,#ade,#8ce,#fff,#ade,#ade,#7ae,#cee,#eff,#8be,#eff,#7be,#7ae,#fef,#fff,#fff,#fff,#fee,#44f,#7be,#8ce,#bde,#fff,#68e,#56f,#00f,#56e,#00f,#7ae,#fff,#def,#fef,#eef,#fee,#fff,#bde,#cee,#7be,#9de,#8ce,#67e,#11f,#7ae,#8ce,#def,#69e,#7ae,#fee,#9de,#55f,#55f,#79e,#11f,#9ce,#68e,#ade,#fee,#79e,#8ce,#fff,#9ce,#00f,#bde,#9de,#8ce,#68e,#8be,#67e,#55f,#cef,#69e,#def,#7ae,#eff,#8be,#ade,#00f,#22f,#79e,#79e,#67e,#00f,#67e,#8be,#67e,#68e,#55f,#7be,#8ce,#7ae,#7be,#7ae,#68e,#8be,#00f,#8ce,#68e,#00f,#68e,#7ae,#8ce,#cef)"></div><div class="hr" style="top:2218.02px;background:linear-gradient(90deg,#fee,#ade,#fbc,#fcc,#fde,#faa,#fde,#fee,#fbc,#fee,#fcd,#f99,#eff,#fbc,#fee,#fcc,#fbc,#fff,#f9a,#f77,#fde,#bee,#fcd,#fff,#7be,#fcd,#fee,#bde,#fdd,#fde,#fee,#fbc,#faa,#fdd,#fff,#f00,#f89,#fdd,#f99,#fee,#fee,#eff,#44f,#f44,#fee,#def,#fcd,#fcd,#fde,#fcc,#fcc,#8ce,#fee,#fbc,#fee,#fcd,#fee,#f00,#fdd,#eff,#fee,#fcd,#fdd,#fcc,#fff,#eff,#fff,#fff,#faa,#fff,#fbb,#fbc,#fff,#fdd,#eff,#fee,#f77,#fee,#fbb,#fee,#fde,#faa,#eef,#f99,#fee,#cee,#fef,#fcd,#f88,#fdd,#ade,#eef,#fbc,#def,#fde,#fcc,#f88,#f9a,#fbc,#fee,#8be,#fef,#fee,#fee,#fdd,#fee,#fab,#fab,#fee,#fbc,#fdd,#fde,#def,#eff,#fde,#8ce,#fff,#fdd,#fff,#eef,#bde,#fff,#68e,#cee,#fcd,#fee,#7ae,#fdd,#fff,#fcd,#fee,#fff,#fff,#fff,#fff,#fee,#fcc,#fbb,#fcd,#fde,#fff,#9de,#fbc,#fee,#fff,#eff,#fff,#fcd,#fbc,#eef,#def,#fdd,#eff,#fff,#fdd,#fee,#ade,#fff,#fdd,#fde,#fdd,#fcd,#fde,#fee,#eef,#fee,#fab,#fcc,#fef,#fcd,#def,#fcd,#bde,#fff,#bde,#fab,#fee,#fff,#cee,#fff,#fee,#fee,#7be,#cef,#fee,#eef,#fee,#fcd,#fee,#fdd,#eff,#fef,#fcd,#fee,#f99,#eff,#fde,#fee,#fee,#fcc,#fee,#fff,#fdd,#fef,#9de,#9ce,#fdd,#f78,#fdd,#f9a,#fcc,#def,#cef,#fdd,#fde,#fbb,#def,#bde,#fcd,#faa,#fbc,#9de,#cee,#cee,#eff,#fee,#ade,#eff,#9ce,#fcc,#cee,#cef,#eff,#fee,#fff,#eff,#fbc,#eff,#fbc,#fee,#faa,#def,#f66,#fff,#fee,#fdd,#fcd,#fcd,#f00,#fee,#fee,#bde,#cee,#cef,#cee,#eff,#eff,#fff,#def,#fee,#fee,#79e,#fee,#cee,#fee,#cef,#eff,#fcd,#fff,#fde,#eef,#fee,#fde,#fef,#eff,#ade,#fee,#fff,#fee,#fee,#eff,#cef,#9ce,#ade,#fcd,#fcc,#fdd,#def,#def,#fee,#ade,#eff,#8be,#fff,#def,#def,#fff,#fef,#fff,#def,#fdd,#fde,#fbc,#cef,#fff,#8ce,#fee,#def,#fff,#eff,#def,#def,#8ce,#fbc,#fff,#ade,#9de,#fcc,#eff,#cee,#eef,#def,#ade,#fff,#def,#fef,#8ce,#bde,#fee,#fdd,#fff,#fff,#fcd,#fcd,#ade,#cef,#55f,#fdd,#8ce,#def,#fdd,#cee,#eef,#7ae,#fee,#f44,#ade,#def,#7be,#def,#8ce,#f99,#68e,#def,#cef,#fff,#bee,#def,#bde,#8ce,#def,#fcc,#bee,#cee,#fdd,#cee,#bde,#fff,#def,#ade,#9de,#ade,#fde,#fff,#8ce,#fff,#eff,#fef,#fff,#def,#def,#def,#def,#7be,#9de,#fff,#ade,#fff,#eff,#8ce,#ade,#fde,#fee,#ade,#eff,#67e,#bde,#8be,#fde,#eff,#fff,#fff,#ade,#7ae,#bee,#79e,#7be,#8ce,#def,#9de,#cee,#68e,#def,#ade,#9ce,#fee,#55f,#fee,#fdd,#8ce,#f33,#7ae,#7be,#22f,#def,#7be,#def,#fff,#bde,#7be,#ade,#fdd,#fcd,#9ce,#ade,#bee,#fef,#eff,#fff,#cef,#fff,#fee,#fff,#68e,#fdd,#bde,#cef,#79e,#fff,#bde,#cee,#fbc,#f00,#bde,#57e,#fff,#bde,#79e,#00f,#fee,#cee,#cef,#fee,#9ce,#bee,#9ce,#8ce,#fee,#ade,#7ae,#79e,#def,#00f,#8be,#cee,#fee,#68e,#8ce,#56e,#bde,#8ce,#8ce,#fbb,#11f,#bde,#8be,#ade,#cef,#bde,#8ce,#8be,#cef,#00f,#bde,#8be,#67e,#7be,#eff,#ade,#fff,#f33,#8be,#cef,#fee,#9ce,#79e,#9de,#00f,#79e,#56f,#7be,#9de,#00f,#22f,#68e,#68e,#55f,#44f,#7ae,#55f,#ade,#79e,#8ce,#bee,#ade,#00f,#9de,#79e,#11f,#79e,#8be,#68e,#cef)"></div><div class="gl" style="top:1165.40px">DLK2</div><div class="gl" style="top:1186.88px">TGFB1</div><div class="gl" style="top:1208.36px">TMEM91</div><div class="gl" style="top:1229.85px">HTRA1</div><div class="gl" style="top:1251.33px">LOC100130776</div><div class="gl" style="top:1272.81px">HTR6</div><div class="gl" style="top:1294.29px">C8orf58</div><div class="gl" style="top:1315.77px">TMEM44</div><div class="gl" style="top:1337.26px">IL27RA</div><div class="gl" style="top:1358.74px">TMEM121</div><div class="gl" style="top:1380.22px">ADORA2A</div><div class="gl" style="top:1401.70px">ITGA5</div><div class="gl" style="top:1423.18px">LOXL2</div><div class="gl" style="top:1444.67px">STC2</div><div class="gl" style="top:1466.15px">ADAM11</div><div class="gl" style="top:1487.63px">SYDE1</div><div class="gl" style="top:1509.11px">FHL3</div><div class="gl" style="top:1530.59px">MGC12982</div><div class="gl" style="top:1552.08px">HOXD11</div><div class="gl" style="top:1573.56px">KCTD15</div><div class="gl" style="top:1595.04px">NRM</div><div class="gl" style="top:1616.52px">SHC1</div><div class="gl" style="top:1638.00px">FOXD2</div><div class="gl" style="top:1659.49px">PDLIM2</div><div class="gl" style="top:1680.97px">NOL3</div><div class="gl" style="top:1702.45px">HLX</div><div class="gl" style="top:1723.93px">IFITM1</div><div class="gl" style="top:1745.41px">C1QTNF6</div><div class="gl" style="top:1766.90px">LOC541471</div><div class="gl" style="top:1788.38px">SMOX</div><div class="gl" style="top:1809.86px">COL5A3</div><div class="gl" style="top:1831.34px">NOG</div><div class="gl" style="top:1852.82px">HOXD10</div><div class="gl" style="top:1874.31px">TNFRSF4</div><div class="gl" style="top:1895.79px">SERPINH1</div><div class="gl" style="top:1917.27px">PTP4A3</div><div class="gl" style="top:1938.75px">SAMD14</div><div class="gl" style="top:1960.23px">PMEPA1</div><div class="gl" style="top:1981.72px">SLC2A3</div><div class="gl" style="top:2003.20px">PLSCR3</div><div class="gl" style="top:2024.68px">NRGN</div><div class="gl" style="top:2046.16px">RPS8</div><div class="gl" style="top:2067.64px">AG2</div><div class="gl" style="top:2089.13px">COL6A2</div><div class="gl" style="top:2110.61px">VIM</div><div class="gl" style="top:2132.09px">HTRA3</div><div class="gl" style="top:2153.57px">CD248</div><div class="gl" style="top:2175.05px">FKBP10</div><div class="gl" style="top:2196.54px">PHLDB3</div><div class="gl" style="top:2218.02px">PRR24</div><div class="lt" style="left:1496.7px;top:1566.5px;font-size:32.5px">Z-Score</div><div class="lt" style="left:1634.0px;top:1566.5px;font-size:32.5px">Group</div><div class="lb" style="left:1498.2px;top:1608.4px;background:#ff0000"></div><div class="li" style="left:1542.7px;top:1608.4px;font-size:32.0px">&gt;3</div><div class="lb" style="left:1498.2px;top:1644.8px;background:#ffc0cb"></div><div class="li" style="left:1542.7px;top:1644.8px;font-size:32.0px">1</div><div class="li" style="left:1542.7px;top:1681.2px;font-size:32.0px">0</div><div class="lb" style="left:1498.2px;top:1717.6px;background:#87ceeb"></div><div class="li" style="left:1542.7px;top:1717.6px;font-size:32.0px">-1</div><div class="lb" style="left:1498.2px;top:1754.0px;background:#0000ff"></div><div class="li" style="left:1542.7px;top:1754.0px;font-size:32.0px">&lt;-3</div><div class="lb" style="left:1635.5px;top:1608.4px;background:#ff0000"></div><div class="li" style="left:1680.0px;top:1608.4px;font-size:32.0px">4</div><div class="lb" style="left:1635.5px;top:1644.8px;background:#ff7050"></div><div class="li" style="left:1680.0px;top:1644.8px;font-size:32.0px">2</div><div class="li" style="left:1680.0px;top:1681.2px;font-size:32.0px">0</div><div class="lb" style="left:1635.5px;top:1717.6px;background:#0000ff"></div><div class="li" style="left:1680.0px;top:1717.6px;font-size:32.0px">-2</div><div class="bar" style="left:142.5px;top:2340.9px;width:1182.0px;height:34.7px;background:linear-gradient(90deg,#ff0000 0,#ff2010 0.3%,#ff5535 1.2%,#ff7050 4%,#ff8a6c 15%,#ffa48c 27%,#ffc2b0 36%,#ffe2d8 43%,#fffaf8 48%,#f8f4ff 52%,#e8e0ff 60%,#d8c8ff 70%,#c4a8ff 80%,#a87cff 88%,#9060ff 92%,#7c4cff 96%,#5a2cff 97.2%,#4020ff 97.25%,#0000ff 97.3%,#0000ff 100%)"></div><div class="hr" style="top:2385.50px;background:linear-gradient(90deg,#68e,#def,#7ae,#8ce,#9de,#8be,#8ce,#8ce,#ade,#ade,#56f,#55f,#68e,#def,#bde,#68e,#67e,#8ce,#55f,#8ce,#bde,#8ce,#7ae,#ade,#9ce,#ade,#bee,#9de,#8ce,#eff,#9de,#cee,#ade,#8ce,#67e,#67e,#fff,#8ce,#def,#79e,#eef,#ade,#bde,#9ce,#00f,#cef,#8ce,#fee,#22f,#cee,#cef,#8ce,#7ae,#fee,#8ce,#ade,#ade,#eef,#cee,#68e,#67e,#55f,#fcd,#cee,#9de,#ade,#8ce,#9ce,#00f,#fee,#faa,#8be,#fff,#fff,#9de,#67e,#fff,#7ae,#cee,#cef,#8ce,#eef,#9ce,#fff,#cef,#fdd,#cee,#eff,#fff,#cee,#8ce,#9ce,#9de,#33f,#67e,#def,#8ce,#fcd,#7be,#7be,#fff,#def,#ade,#ade,#ade,#8ce,#8ce,#ade,#def,#7ae,#def,#9de,#8ce,#eef,#fde,#bde,#fde,#67e,#def,#ade,#fff,#cef,#eef,#eff,#bde,#8ce,#def,#cee,#bde,#8be,#fef,#eff,#bde,#fdd,#fbb,#eef,#44f,#def,#79e,#9ce,#8ce,#8ce,#79e,#67e,#68e,#bde,#fff,#cee,#def,#cef,#fef,#69e,#ade,#def,#79e,#fff,#fff,#fde,#eff,#def,#cee,#fdd,#bde,#fff,#ade,#cee,#fcd,#cef,#bde,#bde,#9de,#eff,#eff,#fee,#ade,#fee,#8ce,#cef,#ade,#fff,#eff,#def,#eef,#def,#bde,#fdd,#bde,#00f,#bde,#fee,#fdd,#8be,#bde,#fff,#9de,#fff,#def,#9de,#fdd,#eff,#fee,#fef,#cee,#fff,#def,#bde,#eef,#fff,#eff,#fdd,#bde,#fee,#cee,#fcc,#fee,#cef,#fee,#eff,#fcc,#def,#fee,#9de,#ade,#eff,#8ce,#cee,#def,#fff,#eff,#fff,#cef,#fff,#9ce,#fee,#fff,#bde,#7ae,#fde,#def,#fff,#fff,#fff,#fff,#f33,#fde,#fdd,#fee,#cee,#fff,#fee,#9de,#fff,#fff,#ade,#cef,#7be,#fee,#fee,#eff,#def,#fff,#bde,#fee,#def,#fee,#fcc,#fff,#def,#9ce,#bde,#bde,#fdd,#fff,#fcc,#9ce,#fee,#fde,#fff,#9de,#eef,#fee,#fee,#fde,#eff,#def,#ade,#fdd,#fdd,#7ae,#fcc,#bde,#eef,#fde,#fee,#def,#fcd,#bde,#fcc,#fdd,#fee,#eff,#fee,#eff,#def,#fde,#eef,#fff,#fff,#fdd,#fde,#f99,#fde,#8be,#7be,#fff,#9de,#fef,#9de,#fbb,#cef,#fee,#def,#bde,#8ce,#fee,#fde,#55f,#fee,#fee,#fcd,#fee,#bee,#fdd,#fcd,#fff,#faa,#fcc,#def,#bde,#fee,#fff,#fee,#ade,#bde,#eff,#cee,#fcd,#fef,#fcc,#eff,#f9a,#fab,#fff,#69e,#fde,#ade,#bde,#fde,#fff,#def,#fbc,#cee,#cef,#cef,#67e,#fbb,#fee,#fde,#fcd,#fdd,#55f,#fbc,#faa,#fff,#f00,#fff,#fee,#fff,#fee,#fdd,#fee,#fee,#fee,#f88,#f44,#bee,#fee,#fdd,#fee,#eef,#fcc,#fcc,#fee,#fef,#fee,#eff,#fdd,#9ce,#fee,#fdd,#fde,#fbc,#cef,#faa,#fcc,#f66,#fff,#fee,#fee,#fbc,#fff,#fdd,#def,#fef,#fcc,#fcd,#fcd,#fee,#55f,#fff,#ade,#fab,#fcc,#fdd,#fff,#fee,#fde,#def,#fcd,#f00,#fcd,#fff,#8ce,#fbc,#fee,#cef,#bde,#f77,#fff,#def,#fff,#fee,#f66,#fff,#fff,#fee,#fdd,#fcd,#f88,#f88,#fff,#fee,#fdd,#fef,#bde,#fbc,#bde,#bde,#fee,#ade,#fee,#cef,#fee,#fee,#cef,#f44,#fee,#bde,#fee,#fff,#f00,#fbb,#9de,#fde,#fab,#ade,#fdd,#fff,#fee,#def,#fff,#fcd,#fee,#f00,#fcc,#f55,#f00,#fbc,#eff,#fcc,#f00,#f88,#fde,#f99,#f11,#fde,#fdd,#fcd,#f9a,#fde,#f88,#faa,#fde,#7ae,#fcc,#fff,#f00,#f33,#f88,#fcd,#fbc,#fbc,#fdd,#fcd,#f9a,#cee,#f00,#eef,#fdd,#fbc,#fff,#fdd,#fbc,#f11,#fab,#fff,#fab,#f78,#cee,#f00,#fab,#f33,#fee)"></div><div class="hr" style="top:2406.53px;background:linear-gradient(90deg,#ade,#8be,#7ae,#8be,#33f,#eef,#7ae,#7ae,#8ce,#8ce,#7be,#56f,#8ce,#56f,#bde,#9ce,#cee,#8ce,#bee,#bde,#cee,#ade,#bde,#bde,#9de,#ade,#ade,#ade,#8be,#68e,#56f,#44f,#def,#ade,#ade,#9ce,#fff,#fcd,#fcd,#9de,#7be,#f77,#8ce,#ade,#44f,#fde,#8ce,#ade,#eff,#bde,#def,#56f,#9de,#56f,#bde,#ade,#cef,#9ce,#8be,#9de,#fff,#8ce,#7ae,#8ce,#8ce,#67e,#9de,#55f,#56e,#8ce,#fff,#bde,#eff,#ade,#ade,#ade,#9de,#79e,#7be,#cee,#bde,#def,#8be,#bee,#bde,#bde,#9ce,#ade,#bde,#fde,#7be,#def,#fee,#eef,#ade,#7ae,#68e,#8ce,#bde,#68e,#8ce,#8ce,#bde,#cee,#ade,#def,#7ae,#fee,#fff,#fee,#fdd,#bee,#8be,#fff,#bde,#def,#cee,#fee,#ade,#fff,#ade,#fdd,#9de,#fee,#faa,#8be,#def,#def,#cee,#8ce,#def,#def,#cef,#8be,#cee,#ade,#def,#def,#fdd,#9ce,#fff,#fee,#00f,#cee,#67e,#79e,#fee,#ade,#fde,#ade,#8ce,#fff,#fff,#bde,#eff,#ade,#f99,#7be,#fee,#fff,#bde,#8be,#f89,#cef,#fef,#fff,#fcc,#9de,#ade,#eff,#69e,#eff,#f00,#f78,#67e,#fde,#56f,#def,#cef,#fff,#fee,#fee,#9ce,#def,#9de,#fdd,#cee,#cee,#9ce,#ade,#f11,#bde,#7be,#fdd,#ade,#bde,#eff,#bde,#fef,#fee,#def,#fff,#def,#def,#fdd,#cef,#bee,#fee,#fff,#eff,#fde,#fde,#f00,#def,#fff,#fcd,#ade,#cef,#fdd,#fee,#fff,#f89,#bde,#def,#67e,#9de,#fee,#fcd,#bde,#fdd,#7be,#fdd,#fee,#eff,#fdd,#fff,#fff,#fdd,#faa,#def,#fef,#eff,#67e,#fcc,#fee,#def,#def,#fff,#fdd,#bde,#ade,#fcc,#68e,#bde,#def,#cef,#00f,#faa,#8be,#fee,#fff,#9de,#fff,#44f,#f44,#fee,#def,#fee,#fee,#fee,#def,#fef,#f9a,#fab,#9de,#cef,#fde,#fee,#7ae,#68e,#ade,#def,#fee,#eff,#eff,#8ce,#fbc,#f9a,#fdd,#f77,#def,#ade,#fdd,#eff,#def,#def,#fee,#ade,#fff,#fff,#def,#cee,#f99,#def,#fee,#eff,#f77,#def,#fff,#def,#fdd,#fee,#def,#fdd,#fff,#eff,#def,#bde,#fee,#eff,#9de,#8ce,#def,#cef,#8ce,#8ce,#def,#fff,#def,#f67,#fff,#fee,#fdd,#f00,#bde,#fdd,#55f,#fdd,#cef,#def,#fee,#fdd,#fee,#eff,#fff,#eef,#fcd,#fff,#def,#cef,#fee,#fdd,#faa,#ade,#fee,#bde,#fff,#f77,#fff,#fff,#eef,#fee,#fff,#fff,#7ae,#9de,#fee,#fcc,#fde,#fbc,#ade,#bde,#fee,#cef,#def,#7ae,#fee,#cee,#fdd,#eff,#fff,#fee,#fee,#fde,#fdd,#fff,#bee,#fff,#f89,#fee,#fff,#cee,#bde,#eff,#fee,#ade,#fef,#fee,#def,#bee,#bee,#fee,#fff,#fab,#fdd,#fbc,#fbc,#def,#cef,#fdd,#fab,#fff,#fee,#fdd,#fee,#fee,#fff,#fff,#eff,#fee,#fff,#fde,#fdd,#7be,#fbc,#fff,#cee,#fee,#fbb,#fee,#fee,#fee,#fff,#fcd,#fff,#eff,#bde,#f55,#fab,#fdd,#fdd,#f88,#fde,#fcc,#fff,#fee,#fdd,#f88,#fcd,#f88,#eff,#fee,#fff,#00f,#cef,#f88,#def,#eff,#f99,#fab,#def,#9ce,#bde,#fee,#fdd,#fcc,#fff,#eff,#f77,#fff,#f66,#8ce,#fee,#f55,#fdd,#fde,#fde,#f66,#def,#fee,#fdd,#fde,#fee,#f44,#fee,#fdd,#fdd,#fde,#def,#def,#f99,#f89,#fbc,#fdd,#f00,#fbc,#f22,#fcc,#f33,#fee,#fdd,#fde,#f11,#fcc,#f78,#fff,#f11,#f00,#fcd,#fcc,#fcc,#fdd,#fee,#f00,#f88,#fff,#ade,#fff,#fde,#f99,#fff,#f78,#def,#fbc,#fde,#fdd,#fdd,#fdd,#f44,#fdd,#fcd,#f33,#f44)"></div><div class="hr" style="top:2427.57px;background:linear-gradient(90deg,#eef,#bde,#8ce,#67e,#cee,#cef,#8ce,#cee,#7be,#79e,#7ae,#9de,#def,#bde,#9ce,#cef,#8be,#9ce,#9de,#def,#ade,#7be,#fee,#9de,#9de,#bde,#9ce,#bee,#79e,#def,#fdd,#9ce,#eff,#8ce,#fff,#cef,#9ce,#fff,#bde,#eff,#fff,#cef,#eff,#def,#00f,#8ce,#ade,#9de,#00f,#fee,#fcc,#cef,#eff,#bde,#def,#bde,#9ce,#8ce,#eff,#9de,#bde,#ade,#56f,#bde,#8be,#bde,#def,#ade,#00f,#ade,#bde,#8ce,#cee,#fff,#9de,#cef,#eef,#33f,#fee,#9de,#44f,#fff,#9de,#8ce,#bee,#bde,#ade,#fef,#fff,#9ce,#cef,#8ce,#ade,#bee,#bde,#eef,#cee,#fde,#eff,#cef,#eff,#fdd,#cee,#7ae,#7ae,#ade,#ade,#eff,#bde,#def,#fdd,#bde,#9ce,#fcd,#bde,#def,#bde,#def,#11f,#eff,#fee,#8ce,#f99,#33f,#def,#def,#fee,#7ae,#fff,#cee,#def,#cef,#fff,#def,#eff,#fef,#def,#9de,#67e,#fdd,#eff,#fff,#bee,#fff,#fee,#fff,#fcd,#9ce,#ade,#79e,#fee,#fdd,#bde,#fee,#9de,#fbc,#fee,#9de,#68e,#fee,#fee,#eff,#bde,#def,#fff,#def,#eef,#def,#fdd,#def,#fdd,#69e,#def,#fff,#fee,#8be,#68e,#fef,#eff,#fdd,#def,#fdd,#fdd,#fde,#def,#fdd,#7be,#fee,#7be,#fff,#fee,#bde,#fdd,#bde,#bde,#eff,#ade,#fdd,#cef,#fee,#33f,#fcd,#fdd,#faa,#fde,#eff,#f77,#fff,#def,#fde,#def,#eff,#fcc,#fde,#eff,#79e,#cef,#ade,#fff,#def,#fde,#ade,#fff,#fde,#eff,#f55,#f88,#eff,#fcd,#fdd,#fef,#7ae,#bee,#fbc,#fde,#def,#eff,#fcd,#fde,#eef,#cee,#fde,#fff,#fdd,#fde,#def,#7ae,#eff,#fcd,#cee,#fde,#fcc,#fee,#ade,#def,#cef,#f99,#eff,#cef,#fdd,#ade,#8be,#fee,#9ce,#fff,#fee,#8ce,#eff,#fff,#eff,#def,#fdd,#eff,#67e,#def,#fff,#fff,#fee,#fff,#fee,#fff,#fcd,#fdd,#fbb,#fff,#fee,#def,#fde,#9de,#f88,#cee,#cee,#8be,#fee,#ade,#fde,#cee,#fee,#fff,#fee,#9de,#fff,#eff,#cee,#eef,#fcd,#fbc,#fcd,#f77,#fff,#fdd,#fde,#fcd,#fcd,#fee,#bde,#fcc,#def,#fff,#fee,#00f,#fcc,#eef,#fee,#fee,#fdd,#7ae,#fff,#fee,#fee,#33f,#fff,#fdd,#fff,#7ae,#f11,#fcc,#fcc,#fab,#fbb,#fbc,#fdd,#cee,#fbc,#fee,#fcd,#f77,#cef,#fff,#bde,#fff,#f88,#fde,#fee,#fdd,#eff,#fde,#fff,#eff,#fee,#fff,#fde,#cef,#eef,#fee,#fdd,#fff,#def,#fbb,#f77,#fdd,#fcd,#fee,#fff,#fde,#ade,#eff,#fee,#fee,#fdd,#fee,#fdd,#fbb,#fcd,#fbb,#7be,#8ce,#fcd,#fde,#fdd,#cef,#cee,#fdd,#fcc,#fcd,#fee,#8ce,#eff,#fee,#f77,#fee,#fdd,#79e,#fcd,#fdd,#fcd,#def,#fbb,#fff,#fdd,#fff,#f33,#fff,#fee,#fdd,#fdd,#ade,#fcd,#ade,#bde,#f00,#faa,#fbc,#fcc,#fff,#fde,#bde,#f99,#fbc,#fff,#fdd,#fee,#bde,#fee,#bee,#fff,#fff,#f77,#fbc,#f89,#ade,#f77,#f99,#fbc,#fbb,#bee,#f99,#fdd,#f9a,#fab,#fde,#fff,#ade,#faa,#8ce,#f88,#def,#def,#7be,#fdd,#cef,#f99,#fcd,#fab,#fcd,#fee,#fcc,#fee,#fee,#fff,#f77,#cee,#fdd,#fbc,#fcd,#fee,#fcd,#8be,#8ce,#f77,#eff,#fbc,#cee,#f00,#fcd,#f22,#f33,#fcd,#fff,#f99,#fdd,#fcc,#fbc,#f11,#faa,#fab,#f66,#fee,#faa,#fcd,#fcd,#f99,#f77,#f88,#fdd,#fee,#f00,#f00,#f55,#f77,#fbc,#fcc,#fdd,#fde,#fee,#fff,#f44,#fee,#fcd,#fde,#fff,#f99,#fcc,#fee,#f77,#fcc,#f9a,#f00,#f88,#f9a,#fde,#f88,#fdd)"></div><div class="hr" style="top:2448.60px;background:linear-gradient(90deg,#8ce,#7be,#7ae,#8ce,#cef,#bee,#79e,#def,#ade,#67e,#79e,#8ce,#9de,#68e,#69e,#cee,#79e,#f11,#def,#8ce,#fff,#56f,#9de,#ade,#7ae,#cee,#ade,#7be,#8ce,#33f,#7ae,#9ce,#8ce,#44f,#7ae,#bde,#68e,#8ce,#bde,#7ae,#11f,#fff,#fff,#9de,#7ae,#cef,#8ce,#cee,#faa,#9ce,#8ce,#8ce,#7be,#bee,#7ae,#fcc,#9ce,#8ce,#ade,#bde,#8be,#8ce,#7be,#9ce,#9de,#79e,#def,#7be,#ade,#8ce,#00f,#7ae,#def,#cee,#69e,#9de,#55f,#68e,#8ce,#cef,#def,#ade,#8ce,#eff,#8ce,#9de,#ade,#cef,#8ce,#7ae,#7be,#cee,#fff,#9ce,#8ce,#8ce,#eff,#def,#8ce,#ade,#ade,#9ce,#ade,#cee,#8be,#7ae,#7ae,#def,#7be,#fcc,#cef,#bde,#fff,#cef,#9ce,#fee,#def,#69e,#fde,#fee,#eef,#fff,#ade,#56f,#ade,#bde,#eff,#def,#def,#8ce,#fee,#fee,#eef,#def,#eff,#fff,#eef,#8ce,#8ce,#def,#9de,#bde,#8be,#fde,#fab,#cef,#def,#def,#def,#7be,#cee,#def,#9de,#9ce,#9de,#cee,#55f,#ade,#eff,#bde,#bde,#cef,#fff,#fff,#7ae,#fff,#9ce,#68e,#55f,#8ce,#cef,#fff,#def,#cee,#7be,#fee,#79e,#bde,#ade,#faa,#bde,#fff,#cef,#56f,#fff,#fee,#ade,#fee,#7ae,#def,#fff,#cef,#8ce,#55f,#ade,#cee,#9de,#cee,#def,#eef,#00f,#cef,#def,#ade,#f00,#eff,#eff,#eef,#fee,#fff,#fff,#bee,#fde,#faa,#fee,#56f,#cee,#cee,#cee,#fdd,#fff,#fee,#7ae,#bde,#bde,#fff,#fff,#fff,#9ce,#eef,#def,#fee,#7ae,#fff,#fee,#bee,#fff,#fff,#def,#cee,#fde,#def,#bde,#fdd,#def,#bde,#f33,#fbc,#fcd,#bde,#9ce,#fdd,#fff,#ade,#ade,#44f,#fde,#ade,#68e,#fff,#f99,#def,#56f,#cef,#fab,#fff,#fee,#def,#eff,#fff,#fbc,#fff,#cee,#fbc,#eff,#def,#fee,#fff,#ade,#ade,#eff,#67e,#fdd,#def,#7ae,#79e,#eff,#fee,#fff,#eff,#8ce,#faa,#8ce,#fee,#fde,#cee,#ade,#def,#fee,#fff,#9ce,#def,#fab,#cee,#eff,#fde,#ade,#bde,#bee,#fff,#fee,#fde,#def,#fef,#fee,#fdd,#fee,#bde,#fcd,#fee,#bee,#fff,#fff,#fee,#67e,#cee,#79e,#bde,#fff,#fcc,#fdd,#fee,#cef,#fee,#fff,#fcc,#fab,#fff,#f77,#7ae,#fcd,#fee,#cee,#f99,#cef,#def,#eef,#fee,#def,#eff,#cef,#eff,#fde,#fde,#fee,#ade,#fff,#eff,#9de,#fcc,#ade,#cee,#fef,#cee,#7be,#fdd,#fee,#fcd,#fff,#fde,#8ce,#eff,#fff,#def,#def,#eff,#fff,#def,#fff,#fee,#fcd,#cef,#9ce,#fcd,#8ce,#fff,#fff,#fcc,#f77,#9ce,#fdd,#fff,#fff,#fcd,#fee,#fee,#bde,#def,#ade,#fbc,#fff,#fde,#def,#fee,#def,#fee,#fcd,#eff,#bde,#cee,#fff,#fdd,#fee,#bde,#79e,#fef,#bde,#fff,#bde,#eef,#def,#f00,#fff,#fff,#fff,#7be,#def,#8ce,#fcd,#ade,#def,#cee,#fde,#fee,#56e,#fff,#fcd,#fee,#fee,#fff,#def,#f89,#fee,#fdd,#fee,#fee,#fee,#fcc,#fbc,#fef,#eff,#fee,#7ae,#fbc,#fdd,#f44,#ade,#cee,#fff,#fcc,#fee,#fde,#f88,#fef,#fdd,#f00,#fdd,#eff,#fcd,#fef,#fff,#8be,#fbc,#faa,#fff,#eef,#fcc,#fff,#fcc,#79e,#fff,#fef,#fff,#f11,#fcc,#fcd,#f9a,#f88,#fee,#fff,#f66,#f44,#fcc,#fde,#f88,#fcc,#f00,#fbb,#fee,#fee,#eff,#f66,#fdd,#fcd,#fab,#cee,#f00,#f33,#fdd,#fef,#fee,#fff,#fbb,#fdd,#fbb,#fee,#f55,#ade,#f88,#fde,#fbb,#fee,#bee,#f33,#fdd,#fdd,#fbc,#fab,#fab,#fbc,#fbb,#f11,#f89)"></div><div class="hr" style="top:2469.64px;background:linear-gradient(90deg,#fff,#bde,#8ce,#ade,#eef,#eff,#8be,#bde,#9de,#8ce,#68e,#def,#def,#8be,#79e,#ade,#def,#fff,#fff,#bde,#bde,#fff,#8ce,#fab,#fee,#bde,#9ce,#eff,#68e,#68e,#cef,#def,#fbc,#bde,#9de,#eff,#69e,#68e,#def,#eff,#cef,#cee,#fff,#9de,#def,#cef,#bee,#ade,#f9a,#def,#bde,#7ae,#cef,#eef,#bde,#bde,#8be,#fff,#eff,#79e,#def,#f99,#ade,#fab,#cef,#9ce,#eef,#9de,#9de,#9de,#bde,#9de,#8ce,#fbb,#8be,#ade,#9de,#bde,#cee,#8ce,#bde,#ade,#fff,#eef,#7ae,#fee,#9de,#eff,#56f,#cef,#eff,#fff,#ade,#fee,#8ce,#fee,#fde,#fee,#cee,#eff,#bee,#cee,#def,#def,#9de,#79e,#ade,#fee,#fff,#eff,#fcd,#ade,#9de,#eff,#fdd,#79e,#fbb,#9ce,#fde,#fab,#cef,#fee,#def,#9de,#fff,#ade,#bde,#fff,#fdd,#fee,#bde,#eff,#fdd,#cef,#bee,#fee,#fee,#8ce,#fbb,#9de,#fee,#eff,#68e,#fff,#fff,#eff,#f11,#fff,#def,#def,#def,#fbc,#fee,#fee,#cee,#eef,#fbc,#7ae,#fff,#f88,#def,#eef,#9de,#fff,#eff,#fff,#def,#def,#eff,#9de,#def,#fee,#cee,#fef,#eef,#fff,#ade,#eff,#fde,#bde,#eff,#f11,#cef,#8ce,#eff,#cee,#eff,#fff,#fff,#8ce,#bde,#cee,#faa,#cef,#eef,#eff,#fff,#fff,#eff,#fcc,#9de,#faa,#fde,#eff,#def,#cee,#def,#ade,#fff,#eef,#fee,#def,#fcd,#def,#def,#def,#fbc,#def,#9de,#fee,#fff,#fff,#bde,#fff,#def,#cee,#fde,#fff,#fee,#fff,#7ae,#fee,#9de,#def,#f88,#eff,#fde,#bee,#def,#fee,#cee,#bde,#f99,#fcc,#eff,#fee,#9de,#7ae,#f11,#79e,#fee,#eef,#fcc,#eff,#fee,#ade,#00f,#f00,#fdd,#fcc,#fff,#67e,#fee,#fff,#fff,#eff,#79e,#faa,#fff,#fdd,#eff,#fcd,#fff,#fee,#9de,#bde,#eff,#def,#eef,#fdd,#fff,#fff,#fbb,#f99,#fde,#fcd,#8be,#fdd,#fcd,#fbc,#def,#fff,#eff,#fff,#eff,#fee,#fee,#67e,#fff,#9ce,#eef,#fff,#f78,#9de,#fff,#fde,#fcd,#fff,#fff,#fee,#fde,#fee,#7ae,#fdd,#fdd,#fff,#fff,#9de,#fee,#fbc,#7be,#fff,#fdd,#fbc,#ade,#fcd,#fde,#fdd,#fee,#bde,#def,#67e,#fee,#fff,#def,#fdd,#eff,#fff,#fcc,#fee,#fbb,#fee,#fdd,#eef,#fee,#bee,#fbc,#def,#fff,#def,#fdd,#fee,#eff,#7ae,#fee,#fee,#fcd,#fcd,#fab,#00f,#eff,#fde,#cee,#33f,#fee,#fde,#9de,#fee,#eff,#fdd,#def,#fee,#fee,#cef,#bde,#fff,#fee,#56f,#def,#fde,#fff,#fde,#67e,#fff,#eff,#fff,#fdd,#fbc,#f22,#fee,#fcc,#f99,#9de,#cee,#def,#fee,#f77,#eff,#fdd,#fff,#7ae,#fcc,#eff,#fdd,#def,#f22,#fcd,#eff,#fff,#fff,#fbb,#fbc,#fee,#fff,#fff,#eff,#fee,#79e,#fee,#fde,#eef,#fee,#fcd,#fee,#bde,#def,#fdd,#cef,#fcd,#eff,#fee,#fab,#fef,#22f,#def,#fee,#7ae,#fde,#eff,#fcd,#7be,#fde,#f89,#fbc,#fdd,#8be,#fbb,#fab,#f99,#f66,#eff,#f77,#fdd,#f88,#fcd,#f99,#67e,#fee,#fbc,#fee,#fff,#9de,#fee,#fff,#f89,#ade,#fab,#fdd,#fcd,#fdd,#f00,#eff,#eff,#fee,#f9a,#fdd,#fcc,#fdd,#fde,#f11,#fee,#f89,#fee,#f33,#fee,#f55,#f00,#ade,#f88,#f9a,#fff,#fcc,#bde,#fbc,#68e,#fab,#f00,#f88,#f99,#fff,#fcc,#f11,#fbb,#f66,#fbb,#bde,#f00,#f00,#f99,#fbb,#f88,#f99,#f88,#fdd,#f55,#fbc,#fde,#fee,#fcd,#f44,#fcd,#faa,#fcc,#f66,#fee,#faa,#f88,#f33,#f77,#faa,#fee,#f00,#fee)"></div><div class="hr" style="top:2490.67px;background:linear-gradient(90deg,#bee,#9ce,#7ae,#cee,#7be,#8be,#bde,#fee,#cef,#68e,#7be,#22f,#9ce,#9de,#eff,#ade,#cee,#ade,#bde,#ade,#ade,#eef,#bde,#ade,#ade,#ade,#bee,#9de,#7ae,#8ce,#cee,#9ce,#eef,#fff,#eff,#eff,#fdd,#cee,#def,#9ce,#8ce,#8ce,#def,#bde,#9ce,#8ce,#bde,#eff,#bde,#bde,#fef,#cef,#bde,#bee,#bde,#ade,#def,#8ce,#bee,#eff,#ade,#def,#68e,#bee,#def,#fbc,#cee,#eff,#9de,#eef,#bde,#eef,#fff,#eff,#fef,#cef,#eff,#fee,#7ae,#ade,#cef,#fff,#8be,#def,#def,#bee,#fff,#ade,#cee,#bde,#9de,#9ce,#eff,#cef,#ade,#9de,#ade,#cee,#9de,#ade,#bde,#eef,#bde,#cef,#fee,#fff,#ade,#fff,#bee,#fde,#eff,#fdd,#cee,#bde,#bde,#ade,#fff,#def,#fcd,#ade,#ade,#cee,#cef,#bde,#fee,#ade,#79e,#8ce,#fee,#eff,#bee,#def,#7ae,#def,#bde,#fff,#def,#eff,#fde,#fcd,#fee,#fef,#bde,#9de,#fde,#f99,#fdd,#bee,#cef,#fff,#fab,#fcc,#cef,#fff,#eff,#bde,#ade,#fff,#faa,#cee,#fde,#eff,#bde,#9de,#fff,#8ce,#33f,#9ce,#8ce,#fff,#fee,#eef,#bde,#fcd,#fdd,#fee,#bde,#cef,#fee,#eff,#fbc,#ade,#fee,#eff,#ade,#def,#eef,#def,#fee,#cee,#fee,#fee,#fff,#eff,#def,#fff,#fee,#def,#fff,#eff,#bee,#fff,#fcc,#eef,#f44,#fcd,#fff,#ade,#fff,#79e,#eef,#fee,#fde,#fff,#fdd,#fff,#fff,#ade,#55f,#fee,#44f,#11f,#7be,#bde,#bee,#ade,#def,#9ce,#fff,#fee,#ade,#fee,#7ae,#fff,#fee,#f77,#eff,#fde,#fee,#cee,#eff,#eff,#8ce,#fef,#fff,#fbc,#fcc,#fee,#fee,#68e,#cef,#fff,#fde,#eef,#fff,#def,#cef,#fff,#fab,#fff,#fee,#68e,#fff,#fde,#fff,#fdd,#69e,#fde,#fee,#f88,#fee,#fdd,#fee,#fde,#cee,#fee,#fff,#eff,#fde,#fab,#bde,#def,#fde,#fff,#fdd,#68e,#fdd,#fff,#cee,#fab,#fee,#fff,#eef,#def,#def,#eff,#fdd,#fdd,#fee,#fff,#bde,#7ae,#eff,#fff,#cef,#fee,#fee,#eff,#fdd,#fee,#cef,#fee,#fdd,#f88,#def,#bde,#fff,#fcd,#fdd,#def,#fff,#cef,#f9a,#f78,#44f,#fcc,#def,#fcd,#fcc,#cee,#fdd,#fff,#fab,#fdd,#fee,#def,#fee,#fdd,#9de,#fbb,#cee,#fcd,#fcd,#fde,#fff,#eff,#fdd,#79e,#fdd,#eff,#fcc,#fcc,#fee,#eef,#fde,#fdd,#eff,#fcd,#fff,#fee,#eff,#eff,#7ae,#cef,#ade,#faa,#fab,#fff,#ade,#f44,#bde,#fde,#fdd,#ade,#def,#eff,#f9a,#8ce,#fcd,#fdd,#eff,#67e,#fde,#fff,#fee,#fdd,#cef,#fbb,#fcc,#fdd,#fff,#eff,#fee,#eff,#fdd,#fdd,#fee,#fff,#ade,#f66,#ade,#faa,#8be,#f55,#8ce,#def,#fcc,#fee,#f9a,#fcd,#cef,#cef,#fef,#eff,#fde,#def,#fee,#fef,#ade,#fee,#9ce,#fef,#fcd,#fde,#fcc,#fee,#fde,#fbb,#f88,#fff,#cef,#ade,#fde,#f88,#def,#fee,#7be,#f33,#fdd,#fff,#fff,#f00,#ade,#fef,#fde,#fff,#fee,#fde,#fee,#f88,#fcc,#eef,#ade,#fbc,#fff,#f88,#7be,#def,#f9a,#fcd,#fcd,#fdd,#f99,#68e,#f77,#fcd,#fdd,#f9a,#fdd,#fff,#f55,#cef,#f66,#f88,#fcd,#fbc,#fcc,#fff,#fcd,#f88,#faa,#eef,#8ce,#f00,#fcc,#f9a,#fff,#fef,#fee,#fdd,#f88,#fee,#bde,#fcd,#f33,#fff,#f9a,#faa,#fee,#fee,#fde,#f00,#fcd,#f99,#faa,#fee,#f00,#f11,#fcc,#fcc,#fdd,#ade,#faa,#fdd,#f66,#fdd,#f22,#cee,#fee,#f00,#44f,#fcd,#fbb,#fbb,#fbc,#cee,#fab,#faa,#f78,#def,#fdd,#f44,#f99)"></div><div class="hr" style="top:2511.70px;background:linear-gradient(90deg,#68e,#8ce,#bde,#bde,#9de,#def,#cef,#bee,#fff,#fde,#bde,#ade,#def,#def,#cee,#ade,#bee,#ade,#bde,#ade,#def,#ade,#fdd,#fbb,#fee,#def,#bde,#cee,#def,#56f,#bde,#7be,#69e,#ade,#8ce,#9ce,#eff,#cee,#fef,#fee,#fff,#cef,#eff,#fff,#68e,#7ae,#67e,#79e,#ade,#eff,#9de,#fee,#67e,#9de,#eff,#cee,#44f,#eff,#eff,#8be,#ade,#8ce,#eff,#bde,#9de,#8be,#67e,#def,#9ce,#8ce,#eff,#fee,#fff,#fde,#cee,#def,#7ae,#7be,#ade,#def,#def,#fdd,#56f,#9de,#cef,#9de,#bde,#fcc,#ade,#fff,#8ce,#ade,#9de,#def,#8ce,#cef,#ade,#def,#cee,#bde,#def,#8ce,#68e,#def,#9ce,#fab,#eef,#f22,#fee,#67e,#def,#cee,#8ce,#fee,#fef,#def,#eff,#cee,#fee,#bee,#fee,#eff,#f9a,#def,#fff,#ade,#fcd,#cef,#eff,#00f,#f99,#def,#9de,#fef,#eff,#fff,#8ce,#cef,#fef,#00f,#fdd,#9ce,#bde,#bde,#eff,#def,#bde,#fdd,#def,#cef,#9de,#eff,#cee,#fcd,#bde,#fbc,#9de,#bde,#fff,#cef,#fee,#ade,#fff,#fff,#ade,#fff,#bde,#bde,#8ce,#fff,#fbb,#fee,#fff,#7be,#8ce,#7be,#def,#7ae,#fff,#fcc,#def,#fee,#fff,#8ce,#fff,#def,#fff,#cef,#fef,#fff,#fff,#fee,#def,#9de,#fbc,#fee,#ade,#cef,#def,#fff,#eff,#bde,#cee,#cef,#bee,#fff,#fff,#fcc,#bde,#eff,#fff,#eff,#ade,#fff,#fee,#f00,#fdd,#9ce,#faa,#7be,#69e,#fef,#cee,#fff,#cee,#cef,#33f,#def,#fdd,#fcc,#9de,#def,#7ae,#fde,#fff,#eff,#cef,#fee,#fee,#faa,#fdd,#cef,#fcd,#7be,#f77,#eff,#fff,#eef,#faa,#def,#cef,#9ce,#def,#eff,#fee,#bee,#fbc,#fee,#fff,#fdd,#def,#8ce,#8be,#fee,#f99,#faa,#def,#fcc,#fff,#fdd,#fcd,#8be,#bde,#f77,#7ae,#fcc,#fee,#fcd,#cef,#def,#fee,#eff,#fff,#fee,#fde,#eff,#fdd,#00f,#fee,#def,#eff,#fee,#fff,#def,#9de,#fff,#fcd,#fee,#fdd,#faa,#cee,#fee,#cef,#eef,#fee,#fee,#fee,#fff,#eff,#22f,#7be,#fcd,#fef,#f99,#fbc,#bee,#fee,#def,#fee,#faa,#eef,#ade,#eff,#69e,#fee,#fff,#cef,#fdd,#eff,#fdd,#fee,#eff,#fff,#fcd,#eff,#68e,#fff,#7be,#fcd,#eff,#fdd,#cee,#69e,#fde,#fee,#faa,#eef,#fff,#fee,#eff,#fdd,#fff,#fff,#eff,#f9a,#fdd,#fbc,#fee,#fbc,#fee,#eff,#bee,#fff,#fff,#fdd,#9ce,#fbb,#fde,#fcc,#fdd,#ade,#fcc,#fcd,#eff,#def,#fdd,#fde,#9de,#def,#def,#ade,#f00,#cef,#fbb,#fff,#fbc,#ade,#fff,#f00,#fdd,#cef,#faa,#def,#f9a,#fee,#fdd,#ade,#fdd,#eff,#fdd,#def,#fde,#cef,#fdd,#f9a,#fdd,#fde,#fcc,#fff,#fbb,#bde,#fab,#fee,#def,#fff,#fff,#fee,#fdd,#fef,#fee,#9de,#f9a,#fee,#fbc,#eef,#fff,#fee,#fdd,#fde,#eef,#f77,#fde,#bde,#fde,#fff,#fee,#fff,#f33,#fdd,#fdd,#9de,#f77,#f55,#fee,#fde,#fdd,#fde,#cef,#f99,#f55,#fdd,#eef,#fff,#fcc,#fdd,#f88,#7ae,#fee,#fbc,#fee,#eff,#fdd,#9ce,#fee,#fab,#fdd,#fee,#fef,#fff,#bee,#f55,#f44,#f77,#eff,#fbc,#cee,#fff,#fde,#fab,#f78,#fee,#fbc,#22f,#f00,#f55,#fbc,#fff,#fdd,#fbc,#fdd,#fbc,#fff,#fbb,#f9a,#fde,#fbb,#f22,#fff,#f89,#bde,#ade,#f88,#fbb,#fdd,#69e,#fff,#f00,#f11,#fde,#f22,#fab,#fff,#fcc,#bde,#fbc,#fcd,#f11,#ade,#f66,#fee,#68e,#bee,#fee,#fcd,#fde,#fde,#fbc,#fcc,#f44,#fcd,#fff,#f00,#55f)"></div><div class="hr" style="top:2532.74px;background:linear-gradient(90deg,#def,#def,#def,#bee,#7ae,#fff,#fee,#bde,#eef,#bde,#79e,#00f,#fbc,#fdd,#bde,#fde,#8ce,#8be,#fcd,#fdd,#fef,#bde,#ade,#bde,#cee,#fff,#def,#def,#ade,#79e,#eff,#def,#fff,#79e,#ade,#def,#7be,#def,#fff,#bde,#eff,#8be,#fff,#def,#56f,#eff,#8ce,#bde,#11f,#fcc,#ade,#eff,#bde,#cef,#def,#fff,#cee,#eff,#bde,#def,#ade,#ade,#67e,#def,#bde,#def,#11f,#9de,#cef,#fff,#fee,#def,#eff,#cee,#9de,#def,#bde,#ade,#eff,#cee,#f66,#eff,#cee,#def,#cee,#fff,#fff,#cef,#fdd,#fff,#def,#fde,#def,#44f,#bde,#eff,#fff,#68e,#fee,#9ce,#eef,#ade,#fff,#cef,#fdd,#fff,#fff,#eff,#cef,#eff,#bde,#fee,#cef,#f77,#eef,#ade,#fbb,#9de,#def,#fcd,#def,#fee,#def,#fef,#fdd,#fee,#8ce,#fff,#8ce,#eff,#eff,#fee,#cee,#9de,#eff,#def,#9de,#eff,#eff,#fee,#fff,#fee,#f9a,#fee,#f77,#fde,#fee,#cee,#def,#fee,#fee,#fde,#fff,#eff,#ade,#fff,#fff,#eff,#cee,#fee,#7ae,#fff,#def,#fff,#fee,#ade,#fee,#7be,#fbb,#8be,#fff,#fde,#fee,#fcd,#ade,#9de,#fdd,#f99,#9ce,#fff,#fde,#fcc,#fde,#fff,#eef,#fbc,#eff,#eff,#7ae,#fee,#fee,#00f,#9de,#f00,#fcc,#fee,#8ce,#fee,#fde,#fdd,#f00,#ade,#fdd,#def,#eff,#f89,#eff,#9de,#eff,#def,#ade,#fde,#fde,#f33,#eff,#bde,#eff,#fde,#fef,#fee,#fee,#f22,#bde,#fcd,#cee,#bde,#fdd,#fee,#eef,#fcc,#fde,#ade,#fee,#fdd,#fcc,#9ce,#fde,#fee,#def,#fee,#fff,#7be,#fdd,#fee,#f99,#fcc,#69e,#eff,#fff,#fff,#fcc,#fee,#ade,#fef,#fee,#eff,#fbb,#fcd,#fee,#fbb,#fcd,#fdd,#eef,#fee,#fdd,#fbb,#fff,#fde,#fcd,#fcd,#cee,#fff,#fde,#fde,#cef,#fee,#fdd,#fff,#ade,#fff,#fff,#fee,#8ce,#fef,#eff,#eff,#fcd,#eff,#fff,#fcd,#fff,#fee,#eff,#fff,#7ae,#fdd,#fdd,#ade,#eff,#fef,#bee,#fee,#cef,#eff,#def,#fff,#fee,#f77,#8be,#fbc,#fcd,#fbb,#f00,#eff,#fdd,#fff,#9ce,#fff,#fdd,#fff,#8ce,#55f,#fcc,#def,#fff,#fbb,#fdd,#fbc,#fbc,#fee,#fcc,#fde,#eef,#f77,#fcc,#eff,#fbb,#def,#cef,#fde,#fdd,#fef,#fff,#fff,#fee,#fff,#fcd,#bee,#eef,#fef,#fab,#def,#fbc,#fff,#8ce,#bde,#fde,#fee,#fdd,#cef,#79e,#ade,#def,#def,#fff,#fcc,#fff,#fcd,#fcc,#fcd,#fff,#cee,#8ce,#eff,#fff,#fcc,#bde,#fee,#8be,#eef,#f77,#fee,#eef,#fdd,#f66,#cef,#fcc,#f44,#f11,#def,#fcd,#fff,#fee,#fcc,#cef,#fdd,#fde,#33f,#8ce,#f00,#fcd,#fbc,#fee,#fdd,#eef,#def,#f88,#fee,#fee,#fcd,#fef,#fcd,#fee,#8ce,#f77,#eef,#fbc,#f9a,#cef,#fdd,#7be,#fff,#faa,#fab,#eff,#cef,#fdd,#fbc,#fcc,#fef,#fde,#fee,#f00,#f77,#fee,#fdd,#fee,#f33,#fee,#fff,#fff,#f66,#f88,#fcd,#faa,#fee,#f33,#bde,#fab,#f9a,#cef,#fee,#8ce,#fcc,#fcd,#f77,#fee,#eff,#fee,#f99,#fcd,#fee,#fdd,#fff,#fcd,#f99,#def,#fcc,#44f,#fcd,#f00,#8ce,#f55,#fee,#fab,#eff,#fcc,#fcc,#fcd,#f00,#fee,#faa,#fee,#f00,#fdd,#f77,#f22,#fcd,#fee,#fab,#f55,#faa,#fee,#fbc,#fbc,#f66,#f00,#f99,#f9a,#fdd,#fde,#f66,#f00,#fcd,#fab,#eef,#f77,#f33,#fbc,#faa,#fbc,#f77,#fdd,#fdd,#f88,#fee,#f22,#fee,#f99,#fcc,#fff,#f55,#f89,#f88,#fdd,#fef,#f78,#fee,#f77,#f78,#fbb,#f66,#f89)"></div><div class="hr" style="top:2553.77px;background:linear-gradient(90deg,#9ce,#8be,#ade,#79e,#9de,#bde,#fff,#fee,#def,#ade,#9de,#44f,#fff,#8ce,#79e,#fef,#bde,#f33,#def,#cee,#ade,#eff,#fff,#ade,#ade,#67e,#7ae,#fff,#ade,#7ae,#eef,#faa,#fff,#bde,#68e,#fee,#9ce,#def,#eef,#ade,#bde,#cef,#9de,#7be,#8be,#eff,#9ce,#fcc,#7be,#eef,#8ce,#8be,#ade,#ade,#9de,#9de,#9ce,#bde,#ade,#9ce,#9de,#8ce,#fee,#79e,#7ae,#9de,#9de,#7ae,#9de,#9ce,#7be,#fff,#9de,#7ae,#bde,#fde,#bde,#eff,#eff,#7be,#fff,#def,#bee,#8ce,#eff,#fcd,#fee,#7be,#fff,#44f,#8ce,#bde,#fdd,#def,#9de,#ade,#cee,#cee,#ade,#8ce,#9ce,#fff,#bde,#8be,#8be,#ade,#fff,#def,#def,#fee,#cef,#bde,#7ae,#fde,#fee,#cef,#fdd,#8ce,#fff,#fcd,#eef,#fff,#bde,#cee,#cef,#8ce,#cef,#fcd,#fff,#9de,#def,#eff,#bde,#7be,#def,#def,#cee,#def,#fff,#cef,#eff,#eff,#cee,#bee,#cee,#fee,#cef,#def,#fbc,#def,#67e,#68e,#bde,#fdd,#ade,#fff,#fee,#fff,#bde,#bde,#fef,#cee,#bde,#7be,#fff,#fee,#bde,#8be,#eef,#ade,#ade,#def,#fbb,#fdd,#fef,#fff,#bde,#7ae,#8ce,#fff,#eff,#cee,#def,#8ce,#68e,#def,#eff,#fee,#def,#eef,#fcd,#7be,#bde,#ade,#bee,#fee,#fcd,#fde,#bee,#fdd,#fdd,#ade,#fde,#fff,#fee,#fff,#fee,#9ce,#8ce,#eff,#fee,#faa,#fee,#cee,#7ae,#eff,#fcc,#def,#fbc,#ade,#fee,#fde,#eef,#eff,#7ae,#fcd,#fee,#cee,#def,#fff,#cef,#bde,#68e,#fff,#fde,#fff,#fff,#fcc,#fdd,#fff,#fff,#f88,#fff,#f99,#8ce,#f33,#fff,#fff,#fab,#00f,#eff,#eff,#fbb,#ade,#f33,#eef,#fff,#fcd,#fff,#fdd,#cef,#68e,#cef,#fef,#fff,#fbc,#f99,#fff,#7ae,#fbc,#def,#fff,#def,#bde,#bee,#ade,#fdd,#9ce,#8ce,#8ce,#fdd,#fee,#fff,#f66,#bde,#fff,#f11,#def,#fee,#fee,#33f,#fee,#fcc,#9de,#fdd,#cee,#eff,#fff,#fee,#faa,#bde,#cee,#fff,#fcc,#f88,#fcd,#fff,#eff,#fdd,#fab,#44f,#def,#fff,#fcc,#fff,#fff,#def,#eff,#def,#fee,#def,#eef,#f88,#fcd,#eff,#fff,#fff,#eff,#fee,#fee,#fbc,#cee,#fdd,#fab,#eff,#f66,#fde,#fee,#f99,#faa,#def,#def,#fcc,#fde,#fbc,#fdd,#fdd,#fee,#fde,#cee,#fcc,#fee,#fff,#ade,#eff,#bee,#fee,#fff,#eff,#fef,#eff,#def,#eff,#bee,#7ae,#fee,#f44,#fee,#f9a,#fdd,#ade,#fff,#eef,#9de,#fff,#ade,#fff,#fff,#fcd,#fdd,#eff,#fee,#fff,#fcd,#eff,#def,#def,#fdd,#f44,#fff,#fbc,#fee,#eef,#00f,#eff,#eff,#bde,#eff,#cee,#fcc,#def,#faa,#8ce,#fcc,#fbc,#fee,#f88,#fee,#eef,#fff,#fee,#fdd,#eff,#fff,#fff,#fcd,#eef,#eff,#eef,#eef,#bde,#fcc,#bde,#fde,#f9a,#fee,#fdd,#cef,#fdd,#fde,#fde,#ade,#eff,#fcd,#fff,#cef,#7be,#fff,#fee,#fde,#7ae,#cee,#f88,#fab,#eff,#f89,#fff,#fab,#fbc,#f44,#def,#fcd,#8be,#fde,#fee,#f99,#ade,#fee,#fff,#fbc,#fdd,#fde,#fde,#fcd,#fdd,#f9a,#fde,#fdd,#fff,#fdd,#f11,#8ce,#def,#f77,#fee,#bde,#f99,#fff,#eff,#bde,#fff,#fdd,#f88,#f00,#fde,#f77,#f77,#fef,#fbc,#def,#f00,#fcc,#fdd,#cef,#def,#fbb,#fdd,#fdd,#f77,#fee,#fbb,#f9a,#fee,#def,#fdd,#fff,#f00,#f00,#fbc,#fdd,#fcc,#f9a,#fee,#fab,#f99,#fff,#f00,#fee,#fcd,#fdd,#cee,#fbb,#fee,#fcd,#fcc,#fff,#fab,#f67,#faa,#f99,#fdd,#f11,#f77)"></div><div class="hr" style="top:2574.81px;background:linear-gradient(90deg,#9de,#79e,#fee,#9de,#bde,#bee,#9de,#fff,#fee,#fff,#9de,#9de,#7ae,#bde,#cee,#def,#fee,#68e,#ade,#cee,#def,#fee,#def,#fff,#cee,#fff,#7ae,#7ae,#fff,#7be,#9de,#eff,#cee,#fff,#cee,#cef,#bde,#fff,#eff,#8ce,#ade,#cee,#fff,#def,#79e,#8be,#7be,#cef,#bde,#fff,#def,#8ce,#56f,#79e,#8ce,#bde,#fee,#def,#fef,#bde,#bee,#cee,#def,#bee,#ade,#fff,#bde,#eff,#bde,#fee,#def,#f99,#44f,#cee,#eff,#def,#8ce,#8ce,#fff,#bee,#79e,#def,#bee,#def,#cee,#7ae,#9de,#fde,#eff,#def,#fdd,#fee,#9ce,#eff,#ade,#def,#fee,#fdd,#fee,#fff,#def,#fff,#56f,#def,#7be,#fee,#fff,#9de,#eff,#fcd,#8ce,#eff,#eef,#fcd,#68e,#cee,#eff,#fff,#eef,#fef,#def,#fdd,#ade,#bde,#fff,#9de,#fcd,#def,#fff,#9de,#fff,#cee,#fff,#def,#fcc,#ade,#eff,#ade,#eff,#8ce,#def,#fee,#def,#def,#def,#fff,#fff,#fee,#def,#f9a,#fdd,#def,#9ce,#def,#fff,#fff,#68e,#bde,#67e,#cee,#fff,#22f,#fbc,#fff,#eff,#cee,#eff,#ade,#fff,#00f,#fff,#fff,#8ce,#def,#8ce,#cee,#ade,#fff,#bde,#eff,#fff,#fbc,#ade,#cee,#eef,#f22,#9ce,#cef,#ade,#def,#fee,#bee,#def,#fde,#ade,#fff,#bde,#def,#fff,#f88,#cef,#fbb,#fab,#def,#fff,#fcd,#fdd,#fee,#cee,#fcd,#eff,#eff,#eef,#fff,#fff,#cee,#f55,#eef,#fcc,#fff,#fcc,#fee,#eff,#bde,#ade,#def,#fee,#fee,#fcd,#f66,#bde,#bde,#fff,#def,#fff,#fcd,#fee,#fdd,#8ce,#fff,#eef,#9de,#f88,#def,#fee,#fee,#fff,#fff,#f99,#bde,#bde,#def,#eff,#fde,#fff,#fee,#cee,#00f,#fee,#7ae,#fff,#def,#def,#fff,#9de,#fee,#cee,#def,#eef,#fdd,#fee,#eff,#faa,#fcc,#9de,#cef,#fee,#7be,#fbc,#cee,#cee,#7ae,#7ae,#fee,#8ce,#cee,#fde,#fff,#fee,#fee,#fee,#eff,#fee,#fef,#fbb,#def,#bde,#8ce,#fde,#cef,#55f,#def,#fff,#8ce,#eff,#eff,#f55,#fee,#fdd,#eff,#fdd,#fde,#fdd,#fdd,#bde,#def,#fdd,#fff,#fcc,#fee,#fdd,#fde,#cee,#fee,#fdd,#eff,#cee,#f99,#fee,#eff,#fde,#bde,#fde,#fab,#fdd,#fab,#fff,#eff,#fee,#fde,#fef,#fde,#faa,#fef,#ade,#fee,#faa,#fff,#fee,#cef,#fee,#fcc,#fff,#eff,#fbc,#7ae,#fdd,#eef,#def,#fee,#fee,#fde,#fcd,#def,#fde,#8ce,#bde,#fbb,#fdd,#fbb,#eff,#faa,#eff,#fde,#fde,#79e,#fcc,#eef,#fbc,#fdd,#f88,#bde,#fde,#fcd,#fab,#def,#bde,#def,#f66,#eff,#fdd,#fbc,#9ce,#fff,#fef,#cef,#def,#8ce,#fef,#f66,#def,#eff,#fff,#bde,#fde,#fdd,#cee,#def,#fbc,#fee,#fff,#fcc,#8ce,#def,#fee,#bde,#f9a,#fff,#fee,#fcc,#67e,#fbc,#fdd,#cef,#fdd,#eff,#fee,#fee,#fcc,#fcd,#def,#fff,#fdd,#fee,#eff,#faa,#eff,#f33,#fff,#fdd,#fee,#f00,#f66,#fff,#fff,#9ce,#fee,#f99,#fff,#fcc,#fff,#cef,#8ce,#fab,#fcd,#f66,#fff,#fbc,#faa,#fee,#fcd,#fff,#fab,#fde,#eff,#fcd,#fff,#bde,#fbc,#ade,#f11,#eff,#f11,#fde,#fff,#fff,#f55,#fee,#fff,#f55,#fee,#fdd,#fcd,#f00,#faa,#f88,#fee,#fde,#fcc,#fdd,#f11,#fab,#def,#fdd,#f88,#fee,#f00,#fbc,#79e,#fee,#faa,#f33,#f99,#22f,#fbc,#68e,#fee,#f00,#fdd,#fcd,#8ce,#fbc,#fcd,#fab,#f66,#fee,#f44,#eff,#f66,#fab,#ade,#fbc,#fee,#fff,#fff,#eff,#fbc,#faa,#f77,#fcd,#fcc,#f22,#fee)"></div><div class="hr" style="top:2595.84px;background:linear-gradient(90deg,#fdd,#bde,#7be,#ade,#9de,#bee,#7ae,#8ce,#fff,#cee,#44f,#67e,#68e,#def,#8ce,#ade,#7be,#ade,#7ae,#9de,#ade,#8ce,#fdd,#55f,#7ae,#cee,#7be,#56f,#9de,#44f,#ade,#ade,#9de,#67e,#ade,#fff,#ade,#fee,#fdd,#ade,#9de,#7ae,#7be,#33f,#bde,#8ce,#7be,#fff,#8be,#bde,#fab,#cee,#fff,#def,#def,#bee,#7be,#79e,#69e,#8ce,#8be,#7be,#9ce,#ade,#9de,#ade,#fff,#bee,#7be,#ade,#cef,#fee,#bde,#cee,#cef,#ade,#44f,#def,#cef,#7ae,#9de,#fee,#56f,#fdd,#def,#cee,#ade,#68e,#9de,#ade,#ade,#67e,#9de,#bee,#8ce,#bde,#8ce,#bee,#fff,#fee,#ade,#9de,#9de,#bde,#7be,#fff,#def,#7ae,#def,#9ce,#fff,#8ce,#7be,#def,#8ce,#7ae,#cee,#cee,#ade,#def,#fcc,#eff,#8ce,#eff,#fee,#9de,#cee,#bde,#bde,#bde,#eff,#def,#9de,#cee,#eff,#fee,#bde,#7be,#9de,#fff,#bee,#f66,#ade,#fef,#fee,#def,#fcd,#cef,#fee,#fdd,#cef,#cee,#cef,#ade,#68e,#fee,#fee,#ade,#fdd,#7ae,#bde,#ade,#cef,#cee,#ade,#fee,#79e,#ade,#fdd,#7ae,#ade,#8ce,#eff,#fdd,#cef,#fdd,#bde,#fdd,#f88,#fdd,#ade,#fde,#fff,#7ae,#fff,#def,#ade,#fcd,#fff,#9de,#def,#def,#fcd,#eef,#eff,#fde,#ade,#8ce,#fcd,#fee,#fff,#cef,#00f,#fff,#fee,#eff,#fef,#22f,#ade,#fff,#8be,#fdd,#def,#fff,#fee,#fff,#fee,#8ce,#8ce,#def,#def,#fff,#cee,#bee,#cef,#ade,#fee,#bde,#fdd,#fff,#fff,#eff,#68e,#fef,#11f,#fee,#def,#fcc,#8ce,#bde,#fde,#fff,#cef,#fbc,#f88,#fde,#bde,#fcc,#fdd,#bee,#ade,#cef,#fee,#fff,#def,#def,#fde,#fee,#fee,#def,#fdd,#def,#fee,#def,#fdd,#fdd,#fff,#def,#def,#fee,#9de,#fee,#fee,#cef,#7ae,#fff,#fff,#eff,#bee,#ade,#fff,#fff,#56f,#fee,#def,#def,#9de,#fee,#fee,#f55,#8ce,#bde,#faa,#fff,#eff,#fee,#fde,#fee,#8ce,#00f,#bde,#def,#fdd,#9de,#fef,#def,#def,#eef,#cee,#9de,#fee,#f88,#fcc,#fbc,#fff,#f88,#fff,#7ae,#fbb,#fcd,#8be,#fee,#9de,#cef,#fdd,#fee,#cef,#eef,#fcd,#fff,#fff,#cef,#def,#bde,#def,#fff,#fcc,#def,#bde,#faa,#fff,#fdd,#fff,#fcc,#8ce,#fee,#fbc,#fdd,#fdd,#ade,#fbb,#cee,#fdd,#eff,#fee,#ade,#fff,#fde,#bde,#f9a,#fdd,#eff,#fde,#fff,#fbc,#fdd,#faa,#eef,#fee,#fbb,#cee,#faa,#fcd,#fdd,#cee,#8be,#cee,#def,#def,#fee,#eff,#fee,#cef,#fab,#def,#fdd,#fbc,#fcd,#f88,#9de,#bde,#fff,#def,#fff,#9ce,#fcd,#fef,#cee,#cef,#f88,#79e,#f99,#cef,#fcd,#fbb,#fbc,#fdd,#fee,#fcd,#fdd,#cee,#fbc,#def,#fbb,#bde,#fee,#eef,#fff,#fee,#fee,#eff,#fef,#f99,#fab,#9de,#fde,#7ae,#fcc,#fdd,#fff,#def,#cee,#def,#fbb,#eff,#9ce,#fdd,#fbb,#faa,#9de,#def,#fcd,#bde,#fcc,#fcd,#fcd,#fee,#f99,#f99,#f77,#fde,#fee,#8ce,#00f,#fff,#f99,#def,#fee,#fbb,#fff,#fcc,#fcc,#7ae,#fbc,#fbc,#fbc,#fee,#bde,#fdd,#cef,#f55,#fee,#eff,#bde,#eff,#fee,#f44,#fee,#fdd,#f22,#fff,#fdd,#fff,#fcd,#faa,#fbc,#eff,#faa,#fcd,#f9a,#f00,#fbb,#fdd,#f55,#fde,#fcd,#f22,#fbb,#f88,#fdd,#fbc,#fcc,#7ae,#fef,#f9a,#8ce,#fbc,#f77,#fbc,#fab,#fbb,#fcc,#fcd,#fcc,#faa,#fff,#f33,#fee,#fbb,#fab,#fee,#fee,#fdd,#f88,#fab,#fbc,#fde,#fbc,#fcc,#fbc,#fcc,#f00,#fdd)"></div><div class="hr" style="top:2616.87px;background:linear-gradient(90deg,#fee,#eff,#9de,#ade,#8ce,#def,#bde,#def,#def,#fff,#fff,#11f,#9de,#7be,#cee,#68e,#8be,#fee,#fdd,#9de,#eef,#bde,#eff,#8be,#7ae,#67e,#8be,#def,#8be,#8be,#8be,#bde,#bee,#def,#67e,#8ce,#7ae,#79e,#fff,#67e,#fdd,#ade,#8ce,#68e,#22f,#fff,#ade,#ade,#8be,#cee,#cee,#cef,#def,#eff,#ade,#bde,#def,#fcd,#fff,#9de,#56f,#9ce,#67e,#fff,#eff,#bde,#9de,#ade,#cef,#bde,#fdd,#ade,#def,#68e,#fdd,#cee,#fff,#bde,#9de,#fde,#cef,#55f,#ade,#fff,#9ce,#ade,#fde,#def,#ade,#8be,#def,#fbc,#bde,#def,#ade,#ade,#fff,#bde,#eff,#67e,#fff,#ade,#8ce,#def,#bde,#fff,#bde,#bde,#9de,#8be,#f78,#fee,#eef,#fde,#9ce,#cef,#fff,#67e,#fee,#fff,#cef,#def,#67e,#9de,#cef,#fbc,#bee,#fab,#def,#8be,#bde,#eff,#def,#9de,#fef,#fee,#56f,#eef,#9ce,#fdd,#def,#fde,#7ae,#bde,#f99,#fcd,#8ce,#def,#8ce,#cee,#fbc,#fff,#8ce,#ade,#7ae,#fcd,#fdd,#eef,#fee,#9ce,#def,#bde,#fee,#fff,#ade,#fbb,#cef,#fbc,#f88,#7ae,#67e,#eff,#fbc,#fff,#bee,#fee,#7ae,#9de,#ade,#f66,#cee,#f77,#9de,#fee,#fdd,#fee,#cee,#fff,#eef,#7be,#fcd,#fff,#f88,#69e,#bde,#fef,#def,#def,#eff,#def,#cef,#eff,#fab,#fee,#fee,#fdd,#fde,#bde,#fcc,#eff,#eef,#eff,#def,#eff,#def,#fff,#fee,#fde,#fee,#eff,#7ae,#eff,#f99,#def,#9de,#ade,#fcd,#fee,#def,#faa,#fde,#fee,#ade,#fdd,#fff,#def,#fff,#fde,#def,#fff,#eff,#fff,#fee,#cef,#fbb,#fee,#fee,#f99,#fdd,#9de,#8ce,#f77,#ade,#8ce,#fff,#fee,#fff,#eff,#fff,#def,#fde,#9ce,#8ce,#cef,#bde,#fff,#fee,#cef,#fde,#fcc,#cef,#fef,#f77,#cef,#22f,#fee,#fff,#7be,#fdd,#fff,#fee,#fee,#fdd,#79e,#fff,#eff,#fee,#fdd,#fee,#ade,#9de,#f99,#def,#eff,#eff,#eff,#fff,#fde,#faa,#def,#def,#def,#bde,#bde,#fbc,#fee,#fdd,#ade,#fee,#fee,#fde,#fbc,#fcd,#f66,#fdd,#fcd,#def,#cee,#00f,#cee,#fff,#fff,#fde,#fdd,#69e,#f66,#fee,#fee,#fff,#fbb,#fee,#eff,#fbb,#faa,#fdd,#fdd,#fff,#fdd,#fee,#fdd,#fff,#faa,#fee,#fee,#bee,#cef,#f9a,#fee,#fff,#bde,#f9a,#f99,#fff,#fee,#f44,#eff,#fcc,#fef,#fab,#eef,#fde,#fff,#9de,#9de,#fde,#ade,#fee,#fff,#cee,#fcd,#ade,#fcd,#fee,#eff,#eff,#f88,#fdd,#8ce,#8ce,#cef,#fdd,#bde,#fff,#bee,#fee,#def,#fef,#fbc,#fde,#9de,#fee,#fee,#bde,#fcc,#cef,#eff,#bde,#fdd,#fee,#fbc,#cef,#cef,#fff,#fbc,#faa,#fff,#fde,#9ce,#fdd,#fcc,#def,#def,#bde,#fff,#8ce,#fee,#fee,#def,#fde,#fcd,#cee,#fcc,#fde,#fdd,#fff,#fff,#fcc,#fdd,#fff,#fcd,#fbc,#def,#fee,#fcc,#fef,#bde,#f89,#f77,#fdd,#faa,#cee,#f11,#f77,#fbc,#fff,#cee,#def,#fbc,#fff,#fef,#fff,#eff,#faa,#fcc,#fee,#fee,#cef,#bde,#fcc,#fcd,#fab,#fee,#fee,#f88,#fdd,#fcc,#fde,#cef,#fee,#fff,#fee,#def,#fcc,#bde,#fcc,#fff,#fbc,#fee,#55f,#f77,#fcc,#faa,#cef,#fee,#fbb,#fee,#f22,#fbc,#fee,#f77,#fbc,#fdd,#fee,#faa,#fdd,#def,#f00,#f77,#fbc,#fdd,#fde,#f33,#fde,#fcd,#fee,#fdd,#fcc,#fcd,#fab,#fee,#fbc,#fdd,#def,#fdd,#f66,#33f,#f11,#fee,#f99,#fdd,#fdd,#fbb,#fee,#fcc,#fdd,#fcc,#fab,#f44,#f88,#cef,#fcc,#f78,#f55)"></div><div class="hr" style="top:2637.91px;background:linear-gradient(90deg,#8ce,#7ae,#fff,#bde,#22f,#ade,#bee,#cee,#fbc,#9ce,#8ce,#00f,#ade,#8ce,#ade,#def,#79e,#9ce,#69e,#fff,#7be,#bde,#ade,#7ae,#eff,#eff,#cef,#7be,#eef,#68e,#67e,#fee,#8ce,#9de,#9ce,#ade,#9de,#8be,#7be,#eef,#cee,#bde,#9ce,#eef,#44f,#ade,#fff,#bde,#fee,#eff,#9ce,#eef,#bee,#def,#cee,#7ae,#bde,#eff,#bde,#7be,#9de,#def,#8be,#fcd,#bde,#bde,#fee,#eff,#cee,#fdd,#eff,#ade,#cee,#eff,#8ce,#cee,#eef,#cef,#fee,#eef,#8ce,#fee,#7be,#ade,#ade,#56f,#ade,#bde,#def,#fff,#8ce,#7be,#cef,#eff,#bde,#def,#fff,#eef,#cef,#ade,#bee,#9de,#eff,#fff,#8ce,#bde,#cee,#cee,#9de,#7ae,#fff,#ade,#def,#cef,#f00,#8be,#def,#8ce,#9de,#fff,#def,#fff,#44f,#7be,#cee,#9ce,#cee,#ade,#fee,#67e,#fff,#cef,#7be,#def,#bde,#7ae,#bde,#cee,#bde,#8ce,#fff,#eef,#67e,#bde,#9de,#fee,#fee,#bde,#8ce,#eef,#eff,#def,#00f,#fee,#ade,#def,#fee,#cee,#fee,#cef,#ade,#cee,#cee,#fef,#fab,#8be,#eff,#7ae,#fee,#9de,#def,#fcd,#67e,#def,#eef,#fee,#fff,#9de,#ade,#bde,#eef,#fcd,#fab,#fbc,#bde,#eef,#eff,#7ae,#8be,#8ce,#ade,#eef,#cee,#eff,#def,#fdd,#8ce,#9de,#9ce,#cef,#fee,#bde,#def,#eff,#cee,#fff,#f00,#f00,#eff,#8ce,#11f,#eff,#8ce,#def,#7ae,#8ce,#8be,#44f,#fcc,#67e,#fcd,#f9a,#f99,#fee,#8be,#cee,#eff,#def,#eff,#bde,#bee,#def,#def,#9de,#fee,#fff,#fff,#fbc,#fff,#ade,#8ce,#fff,#8ce,#fff,#fef,#fcc,#fee,#fbc,#f9a,#8ce,#fee,#fef,#7be,#def,#fdd,#cef,#fde,#fee,#fff,#fee,#fff,#ade,#8ce,#7be,#def,#fcd,#cef,#fff,#faa,#def,#fdd,#8ce,#def,#fcd,#eff,#f88,#fee,#9de,#8ce,#def,#eef,#f99,#ade,#fee,#def,#fff,#fff,#fee,#bde,#fee,#fff,#8ce,#fff,#fff,#bee,#def,#ade,#fee,#fdd,#fee,#9de,#7ae,#fff,#fff,#fee,#fab,#9de,#bde,#fee,#fdd,#fde,#cee,#cef,#ade,#fff,#cef,#fee,#68e,#fde,#cef,#fee,#eff,#fff,#fff,#fee,#fee,#8ce,#fee,#eff,#fbc,#fdd,#cee,#fdd,#fbc,#f9a,#cee,#68e,#ade,#fcd,#fcd,#fff,#fbc,#fcd,#fcc,#fff,#bde,#fdd,#cef,#fee,#fdd,#fde,#fab,#cef,#fff,#9de,#fee,#bde,#fee,#7ae,#fee,#bee,#cee,#fff,#fff,#fff,#fef,#00f,#fdd,#fcc,#fdd,#def,#fcc,#f88,#fcc,#bde,#ade,#bde,#cee,#cef,#fff,#def,#69e,#11f,#fee,#ade,#fee,#fff,#fbc,#f22,#fff,#fbc,#eff,#cef,#eff,#def,#fee,#fff,#eff,#faa,#fdd,#fcc,#00f,#fee,#fab,#fdd,#def,#fee,#eff,#fff,#fbc,#fdd,#fdd,#fcc,#fbb,#fff,#ade,#fcc,#f99,#eff,#fcd,#fff,#8ce,#fcd,#fee,#cee,#eff,#fee,#fbb,#fcd,#fdd,#fde,#fee,#fff,#f00,#def,#9de,#bde,#f55,#fbc,#8ce,#fff,#fbb,#9ce,#fdd,#faa,#def,#8be,#fee,#fdd,#fab,#fee,#fee,#fde,#fdd,#fdd,#fbc,#eff,#fdd,#fbb,#fff,#f99,#fbb,#def,#fde,#cee,#fdd,#fdd,#eef,#fdd,#eff,#f22,#eff,#7ae,#fde,#fee,#faa,#f66,#fee,#fff,#9de,#fff,#fff,#def,#f44,#8ce,#f00,#f00,#fbc,#bde,#fde,#fee,#fcc,#fcd,#f9a,#f9a,#fde,#8ce,#f88,#fcc,#fbc,#def,#fdd,#fdd,#faa,#fff,#fee,#f00,#f11,#fbc,#def,#fbb,#fff,#fdd,#fbc,#fcd,#ade,#f00,#eef,#f00,#fee,#fcd,#eff,#fcc,#8be,#fdd,#f88,#f77,#fee,#f55,#fcd,#fde,#fef,#f77)"></div><div class="hr" style="top:2658.94px;background:linear-gradient(90deg,#bde,#bde,#79e,#bde,#8be,#ade,#9de,#fff,#ade,#8ce,#cef,#44f,#fdd,#7be,#bde,#cef,#bde,#fff,#ade,#ade,#9de,#7be,#ade,#cee,#fee,#fff,#68e,#7be,#def,#67e,#cef,#ade,#def,#9ce,#bde,#bee,#ade,#cef,#fff,#68e,#bee,#bde,#eff,#fdd,#22f,#fcd,#8be,#fcd,#def,#bde,#fff,#eff,#8ce,#9de,#cef,#def,#bde,#def,#cef,#9ce,#fff,#8ce,#def,#def,#cef,#ade,#cee,#bde,#69e,#9ce,#9de,#cee,#8ce,#fee,#9ce,#fde,#9ce,#def,#ade,#cef,#9de,#8ce,#8ce,#bde,#bde,#ade,#eef,#8ce,#fff,#def,#68e,#79e,#f77,#bde,#8ce,#44f,#fee,#eef,#eff,#7be,#fee,#eff,#ade,#fee,#8ce,#bde,#def,#bde,#fee,#fee,#cee,#fee,#7ae,#fef,#8ce,#cee,#cee,#bde,#bde,#bde,#fee,#8ce,#cef,#eef,#cee,#ade,#cef,#fff,#8ce,#ade,#fff,#bde,#8ce,#def,#bee,#fef,#fff,#fff,#8ce,#55f,#fde,#fee,#def,#cef,#eff,#fee,#eff,#bee,#fff,#cef,#fdd,#fcd,#fdd,#fff,#def,#fff,#bde,#9de,#9de,#8be,#def,#bde,#ade,#ade,#fcd,#eff,#fff,#8ce,#fff,#7ae,#eef,#eef,#eef,#faa,#fde,#69e,#fee,#fbb,#9ce,#fee,#eff,#def,#cee,#def,#fee,#cef,#bde,#fff,#bde,#fff,#fbb,#eff,#bde,#def,#79e,#fee,#ade,#fee,#fff,#fee,#fff,#fff,#eef,#fee,#fcd,#cef,#eff,#fab,#56f,#bde,#f11,#fee,#f66,#9de,#bde,#bde,#bee,#fff,#def,#cef,#eff,#fcc,#68e,#fff,#9de,#fff,#f9a,#def,#fee,#fff,#f78,#fff,#cee,#bde,#f99,#cef,#fee,#cef,#fee,#fdd,#fdd,#fee,#fdd,#fee,#fdd,#fef,#def,#cee,#fdd,#fdd,#ade,#bde,#ade,#fdd,#9de,#def,#fee,#68e,#f00,#fee,#def,#9de,#eef,#def,#cef,#ade,#fdd,#fdd,#fee,#cef,#fdd,#fee,#fff,#fdd,#9de,#def,#fdd,#eff,#9de,#fee,#fff,#9ce,#fee,#fff,#bde,#9de,#def,#f9a,#fff,#fde,#eff,#fcd,#fdd,#fde,#f77,#eef,#fdd,#fff,#fdd,#fde,#7be,#fff,#cee,#8ce,#ade,#fcd,#f99,#fdd,#fee,#fab,#def,#bde,#fcc,#fdd,#fee,#fee,#fdd,#def,#f89,#fdd,#fef,#fff,#eff,#fdd,#fff,#fee,#fff,#f78,#fff,#cef,#fff,#fff,#fab,#fdd,#bde,#fdd,#ade,#fdd,#fdd,#fcd,#fdd,#fdd,#7be,#fee,#eff,#def,#fbc,#fff,#fcc,#cef,#fee,#bde,#fdd,#cef,#fcd,#fee,#fbc,#fee,#bee,#fcd,#fee,#fff,#fdd,#bde,#fff,#fcd,#fff,#fee,#fff,#fcd,#cef,#fde,#fee,#bde,#ade,#fcd,#fee,#cef,#fee,#eff,#fbc,#fcd,#fff,#eff,#9ce,#fee,#fab,#f89,#f55,#fde,#ade,#7ae,#fdd,#11f,#fcd,#fcd,#fde,#fee,#cef,#f77,#fff,#eff,#bde,#fab,#fdd,#fcc,#fee,#fee,#79e,#fbc,#7ae,#fcd,#bde,#eef,#fde,#fcc,#fdd,#fee,#fff,#fee,#fff,#f66,#bee,#f9a,#fff,#fdd,#eef,#fcc,#fcc,#f9a,#cef,#cef,#def,#f33,#68e,#def,#fff,#f55,#fcc,#fff,#fff,#fee,#f66,#fcd,#fee,#bde,#fff,#fbc,#f77,#faa,#ade,#def,#fff,#fab,#def,#f00,#fee,#fff,#f88,#def,#bde,#fcd,#fcd,#fff,#bee,#fcc,#fdd,#fde,#fff,#fff,#f9a,#fcd,#f99,#fcd,#fcd,#eff,#44f,#fff,#fab,#fbc,#fcd,#def,#f00,#f33,#fee,#fcc,#f77,#ade,#cee,#fcd,#f00,#7be,#faa,#00f,#f78,#fcd,#f00,#fcc,#f99,#def,#fbc,#fcd,#f77,#fcc,#fee,#fcd,#fab,#f88,#fcc,#f77,#fbc,#f99,#fbc,#fff,#fbb,#fdd,#fab,#fee,#fbb,#fdd,#bde,#f88,#fcd,#fbb,#fcc,#fee,#fbc,#fcc,#eef,#f9a,#f66,#f44,#f33)"></div><div class="hr" style="top:2679.98px;background:linear-gradient(90deg,#bde,#def,#ade,#eef,#7ae,#79e,#7be,#8ce,#ade,#fcd,#8ce,#ade,#bde,#cef,#cee,#eff,#79e,#fff,#fff,#69e,#68e,#7be,#cef,#33f,#cee,#bde,#cef,#68e,#bde,#fff,#8ce,#ade,#56f,#bde,#cee,#9de,#bde,#fff,#bde,#79e,#ade,#cee,#7be,#8ce,#7be,#8ce,#8ce,#eef,#ade,#67e,#fff,#9de,#44f,#cef,#fff,#bde,#cef,#ade,#def,#33f,#bde,#ade,#bee,#def,#def,#fff,#9de,#def,#8ce,#7be,#68e,#ade,#bde,#bde,#79e,#00f,#8ce,#fdd,#cef,#eff,#7be,#cee,#9ce,#def,#8ce,#fff,#cee,#bde,#eff,#9de,#8ce,#9de,#def,#fde,#bde,#cef,#fee,#fee,#eef,#9ce,#ade,#eff,#cef,#cee,#fee,#fee,#67e,#22f,#9ce,#8ce,#def,#68e,#79e,#fee,#fee,#fff,#fdd,#7ae,#9de,#7be,#fee,#cef,#fee,#fcd,#cee,#cee,#fff,#ade,#def,#9ce,#eff,#8ce,#def,#7be,#cee,#eff,#eff,#8ce,#9de,#fdd,#fff,#fee,#8ce,#fff,#fde,#eef,#fee,#fee,#bde,#bde,#fff,#ade,#fab,#fcd,#fee,#def,#fdd,#eff,#fbb,#bde,#fee,#9de,#fee,#fff,#fdd,#ade,#fcd,#def,#fde,#fee,#def,#ade,#def,#ade,#fff,#cef,#fef,#def,#ade,#bde,#fee,#eff,#fab,#fff,#fde,#cef,#fee,#22f,#eff,#eef,#ade,#fee,#ade,#fde,#cef,#eff,#cef,#cee,#def,#fff,#8ce,#fff,#fcc,#fef,#fde,#eff,#fff,#fbc,#fee,#fef,#fee,#fcc,#fdd,#eff,#67e,#fcd,#8ce,#9de,#fff,#cee,#f11,#fff,#cee,#fdd,#ade,#cef,#fff,#fcd,#bde,#fcd,#fdd,#def,#bee,#8ce,#def,#fff,#9de,#fdd,#def,#fee,#8ce,#7ae,#fff,#fee,#fee,#cef,#fdd,#eff,#f78,#eff,#bee,#9ce,#8ce,#eef,#ade,#68e,#def,#fff,#fde,#fff,#def,#cef,#ade,#56f,#9de,#fff,#ade,#f88,#f66,#fdd,#ade,#f88,#9de,#fde,#ade,#9de,#fff,#cef,#56f,#cee,#fef,#7be,#ade,#fde,#eff,#def,#fcd,#fff,#ade,#f66,#def,#fff,#fee,#fee,#def,#fcd,#fdd,#eff,#eff,#fcc,#cef,#8ce,#9ce,#fde,#def,#9ce,#fff,#bde,#fee,#eff,#fbc,#fee,#fdd,#def,#9de,#fee,#cee,#7ae,#f88,#def,#def,#fff,#cee,#ade,#fdd,#fcd,#fff,#eff,#fee,#fee,#bde,#def,#cee,#fdd,#fff,#fcc,#fee,#f78,#f66,#fdd,#fcc,#fcd,#fdd,#8be,#fcc,#fee,#fdd,#fcd,#fbb,#68e,#ade,#fdd,#9ce,#fee,#fde,#def,#fee,#fee,#9de,#fee,#fff,#cef,#69e,#eff,#bde,#fcd,#bee,#fee,#fdd,#fbb,#fff,#f44,#8ce,#fdd,#fff,#f99,#fee,#ade,#fff,#fee,#fdd,#def,#fff,#fdd,#eef,#eef,#fee,#fcc,#f55,#fff,#faa,#fcd,#def,#faa,#fcc,#fcc,#fff,#def,#fbc,#f88,#fff,#faa,#fee,#fdd,#fcc,#f88,#fef,#cef,#cef,#f55,#fee,#fdd,#8ce,#79e,#7ae,#fde,#eef,#fff,#fee,#f00,#eff,#fee,#fee,#fbc,#fee,#def,#fff,#fee,#fde,#7ae,#fdd,#fff,#fdd,#f44,#fab,#fff,#67e,#fdd,#fcd,#fcc,#fee,#fcd,#f11,#fcd,#fcc,#fff,#fdd,#f89,#fff,#fee,#fee,#fff,#cee,#fee,#fee,#fff,#fee,#f88,#fdd,#f99,#fcd,#eff,#fcd,#fbb,#fcd,#eff,#fdd,#fee,#fdd,#f78,#f00,#ade,#f9a,#f88,#fff,#fdd,#fbc,#ade,#fcd,#f00,#fdd,#fcd,#f77,#faa,#f44,#f00,#fdd,#fdd,#fff,#f88,#f00,#f77,#fee,#fee,#f55,#f66,#f00,#fab,#f77,#fbc,#fdd,#f77,#f55,#f9a,#fcc,#8be,#f11,#fbc,#fee,#f77,#fdd,#fab,#fcd,#fee,#f66,#f99,#f33,#fde,#faa,#fcc,#fde,#fbb,#f11,#fbc,#fbc,#fff,#fbc,#fdd,#f88,#f55,#fab,#f22,#fee)"></div><div class="hr" style="top:2701.01px;background:linear-gradient(90deg,#ade,#eff,#ade,#7ae,#7be,#bee,#ade,#eff,#eff,#ade,#bde,#fee,#cee,#ade,#cef,#8ce,#8ce,#ade,#8ce,#9de,#8ce,#fdd,#fdd,#bde,#fee,#8ce,#bee,#def,#eef,#33f,#fff,#fff,#fff,#eef,#ade,#def,#bee,#cef,#fbc,#67e,#ade,#bde,#9de,#fee,#22f,#bde,#ade,#fff,#00f,#fee,#ade,#8ce,#def,#9de,#fff,#eff,#8ce,#fde,#7be,#def,#9de,#8ce,#8ce,#fff,#fde,#fff,#cef,#eef,#cee,#9ce,#fee,#bde,#def,#cef,#fff,#8ce,#fff,#def,#eff,#9de,#fee,#fff,#cee,#fee,#fff,#def,#fff,#cee,#def,#cef,#bde,#ade,#cef,#fff,#bde,#fcd,#9ce,#def,#bde,#fee,#fee,#bde,#def,#def,#fcd,#fdd,#bde,#def,#cef,#7be,#fde,#fdd,#eff,#fcd,#def,#cef,#fee,#fcd,#faa,#fde,#def,#fee,#eef,#fbb,#fff,#ade,#8ce,#8ce,#fee,#eff,#fff,#fee,#9de,#8ce,#eef,#fee,#eff,#fff,#fee,#def,#fff,#fee,#fee,#fee,#eff,#fcd,#fee,#fff,#fde,#fde,#fef,#def,#fff,#fdd,#bde,#fde,#ade,#fee,#cef,#fee,#fff,#fff,#bde,#fee,#eff,#fee,#fff,#bde,#fee,#fff,#eef,#fdd,#eef,#fde,#bde,#bde,#fcd,#fff,#ade,#eef,#fcc,#fab,#fdd,#fff,#68e,#fab,#eff,#cef,#ade,#def,#bde,#fee,#fff,#fee,#cee,#f99,#fdd,#fcd,#fff,#fdd,#cee,#fcd,#eff,#fff,#eef,#fdd,#fff,#fef,#fcc,#def,#8ce,#fee,#cee,#fdd,#def,#fbb,#fff,#f66,#f88,#fee,#fcd,#fef,#9ce,#fee,#def,#fee,#fdd,#fff,#fbb,#cef,#fdd,#fff,#fff,#fdd,#fff,#def,#f00,#fdd,#fff,#fde,#fee,#fef,#fee,#fdd,#fcd,#fee,#fff,#def,#faa,#eef,#fdd,#fdd,#fee,#8ce,#fcc,#f99,#fdd,#fef,#fde,#fde,#fff,#fee,#fde,#eff,#fee,#fdd,#fee,#fee,#fdd,#f99,#fff,#fdd,#ade,#fcc,#fff,#fee,#fde,#fee,#fee,#fcc,#fde,#f88,#fcd,#fff,#fef,#fee,#fdd,#def,#cef,#f99,#fee,#fee,#f9a,#fff,#fee,#fff,#def,#ade,#fab,#fde,#9de,#fee,#69e,#fde,#fff,#fff,#eef,#fee,#fdd,#faa,#fbc,#fbc,#fbc,#fdd,#fee,#fdd,#fee,#fee,#f99,#fdd,#fff,#fde,#f22,#fff,#eef,#f99,#fff,#fbb,#fab,#fcc,#fff,#bde,#fff,#f89,#def,#fcc,#fee,#fdd,#fcc,#f66,#fdd,#fdd,#fbc,#fdd,#f00,#fcc,#fdd,#def,#fff,#fdd,#fdd,#faa,#fcc,#fee,#fcc,#f11,#fee,#f99,#ade,#fee,#fcd,#9ce,#fdd,#fff,#fcd,#f77,#fcd,#f9a,#fcd,#fcd,#fdd,#fff,#fbc,#f55,#fee,#def,#fcc,#fde,#cee,#fff,#fcc,#cee,#f55,#eff,#fbc,#fee,#f22,#fbc,#eff,#fbc,#fdd,#f66,#fff,#fee,#def,#fbc,#fde,#fff,#f88,#fbc,#fff,#fbc,#fff,#fbb,#eff,#fcd,#fcc,#fff,#fee,#fde,#fef,#f9a,#fcc,#f66,#fcd,#fee,#fbc,#fdd,#ade,#fdd,#fcc,#f88,#fee,#f00,#f99,#fcc,#fee,#eff,#fee,#fee,#fcc,#f00,#fdd,#f11,#fcd,#fee,#fff,#f66,#fdd,#fde,#fee,#f11,#f88,#cef,#fab,#eff,#f77,#def,#cef,#f44,#fee,#fdd,#9de,#fbc,#fee,#f77,#fff,#fde,#faa,#fbb,#79e,#fef,#eff,#fbb,#fff,#fcd,#fef,#fee,#f78,#fde,#f11,#eff,#f55,#fff,#fcc,#f66,#f9a,#fdd,#f99,#f44,#f66,#f9a,#fdd,#f55,#f22,#fbc,#f33,#fcd,#fcd,#fdd,#f00,#fab,#9ce,#f77,#fde,#f99,#fab,#f78,#f9a,#fcc,#f55,#f00,#f88,#f55,#bde,#def,#f00,#fab,#fff,#fbb,#fee,#f55,#f99,#fcd,#f44,#fdd,#f00,#68e,#f77,#fcd,#fdd,#f88,#bde,#8ce,#fbc,#fbc,#fbb,#f00,#f55,#f66,#fcc,#f00,#f11)"></div><div class="hr" style="top:2722.04px;background:linear-gradient(90deg,#7be,#bde,#def,#9de,#7ae,#def,#def,#9de,#ade,#69e,#8ce,#56f,#9de,#ade,#ade,#7ae,#9de,#fbc,#fff,#cee,#cee,#eff,#def,#9de,#79e,#bde,#bde,#9de,#8ce,#cee,#9de,#8be,#68e,#9de,#8ce,#bee,#7ae,#fdd,#67e,#def,#fdd,#eff,#fdd,#8ce,#33f,#bde,#cef,#fff,#def,#fee,#9ce,#def,#bde,#def,#cee,#fcc,#cee,#fff,#fee,#eef,#7ae,#fab,#fee,#fff,#eef,#bde,#fee,#8ce,#8be,#8ce,#fff,#fff,#fee,#cef,#33f,#fee,#9de,#eef,#fee,#eff,#79e,#fcd,#8ce,#cee,#8ce,#def,#fff,#67e,#fff,#eff,#fdd,#7be,#8ce,#eef,#cef,#ade,#def,#fff,#cef,#bde,#fee,#eff,#9de,#8ce,#7be,#8be,#9de,#fff,#ade,#fff,#fff,#def,#79e,#fee,#7ae,#cee,#bde,#7ae,#cee,#def,#eff,#fff,#fde,#44f,#ade,#cee,#7ae,#bee,#eef,#ade,#fee,#def,#bde,#eff,#fff,#68e,#fff,#ade,#bde,#ade,#eff,#fcc,#fff,#fdd,#fde,#ade,#22f,#fff,#eff,#fbb,#f00,#eff,#44f,#fdd,#9ce,#fff,#eff,#ade,#def,#ade,#9ce,#eff,#7be,#7ae,#fbc,#fee,#eff,#eff,#def,#bde,#cef,#cef,#fef,#ade,#def,#def,#00f,#fbb,#fff,#ade,#fdd,#9de,#fee,#cee,#fdd,#ade,#9de,#fff,#def,#bde,#ade,#eff,#8ce,#ade,#def,#fff,#fff,#fee,#00f,#fff,#eff,#fdd,#fee,#eef,#fdd,#fef,#fcd,#def,#fee,#bde,#def,#eff,#fde,#def,#def,#8be,#fee,#8ce,#fee,#fee,#def,#fcd,#eff,#fee,#8ce,#fbb,#fff,#fdd,#fff,#fde,#fee,#eff,#22f,#fee,#fff,#fff,#fdd,#fcc,#ade,#ade,#79e,#cee,#fde,#eef,#fcc,#fdd,#cee,#cef,#fdd,#fee,#def,#fde,#fff,#bee,#fff,#def,#cef,#fee,#fee,#def,#7be,#fdd,#fff,#fee,#fbb,#fee,#fcc,#fcd,#fdd,#cef,#eff,#fcc,#fdd,#fde,#bde,#f11,#def,#fdd,#def,#cef,#fee,#cef,#eff,#fdd,#fab,#fcc,#fdd,#fdd,#fdd,#f00,#cef,#ade,#fde,#ade,#fee,#fff,#def,#fcc,#fbc,#fcc,#fff,#fee,#fff,#cef,#fde,#f77,#fff,#9ce,#eff,#fdd,#f9a,#fdd,#fdd,#fcc,#cee,#fdd,#fee,#f55,#fcc,#fee,#bde,#56e,#9de,#fee,#fcd,#fcd,#fff,#eff,#fee,#fdd,#fcd,#eff,#fdd,#fee,#33f,#fdd,#fcd,#cef,#eff,#fbc,#fef,#def,#fee,#fde,#faa,#fff,#f88,#9de,#fef,#fff,#fde,#f66,#cef,#eff,#fee,#fee,#fee,#eff,#fee,#fee,#fff,#eef,#67e,#cef,#bde,#fcd,#fee,#bde,#fff,#fab,#fef,#fff,#fee,#def,#fff,#fee,#fcc,#def,#fde,#fdd,#7be,#f9a,#def,#fbb,#fee,#f22,#f88,#f88,#fde,#fdd,#fcc,#faa,#fde,#eff,#eff,#fee,#f44,#def,#fdd,#f00,#def,#f55,#def,#fde,#f11,#fee,#fcd,#eef,#7be,#fee,#eff,#faa,#f88,#f00,#fee,#f99,#f9a,#ade,#cef,#eff,#bde,#fab,#fee,#fbb,#fcc,#fde,#def,#f44,#fdd,#fcc,#fee,#bde,#bde,#fff,#fcc,#bde,#cef,#f66,#fee,#fbb,#fee,#fee,#f9a,#fff,#fcd,#fff,#def,#eff,#f66,#f33,#eff,#bde,#def,#fcc,#bee,#f55,#7be,#f99,#f89,#f77,#00f,#fbc,#fbb,#f00,#fcd,#fbc,#f33,#fee,#fcd,#fee,#cee,#cee,#f77,#fee,#fde,#fcc,#cef,#fdd,#fdd,#f99,#def,#fdd,#eff,#f66,#f99,#f55,#fcd,#fde,#fcd,#faa,#f11,#fdd,#f66,#f77,#fdd,#fee,#f00,#f99,#f77,#fee,#fee,#f55,#fab,#fcc,#fab,#eef,#fcc,#f00,#fdd,#fcd,#fdd,#fee,#fdd,#fee,#fee,#fcd,#f00,#fff,#fbc,#f9a,#f77,#f99,#fee,#fbc,#fbb,#bde,#f89,#faa,#fff,#f66,#fbb,#f55,#f77)"></div><div class="hr" style="top:2743.08px;background:linear-gradient(90deg,#79e,#8ce,#8be,#8ce,#8ce,#9ce,#bde,#9de,#7ae,#ade,#7ae,#22f,#7be,#7be,#fff,#bee,#ade,#fde,#fff,#eff,#cee,#9ce,#eff,#9de,#9ce,#ade,#9de,#bde,#ade,#bde,#def,#9de,#44f,#7ae,#9de,#fee,#ade,#def,#fee,#7ae,#9de,#7be,#bde,#7ae,#def,#8ce,#bde,#8ce,#ade,#8be,#9de,#ade,#7ae,#def,#fff,#fcd,#def,#def,#fef,#def,#9ce,#8ce,#cee,#68e,#68e,#7ae,#cee,#fee,#8ce,#def,#fee,#bde,#fff,#69e,#cee,#ade,#bde,#22f,#fee,#bee,#9ce,#8ce,#ade,#eef,#67e,#8be,#bde,#faa,#cef,#def,#ade,#eef,#fff,#bde,#8ce,#bde,#fee,#9de,#ade,#bee,#fee,#ade,#7ae,#cef,#8ce,#bde,#bde,#9de,#ade,#fff,#bde,#fdd,#cef,#fee,#9ce,#def,#fee,#9de,#fbb,#ade,#8ce,#ade,#8ce,#bde,#79e,#8ce,#def,#ade,#9ce,#8be,#fcd,#fff,#9de,#ade,#8ce,#eff,#fbc,#9de,#ade,#eff,#fee,#9de,#8ce,#00f,#8ce,#def,#def,#fee,#7be,#fdd,#fff,#cef,#8be,#9ce,#fff,#fff,#cef,#eff,#bde,#fbb,#ade,#00f,#fff,#fff,#ade,#def,#8ce,#ade,#fff,#cef,#cef,#def,#fdd,#bde,#ade,#9ce,#fcd,#bee,#eff,#cee,#def,#fdd,#cee,#def,#eef,#9de,#7be,#bee,#cef,#ade,#ade,#def,#fef,#bde,#bee,#cee,#fef,#fff,#fff,#fdd,#bee,#fee,#fff,#eef,#fee,#fee,#fdd,#cef,#fff,#cef,#fff,#fff,#eef,#def,#cef,#fcc,#67e,#fff,#fdd,#fff,#fee,#fcc,#69e,#bde,#fde,#f00,#fee,#bee,#ade,#def,#def,#bee,#00f,#ade,#fff,#def,#fee,#fbc,#ade,#fde,#fff,#fff,#fdd,#eff,#fff,#fcc,#bde,#fff,#fcd,#7be,#fbb,#fee,#bde,#7ae,#9de,#ade,#fee,#fee,#fee,#ade,#fee,#7be,#eff,#fff,#fee,#def,#cee,#def,#eff,#fde,#bde,#fcc,#fdd,#fdd,#ade,#9ce,#fef,#fee,#eff,#faa,#cef,#9de,#fcd,#fee,#def,#fee,#def,#fee,#67e,#fde,#8ce,#def,#fff,#eff,#fff,#67e,#fee,#fff,#fcd,#fee,#ade,#ade,#9de,#8ce,#eff,#fde,#fcc,#def,#8be,#eff,#fff,#fee,#cee,#fde,#cee,#def,#eef,#fdd,#cef,#fff,#fdd,#bde,#bde,#fbc,#def,#fff,#fde,#fdd,#f99,#eef,#fdd,#fef,#fdd,#fbc,#fff,#fee,#8ce,#def,#fff,#fee,#fff,#fee,#fee,#fcd,#9ce,#79e,#f55,#fff,#fee,#7ae,#9ce,#fee,#fff,#cef,#fff,#9ce,#fdd,#fdd,#fff,#fde,#cef,#7ae,#def,#fee,#bde,#fcc,#7ae,#fbc,#fee,#fcd,#def,#fff,#fee,#fff,#eff,#f55,#f88,#ade,#fee,#f00,#00f,#faa,#fee,#def,#fff,#cee,#eff,#fcd,#f44,#fee,#fcd,#fff,#cef,#fbc,#fee,#f00,#eff,#def,#bde,#f55,#fff,#fff,#cee,#fcd,#fee,#f55,#fff,#fff,#fee,#fcd,#ade,#fee,#fee,#cee,#fff,#fab,#fff,#fbc,#79e,#faa,#fff,#f9a,#faa,#fee,#eff,#fdd,#fab,#fff,#fee,#fff,#fff,#fcd,#eef,#f9a,#fdd,#fff,#7be,#fbb,#fdd,#def,#def,#f00,#f66,#8ce,#fee,#ade,#fff,#f55,#fbb,#fdd,#fcd,#faa,#44f,#fdd,#fcd,#fdd,#eff,#fee,#fcc,#def,#fff,#fdd,#ade,#f99,#fee,#eff,#f55,#fcd,#fdd,#eff,#f00,#fde,#fff,#f9a,#fdd,#9ce,#fbb,#eff,#fde,#fde,#fbc,#fcd,#def,#fcc,#f89,#f67,#fee,#fbc,#fbb,#fab,#faa,#fdd,#fde,#fcd,#fff,#fee,#fee,#f9a,#f66,#fff,#9de,#f88,#fab,#fdd,#f9a,#fff,#f99,#f44,#fde,#fcc,#f99,#fcd,#fee,#fee,#f89,#bee,#f44,#f99,#fbc,#f99,#fdd,#fab,#fcc,#f88,#fde,#fcc,#f77,#fbb,#f99,#f99,#fcd,#f11,#faa)"></div><div class="hr" style="top:2764.11px;background:linear-gradient(90deg,#fff,#22f,#9de,#44f,#def,#bde,#7be,#9ce,#cef,#bde,#68e,#fff,#8ce,#cef,#ade,#cef,#fee,#55f,#cef,#8ce,#9ce,#bde,#fee,#fff,#8ce,#7ae,#cef,#7ae,#cee,#fff,#def,#cef,#bde,#67e,#67e,#bde,#cef,#eff,#bde,#f22,#55f,#cef,#cef,#bde,#fff,#fee,#9ce,#def,#cef,#eff,#eff,#67e,#7ae,#fff,#eff,#def,#ade,#cef,#fff,#fdd,#8ce,#cee,#cef,#eff,#fff,#fff,#fff,#fdd,#def,#eef,#eef,#68e,#fee,#fde,#68e,#fde,#eef,#eff,#bde,#bee,#def,#fff,#fee,#fff,#ade,#ade,#bde,#ade,#fff,#9ce,#bee,#79e,#fff,#cee,#def,#fff,#fde,#ade,#fee,#9de,#55f,#fff,#fee,#eff,#cef,#def,#9de,#cef,#cee,#eff,#eff,#cef,#eff,#def,#ade,#fff,#f9a,#fdd,#bde,#cef,#def,#ade,#def,#fde,#eef,#fff,#ade,#fee,#69e,#bde,#def,#fff,#eff,#fdd,#eff,#fff,#eff,#def,#8ce,#eff,#fff,#ade,#eff,#9de,#eef,#fdd,#fee,#cef,#fde,#cee,#fff,#def,#fde,#cee,#ade,#fff,#bde,#def,#bde,#fff,#def,#ade,#def,#def,#fbc,#fdd,#cee,#8be,#cee,#eff,#cee,#fcd,#bde,#fff,#def,#fee,#cef,#fee,#f66,#eff,#eef,#fcd,#7be,#fff,#cee,#fee,#9ce,#fee,#fff,#fee,#fee,#fcd,#fff,#f00,#bde,#7ae,#def,#fef,#fee,#fde,#fff,#fdd,#fbc,#fde,#fff,#def,#fdd,#fdd,#fee,#cef,#fbc,#ade,#fbc,#fff,#cef,#ade,#bde,#9de,#eff,#fff,#fee,#9de,#cef,#fcd,#8ce,#fff,#fdd,#def,#f9a,#faa,#67e,#cef,#f88,#def,#fcd,#fcd,#f88,#bde,#fcd,#fff,#7be,#bde,#f00,#faa,#fee,#fff,#fff,#fee,#bde,#bde,#def,#bee,#fde,#cef,#fdd,#7be,#fab,#fee,#fee,#f00,#bde,#fbc,#fdd,#eff,#9de,#eff,#def,#fee,#fdd,#fff,#fee,#fbc,#fdd,#f77,#ade,#fee,#eff,#fee,#eff,#fff,#fdd,#eff,#faa,#f99,#cee,#fee,#cee,#f55,#fee,#fbc,#bde,#eff,#ade,#fcc,#fee,#cef,#fff,#bee,#fdd,#fdd,#bde,#eff,#fab,#fff,#ade,#fee,#fff,#fdd,#ade,#fff,#fee,#f9a,#79e,#8ce,#79e,#fff,#8ce,#bee,#fff,#fde,#cef,#fbc,#fee,#fff,#fee,#fff,#eff,#fdd,#fee,#fee,#8be,#fff,#fdd,#fdd,#bee,#7be,#fbb,#fee,#fee,#fdd,#fdd,#fee,#fee,#fee,#fdd,#eff,#fdd,#bde,#f9a,#fde,#fcc,#fee,#fbb,#fcc,#fcd,#fdd,#fff,#fee,#fdd,#def,#fff,#fbb,#8ce,#fee,#8ce,#fff,#eff,#fdd,#fff,#fdd,#f66,#eef,#f9a,#fff,#eff,#def,#fff,#def,#fcd,#fee,#fdd,#fff,#fff,#fff,#fff,#fef,#fde,#fcd,#f11,#f44,#fbc,#fdd,#f88,#fdd,#faa,#bde,#f88,#def,#9de,#f9a,#def,#fee,#eff,#fcd,#f77,#8ce,#fee,#fde,#fee,#fee,#fbb,#f9a,#fff,#fde,#fdd,#fee,#fcd,#fff,#cee,#fee,#fcd,#fab,#fef,#def,#fff,#fcc,#fcd,#faa,#fcc,#fef,#def,#fee,#f99,#ade,#eff,#def,#fff,#f88,#f78,#fee,#fcc,#fcd,#fcc,#fcd,#f99,#cef,#fcc,#eff,#fbb,#fbc,#fee,#fee,#eff,#f55,#fdd,#9de,#9de,#cef,#f33,#fee,#fcc,#fff,#fff,#faa,#f88,#8ce,#fcd,#fdd,#f99,#fee,#f33,#def,#f44,#faa,#fde,#fff,#fdd,#f00,#fff,#fcd,#fee,#f99,#cee,#f11,#fbc,#fcd,#f77,#ade,#fbc,#fee,#f22,#fbc,#55f,#fcc,#fcc,#faa,#f11,#fbc,#9ce,#fbb,#fcd,#fff,#f11,#f66,#fcc,#79e,#fee,#f11,#fbc,#f99,#fbc,#faa,#fcc,#fdd,#f88,#f00,#f11,#fcd,#fab,#fdd,#56e,#faa,#fbb,#fbb,#fdd,#def,#fab,#fab,#f11,#f66,#fee,#f66,#fab)"></div><div class="hr" style="top:2785.15px;background:linear-gradient(90deg,#7ae,#eff,#cee,#7be,#44f,#def,#bde,#fee,#def,#cef,#cee,#56f,#9de,#cee,#67e,#fee,#fff,#ade,#8ce,#9de,#79e,#55f,#fff,#67e,#cef,#ade,#def,#8ce,#9de,#68e,#79e,#ade,#fcc,#7ae,#fef,#ade,#bee,#eff,#7ae,#eff,#8ce,#8be,#8ce,#cef,#00f,#bee,#def,#ade,#f55,#cee,#fcc,#7be,#f88,#9ce,#7be,#fff,#fff,#bde,#f77,#8ce,#bde,#8ce,#bde,#def,#7be,#cee,#9de,#bde,#7ae,#bee,#fee,#69e,#cee,#f66,#8ce,#fef,#8be,#ade,#def,#8ce,#8be,#9de,#7ae,#fff,#fff,#ade,#eff,#55f,#fef,#f89,#f88,#8ce,#8be,#ade,#7be,#8ce,#fbb,#8ce,#68e,#44f,#def,#68e,#f33,#9de,#fdd,#eef,#fee,#79e,#9de,#eff,#eef,#fee,#ade,#eff,#cef,#cee,#fef,#ade,#fee,#fff,#fff,#bde,#8ce,#bde,#fff,#bde,#9ce,#bde,#def,#56f,#eff,#33f,#fee,#fff,#fee,#def,#bde,#7ae,#bde,#cee,#eef,#fff,#8ce,#7ae,#bde,#fbc,#eff,#faa,#69e,#eff,#fff,#fde,#def,#eef,#fff,#8ce,#cef,#fff,#cee,#9de,#fff,#fee,#fde,#def,#ade,#eef,#8be,#9de,#fbb,#bde,#67e,#fee,#def,#fee,#eef,#fbc,#56f,#f9a,#def,#fff,#79e,#fee,#fff,#def,#eef,#fff,#7be,#fde,#bde,#bde,#fde,#eef,#cef,#fff,#8ce,#eff,#cee,#ade,#eff,#fdd,#fee,#67e,#fee,#cef,#fee,#def,#fee,#fef,#cee,#eff,#fbc,#fff,#fdd,#f9a,#eff,#fab,#fff,#fff,#fef,#bee,#fee,#fee,#def,#fee,#fff,#f33,#def,#8ce,#f9a,#fcd,#fde,#fee,#8ce,#fee,#fee,#fee,#fee,#fbb,#00f,#fdd,#cef,#ade,#fcd,#fcc,#fbc,#fff,#cef,#cee,#fcd,#79e,#bde,#eef,#fee,#def,#def,#def,#fee,#def,#fee,#fcd,#fef,#cee,#68e,#fef,#fef,#ade,#def,#fbc,#eef,#fcd,#fee,#fee,#fee,#fde,#ade,#ade,#def,#fff,#9ce,#def,#fee,#fee,#fcd,#fff,#def,#ade,#fee,#fde,#fff,#fde,#fff,#eff,#fdd,#fff,#def,#ade,#fde,#f88,#fbc,#fcd,#bde,#eef,#cef,#11f,#f00,#fff,#fdd,#cef,#eff,#fdd,#fdd,#fee,#fee,#fbc,#fde,#bee,#fdd,#cee,#f55,#fde,#eef,#eff,#ade,#def,#cef,#f55,#cee,#f89,#fdd,#ade,#fcd,#fee,#fee,#fcd,#7ae,#fcc,#def,#cee,#fdd,#faa,#f9a,#fee,#fee,#f88,#ade,#def,#fcd,#eff,#fdd,#ade,#fdd,#eff,#fee,#cef,#fdd,#fee,#fcc,#fdd,#fdd,#fee,#eff,#def,#def,#fdd,#56f,#fde,#def,#fbc,#eff,#fcd,#f77,#fee,#bde,#fee,#bde,#ade,#fcd,#8be,#eef,#bde,#fee,#ade,#fee,#fcc,#fcc,#fdd,#def,#f55,#f44,#fee,#faa,#def,#fff,#def,#def,#fff,#bde,#bde,#fef,#f99,#fff,#f22,#fdd,#f88,#f88,#fee,#fbb,#fee,#fab,#fee,#fef,#fdd,#fdd,#cee,#fde,#fee,#fab,#fdd,#cee,#fcd,#fee,#f00,#fab,#fcc,#eff,#7ae,#fff,#fcd,#fab,#eef,#fdd,#fdd,#cef,#fcc,#fff,#fde,#bde,#f44,#fff,#fee,#fef,#f77,#faa,#fff,#fbc,#8ce,#bde,#fbc,#fdd,#fcd,#fcd,#fdd,#bde,#f66,#fee,#f22,#fdd,#fdd,#faa,#fee,#fdd,#fcd,#f9a,#f89,#f9a,#fcd,#fab,#fef,#eff,#fee,#f00,#fff,#fcd,#faa,#fbb,#8ce,#faa,#eff,#fde,#f55,#fbc,#fdd,#eff,#f11,#fdd,#f44,#f55,#fee,#fee,#fbc,#f44,#cee,#fbc,#f77,#fef,#cef,#f00,#fbc,#f99,#9ce,#fab,#f99,#f55,#fcc,#f9a,#cee,#f77,#f00,#fbc,#f00,#f66,#f89,#fbb,#fde,#fcd,#11f,#f11,#fee,#faa,#faa,#fcd,#f99,#f33,#fcd,#f88,#fee,#fee,#fbb,#f55,#fcc,#fbc,#f33,#def)"></div><div class="hr" style="top:2806.18px;background:linear-gradient(90deg,#ade,#7be,#cef,#7ae,#68e,#cee,#7be,#cef,#7be,#fff,#def,#55f,#fff,#fff,#8be,#eff,#7ae,#8ce,#8ce,#cef,#eff,#8ce,#cef,#9ce,#9de,#56f,#cee,#def,#eff,#9ce,#cee,#cef,#8ce,#ade,#eff,#9de,#9de,#cef,#fee,#9de,#9ce,#9de,#cef,#eff,#def,#def,#fff,#bde,#fee,#def,#bde,#ade,#bde,#55f,#7ae,#def,#def,#7be,#cef,#bde,#67e,#8ce,#fbc,#bde,#fef,#8be,#bde,#8ce,#9ce,#69e,#fcd,#00f,#bde,#fee,#9de,#ade,#fef,#ade,#fcc,#bee,#eef,#8be,#cee,#ade,#cee,#fcd,#9de,#fdd,#fee,#ade,#ade,#9de,#cef,#9de,#def,#bde,#fde,#bee,#fbc,#cef,#69e,#9de,#eff,#79e,#7be,#8ce,#bde,#ade,#eef,#bde,#eff,#def,#fee,#fee,#fcc,#fff,#fdd,#bee,#8ce,#bde,#fde,#fff,#fff,#fee,#def,#8be,#cee,#eff,#fee,#8be,#7ae,#eef,#fff,#fff,#bde,#def,#def,#def,#ade,#def,#fee,#eef,#cee,#fee,#eff,#fcd,#cee,#fdd,#9de,#fee,#eff,#fff,#79e,#ade,#bee,#fff,#fcc,#8ce,#fff,#9de,#fde,#fff,#fdd,#eff,#eef,#fee,#def,#ade,#f89,#cef,#cef,#fbb,#bde,#fef,#fff,#fff,#cef,#cef,#fdd,#bde,#8ce,#fee,#fff,#f9a,#fdd,#eef,#9de,#fff,#fef,#fee,#cee,#fff,#33f,#cef,#cee,#fde,#cee,#fde,#bde,#9de,#eef,#eff,#fee,#def,#fff,#fff,#fee,#def,#cef,#fef,#cef,#eff,#fdd,#cef,#def,#eff,#def,#def,#56f,#bde,#fee,#fef,#def,#def,#ade,#fde,#fbb,#bde,#7ae,#fdd,#fdd,#fde,#7ae,#fde,#fcc,#fdd,#fee,#fbb,#eff,#fee,#fef,#ade,#fee,#fee,#fee,#fcd,#fcd,#cef,#fcd,#fff,#fff,#fff,#fff,#f88,#fff,#fff,#fff,#fab,#fff,#9de,#fff,#7ae,#eef,#bde,#fde,#fee,#fff,#cef,#fff,#fdd,#fff,#fbc,#fff,#fdd,#ade,#bde,#fcd,#fdd,#cef,#def,#cef,#def,#eff,#fff,#fff,#fee,#faa,#fee,#fbb,#fdd,#fdd,#7ae,#eff,#fdd,#bee,#fff,#fee,#faa,#f99,#fee,#7be,#eff,#fff,#ade,#eff,#f89,#fff,#def,#fef,#fff,#fdd,#fee,#fdd,#fdd,#fbc,#cef,#fee,#ade,#fff,#fcc,#fee,#fff,#def,#bde,#faa,#fcc,#fcc,#fdd,#fff,#fdd,#def,#faa,#fdd,#fab,#bde,#fdd,#f66,#def,#def,#fee,#fcd,#fee,#fbc,#fdd,#eff,#7be,#fbc,#00f,#fdd,#def,#fdd,#f66,#f9a,#fde,#eef,#00f,#fcc,#fcc,#fde,#fff,#fcc,#f88,#fee,#69e,#7be,#fdd,#f99,#fdd,#55f,#fee,#bde,#fee,#fee,#fee,#fee,#def,#f88,#fdd,#f77,#f66,#fff,#fff,#9de,#f9a,#fbc,#eef,#fee,#fef,#f77,#fde,#fee,#f99,#8be,#fff,#eff,#fbc,#fee,#fcd,#fbc,#faa,#fff,#f89,#fee,#f00,#f66,#fbc,#fcd,#fef,#fde,#cef,#fab,#fab,#fff,#55f,#fee,#eff,#fab,#fff,#bde,#fbc,#9de,#eef,#fee,#fdd,#eef,#fde,#fee,#fab,#fcd,#fdd,#fee,#f55,#fde,#f33,#eff,#fef,#bee,#f11,#f9a,#fee,#eff,#fef,#fdd,#fde,#fee,#fff,#fee,#fdd,#fcd,#f88,#fdd,#fee,#cee,#fff,#fff,#fee,#79e,#cee,#fbb,#fde,#faa,#9ce,#fde,#fff,#f33,#fff,#fde,#fcd,#f89,#fff,#f00,#eff,#f44,#fee,#eff,#f88,#fdd,#8ce,#fee,#f33,#fbb,#cef,#fde,#f00,#fab,#f44,#f44,#fcd,#fff,#f77,#f66,#fcd,#fab,#f99,#fff,#fdd,#f77,#fab,#f88,#def,#fbb,#f66,#f66,#f88,#fbc,#eef,#f00,#f22,#fbb,#faa,#fcd,#f00,#f55,#fab,#f88,#fdd,#f44,#fff,#fab,#f00,#fbc,#f55,#def,#fbb,#f89,#fdd,#fdd,#fbc,#f99,#f99,#fee,#fee,#f55)"></div><div class="hr" style="top:2827.21px;background:linear-gradient(90deg,#8ce,#7ae,#8ce,#7be,#bde,#bee,#67e,#ade,#eff,#cee,#bde,#44f,#8ce,#44f,#9de,#fbc,#def,#def,#bde,#bde,#cee,#9de,#44f,#ade,#7ae,#ade,#8be,#79e,#bee,#22f,#bde,#def,#fee,#bde,#8ce,#9ce,#67e,#eff,#eef,#fcc,#79e,#9de,#79e,#fee,#11f,#eef,#fff,#def,#fff,#67e,#fff,#8ce,#7ae,#56f,#7ae,#cee,#8be,#bde,#68e,#9ce,#68e,#7ae,#def,#79e,#cee,#9de,#9de,#8ce,#7ae,#7ae,#7ae,#67e,#cee,#fee,#eff,#eef,#ade,#8ce,#9de,#8ce,#9de,#def,#cee,#fee,#bde,#fbc,#def,#def,#def,#cef,#7be,#ade,#8ce,#cee,#9ce,#9ce,#9ce,#8ce,#bde,#8ce,#fdd,#def,#79e,#fee,#7be,#ade,#bde,#69e,#bde,#f88,#def,#9ce,#8ce,#eef,#fee,#def,#fff,#8ce,#faa,#ade,#def,#7be,#fff,#eef,#9de,#9de,#bde,#bde,#9de,#79e,#def,#9de,#cee,#eff,#9de,#9de,#def,#cef,#eff,#bde,#fee,#fee,#ade,#8ce,#fff,#bde,#fee,#9de,#def,#fee,#f55,#eff,#ade,#7be,#8ce,#fee,#fff,#67e,#fef,#79e,#fff,#fff,#00f,#8ce,#def,#ade,#9de,#bde,#fff,#fff,#fff,#fff,#def,#9de,#7ae,#def,#bde,#fee,#9ce,#11f,#eef,#fee,#fff,#eff,#bde,#eff,#ade,#fff,#cef,#7ae,#9de,#cee,#fee,#fff,#8ce,#44f,#9de,#9de,#cef,#fee,#def,#def,#fee,#ade,#7be,#fee,#fee,#eff,#7ae,#fff,#fff,#fee,#eff,#fde,#ade,#fde,#fee,#def,#cee,#f55,#fee,#fee,#eff,#bde,#eef,#eef,#f44,#fff,#eef,#fbc,#eff,#79e,#ade,#8ce,#faa,#fde,#7be,#fdd,#cee,#fee,#fff,#9ce,#fff,#fff,#fee,#fde,#fbc,#cef,#fde,#ade,#fee,#68e,#9de,#cee,#bee,#def,#8ce,#fee,#00f,#f78,#def,#9de,#fee,#ade,#def,#fbb,#cee,#fee,#cee,#fef,#ade,#fcd,#fdd,#fdd,#ade,#cef,#fff,#ade,#cef,#9ce,#eff,#fff,#fff,#fff,#fff,#eef,#fee,#fee,#eff,#fab,#def,#bde,#fcd,#fde,#fbc,#fee,#fff,#fee,#fab,#fff,#8ce,#8ce,#eff,#fff,#fdd,#68e,#def,#cef,#eff,#fee,#fee,#fdd,#bde,#fff,#fdd,#fef,#eff,#fbc,#fdd,#fcd,#eff,#fff,#def,#cef,#def,#fcd,#cef,#fbc,#fcc,#fcd,#cee,#eff,#fcd,#f78,#f77,#fee,#fcd,#f9a,#def,#8ce,#fff,#fde,#fdd,#f9a,#bde,#ade,#fab,#cef,#fee,#8ce,#fee,#f9a,#fee,#eef,#fff,#fde,#fcd,#fcc,#7be,#fff,#fee,#56f,#def,#def,#ade,#fff,#fff,#fde,#f77,#fcc,#79e,#eff,#cee,#def,#f9a,#fff,#fef,#fee,#fcc,#fdd,#fff,#fdd,#fcd,#fee,#fff,#cef,#fee,#f66,#fee,#fdd,#fcd,#fee,#ade,#fee,#eef,#fff,#bee,#eff,#fff,#fee,#68e,#fab,#def,#fab,#eef,#fcc,#fee,#eff,#fee,#fee,#eff,#fcd,#8ce,#fee,#fdd,#fdd,#f66,#eff,#eef,#fcc,#9ce,#eff,#f99,#fcd,#fff,#def,#fee,#faa,#fcd,#faa,#fff,#fff,#fff,#f55,#f44,#fdd,#fee,#f55,#f9a,#fdd,#fff,#fcc,#f9a,#fab,#fff,#fcd,#f77,#fbc,#f99,#f78,#fee,#fff,#f89,#fab,#fdd,#f99,#cef,#fee,#f99,#fee,#cef,#f77,#cef,#bee,#fee,#fee,#fbb,#fdd,#cef,#eff,#f33,#fff,#faa,#fbc,#fab,#fcd,#fdd,#fee,#fdd,#00f,#fee,#f99,#fdd,#fdd,#f77,#f77,#f88,#fcd,#fee,#fff,#fcc,#f78,#fcd,#fee,#f89,#f77,#f00,#fcc,#f55,#fdd,#bde,#f00,#fcd,#fbc,#fcd,#bde,#f00,#f00,#fcd,#f78,#fab,#fcd,#fab,#fdd,#faa,#f88,#fcc,#fbb,#bde,#fde,#fdd,#f88,#fff,#fbc,#fcc,#33f,#fbc,#fbc,#fee,#f99,#f9a,#fff,#def)"></div><div class="hr" style="top:2848.25px;background:linear-gradient(90deg,#9ce,#8ce,#8ce,#fcc,#9ce,#cee,#9de,#8ce,#8ce,#bde,#def,#9de,#bde,#f00,#fbb,#eff,#eff,#bde,#eff,#bde,#bde,#fcc,#68e,#def,#8ce,#7ae,#bde,#def,#7be,#8ce,#8be,#ade,#bde,#8ce,#79e,#8ce,#cee,#cee,#33f,#7be,#67e,#ade,#eff,#68e,#cee,#cee,#8ce,#def,#ade,#ade,#9de,#eff,#67e,#7be,#bde,#56f,#fcd,#fee,#7be,#f00,#8ce,#ade,#bde,#fff,#bde,#9ce,#9ce,#cee,#9ce,#ade,#fff,#cef,#def,#eff,#def,#cee,#def,#cee,#bde,#11f,#cef,#faa,#ade,#fff,#eff,#eef,#eff,#9ce,#bde,#7ae,#9ce,#8ce,#9de,#8be,#bde,#ade,#fff,#fff,#8ce,#79e,#79e,#8ce,#def,#9ce,#fff,#cef,#8ce,#fff,#cee,#eef,#def,#def,#ade,#eef,#fdd,#def,#fee,#68e,#cef,#bde,#bde,#fff,#cef,#ade,#def,#8ce,#def,#9de,#ade,#eff,#cee,#def,#7be,#67e,#fff,#fdd,#8be,#def,#fff,#bee,#eef,#cef,#fff,#fee,#ade,#fff,#fff,#ade,#79e,#fee,#def,#def,#eff,#cef,#7be,#ade,#8ce,#56f,#def,#fff,#ade,#8ce,#fff,#fff,#cee,#fff,#fff,#9ce,#bee,#faa,#def,#eff,#fff,#fff,#fff,#fee,#7be,#ade,#fff,#eff,#8ce,#fee,#fff,#cef,#cee,#eff,#eff,#ade,#56f,#ade,#fee,#44f,#eff,#bde,#9de,#fdd,#fdd,#cef,#fef,#fef,#fff,#fff,#fcd,#9ce,#fff,#def,#fcc,#bee,#def,#9de,#fee,#fef,#9de,#cef,#fdd,#cee,#fab,#68e,#eff,#def,#fef,#fff,#eff,#fff,#79e,#fef,#f9a,#ade,#eff,#fbc,#bde,#eff,#cee,#def,#fff,#cef,#eff,#fbc,#def,#def,#fab,#79e,#fff,#fee,#def,#fff,#ade,#eff,#fcd,#9de,#7be,#eff,#fde,#cee,#fff,#def,#ade,#fee,#fff,#f77,#fee,#bde,#cee,#fdd,#fff,#fee,#fcd,#fee,#eff,#fee,#fee,#fcc,#fff,#fee,#cee,#fde,#fdd,#eff,#68e,#fee,#fff,#def,#fff,#cef,#def,#eff,#fee,#67e,#f77,#def,#fff,#fdd,#faa,#eef,#bde,#def,#fee,#fdd,#fde,#fcd,#7be,#fff,#eff,#cef,#fdd,#cee,#fcc,#fee,#def,#fef,#fcd,#fde,#fff,#fff,#bde,#bde,#def,#ade,#faa,#eef,#7be,#eff,#fdd,#fff,#fbc,#fdd,#fff,#fff,#fdd,#def,#eff,#fff,#ade,#fef,#fee,#fcd,#fee,#bde,#cef,#fab,#fde,#fde,#cef,#eef,#faa,#fbc,#fcd,#fee,#fdd,#fcd,#fbc,#cef,#fee,#fee,#fcd,#def,#fcd,#00f,#ade,#fee,#eff,#fdd,#fcc,#eff,#7be,#fde,#cef,#fcd,#bde,#fcc,#8ce,#cef,#fff,#fee,#bde,#cee,#11f,#def,#fff,#eef,#eff,#fee,#fcd,#fff,#fdd,#ade,#fee,#fee,#fbc,#fdd,#fdd,#fcc,#def,#9ce,#fff,#fcd,#fbb,#fdd,#fbc,#f99,#eef,#faa,#fbc,#fcd,#7ae,#eff,#fee,#bee,#ade,#fff,#def,#fff,#fff,#fff,#fee,#fff,#cee,#fff,#bee,#fde,#fff,#fbc,#fcc,#fdd,#eef,#fee,#fff,#fbc,#fdd,#fdd,#def,#eff,#fbc,#fbc,#ade,#bde,#68e,#f22,#8ce,#fee,#cee,#f00,#f11,#fbc,#fab,#cef,#fee,#fcc,#f99,#f99,#bee,#fee,#bee,#fdd,#fcc,#f99,#fee,#ade,#fee,#fff,#fdd,#fee,#def,#fbc,#fcc,#f99,#faa,#fbc,#def,#fee,#f22,#8ce,#cef,#eef,#faa,#fff,#f55,#f88,#fde,#f66,#bde,#fdd,#fbb,#f11,#f9a,#f77,#fcd,#fdd,#def,#fbc,#f11,#fee,#fbc,#fee,#fab,#fab,#fcc,#f99,#f9a,#fff,#fdd,#fdd,#fcc,#fee,#f77,#def,#f11,#f44,#f88,#ade,#fdd,#fcc,#fee,#fee,#fcd,#fee,#f22,#fbc,#def,#fee,#fdd,#f88,#f22,#f55,#f88,#fff,#f77,#fde,#fcc,#def,#fdd,#f11,#f00)"></div><div class="hr" style="top:2869.28px;background:linear-gradient(90deg,#eff,#8ce,#8ce,#ade,#8ce,#8ce,#cee,#8be,#8ce,#7ae,#7ae,#69e,#eff,#fdd,#79e,#9ce,#00f,#55f,#8ce,#def,#fff,#8ce,#bee,#8ce,#cee,#bde,#bde,#8ce,#7ae,#9de,#9de,#cef,#fff,#56f,#8ce,#8ce,#9ce,#ade,#9ce,#7be,#ade,#79e,#9ce,#9de,#11f,#69e,#67e,#fff,#def,#9de,#fcd,#67e,#9de,#8ce,#68e,#ade,#bde,#9de,#bde,#cef,#8ce,#8ce,#8ce,#def,#cee,#cee,#cee,#9ce,#8ce,#bde,#eef,#7be,#bde,#79e,#eff,#eef,#9de,#bde,#f88,#ade,#8ce,#fdd,#cef,#8ce,#ade,#cef,#55f,#cee,#fff,#def,#eff,#8ce,#8ce,#ade,#ade,#eef,#fdd,#8ce,#ade,#fff,#def,#eff,#68e,#fbc,#bde,#fbb,#fff,#fff,#def,#cee,#fff,#9de,#bde,#fee,#7be,#cee,#cef,#eff,#bde,#fdd,#eef,#fbc,#ade,#7ae,#cee,#7ae,#cee,#fff,#bde,#79e,#def,#55f,#bde,#cef,#fff,#eef,#def,#ade,#bde,#8be,#fee,#fee,#ade,#fef,#fbc,#fee,#fff,#fff,#fdd,#bde,#fef,#cef,#8ce,#cef,#fff,#eef,#ade,#cee,#fee,#44f,#00f,#9ce,#9ce,#fff,#7be,#bde,#9de,#fab,#fff,#cef,#cef,#9de,#bde,#eff,#00f,#8ce,#7be,#cee,#def,#fff,#f99,#cee,#bee,#cef,#def,#eff,#8ce,#8be,#cee,#00f,#fee,#cef,#ade,#f99,#fab,#eef,#cee,#def,#bee,#fff,#eff,#def,#fef,#cee,#22f,#fbc,#eff,#8ce,#ade,#fff,#eef,#fee,#fde,#67e,#67e,#eff,#fee,#cee,#eff,#cef,#fdd,#def,#ade,#fcc,#bde,#fff,#7ae,#cef,#fff,#f9a,#bee,#bee,#8ce,#fee,#def,#fee,#eff,#fbc,#fde,#fee,#eef,#fff,#fef,#fbc,#f77,#def,#bde,#fee,#f00,#fee,#bde,#def,#fcd,#fee,#cee,#eef,#eff,#fdd,#ade,#def,#eff,#cee,#fff,#eff,#fbc,#7ae,#fff,#fff,#ade,#fde,#9de,#fff,#69e,#67e,#bde,#fff,#fff,#fee,#fff,#8ce,#fff,#fff,#cef,#def,#cef,#8be,#fee,#fdd,#fde,#fdd,#eff,#fff,#9de,#ade,#cef,#cef,#eff,#fde,#fff,#fcd,#8ce,#cee,#8ce,#fbc,#67e,#8ce,#f9a,#7ae,#ade,#cef,#f99,#fcd,#9de,#8ce,#f89,#eff,#fdd,#9de,#fee,#fde,#fef,#fde,#def,#f9a,#def,#fcd,#7be,#fdd,#fee,#fcd,#11f,#8ce,#def,#eff,#fdd,#cef,#f88,#fee,#fcd,#fee,#f88,#fff,#fde,#f88,#67e,#bde,#fee,#def,#f77,#fbb,#fdd,#fbc,#bee,#def,#fee,#eef,#fcd,#fcc,#67e,#fdd,#fee,#fbc,#fff,#bde,#def,#def,#fff,#fdd,#f55,#f9a,#fee,#fff,#fef,#9ce,#ade,#bde,#fee,#fcc,#fdd,#fcd,#fcc,#def,#def,#fbb,#fcd,#fff,#fff,#faa,#f99,#eef,#fde,#fbc,#eef,#fee,#fee,#fbb,#8ce,#fcd,#fff,#f99,#fee,#fcd,#fde,#fcd,#fee,#eef,#ade,#fee,#fff,#cee,#cef,#def,#fee,#def,#8ce,#fff,#fde,#7ae,#fee,#eff,#def,#fdd,#fdd,#fcc,#fde,#eef,#fcd,#eff,#fab,#fee,#def,#fdd,#fbc,#faa,#ade,#fff,#fcd,#f33,#f88,#fee,#cee,#f55,#fee,#9de,#9de,#fff,#f44,#fbb,#fab,#f33,#fcd,#eff,#fdd,#f55,#fbc,#f22,#fff,#fdd,#fbc,#cef,#eff,#fbc,#fdd,#fef,#9de,#fcd,#cee,#fff,#f9a,#7ae,#f44,#68e,#fff,#8ce,#fab,#bde,#fab,#cee,#fdd,#fab,#fdd,#fcd,#fde,#f00,#f9a,#f66,#fdd,#fee,#fcc,#fff,#f00,#fdd,#f66,#fcd,#f99,#fdd,#f00,#f89,#f66,#faa,#fee,#f66,#fbc,#fcc,#fdd,#eff,#f00,#f00,#fde,#f66,#fcd,#fab,#fbc,#fee,#f88,#fdd,#f33,#fee,#f00,#fbc,#fee,#fcd,#f88,#fab,#fbb,#fff,#f77,#f9a,#fab,#fcc,#fde,#fff,#f67)"></div><div class="hr" style="top:2890.32px;background:linear-gradient(90deg,#bde,#56f,#bde,#bde,#9ce,#9ce,#bde,#22f,#8ce,#bde,#9de,#68e,#eff,#bee,#eff,#def,#fff,#cef,#f00,#9de,#cef,#def,#9ce,#cef,#bde,#ade,#ade,#def,#8be,#56f,#cef,#eef,#ade,#7ae,#eff,#cee,#9de,#cef,#cee,#9ce,#fdd,#cef,#7be,#def,#44f,#8be,#def,#fff,#9de,#fee,#bde,#def,#fef,#eff,#fff,#def,#8ce,#9de,#bde,#eff,#cef,#bde,#9ce,#7be,#eef,#7be,#cef,#ade,#ade,#cef,#cef,#def,#fff,#bde,#7be,#7be,#7ae,#33f,#fbc,#eef,#fcc,#9de,#ade,#eff,#9ce,#bde,#9ce,#def,#67e,#fff,#8ce,#bde,#8be,#def,#7ae,#fff,#8ce,#55f,#fcd,#79e,#fab,#cee,#8be,#def,#fde,#bde,#bde,#bde,#cef,#67e,#cee,#ade,#cee,#fee,#ade,#cef,#fee,#f99,#eef,#fee,#fde,#fee,#eff,#bde,#fab,#ade,#ade,#68e,#bde,#8ce,#fee,#def,#cee,#9de,#22f,#def,#fff,#eef,#bde,#8ce,#fab,#def,#eef,#7ae,#cef,#fdd,#fee,#fde,#ade,#fdd,#fff,#fcc,#9ce,#def,#fff,#fee,#fbc,#fee,#fff,#bee,#fff,#fff,#fee,#eff,#ade,#cef,#ade,#cef,#fee,#fff,#eff,#fee,#eef,#f99,#fff,#fff,#55f,#fff,#def,#cee,#bee,#fee,#eff,#bde,#cee,#8be,#def,#eff,#8ce,#cee,#8ce,#def,#fdd,#cef,#bde,#fff,#fff,#8be,#bde,#fde,#fcd,#fff,#def,#cef,#fee,#fee,#56f,#fff,#fde,#fff,#fff,#fff,#fff,#bee,#cef,#9ce,#fef,#ade,#fab,#f9a,#fff,#cef,#bde,#fff,#56f,#bde,#bde,#fff,#fee,#fde,#cee,#fff,#bee,#7ae,#fde,#fee,#f9a,#fcd,#fdd,#eef,#fbc,#9ce,#fbb,#def,#fde,#fee,#eff,#fff,#fab,#ade,#ade,#eff,#fff,#cee,#f22,#def,#fff,#fef,#fff,#def,#ade,#def,#fff,#eef,#ade,#cee,#fde,#fff,#cee,#fde,#f33,#fcd,#fff,#bee,#ade,#fcc,#fee,#def,#9de,#bde,#fee,#fef,#fdd,#fff,#cee,#def,#cee,#fff,#fee,#fee,#fcd,#fdd,#fee,#fdd,#cee,#cef,#eef,#fee,#fbc,#fee,#faa,#ade,#fee,#ade,#fbc,#f89,#f77,#fee,#def,#fde,#fde,#fee,#bee,#fff,#def,#fee,#fff,#fef,#fee,#eef,#fee,#33f,#fee,#fee,#fee,#fdd,#fff,#eef,#8ce,#fde,#8be,#eff,#fef,#fee,#eff,#fee,#bde,#fdd,#def,#f89,#fee,#eef,#eff,#fab,#fcd,#fbc,#fee,#fff,#9ce,#fff,#fde,#fde,#eff,#def,#bee,#def,#fee,#fee,#eff,#f66,#11f,#eff,#fde,#def,#fdd,#fcc,#fcd,#fbb,#fbc,#fab,#fcd,#f99,#fff,#fee,#fcc,#67e,#fee,#fdd,#fee,#fdd,#fff,#eff,#fcd,#fff,#8ce,#fff,#fbc,#fef,#f00,#fff,#fee,#eff,#fee,#def,#00f,#ade,#fff,#eff,#fff,#faa,#fee,#fcc,#fcd,#fee,#f89,#fee,#fff,#fee,#fff,#fcc,#def,#faa,#fff,#fee,#fee,#fff,#fff,#eff,#cee,#eef,#def,#f9a,#fff,#fcd,#fcd,#69e,#fcc,#fcd,#fbb,#f88,#fee,#fff,#fff,#f33,#def,#f9a,#fee,#f00,#fff,#8ce,#eef,#f66,#f77,#fff,#fdd,#eff,#f89,#f89,#fee,#f99,#eff,#fee,#def,#fff,#eff,#f78,#fde,#8ce,#fbc,#fde,#fdd,#fff,#fee,#fde,#fcd,#fcd,#faa,#fff,#eff,#fcd,#f00,#fcd,#faa,#fee,#fdd,#bee,#def,#cef,#fde,#fdd,#fdd,#fbb,#fdd,#f00,#fdd,#fbc,#f99,#f99,#fcc,#fee,#fee,#fbc,#def,#f88,#faa,#f88,#f00,#fee,#f44,#fde,#faa,#faa,#f99,#faa,#fbc,#fee,#f00,#fab,#faa,#fcc,#fcc,#fee,#fcc,#fee,#f66,#fff,#fcd,#fee,#fcd,#fdd,#fef,#f89,#fdd,#f44,#fcc,#fdd,#fcc,#fbc,#fdd,#f77,#fcc,#f22,#f66)"></div><div class="hr" style="top:2911.35px;background:linear-gradient(90deg,#fee,#fff,#00f,#def,#def,#fff,#68e,#cef,#fde,#def,#8ce,#eff,#bde,#8ce,#ade,#def,#8ce,#fff,#cee,#bde,#bee,#cee,#7ae,#9de,#fab,#79e,#eff,#9ce,#faa,#fff,#ade,#eff,#22f,#ade,#fff,#eff,#fff,#def,#eff,#7ae,#bde,#bde,#bde,#ade,#55f,#79e,#def,#def,#fee,#fef,#fff,#bde,#ade,#fff,#8ce,#fff,#fff,#fdd,#def,#def,#7ae,#8ce,#bde,#fdd,#fff,#9de,#ade,#8ce,#def,#eff,#fff,#fff,#fff,#bde,#fef,#bde,#68e,#eff,#fff,#def,#8be,#00f,#f99,#def,#fee,#fff,#ade,#def,#00f,#fff,#fff,#def,#f00,#def,#cee,#8ce,#f9a,#def,#ade,#fde,#def,#bde,#fff,#fdd,#bde,#fff,#eef,#fee,#bee,#fff,#fff,#00f,#bde,#33f,#fde,#fff,#00f,#fff,#def,#bde,#bde,#cef,#fff,#7be,#cef,#ade,#fee,#cee,#cef,#8ce,#def,#eff,#f00,#fef,#faa,#def,#ade,#69e,#def,#9de,#fdd,#fee,#fff,#8ce,#fff,#ade,#fdd,#eff,#ade,#cef,#eff,#fcc,#fff,#fee,#cef,#fee,#eef,#eff,#fdd,#8ce,#fee,#bde,#def,#fdd,#fff,#ade,#def,#def,#fdd,#8ce,#00f,#fff,#fcd,#fcd,#faa,#fcd,#cee,#fde,#fee,#fee,#fee,#fee,#fcd,#cee,#ade,#cee,#fee,#f77,#9ce,#fdd,#fde,#fcd,#fff,#f00,#cee,#fff,#eff,#fcc,#fee,#fff,#fff,#fee,#fee,#fbc,#def,#fee,#cee,#eef,#fdd,#fef,#56f,#fdd,#fdd,#fdd,#bde,#fff,#fff,#8ce,#fee,#8ce,#fdd,#eff,#fff,#fee,#fee,#fdd,#fee,#bde,#fef,#f99,#fff,#fee,#fde,#fee,#f22,#faa,#fee,#fde,#fee,#cef,#8ce,#fef,#def,#def,#fdd,#fff,#eef,#9de,#fee,#f88,#eff,#fdd,#ade,#fee,#fff,#fee,#fbb,#f77,#fee,#fff,#fdd,#cee,#fff,#bde,#eef,#bde,#fee,#fde,#eff,#fef,#def,#8ce,#9ce,#fff,#ade,#fcc,#ade,#def,#fbc,#fee,#9de,#fdd,#fee,#cef,#fff,#fee,#fbc,#fee,#fcc,#def,#55f,#fff,#fee,#fbb,#bde,#fff,#fff,#fdd,#fde,#eff,#fff,#bde,#fde,#8ce,#fdd,#bde,#fcc,#def,#cef,#fff,#fff,#fbc,#def,#fdd,#fee,#fee,#fde,#fee,#fee,#fdd,#fdd,#fff,#bde,#8be,#eef,#fab,#bee,#fcd,#fde,#fff,#bde,#fff,#fdd,#fde,#68e,#fde,#fcd,#fee,#ade,#fdd,#fee,#fcc,#fef,#bde,#bde,#fbc,#fee,#eff,#fdd,#fbc,#fee,#fdd,#fcc,#55f,#fff,#faa,#fde,#fdd,#fdd,#fcd,#9ce,#def,#eff,#fee,#cee,#fdd,#fdd,#fde,#fdd,#faa,#fbb,#fcc,#fcd,#fdd,#fcd,#ade,#fee,#fcc,#fcc,#fcc,#fee,#fff,#fef,#fcd,#fee,#def,#fab,#fcd,#f44,#fdd,#fbc,#f77,#fff,#fcc,#f99,#fab,#eff,#def,#7ae,#f99,#fff,#7ae,#fee,#fcd,#fdd,#f88,#fee,#fcd,#7be,#fab,#fff,#fee,#f88,#fee,#fdd,#79e,#bee,#ade,#fee,#fcd,#fcd,#f66,#f99,#fde,#ade,#fcd,#fdd,#bde,#fee,#bde,#8ce,#fff,#fee,#fcc,#8ce,#00f,#cef,#f55,#fcc,#fdd,#fee,#fab,#fee,#fdd,#def,#cee,#fee,#fbb,#fee,#fcd,#fcd,#fee,#fdd,#fcc,#bde,#f88,#faa,#fde,#faa,#fab,#fee,#fee,#fef,#8be,#fab,#fee,#ade,#fff,#def,#f99,#f55,#eff,#fdd,#fcc,#fde,#fee,#fee,#9de,#fde,#f22,#fee,#fbc,#cee,#fbc,#fbc,#f77,#f66,#fdd,#fcd,#8ce,#f00,#fdd,#f55,#fbb,#fcc,#fcc,#f00,#fee,#fab,#fcd,#fbc,#fcd,#fbb,#f78,#fcd,#eff,#f00,#f00,#fab,#fdd,#fee,#f88,#eff,#fcd,#f9a,#fcd,#f00,#fee,#fcc,#f78,#fbc,#fcc,#faa,#fbb,#fab,#ade,#fee,#faa,#fee,#fcc,#fde,#f99,#fee)"></div><div class="hr" style="top:2932.38px;background:linear-gradient(90deg,#def,#79e,#7be,#ade,#68e,#fee,#eff,#cee,#bde,#7ae,#fff,#def,#cef,#79e,#bde,#bde,#ade,#8ce,#8ce,#def,#def,#bde,#bde,#7ae,#eff,#fde,#7be,#fef,#8be,#fee,#7be,#eef,#def,#eef,#bde,#7be,#00f,#ade,#def,#ade,#bde,#7be,#56f,#def,#33f,#8ce,#11f,#ade,#8ce,#fff,#fde,#def,#eff,#8ce,#cee,#eff,#bde,#fee,#bde,#7be,#44f,#cef,#cef,#7ae,#cee,#eef,#def,#eef,#9de,#def,#fdd,#bde,#bde,#cef,#9de,#ade,#8ce,#fff,#fef,#fff,#7be,#fcd,#7ae,#8ce,#8be,#9de,#fde,#7ae,#00f,#55f,#cee,#def,#8ce,#7ae,#cee,#def,#bde,#def,#bde,#8ce,#bde,#f9a,#cef,#eff,#bde,#fde,#9de,#fff,#7be,#fee,#9de,#ade,#bee,#cee,#9de,#68e,#fee,#cef,#eff,#fde,#eff,#ade,#ade,#ade,#def,#fee,#fef,#eff,#9ce,#9de,#fff,#fcd,#def,#eff,#68e,#fdd,#fdd,#bde,#cef,#bee,#fee,#eff,#bee,#def,#fee,#68e,#fee,#faa,#fef,#cee,#bee,#fdd,#8ce,#bde,#eff,#fff,#def,#fef,#fde,#7be,#fff,#def,#ade,#fee,#fee,#bde,#bde,#fff,#cee,#cef,#cef,#fcd,#fff,#fbb,#fee,#9de,#fee,#fee,#def,#def,#cef,#fdd,#cee,#eff,#00f,#fff,#9de,#fee,#8ce,#fef,#f9a,#cef,#fee,#fef,#fde,#8be,#8be,#cef,#fff,#fcd,#cef,#cee,#fff,#fdd,#f55,#cef,#7ae,#def,#7be,#fdd,#eff,#fee,#fff,#fee,#fdd,#fee,#f99,#fff,#bde,#fee,#def,#eff,#67e,#eef,#def,#fff,#cee,#f9a,#fef,#eff,#fdd,#eff,#fff,#eef,#fde,#cee,#fdd,#fdd,#def,#eff,#fbc,#8ce,#eff,#fcd,#f00,#eef,#fff,#def,#fee,#fff,#def,#cee,#def,#68e,#def,#fff,#faa,#fff,#fbb,#fde,#fef,#cef,#ade,#fee,#fee,#fee,#fee,#fff,#44f,#fdd,#ade,#f89,#bde,#33f,#def,#cee,#fee,#fab,#fdd,#cef,#bde,#fdd,#fcc,#fee,#def,#def,#f9a,#f77,#fff,#fcd,#cef,#fbc,#fff,#f99,#fff,#bde,#fff,#fee,#fcc,#8ce,#cef,#cee,#fcc,#eef,#fde,#fff,#8ce,#fff,#fff,#cee,#fdd,#f88,#9ce,#def,#fbb,#fcd,#def,#bde,#fcc,#fde,#fde,#fee,#fee,#ade,#cee,#fdd,#fee,#fdd,#fee,#fff,#fee,#eff,#fdd,#f99,#eff,#fee,#fff,#cef,#eff,#bee,#fff,#fbc,#fbc,#fdd,#fff,#ade,#fee,#fee,#f99,#f66,#fee,#fbc,#fdd,#fff,#f9a,#eff,#fcd,#fee,#22f,#fef,#eff,#bde,#bee,#bde,#def,#fcc,#fef,#eff,#fff,#fdd,#def,#fbc,#eff,#8ce,#8be,#f00,#fff,#fee,#f66,#fcd,#cee,#eef,#fef,#fff,#fdd,#fee,#def,#fff,#f66,#fff,#fee,#fee,#eef,#8ce,#fff,#fcc,#eff,#fff,#fcd,#faa,#fff,#fdd,#fcc,#fee,#faa,#f77,#fff,#fff,#fcc,#f33,#bde,#fab,#fff,#fcd,#fbc,#fff,#9de,#fee,#bde,#fcc,#def,#faa,#fbc,#f00,#fef,#fdd,#fbb,#fde,#def,#fcc,#fef,#bde,#fee,#f66,#fff,#cee,#fcd,#f00,#fbb,#fcd,#fef,#f00,#faa,#f77,#bde,#fff,#def,#fcc,#fde,#fff,#f00,#fdd,#ade,#bde,#f00,#f88,#22f,#fee,#f88,#f00,#fbc,#fcd,#fbc,#fbb,#f66,#fee,#fcd,#fee,#fff,#fbc,#f00,#fee,#fab,#fdd,#fdd,#fde,#f55,#fbc,#fcc,#faa,#00f,#fbc,#fee,#f77,#f66,#f22,#fde,#fde,#fde,#f99,#f00,#fbc,#eef,#f99,#f44,#fcc,#f00,#f77,#fbc,#fff,#f89,#f11,#f55,#f77,#fab,#fff,#f00,#f00,#fbc,#f99,#f9a,#f88,#fdd,#f88,#f77,#fee,#f11,#eff,#f44,#fee,#f66,#f88,#fab,#fbb,#f89,#f77,#f00,#f99,#f77,#f44,#fee,#9de,#f22)"></div><div class="hr" style="top:2953.42px;background:linear-gradient(90deg,#bde,#ade,#8ce,#8ce,#9de,#def,#eff,#9de,#fee,#bee,#cee,#ade,#9de,#fff,#def,#ade,#bde,#cee,#fff,#fff,#cee,#eff,#bde,#79e,#79e,#eff,#7ae,#bde,#9de,#bde,#fee,#7be,#eff,#cee,#00f,#cee,#67e,#fff,#f22,#cee,#9de,#cef,#9de,#def,#56e,#bde,#eff,#ade,#ade,#cee,#fcd,#eff,#cee,#bde,#cee,#fff,#9de,#fff,#def,#ade,#ade,#ade,#fff,#eff,#9ce,#eef,#8be,#fff,#55f,#def,#fcd,#44f,#7be,#7ae,#fee,#bde,#cef,#ade,#7be,#bee,#ade,#fde,#cee,#def,#ade,#def,#fff,#fff,#fcd,#fff,#eef,#ade,#bde,#ade,#eff,#7be,#ade,#fee,#9ce,#fff,#fff,#00f,#8be,#bde,#eff,#eff,#9de,#fcd,#79e,#fff,#def,#eff,#def,#cee,#fff,#eff,#fee,#def,#eff,#fff,#fff,#eff,#fde,#fee,#fcd,#7be,#00f,#eef,#7be,#00f,#def,#eff,#def,#cee,#cef,#ade,#bde,#fee,#7be,#7be,#fff,#bde,#69e,#9de,#fee,#fde,#ade,#fcc,#ade,#fff,#fcc,#fff,#bde,#fff,#bde,#cef,#cef,#cef,#9de,#69e,#fee,#def,#fff,#def,#eef,#fff,#bde,#cee,#cef,#cee,#bde,#fff,#22f,#ade,#ade,#9ce,#8ce,#cee,#cef,#fee,#fee,#def,#fff,#fee,#cee,#fcd,#fdd,#fff,#fee,#ade,#bde,#def,#cef,#67e,#9de,#fff,#8ce,#eff,#def,#fee,#fff,#fee,#8ce,#fef,#fff,#fee,#eff,#ade,#fde,#fff,#def,#faa,#def,#fdd,#bee,#8be,#fee,#bde,#bde,#cef,#fee,#fbc,#9de,#fbc,#fff,#eff,#fde,#8ce,#cef,#fff,#9de,#bee,#def,#fff,#44f,#9de,#fff,#fee,#eff,#22f,#def,#fee,#fde,#fee,#eff,#fee,#fee,#eff,#fff,#def,#fff,#cef,#79e,#56f,#eff,#cef,#fee,#eff,#cef,#fff,#eef,#79e,#fff,#8ce,#bde,#fff,#def,#bde,#fff,#fef,#fff,#fdd,#eff,#fbb,#fee,#fcd,#eff,#fef,#fee,#def,#f88,#fde,#cee,#fee,#fee,#ade,#fdd,#fee,#def,#fcc,#9de,#def,#cef,#fff,#fdd,#ade,#fee,#eff,#fdd,#fff,#8ce,#fff,#fff,#fff,#f66,#eef,#fcc,#fde,#eff,#fee,#fde,#fff,#fcc,#fdd,#fde,#f88,#def,#bde,#fcd,#eff,#fee,#fef,#fff,#bee,#fff,#fcc,#cef,#fdd,#fff,#fdd,#bde,#7ae,#fee,#9ce,#fdd,#fee,#cee,#fab,#faa,#fff,#f66,#def,#ade,#cef,#cef,#fde,#fcd,#9de,#fde,#fff,#fef,#fff,#eff,#fee,#fab,#fff,#fcc,#fde,#fee,#fff,#f99,#fee,#fff,#eef,#8ce,#f77,#fff,#f44,#fff,#fbc,#eff,#f77,#fee,#ade,#eff,#fcc,#ade,#fcd,#fee,#fde,#eff,#fee,#fcd,#fcd,#f88,#fff,#fdd,#eef,#fee,#def,#fff,#fcc,#fdd,#eff,#fff,#fff,#cef,#ade,#def,#f89,#fbb,#f77,#9de,#fdd,#fcc,#fcc,#22f,#fff,#fee,#fee,#9ce,#fff,#fee,#fee,#fcc,#eff,#fee,#f99,#fee,#def,#fde,#fee,#fbc,#fde,#fff,#def,#69e,#faa,#fee,#fbb,#eef,#eff,#fbc,#def,#eff,#8ce,#fef,#f22,#fcd,#fcd,#def,#f55,#f33,#fde,#eef,#f99,#fdd,#fab,#fde,#fbc,#fcd,#fde,#fdd,#fab,#68e,#fab,#9de,#ade,#bee,#fee,#fdd,#fcc,#fff,#fee,#fff,#fee,#bee,#fdd,#fee,#def,#f00,#fde,#fbc,#fdd,#fcd,#fdd,#def,#fee,#fee,#eef,#fcd,#fff,#ade,#fcd,#fdd,#fab,#f11,#fcc,#79e,#f99,#f00,#f22,#fee,#fde,#fab,#fcd,#f00,#fbb,#fdd,#fdd,#fcc,#fdd,#fcc,#fab,#fcc,#fef,#f00,#f00,#fee,#fcc,#cee,#fee,#def,#fcd,#f78,#fee,#f00,#f33,#fab,#fdd,#fff,#fdd,#fdd,#f66,#f44,#ade,#eff,#fbc,#f55,#f88,#fde,#fdd,#fab)"></div><div class="hr" style="top:2974.45px;background:linear-gradient(90deg,#eff,#7ae,#9de,#cee,#fef,#fee,#fee,#eff,#bee,#def,#8be,#68e,#bde,#7be,#11f,#fef,#fbb,#bde,#eff,#cef,#bde,#fee,#eff,#bee,#fbc,#68e,#fde,#f77,#00f,#def,#bde,#def,#bde,#bde,#ade,#cef,#bde,#fde,#fcc,#bde,#fde,#fef,#fee,#def,#33f,#bde,#cee,#bee,#def,#cee,#7be,#8ce,#8ce,#00f,#cee,#def,#67e,#fff,#8ce,#def,#8be,#cef,#cee,#fff,#eef,#7ae,#def,#eff,#fcc,#bde,#def,#bde,#fff,#eff,#bde,#bde,#bde,#bde,#f77,#fff,#def,#fde,#bde,#fff,#fff,#eff,#fff,#cee,#8ce,#def,#bee,#bde,#eff,#9de,#fab,#68e,#fee,#eff,#9de,#fee,#f66,#fff,#eef,#bee,#bee,#fee,#ade,#eff,#44f,#def,#fcd,#fee,#67e,#fff,#cef,#faa,#fdd,#68e,#fee,#8ce,#bde,#fff,#def,#fff,#fee,#ade,#fee,#fab,#fff,#8ce,#eff,#cef,#def,#fbc,#eff,#fdd,#fff,#fff,#ade,#eef,#fdd,#bde,#ade,#bde,#fee,#79e,#fff,#def,#eff,#fcc,#fde,#ade,#cef,#fdd,#7ae,#fff,#fff,#fff,#00f,#fff,#fff,#fff,#fff,#fff,#fdd,#fde,#f88,#ade,#f9a,#fab,#eff,#fde,#cef,#55f,#eef,#8be,#8be,#cef,#fdd,#fee,#bde,#eff,#cef,#fbc,#69e,#fbb,#fdd,#fcd,#bde,#bde,#fff,#cef,#ade,#eff,#cee,#fdd,#fbc,#fff,#fee,#cef,#def,#fde,#f77,#def,#def,#fcc,#fdd,#eef,#cef,#8ce,#fbc,#ade,#fee,#fee,#eef,#def,#fef,#eff,#bde,#eef,#fee,#68e,#fff,#fde,#fff,#cee,#def,#fff,#fde,#fef,#def,#fff,#8be,#fff,#fff,#ade,#fef,#f88,#fcc,#fee,#cef,#def,#eff,#fdd,#fcd,#eff,#fff,#fff,#fee,#fff,#fbc,#fee,#def,#33f,#ade,#fee,#fdd,#eef,#fff,#fdd,#8ce,#def,#eff,#def,#fee,#fdd,#def,#fff,#7ae,#fee,#def,#fde,#7be,#f88,#bde,#eff,#fee,#fff,#fcd,#fff,#fee,#fff,#fde,#fff,#fdd,#eef,#9de,#fff,#faa,#eef,#cef,#fde,#fcd,#8be,#f66,#eff,#00f,#fee,#fcd,#fff,#00f,#eff,#fee,#def,#fee,#def,#eff,#fdd,#bee,#fee,#fbc,#fee,#fdd,#bde,#fcd,#fee,#fdd,#f88,#fbc,#f99,#cef,#fee,#fff,#fff,#fff,#fff,#fff,#fee,#def,#fcc,#fee,#cef,#fee,#fdd,#ade,#f66,#fbc,#fff,#fee,#faa,#ade,#fde,#fbb,#fee,#bee,#eff,#fee,#f88,#def,#eef,#fcc,#fdd,#ade,#eff,#fcd,#fcc,#fbc,#fee,#fee,#fde,#f55,#f77,#67e,#fde,#7ae,#fbc,#eef,#eff,#fff,#fdd,#def,#fff,#fef,#fdd,#f11,#fbc,#fef,#33f,#f77,#bde,#fff,#fff,#fcc,#fff,#fee,#fee,#fee,#fbc,#f78,#ade,#fee,#fee,#eff,#fdd,#cef,#fdd,#fee,#fde,#fff,#f88,#def,#f99,#bee,#def,#fdd,#fcd,#fee,#fee,#fcd,#fdd,#faa,#fbc,#cee,#fee,#fdd,#fcd,#eff,#fdd,#bde,#fff,#fcc,#fee,#fff,#f88,#f77,#fdd,#f9a,#fdd,#f00,#bde,#79e,#fee,#fee,#fbb,#fdd,#fff,#ade,#f88,#fff,#fff,#eef,#eff,#f66,#fde,#eff,#fee,#fcc,#fcd,#fee,#f99,#fcd,#fdd,#def,#eff,#68e,#f88,#bde,#68e,#f00,#faa,#f00,#fcc,#fdd,#fbc,#fee,#fcc,#f11,#9de,#fff,#fde,#f00,#fff,#f00,#faa,#f99,#eff,#eef,#fdd,#fcd,#f00,#fdd,#f9a,#fcc,#f00,#f66,#fee,#f66,#fde,#7ae,#fcc,#f33,#f9a,#fee,#fde,#fcd,#bde,#f33,#f9a,#f66,#fbc,#fdd,#f33,#fcd,#fdd,#fef,#cee,#f00,#f11,#faa,#f67,#fcd,#fff,#9ce,#fcc,#fde,#fff,#fee,#fdd,#f88,#fcd,#f89,#fcd,#fcc,#f88,#fdd,#bee,#f9a,#fbc,#f77,#fcc,#fbb,#f00,#f55)"></div><div class="hr" style="top:2995.49px;background:linear-gradient(90deg,#eff,#9de,#8ce,#cef,#9de,#eef,#ade,#eef,#ade,#79e,#8ce,#cef,#fde,#56f,#fff,#bde,#00f,#cee,#9de,#ade,#eff,#ade,#cef,#eff,#fff,#bde,#ade,#cee,#def,#68e,#67e,#ade,#ade,#eff,#7be,#cee,#bde,#cee,#fee,#8ce,#ade,#68e,#bde,#def,#eef,#fdd,#9de,#fcc,#cee,#def,#fff,#eff,#8ce,#ade,#fee,#fee,#eff,#9de,#eff,#55f,#9de,#7ae,#eff,#fde,#7be,#f88,#33f,#fff,#8ce,#def,#fee,#ade,#7be,#9de,#9de,#eff,#fee,#9de,#eff,#def,#eff,#fef,#7ae,#fff,#fef,#cef,#ade,#def,#8ce,#fff,#def,#fdd,#eff,#bde,#ade,#def,#fef,#fff,#7ae,#7be,#ade,#fdd,#def,#fff,#ade,#fff,#68e,#fdd,#fef,#fee,#bde,#bee,#fff,#fff,#cee,#9de,#ade,#8ce,#fee,#fcc,#9de,#fff,#bee,#def,#fff,#fdd,#def,#8ce,#cef,#8ce,#def,#fff,#def,#fcd,#cef,#fee,#def,#ade,#fff,#def,#fdd,#fee,#7be,#9ce,#fcd,#fff,#fef,#fff,#eef,#ade,#fbb,#fff,#ade,#ade,#cee,#68e,#eff,#def,#cee,#cee,#fff,#def,#fbb,#def,#fde,#eff,#fff,#eff,#fdd,#ade,#fdd,#fee,#def,#fdd,#bde,#def,#fff,#fff,#fde,#fff,#fdd,#faa,#fdd,#fde,#def,#fee,#def,#bde,#eff,#cef,#f77,#bde,#fdd,#fcc,#fff,#fee,#ade,#eef,#fff,#def,#fff,#fee,#fde,#cef,#fde,#fee,#fee,#9de,#fde,#79e,#f77,#fee,#fcd,#fde,#9ce,#fee,#9de,#eff,#7ae,#fef,#eff,#fdd,#fbb,#fff,#ade,#def,#fbc,#def,#def,#eef,#fee,#ade,#def,#fff,#fdd,#fbc,#fdd,#fcc,#fcd,#fff,#eef,#fee,#f11,#fee,#fcc,#fee,#fff,#f77,#fbc,#fdd,#fee,#fff,#fbc,#fee,#68e,#8ce,#7be,#fee,#f77,#cee,#fee,#def,#22f,#f78,#fee,#fee,#ade,#fdd,#eff,#fff,#fff,#fee,#fbb,#fee,#fcd,#eff,#ade,#eff,#cee,#ade,#fee,#fff,#fde,#fde,#bee,#fde,#fbb,#f99,#fdd,#fcc,#fff,#fee,#fde,#fdd,#fcd,#fee,#f33,#f9a,#f88,#fff,#fee,#fde,#fee,#fde,#fff,#fbb,#fee,#fee,#fee,#fde,#fcd,#fbc,#fde,#fdd,#fdd,#f67,#fcd,#8ce,#f9a,#fdd,#cee,#8ce,#fde,#cef,#fef,#fab,#cee,#fbc,#eff,#fee,#def,#fee,#fdd,#f66,#fff,#fcc,#fab,#fbc,#eff,#f00,#def,#fcc,#fbb,#eff,#fdd,#fde,#f77,#fdd,#fee,#fdd,#fee,#fee,#fee,#9de,#fbb,#fee,#fee,#fcd,#fdd,#fee,#eef,#fde,#fee,#bde,#eff,#fff,#fbc,#f88,#fff,#fbc,#faa,#fee,#fff,#fee,#fbb,#fff,#def,#fff,#fcc,#fde,#fde,#fbb,#fdd,#fbc,#fcc,#fab,#fdd,#fbb,#fde,#fdd,#f99,#fee,#def,#fcd,#fcc,#fee,#fee,#fee,#fdd,#f44,#fee,#faa,#fff,#fcc,#fdd,#fcc,#f33,#cee,#f77,#f88,#fbc,#fcc,#f00,#fdd,#f89,#ade,#fcc,#fdd,#fff,#fff,#eff,#f9a,#fcd,#ade,#fbb,#f77,#fee,#fcc,#faa,#fcc,#fee,#ade,#fcc,#f66,#eff,#fee,#fee,#f44,#fbc,#7ae,#def,#f22,#f22,#fde,#fee,#bde,#fdd,#fde,#eff,#fdd,#fbc,#fde,#79e,#fcc,#f00,#fbc,#fbc,#f77,#f55,#fde,#fff,#f99,#cef,#fee,#f99,#f55,#f66,#fee,#f88,#fdd,#f00,#def,#f33,#f78,#fee,#fef,#f9a,#7ae,#eff,#f33,#fab,#8ce,#f9a,#f00,#faa,#faa,#f44,#fee,#f11,#fcc,#fcd,#fab,#f88,#fbb,#f99,#fcc,#fde,#f77,#f55,#fee,#f99,#f00,#f00,#f77,#fcd,#fff,#f88,#f00,#55f,#fde,#f00,#f78,#fef,#fbb,#f88,#fde,#f11,#9de,#f11,#f99,#fee,#f88,#fef,#fbc,#f77,#fab,#f22,#f00,#f11,#f99,#fcd,#f11,#fcc)"></div><div class="hr" style="top:3016.52px;background:linear-gradient(90deg,#cee,#ade,#eef,#67e,#def,#67e,#ade,#bee,#eff,#9ce,#68e,#44f,#def,#68e,#def,#eef,#ade,#79e,#eef,#9de,#ade,#8ce,#def,#bde,#bde,#ade,#8ce,#fff,#9de,#fff,#ade,#ade,#def,#bde,#ade,#8be,#fff,#cef,#fff,#9de,#cee,#fee,#def,#8ce,#33f,#cee,#8ce,#69e,#def,#bde,#cef,#bde,#9de,#def,#7ae,#ade,#8ce,#fef,#def,#79e,#8ce,#7be,#cee,#56f,#cef,#cee,#cee,#fee,#8ce,#eff,#9ce,#eef,#ade,#bde,#7be,#eef,#cef,#ade,#eff,#def,#ade,#cef,#cef,#def,#cef,#bde,#ade,#fee,#ade,#eff,#8ce,#ade,#9de,#9ce,#8ce,#7be,#def,#cef,#ade,#ade,#8ce,#eff,#9de,#fff,#9ce,#fcd,#ade,#bde,#eff,#ade,#fee,#def,#9de,#fff,#fdd,#fcd,#fee,#def,#bde,#fff,#ade,#def,#bde,#def,#ade,#ade,#fde,#fff,#fdd,#cee,#fcc,#9de,#bde,#57e,#def,#fff,#cee,#9ce,#def,#9ce,#fdd,#fcc,#68e,#9de,#00f,#eff,#fdd,#fdd,#def,#def,#fee,#eef,#cef,#cee,#ade,#cef,#cef,#fff,#7ae,#def,#fff,#9de,#fee,#cee,#eff,#cee,#bee,#def,#fee,#fee,#f00,#bde,#cef,#ade,#ade,#8ce,#9de,#fde,#f88,#fee,#fff,#7be,#eff,#67e,#fee,#def,#ade,#eff,#9de,#8ce,#fff,#def,#fff,#fcd,#9ce,#8ce,#9de,#8ce,#67e,#def,#eff,#fff,#fff,#fff,#fcd,#9de,#fee,#fef,#8ce,#fdd,#67e,#def,#fff,#ade,#fee,#fff,#bde,#cee,#00f,#def,#def,#bde,#ade,#fcd,#79e,#def,#cef,#fee,#bde,#fbc,#fff,#7ae,#ade,#cef,#67e,#eff,#f00,#fbc,#fdd,#33f,#eff,#cef,#fee,#fdd,#fff,#eef,#fee,#fff,#fde,#f77,#fcc,#fff,#cef,#fff,#fff,#fee,#eef,#cee,#9de,#f11,#eff,#ade,#cef,#def,#fcd,#fee,#fde,#fff,#fee,#fee,#fee,#fcd,#fdd,#eff,#9de,#eff,#fcc,#eff,#fee,#bde,#fff,#fee,#fcd,#fde,#fff,#eff,#fdd,#fde,#f66,#fbb,#fff,#fbc,#def,#fee,#eef,#fff,#fff,#cef,#f55,#bde,#9ce,#bde,#bee,#f11,#f22,#faa,#fcd,#fff,#fee,#f99,#cee,#faa,#fff,#fff,#fdd,#fff,#f99,#def,#fdd,#fcc,#9de,#def,#fff,#eef,#bde,#fdd,#cee,#fcd,#fee,#f99,#fff,#cee,#7be,#f9a,#def,#fdd,#fdd,#faa,#fee,#eff,#fff,#fff,#fff,#fdd,#def,#eff,#fcd,#fcc,#faa,#fee,#fab,#fcd,#f66,#fee,#fcd,#fcc,#fcd,#faa,#bde,#fcc,#67e,#fee,#fef,#fff,#7ae,#faa,#fdd,#fcc,#fff,#fcd,#fee,#fbb,#fbc,#fcd,#fff,#f9a,#fff,#cee,#bde,#eff,#fde,#fff,#eff,#7be,#eff,#7ae,#fee,#f66,#f77,#fff,#fbb,#eff,#fab,#fee,#fde,#f99,#fff,#fff,#fee,#f22,#fee,#fab,#8be,#fcd,#fbb,#fcd,#fbb,#fee,#fcc,#fdd,#fef,#fab,#fde,#cef,#fff,#fee,#fcd,#fdd,#f9a,#fcd,#fee,#f89,#fbc,#f66,#fdd,#fdd,#fee,#faa,#fab,#fee,#fee,#fbc,#fdd,#fee,#def,#def,#fff,#f00,#fcc,#fcd,#fff,#f55,#f67,#fcd,#f77,#cee,#fee,#f00,#9de,#f89,#fcd,#fbc,#cee,#def,#fef,#fcc,#9de,#fab,#fcc,#fff,#fbc,#fcd,#eff,#fee,#faa,#fbc,#f9a,#fee,#fab,#fde,#fee,#cef,#def,#faa,#fab,#fee,#fab,#fee,#8ce,#f11,#f99,#fbc,#fff,#f00,#fcd,#f89,#f00,#fee,#fee,#fee,#f00,#00f,#faa,#bde,#fcc,#fde,#fbb,#f99,#fbc,#7be,#fcd,#f22,#fcc,#fbc,#fbb,#fff,#f00,#fdd,#f55,#f88,#fdd,#f78,#fdd,#fbc,#f00,#fab,#f55,#fff,#f99,#f77,#fdd,#fdd,#fcc,#fab,#f99,#fdd,#f88,#f55,#f77,#f44,#fab,#f55,#f88)"></div><div class="hr" style="top:3037.55px;background:linear-gradient(90deg,#ade,#cef,#cee,#9ce,#8ce,#67e,#eff,#44f,#fff,#ade,#7ae,#7ae,#9de,#9de,#8ce,#bde,#7be,#fff,#bde,#ade,#bde,#69e,#fff,#8be,#8ce,#ade,#8ce,#def,#def,#44f,#eff,#9ce,#9de,#7ae,#9de,#8be,#eff,#ade,#fff,#eff,#7ae,#9de,#fff,#bde,#33f,#fee,#79e,#ade,#bde,#ade,#55f,#ade,#ade,#bde,#def,#def,#cef,#fee,#fef,#bde,#9de,#cef,#fde,#fee,#fdd,#cee,#67e,#ade,#cee,#8be,#cee,#8ce,#bde,#cef,#fff,#cee,#8ce,#69e,#ade,#ade,#8ce,#bde,#44f,#def,#bde,#ade,#bee,#9ce,#fee,#9ce,#7ae,#cef,#33f,#8ce,#fee,#fcd,#def,#7ae,#def,#ade,#bde,#fff,#ade,#9ce,#bde,#fcd,#ade,#def,#eff,#9de,#9de,#79e,#8ce,#fee,#def,#fff,#9de,#fdd,#fff,#fee,#fff,#f00,#eef,#f22,#def,#bde,#def,#fee,#fdd,#ade,#7ae,#fee,#bde,#ade,#9de,#fde,#bde,#eff,#8ce,#56f,#eff,#9de,#8ce,#ade,#eef,#f99,#fdd,#eef,#ade,#fdd,#fff,#7ae,#9de,#fee,#fff,#ade,#68e,#def,#fdd,#cee,#ade,#fee,#7ae,#def,#def,#9ce,#9de,#9de,#eff,#eff,#cee,#eef,#7ae,#f88,#fee,#fdd,#bde,#eff,#f00,#cef,#eff,#33f,#eff,#fff,#cef,#def,#9de,#eef,#fef,#fee,#eff,#def,#def,#fdd,#ade,#fcd,#fee,#fff,#fee,#fcd,#9de,#def,#fcc,#68e,#fee,#8ce,#cee,#fff,#def,#cef,#fee,#bde,#fee,#fef,#cee,#69e,#fdd,#eff,#7ae,#fee,#f66,#fee,#fff,#fee,#7be,#def,#fee,#cef,#fff,#fee,#fff,#bee,#9de,#fdd,#fbc,#fcd,#8ce,#fcd,#fde,#cef,#8ce,#fff,#def,#f66,#fdd,#fee,#eff,#fcc,#fee,#fee,#fdd,#f22,#fee,#fef,#8ce,#9de,#fdd,#fde,#fee,#fdd,#fee,#ade,#fee,#7be,#fff,#fee,#fcd,#eff,#fdd,#8be,#8ce,#fdd,#fee,#fee,#def,#bde,#fff,#fff,#fff,#eef,#fee,#fff,#8ce,#def,#fee,#8ce,#f44,#def,#fee,#fff,#fff,#fcc,#f55,#f55,#44f,#7be,#9de,#fee,#fcc,#fbb,#bde,#def,#9de,#fee,#9ce,#fee,#faa,#fff,#f77,#fbb,#f00,#22f,#fef,#fff,#fee,#fef,#fff,#fee,#fcc,#fff,#8ce,#faa,#def,#fee,#fef,#fcd,#cee,#fff,#fee,#def,#fff,#fee,#fcc,#fcd,#cef,#fee,#fcd,#fcc,#fee,#fcc,#def,#fdd,#fdd,#fcd,#cef,#fee,#8ce,#fee,#7ae,#def,#fff,#fdd,#fff,#eef,#fbb,#fde,#fdd,#fbc,#eff,#fee,#fdd,#fee,#eef,#bee,#ade,#cee,#fdd,#fdd,#fdd,#fbb,#def,#eff,#fff,#fbc,#def,#fee,#fff,#fde,#fee,#fcc,#fff,#68e,#fbc,#fff,#fff,#fdd,#eef,#fcc,#f22,#fde,#fbb,#fff,#fee,#fff,#fdd,#fde,#fbc,#fcd,#fdd,#fdd,#fee,#fdd,#eff,#fee,#eff,#fdd,#fde,#fcc,#fcd,#55f,#eff,#fab,#fbb,#eff,#8be,#f00,#fdd,#fde,#cef,#fdd,#8ce,#f88,#f00,#fde,#fff,#fdd,#f9a,#fde,#f77,#fff,#cee,#8be,#fee,#fab,#cee,#fff,#fee,#f77,#fff,#fde,#44f,#fee,#f33,#fee,#cee,#fbc,#fab,#f99,#fcc,#f77,#fde,#fee,#79e,#fee,#eef,#fab,#cef,#fee,#f66,#fbc,#fcc,#fff,#fdd,#fab,#fee,#bee,#eff,#fef,#fde,#fde,#fee,#cef,#fef,#fff,#fab,#fff,#f88,#7ae,#fdd,#fbc,#fbc,#fcc,#fdd,#f00,#7be,#f44,#f67,#fdd,#fde,#fcd,#f00,#fcd,#fdd,#fcc,#f99,#faa,#f00,#bde,#f55,#f11,#f55,#f66,#f77,#fab,#fbc,#eff,#f00,#f99,#fbc,#f77,#cee,#9ce,#f89,#fcd,#f77,#fee,#fbc,#fcd,#fcc,#fdd,#def,#fab,#fcc,#fab,#fcd,#fcc,#fee,#fbc,#f00,#8ce,#fdd,#f33,#f55)"></div><div class="hr" style="top:3058.59px;background:linear-gradient(90deg,#fee,#8ce,#cef,#7be,#9ce,#fff,#def,#fcd,#fff,#bee,#fff,#79e,#00f,#bde,#cee,#ade,#def,#def,#79e,#def,#bde,#eef,#fee,#cee,#fff,#fff,#bde,#ade,#bee,#44f,#def,#cee,#def,#bde,#bde,#8ce,#cee,#cee,#fff,#bee,#8ce,#def,#7ae,#fff,#fdd,#fcd,#7ae,#cee,#eef,#ade,#def,#bde,#55f,#fff,#fee,#bde,#fff,#def,#8ce,#9de,#ade,#8ce,#fff,#fbb,#9de,#fef,#bde,#bee,#cee,#fff,#fdd,#56f,#cef,#fee,#fee,#fee,#fdd,#fff,#fee,#bde,#fff,#ade,#8ce,#eef,#cef,#fff,#fdd,#fff,#fee,#eff,#00f,#fdd,#bde,#fdd,#bde,#eef,#fff,#def,#def,#8ce,#ade,#fee,#def,#fee,#ade,#fff,#8be,#7ae,#7ae,#cef,#cee,#fff,#bde,#cee,#def,#f77,#fee,#def,#fee,#fee,#fbb,#ade,#fff,#fff,#fff,#bde,#cef,#fff,#8ce,#fff,#9de,#8ce,#56f,#8ce,#fff,#7be,#eff,#eff,#fcc,#cee,#eff,#eef,#7ae,#f9a,#eef,#fff,#fdd,#11f,#68e,#fee,#56f,#fff,#9de,#8be,#8ce,#ade,#fee,#eff,#eff,#bee,#fff,#cef,#fef,#eff,#eff,#fde,#cef,#fee,#fee,#fee,#68e,#fff,#cef,#fdd,#def,#79e,#8be,#fff,#cee,#def,#fee,#fbb,#fcc,#bee,#eff,#fff,#cee,#9de,#faa,#fee,#fff,#fcd,#fff,#ade,#9ce,#fde,#faa,#fff,#fff,#fee,#fee,#fff,#cef,#fdd,#fee,#fee,#8be,#fff,#fee,#fff,#fff,#fdd,#fff,#fff,#fff,#cee,#fee,#cee,#fff,#def,#fdd,#ade,#fff,#eef,#cee,#79e,#fde,#fff,#8ce,#fdd,#fbc,#9de,#fdd,#fab,#f99,#fee,#7be,#fee,#11f,#eff,#fef,#fdd,#fff,#def,#ade,#fff,#fee,#9de,#fee,#fdd,#fff,#fff,#fcd,#bde,#def,#fff,#79e,#cee,#fdd,#fee,#eff,#fff,#fbb,#fee,#fdd,#fff,#fee,#fff,#fde,#fcd,#fee,#faa,#def,#f00,#fef,#fde,#fcd,#ade,#def,#cee,#ade,#fee,#def,#eef,#f11,#9ce,#def,#fdd,#fff,#fab,#fcd,#fcd,#00f,#fdd,#bde,#eff,#fdd,#fff,#faa,#fff,#eff,#fee,#fff,#9de,#fff,#fff,#8ce,#fee,#cef,#fee,#fcd,#fdd,#fdd,#fee,#fcc,#fdd,#fde,#eef,#fee,#fee,#fef,#9ce,#fff,#bde,#fff,#fee,#ade,#fee,#def,#fee,#f55,#7be,#fff,#fdd,#eff,#eef,#fdd,#fee,#f00,#fbb,#fee,#eff,#ade,#f99,#fcd,#eef,#fcc,#fde,#f00,#fbc,#fee,#fab,#fbc,#fee,#fef,#fee,#9de,#fff,#fff,#ade,#68e,#fff,#f88,#68e,#7be,#fcc,#fff,#f66,#fee,#fee,#fff,#cee,#fff,#fee,#eff,#fff,#eff,#bde,#def,#fdd,#fee,#fff,#fdd,#fcc,#fff,#fdd,#fee,#fab,#fde,#67e,#fde,#def,#00f,#fff,#f88,#def,#7be,#def,#fcd,#f66,#fee,#fdd,#ade,#fcd,#fdd,#f77,#eff,#f88,#cee,#fcd,#fee,#fee,#fdd,#fff,#cef,#fab,#fbb,#fde,#fff,#fbb,#ade,#fbb,#f77,#fbc,#fff,#fee,#fab,#fee,#fdd,#fff,#fdd,#eef,#fff,#7ae,#fee,#fee,#bee,#f22,#fbc,#eff,#fdd,#fde,#fdd,#fee,#fbc,#fcd,#fff,#fcc,#fff,#f89,#eef,#cee,#cee,#fbc,#def,#f11,#cef,#f88,#fcd,#9de,#fab,#fff,#fcd,#fcd,#f77,#def,#f66,#8ce,#fdd,#fff,#f00,#cef,#fab,#fde,#fde,#fff,#fdd,#fdd,#eff,#fee,#eff,#fee,#fcc,#f00,#f88,#fab,#f55,#def,#fff,#fbb,#f11,#f55,#fcc,#f44,#fff,#fde,#f99,#fbc,#f78,#faa,#fef,#f55,#fab,#f88,#fde,#fdd,#f00,#f00,#fdd,#fff,#f9a,#fcd,#fdd,#fdd,#f78,#fee,#f22,#fee,#f99,#f99,#fcd,#fbc,#fde,#fbc,#f89,#fee,#f88,#f11,#eef,#9ce,#fff,#f66,#fbc)"></div><div class="hr" style="top:3079.62px;background:linear-gradient(90deg,#9ce,#8ce,#ade,#bde,#8ce,#9ce,#ade,#def,#8be,#fcd,#ade,#ade,#fee,#79e,#ade,#cee,#7be,#cef,#fcd,#fff,#8ce,#8ce,#9de,#bde,#7ae,#bde,#eff,#8ce,#8ce,#8ce,#eef,#7ae,#ade,#9de,#fee,#bde,#8ce,#fff,#fdd,#9ce,#7ae,#7ae,#bee,#bde,#def,#cef,#9de,#eef,#ade,#9de,#ade,#8ce,#8ce,#bde,#9de,#ade,#68e,#bde,#eff,#ade,#9de,#8ce,#56f,#7be,#cee,#8ce,#cee,#9de,#9ce,#bde,#bde,#9ce,#79e,#ade,#bde,#8ce,#ade,#cee,#bde,#def,#8ce,#9de,#cef,#eff,#fff,#cef,#ade,#bde,#ade,#bde,#def,#bde,#bee,#7be,#79e,#cef,#ade,#f33,#cee,#def,#fff,#cef,#56f,#fde,#def,#fff,#7ae,#7be,#8ce,#9de,#fff,#def,#f00,#def,#ade,#bde,#def,#ade,#8ce,#ade,#ade,#7ae,#eef,#eff,#eff,#79e,#9ce,#fff,#bee,#def,#fff,#fdd,#cee,#fcc,#ade,#fff,#ade,#ade,#7ae,#fee,#def,#fee,#fdd,#def,#fee,#ade,#fcd,#fff,#cef,#bee,#fff,#def,#cee,#ade,#9de,#cee,#eff,#cee,#fee,#bde,#fff,#def,#fff,#ade,#eff,#fde,#7ae,#cef,#def,#cee,#ade,#fee,#bde,#fee,#7be,#def,#9ce,#ade,#fff,#fff,#7ae,#fcc,#8ce,#fee,#fdd,#fdd,#bde,#cef,#7be,#fff,#fff,#eff,#cee,#fff,#fee,#bde,#fff,#bde,#fff,#fff,#eff,#ade,#def,#bde,#fee,#8ce,#eef,#cee,#eff,#fdd,#fee,#bde,#9de,#fee,#68e,#bde,#f88,#cef,#ade,#fee,#fee,#eff,#fff,#55f,#bde,#00f,#fee,#bde,#fcc,#fdd,#fcd,#fcd,#cef,#9ce,#cef,#def,#fff,#fbc,#fff,#bde,#def,#fcd,#fcd,#fee,#eef,#fff,#def,#fdd,#cee,#eff,#ade,#fff,#fff,#cee,#fef,#eff,#fef,#fcc,#bde,#fcc,#fff,#bee,#8ce,#def,#fdd,#fee,#7ae,#bee,#fee,#fff,#79e,#ade,#def,#fde,#68e,#fde,#fee,#fff,#00f,#7ae,#cef,#fff,#bde,#fff,#eff,#fff,#fee,#fbc,#fee,#fee,#eff,#fcd,#fee,#fff,#7ae,#eff,#bee,#fee,#fdd,#fee,#cee,#00f,#bde,#fef,#f9a,#fee,#fbb,#ade,#fdd,#fee,#fff,#fee,#fdd,#fff,#00f,#def,#67e,#fee,#f00,#fbc,#8ce,#cee,#fff,#fdd,#7be,#fcd,#69e,#fee,#fff,#fdd,#fff,#eff,#eef,#fee,#def,#fdd,#fbc,#fab,#fcc,#f66,#fcc,#fde,#fdd,#fde,#ade,#fff,#f77,#fbc,#fcd,#ade,#fdd,#56f,#fbb,#eef,#fcc,#eff,#fab,#fde,#bee,#eff,#fee,#68e,#67e,#fde,#bde,#f9a,#fee,#fcd,#fee,#f99,#eef,#fff,#def,#fab,#fee,#def,#fff,#eef,#8ce,#fff,#fde,#bde,#fdd,#fde,#fef,#fee,#ade,#fab,#f55,#fde,#fab,#def,#fee,#fdd,#f00,#fcd,#f33,#eff,#fbb,#f88,#eff,#fab,#cee,#fde,#f9a,#fcc,#fcc,#8be,#22f,#fcd,#fde,#fee,#fee,#bde,#fbc,#cef,#f44,#faa,#def,#fee,#def,#fcd,#fee,#fcd,#f77,#f88,#fff,#f77,#fbb,#ade,#fff,#11f,#def,#f88,#cef,#def,#ade,#56f,#fee,#eff,#bee,#f77,#f00,#fcd,#fde,#fee,#fde,#fee,#fcc,#f77,#fee,#fdd,#9de,#fbc,#8ce,#f9a,#def,#9de,#fff,#bee,#f11,#cef,#00f,#f33,#fdd,#8be,#fbc,#fde,#fcc,#fff,#f77,#eff,#faa,#fbc,#fdd,#fde,#fdd,#fee,#fdd,#f55,#def,#fbc,#bde,#f00,#fdd,#f77,#f77,#fde,#fee,#fdd,#f44,#fbb,#fab,#fbb,#f88,#f99,#fff,#fde,#f88,#fdd,#eff,#f88,#fcd,#fcc,#fbb,#9ce,#f44,#f9a,#fab,#fee,#fde,#fcc,#fcd,#fde,#eff,#22f,#faa,#eef,#fbc,#fef,#fcd,#faa,#fff,#faa,#ade,#fff,#f78,#fcc,#f55,#fcc,#fbc,#f22,#f77)"></div><div class="hr" style="top:3100.66px;background:linear-gradient(90deg,#fff,#fcc,#8ce,#fff,#00f,#def,#9de,#bde,#cee,#f66,#7be,#68e,#ade,#8be,#cee,#eff,#def,#def,#8ce,#8ce,#cef,#8be,#67e,#7be,#bee,#9de,#7be,#8ce,#69e,#69e,#cef,#8ce,#def,#00f,#fdd,#def,#7be,#fee,#bde,#eff,#8ce,#9de,#8ce,#def,#00f,#7be,#8be,#ade,#56e,#cee,#fee,#9de,#69e,#ade,#fcd,#def,#cee,#fef,#def,#fff,#7ae,#bde,#ade,#68e,#bde,#fde,#cef,#9de,#8ce,#bde,#fff,#7be,#def,#9de,#cef,#def,#bde,#eef,#fee,#cee,#9de,#eff,#fdd,#fcc,#cee,#fff,#fbc,#9de,#68e,#fde,#7ae,#f99,#8be,#ade,#7ae,#9de,#fef,#bee,#fff,#7ae,#7be,#bde,#fff,#def,#69e,#fff,#9de,#fff,#9de,#8ce,#fcd,#f00,#cee,#fff,#fff,#def,#eff,#cef,#fee,#ade,#7ae,#def,#cef,#cee,#fff,#fff,#fee,#eef,#cef,#7ae,#cee,#9de,#8ce,#cef,#def,#cee,#cef,#fff,#fff,#cef,#eff,#fff,#cef,#8ce,#fcc,#fef,#fcd,#fdd,#f88,#fde,#fff,#fff,#69e,#fff,#79e,#eff,#fef,#bee,#fab,#def,#fdd,#def,#fff,#bde,#faa,#fff,#cef,#cee,#fcd,#fde,#eef,#eff,#def,#fff,#f44,#eff,#fcd,#fee,#fff,#def,#bee,#fee,#9de,#fcd,#ade,#fef,#cee,#bde,#cee,#cee,#fee,#bde,#fee,#eef,#fff,#fee,#fff,#def,#eff,#fee,#9ce,#eff,#fab,#cef,#eff,#def,#fee,#8ce,#8ce,#fff,#fee,#fee,#fee,#fee,#fee,#eff,#fee,#8ce,#fff,#def,#eff,#def,#bde,#fee,#bde,#eff,#79e,#56f,#fee,#def,#fde,#fdd,#7be,#fdd,#fee,#eff,#fcd,#faa,#def,#fff,#fee,#eff,#fee,#cef,#fee,#eff,#fee,#fbc,#fde,#fff,#def,#def,#9ce,#eff,#fff,#def,#cef,#fff,#fcd,#fdd,#fff,#68e,#fef,#fdd,#eff,#fdd,#fef,#bde,#fde,#f55,#fff,#fcd,#eff,#fee,#fde,#cef,#fee,#fef,#cee,#fcc,#eff,#fff,#fcd,#cef,#bee,#bde,#fff,#fee,#bde,#7be,#fbb,#fcc,#fff,#fff,#bde,#fef,#fee,#fee,#fbb,#def,#fff,#eff,#eff,#fdd,#faa,#79e,#fcd,#fff,#fbc,#eff,#fbc,#fcd,#fee,#fff,#fff,#fff,#fff,#ade,#f9a,#fff,#def,#fcd,#7ae,#fcc,#f9a,#fee,#fff,#eff,#fee,#fee,#fdd,#fff,#fcc,#fcc,#eff,#fdd,#f77,#fff,#eff,#fcc,#fbb,#fdd,#f66,#faa,#fff,#ade,#fdd,#fee,#fee,#7ae,#f44,#faa,#fde,#cef,#fcd,#cef,#fee,#f77,#fee,#fee,#fde,#fee,#ade,#eff,#def,#fff,#fcd,#00f,#fee,#f44,#fee,#fee,#fde,#cef,#00f,#fee,#fdd,#55f,#faa,#fab,#def,#f33,#cef,#9de,#fee,#fdd,#fff,#bde,#f33,#fdd,#fee,#f66,#cee,#fbb,#fcd,#7ae,#fee,#fab,#fcd,#f22,#cee,#fbb,#fff,#fbc,#fbb,#fdd,#fee,#fbb,#fff,#cef,#11f,#fdd,#def,#def,#fdd,#def,#fee,#cef,#fff,#f88,#fff,#cef,#fff,#f99,#eff,#fbb,#fdd,#fbc,#fbc,#f88,#fff,#cee,#eff,#f00,#8be,#9de,#fef,#f55,#fcd,#f44,#fee,#f77,#fdd,#fcc,#fbc,#fee,#fdd,#faa,#f99,#fcd,#fcc,#fff,#eef,#fdd,#fff,#f78,#fff,#bee,#fab,#fde,#f99,#fcc,#f77,#fdd,#f99,#fde,#fde,#fde,#def,#fcc,#fee,#def,#f9a,#fcd,#ade,#fff,#fcc,#fee,#f22,#f00,#fee,#f99,#bde,#f9a,#fcc,#fab,#f22,#fee,#8ce,#fbc,#faa,#f66,#fee,#fbc,#f44,#fee,#f00,#fab,#f89,#fee,#f9a,#def,#fcc,#f66,#f88,#fee,#f00,#f00,#fbc,#f99,#fbc,#fde,#fbc,#fbc,#f11,#f77,#f11,#11f,#f44,#f9a,#def,#fbc,#f9a,#fbb,#fcd,#fde,#fdd,#fab,#f88,#f99,#fab,#f55,#fdd)"></div><div class="hr" style="top:3121.69px;background:linear-gradient(90deg,#fff,#cee,#11f,#56f,#def,#8ce,#fcd,#9de,#def,#eff,#ade,#55f,#bde,#68e,#bde,#def,#7be,#bde,#67e,#67e,#eff,#67e,#ade,#8ce,#8ce,#fff,#bde,#bde,#9de,#7ae,#fee,#55f,#8ce,#55f,#8ce,#cee,#56f,#def,#eef,#fff,#ade,#8ce,#cef,#def,#33f,#def,#67e,#fee,#fbb,#8ce,#67e,#9de,#9de,#7be,#fee,#bde,#cee,#fee,#fdd,#ade,#9de,#7ae,#cee,#eff,#ade,#ade,#bde,#cee,#9de,#bde,#eff,#8be,#8be,#ade,#def,#69e,#9de,#fff,#fee,#bde,#eff,#f77,#ade,#bde,#def,#bde,#9ce,#def,#fee,#cee,#cef,#cef,#8be,#8ce,#8ce,#cef,#bde,#fee,#eef,#68e,#def,#fee,#def,#00f,#7be,#fab,#cee,#def,#8be,#def,#ade,#eff,#7be,#fee,#8ce,#7ae,#def,#ade,#9de,#def,#67e,#fee,#cee,#bde,#def,#def,#cee,#fff,#def,#00f,#fcd,#fde,#8be,#eff,#fef,#cef,#fff,#fff,#ade,#fee,#def,#fff,#ade,#fee,#fff,#eef,#fdd,#ade,#eff,#fdd,#cef,#fff,#9ce,#fde,#56f,#fff,#9ce,#def,#fcd,#eff,#fee,#def,#fff,#eff,#fab,#bde,#fde,#eff,#bde,#ade,#eef,#fde,#fee,#fdd,#ade,#cef,#68e,#eef,#fdd,#ade,#fee,#fde,#fdd,#cee,#fff,#fff,#7ae,#ade,#eff,#cef,#fdd,#eef,#f77,#fee,#fff,#cee,#fee,#cef,#eef,#fdd,#fde,#fff,#fdd,#fee,#fee,#fee,#fbb,#fff,#fbb,#fab,#fbc,#fcd,#9ce,#ade,#7ae,#cef,#f88,#7ae,#ade,#def,#fcc,#f9a,#fef,#fee,#fff,#68e,#fcc,#fee,#fff,#fff,#9de,#fee,#fbb,#fde,#fee,#fee,#fdd,#f9a,#fff,#def,#ade,#fee,#cef,#f9a,#fff,#bde,#fff,#cee,#fbb,#8ce,#9ce,#fee,#fff,#def,#cef,#eef,#fdd,#fbc,#8ce,#f22,#cee,#fef,#fab,#def,#fde,#8ce,#fff,#fff,#fde,#fee,#fab,#fcc,#fcc,#fff,#fff,#fdd,#fdd,#cef,#ade,#eff,#7be,#fdd,#fcd,#eff,#eff,#fef,#fff,#fdd,#fff,#fee,#fff,#fab,#fee,#fbc,#7ae,#cee,#fde,#fde,#fbc,#fee,#bde,#cee,#cef,#fff,#f77,#bee,#fdd,#fff,#fdd,#ade,#fee,#fbc,#fdd,#bde,#bee,#eff,#eff,#7ae,#fff,#fde,#bde,#bde,#fee,#fff,#fee,#f9a,#fdd,#fab,#eff,#fff,#fcc,#fee,#fcc,#fdd,#fbc,#f55,#f99,#fee,#fee,#fbb,#fcd,#eff,#fff,#fee,#fff,#fee,#faa,#fff,#fff,#cef,#f66,#fdd,#fef,#fee,#fff,#fde,#fcd,#fdd,#fee,#fcc,#bee,#fff,#fde,#eff,#bde,#fcc,#fbb,#f9a,#fee,#f99,#fdd,#fcc,#f89,#8be,#fff,#fee,#eff,#fee,#f89,#fde,#cef,#fee,#fff,#fab,#bde,#fee,#fff,#fbc,#f44,#def,#f9a,#bde,#eef,#fdd,#f55,#f55,#f99,#fff,#fcd,#fbb,#fff,#f44,#fcd,#fbc,#fcc,#fee,#fbc,#fff,#fff,#cee,#eef,#9ce,#bee,#fee,#fdd,#fde,#fdd,#fcd,#eff,#fcd,#fcc,#f77,#f88,#fde,#fde,#fff,#fbb,#fbb,#f55,#cef,#00f,#fcc,#fdd,#f77,#7ae,#fcd,#def,#f33,#fde,#fde,#8be,#eef,#f44,#fbc,#f66,#fee,#fee,#8ce,#fbc,#fcd,#cef,#cef,#67e,#fcc,#def,#f33,#fff,#fff,#faa,#fee,#ade,#fcd,#fcd,#ade,#fbc,#cee,#fee,#fee,#f99,#fde,#f11,#fff,#fcc,#f99,#fcd,#fbc,#f77,#eff,#f44,#f00,#fee,#f44,#f77,#f88,#f88,#f66,#f00,#fcd,#fab,#faa,#f00,#f44,#fbc,#f78,#fbb,#faa,#f22,#f55,#f77,#f00,#fbc,#f00,#fbb,#f67,#fab,#def,#f22,#f00,#f66,#f9a,#f9a,#f88,#fbb,#f88,#f55,#fab,#f44,#fee,#f99,#f99,#fee,#f44,#f99,#f88,#f44,#fbb,#fcc,#fcd,#fcc,#f55,#f88,#f00,#00f)"></div><div class="hr" style="top:3142.72px;background:linear-gradient(90deg,#8ce,#fee,#67e,#def,#8ce,#9ce,#cef,#def,#bde,#79e,#56f,#00f,#bde,#8be,#8ce,#def,#33f,#fff,#ade,#bee,#9de,#cee,#8ce,#7ae,#cef,#ade,#ade,#ade,#8ce,#33f,#ade,#9de,#55f,#79e,#fdd,#def,#bde,#7be,#fde,#ade,#9ce,#eef,#cef,#8ce,#7be,#9de,#8ce,#ade,#8ce,#eff,#67e,#69e,#fde,#def,#8ce,#cef,#ade,#eef,#fff,#8ce,#68e,#8ce,#def,#bde,#fff,#9ce,#f9a,#69e,#cee,#fee,#ade,#cef,#9de,#cee,#cef,#55f,#7ae,#8ce,#9ce,#9ce,#8ce,#def,#9de,#fee,#9de,#def,#fee,#def,#9ce,#9de,#7ae,#69e,#cee,#bde,#79e,#ade,#ade,#7be,#fff,#8ce,#eff,#44f,#9de,#def,#cef,#bde,#8ce,#fff,#bde,#bee,#ade,#fee,#bde,#fff,#cee,#69e,#cee,#eff,#9ce,#eff,#fcd,#bde,#cef,#bde,#ade,#fff,#eff,#bee,#cef,#cef,#fcd,#00f,#def,#fff,#8ce,#def,#cef,#bde,#fdd,#fee,#fee,#cee,#ade,#9de,#fde,#fee,#fee,#bde,#def,#bde,#ade,#bde,#fcd,#fff,#fef,#fdd,#fff,#fff,#bee,#8be,#79e,#fee,#fee,#def,#fff,#fff,#fff,#9ce,#eef,#bde,#cee,#fff,#fff,#def,#cee,#eff,#fff,#fde,#def,#def,#def,#fdd,#67e,#fee,#fff,#fee,#def,#44f,#eff,#cef,#eff,#def,#9de,#fdd,#fff,#fff,#def,#fee,#fcc,#fff,#ade,#fee,#fbc,#7be,#fee,#fff,#eff,#cee,#fcd,#8ce,#fef,#fff,#fcd,#fee,#def,#fff,#eff,#fdd,#fcc,#7be,#eff,#fff,#def,#fee,#cee,#56f,#eff,#fcd,#7ae,#fdd,#fee,#ade,#cef,#fff,#fff,#fcc,#fde,#fee,#fdd,#fee,#cef,#fee,#fcc,#fff,#fab,#fee,#fff,#fff,#f88,#eff,#ade,#fff,#fff,#fef,#eff,#def,#fcd,#fff,#fff,#fee,#fff,#9ce,#fee,#bde,#ade,#cef,#fff,#eff,#fcc,#fdd,#fff,#fff,#fef,#faa,#fff,#fdd,#fcc,#fff,#79e,#fee,#fdd,#fff,#79e,#9de,#bde,#cef,#fff,#cef,#fdd,#fcc,#fff,#fde,#fff,#f78,#bde,#bde,#00f,#fcd,#fcd,#fcc,#cef,#faa,#68e,#f78,#f00,#fff,#fde,#8ce,#def,#fee,#fff,#fff,#f99,#f99,#fff,#fee,#f9a,#8be,#fcd,#fee,#fee,#fff,#fee,#def,#def,#fdd,#cee,#def,#fbc,#fee,#fdd,#f78,#fdd,#f99,#bde,#fdd,#f9a,#fdd,#fcc,#fbc,#def,#fbb,#eff,#fdd,#def,#bee,#f78,#fdd,#fde,#fee,#fbc,#faa,#ade,#fff,#f9a,#bde,#fab,#fab,#eff,#eff,#fff,#fde,#7ae,#cef,#cee,#fee,#def,#fcd,#fdd,#fbb,#f11,#fbc,#fcd,#fff,#cee,#eef,#fee,#fff,#fcc,#fdd,#fff,#fee,#fef,#fbc,#fbc,#fee,#fee,#fcd,#fdd,#f00,#fdd,#fbc,#fcc,#cee,#fee,#fee,#33f,#fee,#fbc,#f88,#fee,#f88,#fff,#f66,#fdd,#fbc,#def,#fee,#56f,#fee,#fff,#f99,#fee,#8ce,#fff,#fbb,#fee,#fdd,#bde,#fbc,#bde,#f00,#f55,#fcd,#fff,#fbc,#fdd,#fde,#f9a,#9de,#eff,#fcd,#cef,#fbc,#8ce,#f44,#9de,#fff,#fde,#fdd,#fdd,#bde,#f66,#fdd,#fdd,#fcd,#fde,#fcd,#f99,#fcc,#fff,#fee,#def,#fcd,#cef,#f44,#eff,#fde,#cee,#def,#fbc,#fab,#fde,#f9a,#fcc,#fde,#fbc,#fee,#9de,#fee,#f00,#ade,#f55,#fff,#bde,#fbb,#f9a,#fcd,#cee,#f11,#bde,#fcc,#fcd,#f00,#f9a,#f22,#fbc,#ade,#8ce,#f33,#fde,#f88,#fcd,#f77,#f77,#f66,#faa,#fcd,#f88,#fcd,#fcc,#fcd,#f99,#faa,#fab,#cef,#f00,#f00,#f66,#f99,#f88,#fbc,#fee,#fff,#f66,#faa,#f33,#fdd,#fcd,#f88,#fee,#f66,#fab,#f99,#fab,#fff,#fab,#f88,#fcd,#f77,#f9a,#fcd,#f88)"></div><div class="hr" style="top:3163.76px;background:linear-gradient(90deg,#ade,#cee,#7be,#eff,#7ae,#bde,#9de,#cef,#9de,#8ce,#ade,#56f,#fdd,#eff,#cef,#bde,#9de,#cee,#7be,#eff,#fff,#7ae,#bde,#fff,#fff,#cef,#bde,#eef,#bde,#69e,#cee,#7be,#ade,#68e,#8ce,#8ce,#bde,#def,#bee,#eff,#fee,#eef,#eff,#ade,#ade,#00f,#7ae,#9de,#cef,#fee,#7ae,#bde,#8ce,#ade,#eef,#def,#bee,#def,#8ce,#bde,#def,#cef,#fdd,#ade,#fee,#cee,#eef,#eff,#bde,#9ce,#fef,#ade,#bde,#ade,#9ce,#fff,#67e,#def,#eef,#ade,#7be,#fff,#9de,#fee,#7ae,#fee,#cee,#def,#cef,#ade,#def,#cee,#fde,#67e,#cee,#8ce,#fff,#fff,#bde,#fff,#fef,#def,#eef,#eff,#ade,#fdd,#8ce,#fff,#7be,#fbc,#cee,#fff,#cef,#eef,#fff,#7be,#def,#eef,#cee,#f89,#fde,#cef,#fee,#fff,#fff,#bde,#def,#eff,#def,#bde,#fff,#cee,#ade,#fff,#def,#bde,#bee,#cee,#eef,#fff,#fee,#fcd,#ade,#cee,#f9a,#def,#fff,#fdd,#bee,#def,#fff,#fff,#def,#def,#11f,#fee,#fff,#eef,#cee,#bee,#ade,#fcc,#eff,#bde,#fdd,#7be,#fff,#8ce,#fee,#fde,#fff,#fee,#def,#fcc,#ade,#fdd,#fff,#68e,#fff,#fff,#fdd,#bde,#9de,#9ce,#def,#fee,#def,#ade,#cee,#bde,#f89,#bde,#fee,#fdd,#def,#eef,#fde,#fdd,#fff,#fff,#fdd,#eef,#fee,#9de,#fff,#def,#fee,#fff,#fbc,#fab,#cef,#fbc,#fdd,#fab,#f9a,#fff,#fff,#fff,#fdd,#fff,#fdd,#fff,#eff,#fee,#bde,#def,#fdd,#fee,#eff,#fdd,#eff,#bde,#fff,#eef,#fbc,#cef,#eff,#fcd,#fff,#f99,#def,#fff,#f9a,#eff,#fff,#ade,#cef,#fcd,#fcc,#44f,#fff,#fdd,#ade,#fee,#9de,#fff,#fff,#fdd,#fdd,#f44,#fff,#fee,#f00,#fdd,#f00,#fee,#fee,#f88,#fcd,#fff,#fdd,#fab,#eff,#bde,#7ae,#cef,#fbc,#fff,#bde,#cef,#fff,#fde,#fbc,#fff,#fef,#cef,#f99,#00f,#fde,#fbb,#fdd,#7ae,#fdd,#bee,#fee,#fff,#fdd,#def,#faa,#fee,#def,#fff,#fff,#fee,#eff,#fdd,#fcd,#eff,#fff,#def,#9ce,#fcd,#fff,#fee,#fdd,#fee,#fff,#fff,#fee,#bde,#22f,#f99,#def,#fdd,#fdd,#f77,#fff,#def,#7be,#fcd,#fbc,#fdd,#ade,#faa,#fff,#fcc,#fbb,#fab,#eff,#fee,#fee,#fbc,#fdd,#faa,#fee,#fde,#cee,#fee,#fcc,#fee,#fbb,#fcd,#eff,#fee,#bde,#fcc,#f89,#fde,#fcc,#fcc,#f66,#bee,#fee,#eff,#def,#fbb,#fff,#fdd,#faa,#cee,#8ce,#fdd,#9de,#eff,#fff,#eff,#def,#fde,#cee,#fee,#fee,#fbc,#fff,#f00,#fff,#fdd,#fef,#f33,#f44,#fee,#fee,#7ae,#def,#ade,#fff,#fcd,#fee,#bee,#fdd,#f44,#fff,#fcd,#bde,#fbb,#f88,#fbb,#f78,#fff,#fef,#def,#bde,#def,#9de,#f44,#fee,#fff,#fcd,#fde,#eff,#fde,#def,#f99,#fcd,#f9a,#fee,#f99,#fdd,#f77,#fee,#fde,#def,#fdd,#fee,#f99,#fff,#eef,#cee,#f88,#f44,#fcd,#eef,#f00,#f00,#fcd,#fee,#fcc,#fee,#fbc,#f88,#fee,#fdd,#fcd,#fee,#def,#eff,#fab,#00f,#fcd,#f88,#eff,#f66,#fbb,#fbc,#fcc,#fcd,#fff,#faa,#def,#fdd,#fbb,#fdd,#fff,#fee,#fdd,#fde,#fee,#fee,#fff,#fcd,#f00,#fdd,#fcc,#fdd,#f67,#fdd,#faa,#fdd,#fdd,#f88,#faa,#fab,#f89,#cee,#fff,#f44,#f88,#fdd,#f77,#fee,#55f,#fbc,#f66,#f77,#fdd,#fdd,#fee,#f77,#f00,#fdd,#f88,#fdd,#f89,#f00,#fee,#f55,#fee,#fcc,#fdd,#fee,#fab,#fff,#fbb,#fdd,#f89,#f99,#f77,#fcc,#f99,#f00,#f88,#fdd,#fcd,#f00)"></div><div class="hr" style="top:3184.79px;background:linear-gradient(90deg,#eff,#56f,#9de,#9de,#9de,#8ce,#9de,#8ce,#eff,#7ae,#9de,#33f,#fbc,#8ce,#cef,#def,#8ce,#eff,#def,#7be,#8ce,#8ce,#cee,#fbc,#55f,#7ae,#8ce,#79e,#ade,#44f,#8be,#ade,#fff,#7ae,#7be,#def,#def,#bde,#f88,#fee,#eef,#bde,#ade,#79e,#7ae,#bde,#8ce,#cef,#79e,#7be,#9de,#fff,#8ce,#f78,#fff,#fde,#def,#fcd,#bee,#7be,#8be,#ade,#bde,#8ce,#f55,#cef,#bde,#def,#9ce,#7be,#cef,#00f,#cee,#eff,#00f,#bde,#8ce,#7be,#fff,#eff,#9de,#def,#ade,#fee,#def,#8ce,#def,#bde,#fdd,#9ce,#cee,#9ce,#79e,#ade,#8be,#9ce,#fee,#cef,#eff,#7be,#fee,#def,#fff,#9de,#9de,#9de,#79e,#fef,#9de,#bde,#67e,#8ce,#8be,#8ce,#fff,#fff,#eff,#fbb,#56f,#ade,#33f,#fff,#cef,#eff,#fee,#def,#eff,#fff,#fff,#8ce,#fff,#fee,#79e,#9de,#f77,#eff,#eff,#bde,#fff,#9de,#def,#faa,#ade,#fff,#fff,#fcc,#fff,#fff,#fee,#ade,#bee,#def,#eef,#def,#bde,#def,#bde,#fbb,#eef,#fff,#bde,#def,#cef,#fee,#9de,#bde,#7ae,#8ce,#fee,#fee,#cee,#fff,#bde,#fef,#9de,#fcc,#eff,#fff,#fde,#fee,#fff,#fee,#fee,#fff,#fee,#fcc,#fff,#eff,#fff,#eef,#8ce,#def,#fee,#fdd,#fdd,#fbb,#fff,#fef,#fee,#8be,#fde,#fcd,#fee,#fff,#fbc,#faa,#fdd,#7ae,#fdd,#bde,#fcc,#eff,#fdd,#56f,#eef,#fee,#fef,#fee,#bde,#fab,#fff,#00f,#56f,#fff,#7ae,#cee,#fee,#fee,#ade,#fbc,#fff,#fcc,#ade,#fcd,#fbc,#bde,#fdd,#fdd,#fee,#cef,#ade,#44f,#fff,#bee,#fdd,#fff,#f99,#fdd,#faa,#eff,#bde,#eff,#fff,#fee,#eff,#fcd,#7be,#f11,#fee,#f00,#fee,#eff,#fff,#fff,#fcd,#fdd,#fee,#fbc,#eef,#fee,#fff,#fab,#fcc,#fee,#def,#fef,#fbc,#fff,#def,#cef,#def,#fcd,#fff,#fcd,#8ce,#fbb,#fee,#f00,#faa,#fcc,#fcd,#fee,#9de,#eff,#9ce,#fee,#f9a,#f00,#fee,#fde,#ade,#fff,#fff,#fdd,#fdd,#fff,#fdd,#fff,#fee,#fff,#fee,#f99,#fef,#9de,#fcd,#cef,#fdd,#9ce,#fdd,#fee,#8ce,#fcc,#def,#f89,#fee,#fdd,#eff,#fcc,#fff,#fee,#f99,#bde,#fcc,#fcd,#cef,#56f,#f00,#fdd,#bde,#fcc,#fee,#fdd,#fff,#cef,#fcd,#67e,#fbc,#fef,#fff,#def,#fee,#fcc,#bde,#eff,#f99,#8ce,#f11,#fee,#cef,#bde,#fff,#def,#cef,#fff,#7ae,#fdd,#fff,#fdd,#fee,#fcd,#fff,#fee,#fdd,#fbc,#f77,#fcc,#fcc,#def,#fff,#fee,#eff,#fef,#fde,#f22,#fdd,#fee,#def,#fdd,#f22,#fcc,#fbc,#fde,#f89,#cef,#f99,#fcd,#fff,#fdd,#8ce,#fab,#def,#fbc,#fcc,#fff,#f88,#f77,#9ce,#def,#fdd,#fbc,#fdd,#fee,#f88,#7be,#f99,#fff,#fee,#fee,#fff,#f88,#fff,#f22,#fdd,#bee,#fcc,#fdd,#fcc,#f00,#fbc,#f00,#bde,#fcd,#fbc,#f66,#ade,#9de,#eff,#f44,#fde,#faa,#fee,#f33,#f78,#fcd,#bde,#fff,#fdd,#fde,#fbc,#f89,#f9a,#fcd,#8be,#fcc,#fee,#f44,#fee,#def,#fcd,#fcc,#fcc,#eff,#fee,#fcd,#f55,#fab,#fcd,#fee,#fbb,#def,#f22,#fcc,#fcd,#fcd,#fff,#f9a,#fbc,#fff,#faa,#fcc,#fab,#fcd,#fbb,#f00,#faa,#f11,#fcd,#fcc,#faa,#fcc,#f00,#fde,#fcd,#fbc,#f77,#fdd,#f00,#f77,#fab,#f99,#fde,#f66,#f33,#fcc,#fbc,#fff,#f77,#f00,#fcd,#f77,#fbb,#f9a,#fff,#f66,#f89,#ade,#f00,#fdd,#fbb,#fcc,#fcd,#f77,#f77,#f33,#f9a,#68e,#fcd,#f9a,#f99,#f00,#fcd,#f89,#f00)"></div><div class="hr" style="top:3205.83px;background:linear-gradient(90deg,#79e,#7be,#79e,#bde,#79e,#8be,#def,#8be,#fcc,#fff,#9de,#44f,#fff,#9de,#8be,#ade,#cee,#7ae,#fff,#8be,#8ce,#def,#cee,#8be,#8ce,#8ce,#fee,#bde,#fee,#00f,#eff,#9de,#cef,#ade,#bde,#8ce,#eff,#ade,#f99,#fff,#ade,#ade,#fee,#8ce,#ade,#bde,#55f,#79e,#ade,#bde,#cee,#fff,#bde,#cee,#8ce,#fcd,#ade,#fef,#fff,#ade,#7ae,#cef,#ade,#bde,#ade,#7ae,#cee,#fdd,#69e,#fff,#9de,#9ce,#bde,#9de,#bee,#bde,#fee,#def,#eff,#def,#44f,#9ce,#9de,#fee,#bde,#eff,#bde,#bee,#9ce,#bee,#33f,#fff,#cee,#cee,#9de,#def,#cef,#cef,#fcc,#cef,#def,#67e,#fee,#7ae,#def,#cef,#9de,#7ae,#ade,#fee,#bde,#def,#8be,#fde,#fee,#bee,#fdd,#55f,#cef,#eef,#9de,#fee,#def,#9ce,#fff,#8ce,#fff,#def,#ade,#68e,#fdd,#fff,#cef,#9ce,#def,#8ce,#eef,#68e,#def,#eef,#eff,#fee,#8be,#def,#eff,#9de,#fff,#eff,#fbc,#bde,#fff,#eef,#33f,#bde,#9ce,#fdd,#fff,#8ce,#ade,#fff,#cee,#def,#fff,#cef,#fff,#def,#cef,#56e,#ade,#eff,#eef,#fdd,#7be,#fcc,#bee,#ade,#cee,#def,#fcd,#fee,#fee,#fff,#def,#fff,#fef,#eff,#7be,#def,#def,#cee,#fde,#def,#bde,#8ce,#def,#fff,#9ce,#f89,#fef,#fff,#faa,#fee,#fff,#bde,#fff,#fee,#fee,#8be,#fff,#def,#fee,#def,#bde,#eff,#7ae,#def,#eff,#bde,#fbc,#cee,#fff,#cee,#8ce,#fdd,#cee,#8be,#ade,#fdd,#cee,#fef,#fef,#def,#9de,#eff,#fde,#33f,#cee,#fee,#eef,#eff,#fff,#bde,#fff,#fff,#bde,#fee,#8ce,#fdd,#fff,#def,#33f,#fff,#def,#eef,#cef,#fdd,#eff,#f77,#8be,#fee,#fef,#7be,#fff,#fbb,#fcd,#fdd,#fee,#fff,#fdd,#f55,#fee,#fbb,#fff,#fcd,#ade,#ade,#fcd,#fff,#bde,#def,#fee,#fff,#fee,#fef,#def,#fff,#eef,#fcd,#8ce,#f9a,#cee,#fdd,#fee,#fee,#ade,#fee,#fff,#fff,#fee,#fee,#fde,#fdd,#fee,#fdd,#fbc,#cee,#fff,#cee,#fbb,#fcc,#fde,#fbc,#9de,#fee,#faa,#fff,#bde,#eef,#fff,#eff,#def,#fab,#fdd,#fff,#def,#fdd,#eff,#fff,#8be,#fbc,#8ce,#9de,#fee,#fcc,#eff,#fee,#fcc,#fee,#ade,#fab,#fee,#f66,#fde,#fee,#cee,#fee,#fdd,#eff,#fdd,#fee,#fff,#fdd,#eef,#7ae,#fcd,#fde,#fee,#f88,#fee,#fff,#f9a,#fff,#fff,#def,#def,#fde,#fee,#fdd,#fff,#68e,#67e,#fee,#eef,#cef,#eff,#fee,#fcc,#fee,#fcc,#fdd,#44f,#fdd,#7ae,#fff,#fcd,#cef,#fde,#fcd,#fef,#eff,#fbb,#fbc,#eff,#fcd,#9de,#fff,#fcd,#eff,#fcc,#faa,#f00,#fee,#eff,#fdd,#fee,#faa,#fde,#f55,#fbc,#f88,#7ae,#fdd,#f99,#cee,#ade,#fee,#eff,#fff,#def,#cee,#fff,#fee,#fcd,#fcc,#fff,#fab,#fee,#fcd,#fee,#fff,#fff,#fde,#ade,#fbc,#7be,#bde,#f33,#fdd,#faa,#eff,#ade,#f99,#f77,#f88,#fdd,#fff,#fcc,#fee,#faa,#cef,#f66,#bde,#eff,#fff,#fdd,#f00,#8ce,#cef,#fcc,#fff,#fff,#fff,#fee,#f88,#fcd,#fee,#fbc,#fee,#fdd,#bde,#f11,#cef,#f00,#fdd,#fdd,#fee,#fcd,#bee,#fdd,#fcc,#ade,#fcc,#fdd,#f00,#fcc,#f88,#fff,#fbc,#8ce,#fff,#f33,#def,#fcd,#f99,#f88,#fbc,#f00,#f89,#f88,#56f,#fff,#f77,#faa,#fdd,#fee,#ade,#fdd,#f22,#fbb,#fcd,#fee,#fee,#fee,#fee,#faa,#fbc,#f88,#fab,#fcc,#f9a,#f9a,#f88,#fbc,#fff,#eff,#cee,#fee,#fdd,#cef,#faa,#fbb,#f00,#f55)"></div><div class="hr" style="top:3226.86px;background:linear-gradient(90deg,#def,#67e,#7ae,#7be,#cef,#ade,#fef,#8ce,#9de,#9de,#9de,#cee,#bde,#8ce,#fff,#8ce,#7ae,#44f,#68e,#8ce,#fff,#def,#ade,#bde,#eef,#8be,#7ae,#69e,#fff,#44f,#fef,#cee,#def,#fff,#7be,#8ce,#ade,#ade,#9de,#fee,#bde,#fde,#69e,#ade,#44f,#7be,#bde,#7ae,#fef,#def,#def,#9de,#68e,#9ce,#def,#cef,#bde,#fde,#cef,#fff,#ade,#cee,#fee,#67e,#eff,#ade,#def,#def,#8be,#bde,#7be,#cee,#8ce,#ade,#fff,#68e,#cee,#cef,#ade,#22f,#8ce,#eff,#7ae,#bee,#ade,#67e,#67e,#9de,#fff,#ade,#ade,#def,#68e,#ade,#33f,#fee,#def,#eef,#fbc,#8ce,#eff,#def,#ade,#cef,#fff,#fee,#7be,#fcc,#def,#cef,#ade,#fee,#fcd,#eef,#fff,#cef,#f99,#fee,#ade,#bde,#fee,#bde,#f44,#7be,#9ce,#7ae,#def,#fff,#fee,#def,#fff,#8ce,#7be,#fdd,#79e,#ade,#def,#7ae,#8ce,#9ce,#fdd,#bee,#8be,#bde,#fff,#9de,#cef,#eff,#fdd,#fff,#fee,#cef,#bde,#bde,#fee,#cef,#7ae,#fee,#8ce,#fff,#cee,#7be,#bde,#9ce,#eef,#ade,#8ce,#ade,#00f,#cef,#7be,#eff,#fcd,#fee,#cef,#ade,#ade,#def,#8ce,#fff,#eff,#56f,#fbc,#fdd,#eff,#ade,#8be,#eff,#ade,#8ce,#cef,#cef,#bde,#f88,#9de,#fff,#eef,#eef,#eef,#eef,#cee,#fdd,#fdd,#fff,#fcc,#fff,#fde,#def,#eff,#cee,#eef,#cef,#eef,#def,#69e,#fff,#bde,#fdd,#bde,#def,#fee,#def,#fee,#eff,#cee,#eef,#cee,#fff,#fff,#fcd,#8ce,#eff,#ade,#cee,#fcd,#fcc,#fee,#fbb,#fff,#eff,#fcd,#f9a,#fcd,#faa,#fdd,#fdd,#f77,#ade,#fdd,#fde,#fdd,#eef,#bde,#fee,#fef,#f89,#fff,#fdd,#9ce,#fcc,#fff,#ade,#fff,#def,#def,#eff,#fef,#f00,#fff,#fcc,#fee,#fde,#fff,#fee,#bde,#9de,#fee,#f99,#8ce,#fee,#def,#ade,#eef,#fff,#eff,#79e,#79e,#fee,#fdd,#cee,#fee,#f89,#fdd,#fee,#def,#bee,#def,#bde,#f89,#def,#ade,#def,#fff,#ade,#fde,#fee,#cee,#fee,#f66,#fdd,#f44,#fcd,#eef,#fcd,#fff,#8be,#fee,#fef,#fdd,#fee,#bde,#ade,#bde,#fee,#fdd,#fbc,#fff,#fee,#cef,#f88,#fee,#fff,#cee,#fdd,#fee,#fee,#fdd,#fee,#def,#f00,#fcd,#fde,#fff,#fee,#fdd,#67e,#fcd,#fde,#fcc,#eff,#fbb,#fcc,#fcd,#eff,#fde,#eff,#fff,#fee,#8ce,#9de,#7ae,#fee,#fdd,#def,#def,#fcd,#fff,#fde,#ade,#f9a,#55f,#fee,#fab,#79e,#ade,#fef,#ade,#fff,#fee,#def,#fee,#fcc,#fab,#eff,#f99,#fdd,#fff,#fee,#f11,#fef,#faa,#9ce,#67e,#fcd,#fef,#fee,#bde,#cef,#fcc,#fbc,#9de,#fee,#fde,#fdd,#fdd,#fff,#fcd,#eff,#fef,#fcc,#cef,#f66,#eff,#fdd,#fee,#fde,#faa,#fff,#def,#fee,#eff,#fbc,#fcc,#fbb,#cee,#f88,#f11,#f55,#f99,#fdd,#cef,#9de,#eff,#f66,#cef,#8ce,#def,#f89,#fcc,#fff,#fcd,#faa,#fee,#fee,#f66,#fee,#fff,#fcd,#fbc,#f55,#fef,#fcd,#fff,#fdd,#fff,#f44,#bde,#9ce,#f88,#fde,#fdd,#bee,#eef,#def,#cee,#fcc,#fde,#eff,#fdd,#eff,#f55,#fcc,#f22,#fde,#fee,#fcd,#faa,#fcc,#fee,#f55,#fee,#fbc,#fde,#f00,#fcc,#f77,#f44,#fdd,#fbb,#fbb,#f00,#fcc,#fcc,#fcd,#fff,#f00,#f00,#f78,#f77,#fbc,#fbc,#fbc,#fbb,#fbb,#fdd,#fee,#fab,#f00,#f77,#fbc,#eef,#fbc,#fcd,#fcd,#fab,#eff,#f22,#fee,#eff,#fcc,#9de,#f66,#fdd,#fab,#cef,#fee,#f99,#fbb,#fff,#f66,#fdd,#f55,#f88)"></div><div class="hr" style="top:3247.89px;background:linear-gradient(90deg,#fef,#ade,#9de,#bde,#fff,#fee,#fef,#79e,#ade,#cef,#9ce,#7ae,#fee,#ade,#cef,#ade,#eff,#cee,#00f,#fff,#def,#ade,#fff,#8ce,#fee,#def,#fcd,#ade,#79e,#8be,#fff,#def,#fdd,#ade,#7be,#fff,#cee,#fff,#9de,#bee,#44f,#def,#cef,#55f,#68e,#ade,#eff,#ade,#fff,#fff,#eff,#cee,#eff,#def,#ade,#ade,#def,#bde,#9de,#fde,#eff,#fcd,#9de,#cef,#eff,#bee,#fff,#fee,#def,#cee,#56f,#cef,#fee,#fee,#cee,#8ce,#def,#cef,#def,#fdd,#cef,#fde,#ade,#fff,#bde,#7ae,#cef,#bee,#fff,#fdd,#eff,#ade,#fff,#fee,#cee,#00f,#eff,#fee,#f99,#eef,#fdd,#f33,#9de,#cef,#def,#fcc,#eff,#9ce,#fcd,#fde,#fde,#fde,#cef,#fee,#def,#f00,#def,#fee,#fff,#fee,#8ce,#cee,#ade,#fff,#fee,#8ce,#def,#fcd,#fff,#cef,#fff,#def,#cef,#fef,#cee,#fde,#def,#ade,#fdd,#bde,#f9a,#fff,#def,#7ae,#fee,#fdd,#fbb,#11f,#def,#56f,#f66,#cee,#cef,#fdd,#fee,#fee,#fee,#fbc,#fde,#fff,#bde,#fee,#9ce,#def,#67e,#bde,#ade,#def,#fff,#fff,#cee,#fee,#bde,#fab,#ade,#fee,#fcd,#fff,#ade,#fcc,#fff,#fcd,#f55,#eff,#fff,#fee,#56f,#def,#cee,#eff,#fcd,#def,#fab,#fee,#cee,#fcd,#cef,#fff,#eff,#eff,#fcd,#fef,#fff,#cee,#cef,#fee,#fee,#fbc,#fef,#def,#fef,#fdd,#fdd,#fbc,#fff,#fde,#fee,#fcd,#fcd,#cef,#fee,#f99,#cee,#fdd,#cef,#cee,#fdd,#fff,#fff,#fdd,#eff,#eff,#eff,#fee,#fcd,#fdd,#fdd,#fff,#fee,#eef,#8ce,#fcd,#f99,#fbb,#fee,#f33,#fbb,#fdd,#fbc,#def,#fff,#eff,#fff,#fee,#8ce,#eff,#fde,#fdd,#fff,#fdd,#fdd,#eef,#cef,#fff,#fbc,#cef,#ade,#fff,#56f,#68e,#fee,#fdd,#eef,#fab,#bee,#fef,#fde,#ade,#fff,#fee,#fee,#fcd,#f77,#fdd,#fee,#eff,#fdd,#def,#fee,#fdd,#fff,#fee,#fee,#fff,#fee,#fff,#fee,#79e,#fcd,#fdd,#bde,#fde,#cee,#fee,#f44,#68e,#fee,#fff,#fff,#8ce,#fbb,#fdd,#fee,#fff,#fff,#cee,#fee,#fde,#fcc,#fdd,#fee,#fbc,#fee,#fcd,#def,#fbc,#f55,#fde,#fdd,#fcd,#9de,#00f,#fee,#fff,#fde,#fcd,#f9a,#fde,#fcc,#fdd,#fee,#fcd,#fee,#fdd,#7ae,#fee,#fff,#fee,#fbc,#fdd,#fdd,#fbc,#fcc,#def,#cef,#bde,#fee,#fee,#bde,#fee,#fee,#8ce,#fef,#fbb,#fee,#fdd,#fbc,#fdd,#fdd,#fbc,#fee,#fde,#fdd,#fee,#fdd,#fff,#f99,#cef,#fdd,#f9a,#cef,#fbc,#bde,#fdd,#f33,#fee,#eff,#fbb,#f88,#eff,#fde,#fee,#fdd,#fff,#fbb,#fdd,#fdd,#fcc,#fdd,#f66,#fcd,#f88,#9de,#f78,#fcc,#fcd,#fbb,#fff,#8ce,#fcd,#cef,#bde,#fcc,#7ae,#fcd,#f66,#fee,#f22,#8ce,#fee,#def,#f77,#fdd,#fcd,#fcd,#cee,#fde,#fcc,#8ce,#fde,#fee,#fef,#fcc,#f99,#f22,#eff,#eff,#f9a,#fbb,#fcc,#fff,#def,#f22,#f9a,#ade,#fee,#fee,#fcd,#7be,#fff,#fdd,#fde,#bde,#f9a,#fee,#fff,#8ce,#fff,#f88,#fdd,#eff,#fcd,#ade,#fff,#fee,#fee,#fee,#fbc,#fdd,#eff,#7be,#fcd,#fbc,#def,#f89,#fcd,#f89,#fbc,#fff,#f44,#def,#fbc,#fee,#f00,#fdd,#f00,#f66,#fdd,#fbc,#fab,#f44,#f99,#fbb,#fcd,#f00,#f99,#fbb,#f55,#fff,#fdd,#eef,#f55,#f88,#f99,#9ce,#fde,#f00,#f77,#fbc,#fcd,#fee,#faa,#fff,#fbb,#f00,#def,#fee,#bee,#f88,#f88,#fdd,#fcc,#fef,#fcd,#fcd,#fef,#f22,#f9a,#f22,#f88,#fbc,#f00,#fff)"></div><div class="hr" style="top:3268.93px;background:linear-gradient(90deg,#bee,#ade,#def,#9de,#8ce,#eef,#00f,#7be,#fdd,#bde,#9de,#67e,#eff,#7ae,#7ae,#bde,#79e,#def,#bee,#7ae,#def,#cef,#fee,#8be,#9de,#cee,#9de,#def,#bde,#68e,#fee,#eff,#f99,#bee,#fcd,#eff,#67e,#ade,#fab,#fff,#ade,#cef,#fef,#67e,#fee,#00f,#def,#eef,#fee,#cee,#def,#fde,#bde,#cef,#8ce,#bde,#fde,#67e,#fff,#56f,#bde,#fff,#fff,#fff,#bde,#bde,#67e,#fff,#9de,#def,#bde,#9ce,#8ce,#eff,#def,#8ce,#bde,#eff,#8ce,#fff,#eff,#def,#79e,#def,#fee,#56f,#fef,#9de,#fff,#eef,#eff,#cef,#9de,#bde,#79e,#eef,#fee,#eff,#eff,#ade,#fee,#fee,#55f,#bde,#9ce,#9de,#7ae,#def,#fff,#eef,#bde,#9de,#8ce,#def,#eff,#fff,#fff,#bde,#cef,#cef,#bde,#fcd,#fff,#cee,#eff,#cef,#cee,#def,#f9a,#9de,#7be,#fff,#bde,#fff,#def,#def,#ade,#9ce,#fdd,#fff,#eff,#fdd,#7ae,#cef,#fff,#fff,#fee,#fff,#eef,#bde,#fff,#7ae,#00f,#fee,#7ae,#fee,#7ae,#fff,#bee,#fcc,#8ce,#fdd,#ade,#fff,#fef,#fee,#68e,#fff,#fff,#def,#fee,#fff,#fff,#fee,#fef,#79e,#8ce,#fee,#eef,#def,#fff,#fcd,#eef,#def,#ade,#fdd,#fff,#bde,#eef,#fcd,#eef,#bde,#69e,#fee,#bde,#eef,#55f,#fdd,#ade,#8ce,#f89,#bee,#fee,#fee,#fde,#cef,#eff,#def,#8ce,#8ce,#eff,#fcc,#fee,#fff,#fdd,#ade,#eff,#eff,#fff,#fcc,#fff,#9ce,#bde,#fcd,#ade,#fff,#fee,#eff,#f55,#fff,#fdd,#fee,#fde,#cee,#fcd,#def,#bee,#def,#fee,#8ce,#fdd,#def,#fcc,#fee,#def,#fcd,#f55,#fee,#eff,#eef,#fde,#fff,#eff,#bde,#68e,#def,#fef,#fdd,#fff,#fcc,#ade,#9ce,#eef,#fee,#ade,#eff,#fff,#fdd,#def,#f66,#eff,#fee,#def,#9de,#eff,#eff,#fff,#fee,#cef,#67e,#fde,#fff,#fcc,#cef,#fee,#fde,#fff,#fff,#56f,#f66,#7be,#fdd,#fff,#faa,#def,#9de,#fdd,#fbc,#fee,#fee,#79e,#bee,#fef,#fef,#fee,#fbc,#cef,#def,#fde,#fff,#f99,#fcd,#def,#fff,#fff,#fee,#fee,#eff,#fde,#fde,#fcc,#fff,#fef,#f00,#eef,#fff,#cef,#fde,#fee,#fdd,#7be,#fbc,#fcd,#eef,#f99,#fcd,#eff,#def,#fcc,#fab,#fff,#fcd,#fdd,#def,#fee,#fdd,#fcd,#f22,#fee,#fde,#f99,#fff,#fee,#fde,#fdd,#ade,#faa,#bde,#fff,#fcd,#cef,#fee,#cef,#eff,#9de,#cee,#fee,#fbc,#fdd,#fbc,#cee,#f88,#fcd,#fff,#fde,#fcd,#fdd,#fee,#bde,#eff,#fdd,#11f,#fee,#def,#eef,#fdd,#bde,#fde,#f78,#fcd,#fef,#cef,#fdd,#fff,#fdd,#f66,#79e,#def,#fdd,#f99,#fab,#f88,#fbc,#fcc,#cee,#eff,#fcd,#fdd,#fff,#fde,#fee,#fcc,#7ae,#fee,#fef,#fdd,#f44,#fff,#fee,#fde,#eff,#eff,#fee,#f55,#bde,#fde,#eef,#fbb,#f78,#def,#fee,#fff,#f44,#fbb,#bee,#fee,#8be,#f44,#eff,#fff,#fff,#f44,#f11,#fcd,#7ae,#00f,#fff,#fde,#fab,#fee,#fcd,#fcd,#def,#fbb,#fde,#def,#fee,#fff,#f99,#fff,#f22,#fdd,#faa,#fee,#fde,#fcc,#def,#eff,#faa,#ade,#f33,#fee,#fff,#fab,#fcd,#fee,#fbc,#eff,#fef,#f11,#8be,#fdd,#fcd,#f00,#fdd,#fbc,#f00,#fab,#fcc,#f55,#f00,#f55,#f66,#fcc,#f66,#fbb,#fef,#fbb,#fee,#fdd,#f9a,#fde,#bde,#f33,#ade,#fee,#f00,#fdd,#8ce,#fcd,#f99,#fab,#fab,#fee,#fcd,#67e,#f00,#fcc,#f66,#fcc,#cef,#fee,#def,#fbc,#fff,#def,#fbc,#fff,#fdd,#ade,#fcc,#f00,#f44)"></div><div class="hr" style="top:3289.96px;background:linear-gradient(90deg,#def,#8ce,#8ce,#bde,#fee,#fde,#eff,#def,#ade,#eff,#7be,#69e,#def,#ade,#cee,#bde,#79e,#7be,#cee,#eff,#eef,#def,#8ce,#8ce,#79e,#00f,#eff,#8ce,#9ce,#8ce,#ade,#cef,#cee,#cee,#bee,#def,#cef,#fff,#fcd,#fcc,#fcc,#def,#7be,#8be,#44f,#cee,#9ce,#fff,#bde,#cee,#fff,#cee,#cef,#cee,#cee,#cef,#eff,#7ae,#fee,#cef,#bee,#f99,#bde,#bde,#bde,#ade,#ade,#ade,#fff,#9de,#fef,#9de,#fff,#9ce,#ade,#fee,#ade,#fff,#fff,#def,#ade,#def,#bde,#eef,#ade,#def,#eff,#cef,#fee,#bde,#fee,#eff,#ade,#fef,#8ce,#fdd,#fff,#bde,#eff,#22f,#eff,#9ce,#bde,#bde,#def,#bde,#fcd,#fee,#fcd,#def,#bde,#fee,#def,#fef,#fff,#fcd,#fbc,#7be,#def,#fee,#def,#eff,#f99,#9de,#8ce,#8ce,#eff,#ade,#7be,#fff,#fee,#fdd,#def,#ade,#fdd,#fee,#fee,#def,#cee,#8ce,#fdd,#fdd,#bde,#fbc,#fbc,#fde,#eff,#fff,#fef,#cee,#eff,#fff,#fee,#cef,#eef,#eff,#def,#fef,#fee,#bde,#bde,#fde,#fdd,#bee,#9de,#fde,#bee,#00f,#fde,#def,#fee,#f66,#fee,#fcd,#def,#bee,#bde,#fee,#bde,#eff,#fee,#fde,#fdd,#fef,#cef,#fff,#fde,#bde,#eff,#def,#fee,#ade,#fff,#7be,#fff,#fdd,#bde,#eff,#eff,#fcd,#eff,#def,#fcd,#cef,#eff,#fcc,#fff,#fcd,#fee,#bde,#8ce,#fff,#cef,#fef,#fee,#eff,#fcc,#eff,#def,#fee,#def,#fee,#eef,#bde,#eef,#fff,#cef,#79e,#fff,#faa,#fff,#cef,#fff,#cee,#eff,#fee,#fdd,#f89,#55f,#fdd,#fee,#f77,#fbc,#fbc,#fee,#f9a,#fee,#bde,#fff,#fdd,#fee,#cef,#fff,#fdd,#def,#9de,#fcd,#fff,#fff,#fff,#faa,#fdd,#f99,#fff,#fde,#fbc,#eff,#fab,#fcc,#fbc,#fff,#bde,#fee,#fff,#fdd,#fee,#def,#def,#9ce,#eff,#fbc,#fdd,#fff,#fee,#67e,#fff,#fee,#fee,#fff,#fdd,#bde,#fff,#fab,#f89,#fee,#fdd,#7ae,#bde,#fdd,#eff,#def,#8ce,#eff,#eff,#fcd,#eef,#fcd,#cee,#fee,#fcd,#fbc,#f99,#cef,#fee,#fee,#fab,#fcd,#8ce,#fff,#eff,#fee,#fee,#9ce,#eff,#fee,#fcd,#eff,#fff,#fff,#fcd,#fee,#fee,#fdd,#fdd,#bde,#fdd,#f89,#fbc,#fdd,#fbc,#fee,#fee,#fdd,#fcd,#fff,#cef,#fdd,#bee,#f00,#fee,#fde,#f11,#fee,#fff,#fcc,#fcd,#fdd,#fee,#fcd,#fef,#fee,#fff,#fff,#def,#def,#fdd,#fff,#22f,#fdd,#f44,#f11,#fee,#fde,#cee,#fff,#eef,#fcd,#fee,#fdd,#eef,#fdd,#fff,#fef,#79e,#f9a,#fee,#fdd,#fab,#f22,#9de,#fde,#bde,#fee,#fdd,#f55,#fcd,#fcc,#8ce,#fde,#f00,#fee,#fdd,#fcc,#eff,#fcc,#fff,#fde,#eff,#def,#fbb,#fef,#fcd,#fdd,#fdd,#f11,#bde,#fde,#fbc,#eff,#fee,#fff,#fff,#fbc,#f9a,#faa,#eef,#fff,#f9a,#fcd,#eef,#fff,#f33,#f77,#f88,#fde,#cee,#eef,#f00,#fee,#fee,#fee,#f33,#f11,#f99,#f99,#00f,#eff,#f88,#f89,#f66,#fff,#fcc,#fcd,#fbb,#cef,#f44,#fee,#fdd,#f33,#fff,#fcd,#fdd,#def,#def,#faa,#fff,#def,#eef,#cef,#fee,#f11,#fee,#fbc,#fef,#fcd,#fcc,#fde,#def,#fee,#f22,#fef,#f99,#fbc,#f00,#f99,#f66,#f77,#fcd,#fee,#fbc,#f00,#fdd,#fdd,#fcd,#f9a,#def,#f00,#fab,#f88,#fff,#fbc,#fcc,#fbc,#fdd,#fbc,#fee,#f00,#f00,#fab,#f9a,#fab,#fdd,#fbb,#fcc,#fee,#fde,#f66,#bde,#fcd,#fee,#f00,#faa,#fee,#f89,#fbc,#fcc,#f55,#fcd,#eff,#f88,#fee,#f22,#f66)"></div><div class="hr" style="top:3311.00px;background:linear-gradient(90deg,#cee,#fdd,#9de,#8ce,#00f,#def,#9de,#bde,#eef,#7be,#def,#bde,#00f,#ade,#eff,#fff,#fcd,#bde,#8ce,#7be,#7ae,#bde,#bde,#55f,#def,#fcc,#68e,#fee,#ade,#cee,#bde,#68e,#fff,#9de,#7ae,#9ce,#79e,#cee,#def,#9de,#7ae,#bde,#8ce,#7be,#00f,#cee,#8ce,#ade,#9de,#cee,#fee,#79e,#bde,#ade,#fee,#9de,#69e,#ade,#9ce,#8ce,#8ce,#bee,#cee,#cee,#def,#def,#bde,#9de,#79e,#def,#ade,#ade,#bde,#def,#7ae,#9ce,#cef,#cee,#cef,#eff,#bde,#cef,#8ce,#fee,#9de,#cee,#7ae,#8ce,#eff,#9de,#eff,#ade,#8ce,#8ce,#8ce,#def,#ade,#fee,#bde,#8ce,#9de,#9de,#68e,#79e,#00f,#fff,#33f,#fdd,#eff,#bde,#bee,#ade,#ade,#fab,#eef,#eff,#00f,#9de,#eef,#fff,#44f,#cef,#ade,#cee,#eff,#ade,#eef,#ade,#bde,#79e,#fab,#9ce,#7be,#fff,#fee,#fdd,#79e,#bde,#44f,#8ce,#fee,#def,#ade,#bde,#fef,#eff,#67e,#ade,#fff,#fee,#fde,#def,#79e,#ade,#def,#fde,#bde,#eef,#8ce,#9de,#fff,#cee,#8be,#def,#eff,#eff,#79e,#eff,#fee,#fee,#bde,#fff,#fdd,#eff,#fee,#ade,#8ce,#fff,#9de,#fee,#8ce,#fef,#fff,#fee,#eff,#7ae,#9ce,#8ce,#fff,#fef,#fff,#8be,#bde,#eef,#bde,#fee,#fff,#fff,#fff,#fee,#7be,#fee,#fcd,#cee,#fee,#eff,#fff,#67e,#eef,#fee,#fde,#fde,#fcc,#fcc,#fff,#eff,#fff,#bde,#fcd,#fcc,#fde,#cef,#fee,#fde,#7be,#eff,#fbc,#eef,#faa,#fcc,#9de,#fff,#bde,#fbb,#fee,#fff,#fee,#fcd,#cee,#fee,#cef,#def,#8be,#fcc,#fbb,#fee,#eef,#fab,#fcd,#cef,#fef,#eff,#fdd,#fff,#7be,#eff,#fbb,#fee,#fdd,#fcc,#eff,#cee,#eff,#8ce,#eef,#fee,#33f,#fff,#ade,#fee,#fde,#22f,#def,#f66,#8ce,#fff,#fff,#fff,#bde,#fab,#ade,#eff,#fff,#fff,#def,#eef,#fde,#fee,#ade,#fee,#fde,#ade,#fcd,#fbc,#9de,#fcd,#fee,#fff,#fbc,#fee,#7be,#fcc,#fff,#bde,#fde,#fde,#eff,#fee,#fff,#fee,#faa,#fbc,#fee,#fbc,#fee,#fdd,#fff,#eff,#f9a,#fcc,#eff,#fcd,#ade,#fdd,#fbb,#fbc,#cef,#fff,#bde,#fde,#7be,#f55,#f99,#fbc,#cee,#fbc,#fde,#eff,#fab,#fbc,#9de,#fbb,#fde,#fee,#fee,#def,#fcd,#fdd,#fee,#eef,#fee,#fcd,#fcc,#fff,#def,#bde,#fbb,#fcc,#eff,#fdd,#fcd,#f44,#f88,#00f,#eff,#fee,#fee,#fcc,#fcc,#fcc,#def,#fff,#f99,#fde,#def,#fff,#fdd,#8be,#9de,#fab,#fee,#eff,#f55,#f99,#fdd,#fdd,#fbb,#fcc,#fff,#f9a,#fdd,#79e,#fee,#fee,#faa,#fff,#fee,#fee,#fcd,#f99,#fdd,#fcc,#def,#fbb,#f88,#f89,#fdd,#f88,#fee,#fee,#def,#fbc,#ade,#fcd,#fde,#fdd,#fee,#fcd,#fdd,#def,#f89,#f9a,#f89,#bee,#fde,#7ae,#fcc,#f99,#fcd,#fee,#fdd,#eff,#ade,#fde,#fcd,#fcd,#7ae,#f88,#fbc,#fff,#fde,#f33,#fcd,#fcd,#fdd,#eef,#f9a,#fcd,#f55,#f89,#fcd,#fbc,#ade,#fab,#67e,#f9a,#7be,#fff,#fcc,#fde,#fde,#eff,#f77,#f66,#fcc,#fee,#f22,#fab,#faa,#fde,#f00,#fee,#eff,#fdd,#fdd,#fee,#f9a,#fee,#fbc,#f11,#fee,#f88,#fdd,#fff,#f88,#f33,#fbc,#fde,#f55,#f89,#f88,#faa,#fcd,#fcd,#fee,#f88,#f55,#faa,#f22,#fbc,#fcc,#f66,#f44,#f77,#fcd,#fdd,#fcd,#f89,#f00,#f66,#f77,#fab,#f88,#fcd,#f22,#f99,#f99,#fdd,#f77,#f88,#fcd,#f89,#fff,#f77,#fab,#fab,#f66,#fdd,#f77,#faa,#fbc,#fee,#f78)"></div><div class="hr" style="top:3332.03px;background:linear-gradient(90deg,#fdd,#ade,#9de,#8ce,#22f,#8ce,#cef,#eff,#fff,#ade,#9ce,#55f,#bde,#fee,#bee,#fee,#fee,#fee,#eff,#fff,#eff,#8ce,#cee,#ade,#def,#fab,#def,#fff,#cef,#69e,#ade,#fff,#fee,#8ce,#bde,#fff,#79e,#fff,#fee,#def,#fef,#fff,#8ce,#8ce,#33f,#cee,#eff,#ade,#eff,#7ae,#def,#7ae,#9de,#fee,#fcd,#fcd,#cee,#cee,#cee,#bde,#8be,#def,#ade,#def,#bde,#33f,#fee,#9de,#8ce,#def,#eff,#8be,#22f,#bde,#def,#fff,#fff,#eff,#eff,#fee,#def,#fef,#cef,#eef,#eef,#cee,#def,#def,#9de,#fff,#fee,#fee,#cee,#def,#ade,#fbc,#fbc,#7be,#def,#fee,#11f,#fff,#7be,#fee,#bde,#def,#cef,#bde,#cee,#9ce,#fff,#eff,#68e,#fcd,#7be,#cee,#67e,#56f,#fff,#eff,#fcd,#7ae,#fff,#fff,#fef,#eff,#bde,#fee,#fff,#ade,#bde,#fee,#00f,#def,#fee,#fee,#def,#eff,#cee,#8ce,#fee,#fff,#def,#9de,#f00,#fef,#fee,#f9a,#cef,#cee,#fff,#eff,#8ce,#cee,#fee,#def,#fee,#fff,#cee,#bde,#eff,#fee,#fff,#fef,#fee,#fee,#fff,#fdd,#fcd,#7be,#7be,#fee,#cef,#fef,#fff,#eff,#fde,#8be,#eff,#fff,#cef,#fcd,#def,#fff,#bde,#fee,#cee,#fff,#fee,#bde,#cee,#fff,#fee,#bee,#fff,#fcd,#fee,#fff,#cee,#8ce,#fef,#bee,#fbc,#fff,#eef,#fcd,#fee,#cef,#55f,#fff,#def,#fdd,#eff,#eff,#f00,#fee,#f88,#def,#eff,#fee,#55f,#fff,#def,#eef,#f00,#fbc,#cef,#eef,#fff,#00f,#fff,#f00,#fee,#fff,#11f,#fee,#fff,#fcd,#fbc,#fbb,#fff,#def,#eff,#fee,#ade,#fde,#fdd,#fff,#fff,#9de,#9de,#def,#69e,#f33,#ade,#fee,#bde,#cef,#bde,#fdd,#fdd,#eef,#f9a,#fee,#fdd,#eef,#fff,#fcc,#fef,#fab,#eff,#fee,#bde,#fcc,#fcd,#fff,#fee,#fbc,#fff,#fee,#fdd,#fdd,#fcd,#fee,#bde,#fee,#fde,#f55,#fee,#fde,#fff,#def,#fff,#fdd,#cee,#fff,#def,#fee,#f00,#cee,#9ce,#fff,#fee,#8ce,#fee,#fee,#eff,#fee,#fdd,#8ce,#fbc,#fde,#eff,#cef,#eff,#44f,#fee,#fee,#f22,#fbc,#f9a,#def,#fff,#fee,#fef,#fde,#f99,#fdd,#fee,#fee,#def,#fee,#f00,#8ce,#9de,#fbc,#fff,#fee,#eff,#fbb,#fcd,#def,#fdd,#7ae,#fff,#fcd,#f00,#eef,#9de,#fee,#cef,#cee,#cef,#fde,#fcd,#fff,#fdd,#fff,#33f,#fdd,#fcc,#fde,#fff,#def,#bee,#fee,#fff,#fcd,#8ce,#fee,#fdd,#fff,#def,#fdd,#eef,#fff,#fdd,#f11,#fab,#fee,#fcc,#fdd,#fbc,#fcd,#fdd,#8ce,#fde,#fee,#f11,#fee,#fff,#fdd,#fdd,#fee,#fee,#fcd,#def,#fbb,#fee,#f9a,#fee,#fbb,#def,#faa,#f33,#fff,#fdd,#7ae,#fee,#fcd,#def,#fcd,#ade,#7ae,#fde,#fef,#fff,#fee,#fff,#fdd,#9de,#faa,#fee,#fdd,#fbc,#fff,#fff,#fcc,#f66,#fcd,#fee,#fdd,#def,#f33,#eff,#eff,#ade,#eff,#fbc,#68e,#9ce,#f44,#fbb,#fff,#fcc,#fde,#fee,#fdd,#fcc,#f78,#fff,#8ce,#fff,#ade,#fcc,#cef,#fff,#eef,#fff,#fff,#8ce,#fcd,#fee,#fcc,#fbb,#fee,#fbc,#fcd,#fcc,#fdd,#fff,#fee,#fbc,#fde,#fab,#8be,#eff,#fee,#fcc,#f44,#fcd,#f99,#fcc,#f00,#f00,#f22,#f00,#fee,#fff,#fbc,#f44,#f66,#fee,#fcc,#fff,#f99,#f00,#f66,#f33,#ade,#9de,#fbc,#f44,#fbb,#eff,#f78,#f00,#faa,#fee,#f9a,#fbb,#f99,#fcd,#fab,#fab,#fdd,#f66,#fff,#ade,#fbc,#fcd,#fee,#fee,#faa,#fcd,#f9a,#fee,#fde,#f22,#fcc,#f99,#faa,#f88)"></div><div class="hr" style="top:3353.06px;background:linear-gradient(90deg,#cee,#ade,#8ce,#bde,#8ce,#cee,#eff,#cee,#9de,#7ae,#cee,#69e,#bde,#ade,#ade,#cee,#ade,#fdd,#ade,#7be,#7ae,#ade,#9de,#8ce,#ade,#def,#8ce,#9de,#eff,#44f,#eff,#8ce,#def,#8ce,#cee,#9ce,#ade,#8ce,#fff,#8ce,#def,#9de,#def,#44f,#def,#cef,#ade,#bde,#bde,#bee,#eef,#f77,#def,#def,#79e,#fee,#eef,#fff,#bee,#11f,#ade,#ade,#9de,#fff,#fee,#cee,#9de,#79e,#ade,#8ce,#def,#7be,#ade,#56f,#bde,#8be,#8ce,#fab,#def,#fee,#8ce,#f88,#bde,#def,#ade,#bde,#def,#eef,#fef,#9de,#cee,#ade,#22f,#9ce,#fcd,#eff,#00f,#fff,#eff,#9ce,#8ce,#cee,#ade,#bde,#55f,#bde,#bde,#9de,#bde,#cef,#def,#bde,#bde,#eff,#cee,#bde,#cef,#bde,#ade,#def,#9ce,#ade,#bde,#f99,#bde,#eef,#fee,#bee,#7be,#8be,#56f,#fee,#cee,#fef,#def,#fde,#55f,#def,#8be,#bde,#eff,#fff,#cef,#9de,#8ce,#f99,#fdd,#ade,#eef,#fff,#fee,#bde,#9de,#fdd,#eff,#f77,#eff,#fff,#fff,#bde,#bde,#fff,#fee,#def,#eff,#fcc,#bde,#cee,#fee,#8ce,#fef,#fdd,#eff,#fee,#fff,#eff,#8ce,#eff,#eff,#fff,#55f,#bde,#fff,#def,#fff,#def,#cee,#fff,#8be,#fff,#fdd,#fdd,#fff,#fdd,#fff,#fef,#7ae,#fef,#9ce,#9ce,#fcd,#fdd,#fdd,#fbb,#def,#bde,#fff,#fff,#9de,#ade,#fee,#fcd,#fbc,#fee,#cee,#eff,#fde,#fff,#def,#eef,#fff,#fee,#fff,#fff,#fee,#9de,#cef,#fde,#fdd,#cef,#def,#eff,#eef,#fee,#fdd,#f99,#fff,#fab,#fdd,#fde,#fee,#fee,#eff,#fde,#fbb,#fee,#eff,#fff,#fdd,#9de,#ade,#def,#def,#fff,#def,#cef,#eef,#ade,#fee,#fcd,#fff,#cee,#eff,#bee,#def,#fdd,#fcd,#ade,#fdd,#cef,#cee,#faa,#bde,#fff,#bde,#cef,#fee,#fee,#8ce,#fff,#fee,#fef,#fbc,#fff,#ade,#fcc,#fee,#fee,#11f,#fcd,#def,#fdd,#eff,#eff,#fff,#68e,#fbc,#fcd,#fcd,#fff,#7be,#fdd,#fff,#68e,#fee,#f88,#fcd,#eff,#ade,#fdd,#fcc,#fee,#cee,#fff,#ade,#eff,#cee,#fcc,#faa,#9de,#69e,#fcd,#ade,#def,#cef,#f78,#fee,#fde,#fee,#fdd,#fdd,#def,#fcc,#f00,#fff,#fee,#fbc,#fdd,#fef,#fff,#def,#fbb,#fdd,#ade,#cee,#fee,#fcc,#fff,#eef,#def,#fff,#fdd,#fdd,#fdd,#fcd,#ade,#bde,#fcd,#f66,#fff,#cef,#fdd,#fef,#fef,#fcd,#faa,#ade,#fab,#bde,#fcd,#00f,#fdd,#fee,#fef,#fee,#8ce,#fff,#fdd,#fcc,#fbc,#8be,#fcd,#fcd,#fdd,#fee,#def,#fff,#fdd,#f66,#cef,#faa,#f89,#ade,#fff,#cef,#eff,#56f,#fee,#fee,#f66,#9ce,#fcd,#fee,#fab,#fbc,#faa,#fcd,#bde,#def,#cee,#fff,#f89,#fde,#fef,#fee,#cef,#fee,#fee,#fdd,#fff,#cee,#fbb,#fee,#eff,#f11,#eff,#fff,#def,#fdd,#cee,#fcd,#fee,#fdd,#fbb,#7ae,#fee,#fab,#f00,#def,#fcd,#eff,#fdd,#faa,#fbc,#fee,#fff,#fde,#fdd,#fbb,#faa,#fdd,#fff,#ade,#fab,#fde,#f88,#bde,#def,#bde,#fcd,#faa,#fee,#fcc,#def,#7be,#bde,#fde,#eff,#f99,#eff,#f77,#fde,#fee,#9de,#fff,#fee,#fff,#fee,#fbc,#f22,#fbb,#fab,#def,#fcc,#fcc,#f66,#f44,#fff,#fcd,#fbb,#f00,#faa,#fcd,#faa,#f88,#fcd,#fde,#fcc,#fee,#fee,#fdd,#f55,#fee,#f88,#fbc,#8be,#f00,#f00,#fee,#f89,#faa,#fab,#fff,#fcd,#fbb,#fee,#f77,#fee,#fcd,#fcd,#56f,#fff,#fab,#f88,#fde,#fee,#fbc,#fff,#fcd,#f77,#fee,#f66,#f88)"></div><div class="hr" style="top:3374.10px;background:linear-gradient(90deg,#cee,#7ae,#8ce,#7ae,#bde,#7ae,#fee,#fff,#9de,#9de,#79e,#8ce,#bde,#79e,#8be,#cee,#9de,#fff,#cef,#cef,#68e,#8ce,#ade,#22f,#bee,#def,#9ce,#fee,#8ce,#68e,#67e,#9de,#8ce,#67e,#eff,#9de,#9ce,#fff,#8ce,#cef,#9de,#68e,#ade,#fde,#55f,#fff,#cef,#eef,#68e,#cef,#f77,#ade,#67e,#ade,#cee,#8ce,#7ae,#fee,#bee,#bde,#ade,#9ce,#cee,#def,#8be,#eef,#fff,#ade,#cef,#67e,#9de,#8ce,#9ce,#eff,#bde,#8ce,#cee,#7ae,#9ce,#fde,#9de,#ade,#fee,#fee,#def,#fff,#eef,#7be,#fdd,#9ce,#ade,#8ce,#8be,#fee,#bde,#eff,#def,#fee,#8ce,#7be,#ade,#ade,#bde,#8ce,#fee,#def,#55f,#8be,#bde,#def,#def,#9de,#68e,#fee,#bde,#bde,#f44,#9ce,#44f,#fff,#fdd,#cef,#cef,#68e,#ade,#8ce,#cee,#eef,#fff,#8ce,#fff,#fee,#fff,#8be,#def,#fdd,#cee,#8be,#fff,#7be,#fcd,#fbc,#ade,#fff,#eff,#fee,#fdd,#eff,#9ce,#fee,#00f,#eef,#79e,#fee,#79e,#def,#fff,#fee,#fff,#8ce,#fde,#eef,#cee,#7ae,#fee,#eff,#67e,#def,#cef,#bde,#def,#cef,#cef,#eef,#8ce,#fdd,#9ce,#fdd,#ade,#fde,#def,#fee,#fff,#fde,#8ce,#fff,#8be,#cee,#ade,#def,#fff,#bee,#f99,#def,#9de,#9de,#bde,#fee,#8ce,#fff,#9de,#fcd,#fee,#def,#fbc,#fff,#fee,#def,#00f,#fee,#8ce,#fcc,#fcd,#cee,#bee,#def,#fee,#ade,#ade,#fbc,#def,#fde,#fff,#fee,#ade,#fff,#fde,#fee,#eef,#fee,#eef,#fff,#fff,#fff,#fdd,#9de,#fee,#f77,#fff,#fee,#def,#fee,#eef,#fcc,#fee,#fcc,#9de,#79e,#faa,#eff,#fff,#fff,#ade,#44f,#fcc,#fcc,#eff,#fee,#fff,#fcc,#fee,#ade,#9de,#9de,#fbc,#eef,#79e,#fbb,#fee,#fee,#7ae,#fee,#fee,#fee,#bde,#fee,#fee,#fee,#9ce,#def,#fff,#fdd,#fcd,#fcc,#fbc,#def,#fee,#fdd,#fcc,#7ae,#eef,#8be,#fff,#fee,#fff,#def,#7be,#ade,#fee,#fef,#fff,#fff,#fff,#9de,#fdd,#fcd,#fdd,#9de,#fcd,#cef,#fcc,#bde,#fef,#fcc,#fdd,#fef,#f00,#fff,#fcc,#fdd,#fff,#f9a,#fee,#fde,#fcd,#fdd,#fee,#f78,#ade,#fab,#33f,#bde,#fff,#fcc,#fff,#fcd,#fee,#fcc,#cef,#cee,#44f,#f00,#fcc,#fab,#9de,#eff,#fdd,#fdd,#fee,#fff,#fee,#fdd,#fcc,#7be,#fdd,#def,#fdd,#fff,#7be,#fef,#fff,#fdd,#fde,#fcd,#fff,#fbb,#fbb,#fbb,#8ce,#fbc,#bde,#fff,#79e,#eff,#f88,#fff,#fcd,#cee,#f66,#fee,#9de,#fee,#eef,#fff,#69e,#f99,#def,#faa,#fff,#fff,#fab,#fde,#eff,#fdd,#f88,#55f,#fff,#fcc,#f88,#fab,#8ce,#fcd,#def,#f77,#fab,#fcc,#fff,#fdd,#fdd,#fee,#bee,#f99,#def,#cee,#fdd,#fbc,#f66,#ade,#eef,#fdd,#fff,#fcd,#fcd,#fbc,#eef,#fee,#bde,#fff,#fdd,#f77,#fee,#fff,#fdd,#fdd,#bde,#55f,#def,#f22,#eff,#def,#fef,#f00,#f00,#f66,#fee,#cee,#fbc,#fbc,#fcc,#fab,#fcc,#fcc,#8ce,#fdd,#eef,#f55,#fdd,#eff,#fcc,#8be,#fee,#cee,#eef,#fcc,#fdd,#fcd,#fbc,#fee,#f88,#fee,#f00,#9de,#f33,#fcc,#fcc,#cef,#fcc,#8ce,#fff,#f22,#fde,#fcd,#fdd,#fbb,#f88,#fef,#f9a,#fcc,#fee,#fcd,#f22,#bde,#fcc,#fbb,#f88,#f88,#f00,#bde,#f55,#fee,#fde,#f66,#fbc,#fbb,#fcd,#fff,#f00,#fdd,#fbc,#fde,#fde,#f66,#fbc,#def,#f77,#fee,#f11,#8ce,#fbc,#fdd,#fab,#f99,#fff,#f88,#f55,#fff,#fab,#f66,#f89,#fff,#f88,#f22,#f88)"></div><div class="hr" style="top:3395.13px;background:linear-gradient(90deg,#def,#7be,#bde,#cee,#69e,#cee,#8be,#ade,#9de,#9ce,#7ae,#44f,#fff,#ade,#7ae,#def,#ade,#fff,#79e,#eff,#bde,#eff,#44f,#8be,#bde,#8ce,#8ce,#bde,#bde,#def,#eff,#9de,#bde,#7ae,#9de,#7ae,#bde,#def,#bde,#bde,#7be,#bde,#cee,#bde,#ade,#8be,#68e,#7be,#7ae,#bde,#fde,#fff,#def,#bde,#cee,#ade,#8ce,#ade,#cef,#8be,#ade,#bde,#bde,#def,#cee,#cef,#9de,#8ce,#79e,#eff,#cef,#56f,#eff,#9ce,#00f,#fff,#cee,#fff,#fee,#def,#79e,#ade,#bde,#00f,#fee,#8ce,#fee,#bde,#7ae,#9de,#8ce,#8ce,#8be,#9de,#fee,#fff,#eff,#cef,#9ce,#bde,#8be,#def,#ade,#bde,#68e,#fee,#7be,#9de,#8ce,#eef,#def,#fdd,#7be,#eff,#cef,#7ae,#fdd,#ade,#def,#22f,#00f,#fff,#9ce,#8be,#8ce,#79e,#fde,#fbc,#fff,#7be,#fdd,#def,#def,#fff,#eff,#def,#f33,#fee,#fff,#fee,#fff,#fdd,#fff,#bee,#fff,#fff,#fcc,#fee,#def,#fff,#fee,#eff,#def,#def,#7be,#fff,#cee,#cee,#fff,#68e,#fff,#ade,#9de,#fbc,#fff,#fef,#def,#8ce,#fff,#bde,#bde,#eef,#fdd,#8ce,#bde,#fef,#7be,#9de,#eff,#f55,#def,#fef,#fee,#cee,#bde,#9de,#79e,#fee,#cee,#eff,#fcd,#cee,#eef,#fee,#fff,#fbc,#bde,#fff,#9ce,#7ae,#fef,#fee,#eef,#ade,#def,#fdd,#fdd,#8ce,#bee,#eff,#7ae,#fff,#fcd,#fff,#eff,#def,#fff,#7be,#fef,#def,#def,#fee,#68e,#fee,#eff,#fee,#fcd,#eef,#fbc,#fff,#8ce,#fdd,#ade,#56f,#fee,#fff,#fee,#faa,#f77,#fdd,#8ce,#fff,#eff,#def,#fee,#fee,#cef,#fff,#fcd,#eff,#ade,#7be,#00f,#fff,#fee,#ade,#fee,#fcd,#f99,#00f,#fbc,#8ce,#fff,#8ce,#fcd,#fdd,#def,#cef,#7be,#ade,#fff,#8ce,#fff,#fcd,#cef,#fde,#def,#cee,#7ae,#eef,#fee,#fcd,#def,#fcd,#fef,#bde,#eff,#00f,#9de,#eef,#eff,#def,#faa,#fee,#eff,#eff,#8ce,#fbc,#fdd,#fcc,#eff,#ade,#8be,#ade,#f9a,#f99,#eff,#33f,#fff,#fcd,#fbb,#fcd,#67e,#eff,#fff,#fee,#def,#bde,#fcd,#def,#fff,#def,#def,#fdd,#fee,#cee,#cef,#fcc,#fff,#f77,#fde,#7be,#fff,#fdd,#fee,#f77,#fcd,#f00,#fef,#fbc,#9de,#fab,#44f,#fee,#fdd,#fee,#fee,#f99,#8be,#fff,#f99,#fcd,#fff,#fee,#def,#ade,#def,#fbc,#fbb,#def,#fcc,#f55,#eff,#f78,#fff,#fbc,#fdd,#fde,#ade,#fcd,#68e,#fee,#fcc,#fee,#fcc,#def,#ade,#fcc,#fcc,#fee,#eff,#bde,#ade,#fbc,#fde,#def,#fdd,#fcd,#f11,#fcc,#fdd,#fcc,#67e,#68e,#fde,#fef,#f99,#eef,#fff,#f22,#00f,#fcc,#fff,#fdd,#fbc,#fff,#fdd,#fff,#fcc,#fde,#fff,#f99,#fff,#def,#fcc,#8ce,#f88,#fee,#fff,#f55,#fff,#fee,#faa,#fee,#fee,#fee,#fdd,#fff,#fab,#bde,#f66,#eff,#eef,#fbb,#eff,#f9a,#eff,#7ae,#fff,#fff,#fcd,#f00,#f77,#cef,#fff,#f88,#fee,#fbc,#f88,#fcd,#fbc,#f00,#eef,#fee,#fee,#f00,#8ce,#cef,#f99,#fbc,#fbc,#fee,#fab,#fff,#def,#fbc,#fcd,#eff,#fde,#fbb,#f00,#cee,#f00,#fde,#fdd,#fdd,#f9a,#f99,#fee,#f11,#fcc,#f66,#def,#f00,#f88,#f88,#f00,#fcd,#fee,#f66,#f22,#faa,#fee,#22f,#f99,#faa,#f00,#f88,#faa,#fff,#fcd,#f33,#f77,#fdd,#fcc,#fde,#fcd,#f00,#f99,#f88,#fab,#fcc,#fde,#fdd,#fcd,#7be,#fcd,#eef,#f99,#f89,#f9a,#f66,#fbc,#fbb,#f99,#fcc,#f89,#f99,#f66,#f00,#f89,#f22,#f55)"></div><div class="hr" style="top:3416.17px;background:linear-gradient(90deg,#eff,#7ae,#7ae,#cee,#67e,#8ce,#9de,#8ce,#7be,#fff,#79e,#69e,#8ce,#7ae,#fee,#fef,#9ce,#9de,#fee,#7ae,#fff,#ade,#9ce,#22f,#8ce,#fff,#ade,#cee,#bde,#55f,#9ce,#def,#cef,#7ae,#7ae,#bde,#7be,#55f,#fee,#bde,#68e,#7be,#67e,#7ae,#79e,#cef,#9de,#bde,#fef,#7be,#def,#fff,#7ae,#fee,#def,#fbc,#ade,#eff,#bde,#9de,#7ae,#7be,#def,#ade,#ade,#ade,#68e,#8ce,#69e,#11f,#def,#8be,#9ce,#8ce,#f11,#bde,#9de,#fcd,#ade,#fdd,#bde,#fcd,#67e,#eff,#ade,#9de,#fee,#9ce,#eef,#bde,#cee,#fff,#8ce,#ade,#67e,#cee,#fff,#eef,#cee,#9ce,#def,#fcd,#cee,#eff,#def,#cee,#9de,#fee,#def,#eff,#def,#9de,#ade,#fff,#7ae,#7ae,#fff,#fef,#ade,#9ce,#56f,#eff,#f88,#9de,#ade,#fff,#eff,#eff,#def,#cee,#bde,#ade,#bde,#cef,#fff,#ade,#8be,#fee,#f66,#7be,#eef,#9de,#8ce,#ade,#fee,#fee,#fee,#eff,#ade,#8ce,#cef,#fff,#8ce,#fff,#9ce,#fee,#fff,#cee,#eff,#ade,#fcc,#8ce,#fcc,#fee,#fff,#33f,#bee,#fff,#fee,#8ce,#fdd,#fff,#f11,#fff,#def,#def,#fdd,#fee,#9de,#def,#9de,#fff,#def,#fdd,#bee,#fcc,#cef,#fdd,#eef,#44f,#fdd,#7ae,#def,#56f,#def,#fcd,#def,#fff,#fee,#fbc,#8ce,#7be,#f99,#def,#bee,#cee,#eff,#eef,#fee,#fab,#eff,#fff,#fdd,#fde,#fee,#def,#fcc,#7ae,#fdd,#fdd,#bde,#fff,#fdd,#eff,#7ae,#bde,#cef,#bde,#def,#fdd,#bde,#fdd,#def,#9de,#fee,#f9a,#7ae,#fcd,#eff,#def,#fbc,#9de,#def,#9de,#fee,#33f,#ade,#eff,#f77,#fff,#fee,#fdd,#eff,#fee,#bde,#fee,#cee,#f89,#fbc,#fdd,#f00,#fdd,#eef,#bde,#f66,#fee,#fcc,#fff,#fcc,#fee,#fee,#fdd,#fff,#eff,#8ce,#bee,#fff,#ade,#cee,#fef,#fff,#fff,#fff,#fbb,#44f,#def,#fee,#fdd,#fee,#fbc,#fff,#f00,#fcd,#fff,#fff,#eef,#9ce,#fcd,#fff,#fff,#bde,#44f,#cef,#fee,#fff,#fdd,#fcc,#69e,#fff,#eef,#fdd,#fee,#fef,#def,#faa,#eff,#fff,#8ce,#fee,#fef,#fee,#fff,#fcc,#eff,#fff,#fcc,#fff,#f00,#fee,#fbc,#eff,#f99,#fee,#fbc,#def,#68e,#fcd,#eff,#fde,#f88,#fee,#fff,#8ce,#fdd,#9de,#fff,#fff,#fdd,#f77,#fee,#fee,#fcd,#fcd,#ade,#fcd,#56f,#fff,#fee,#8ce,#f99,#fcd,#eff,#eff,#ade,#ade,#fde,#fcc,#fdd,#fff,#fdd,#bee,#fcc,#fef,#fcd,#bee,#22f,#fee,#fff,#fdd,#fde,#fcd,#7ae,#def,#fbb,#fee,#fee,#fff,#fbb,#f00,#fcd,#fde,#def,#fde,#fff,#fee,#ade,#fff,#eff,#faa,#fab,#eef,#fbc,#67e,#fcd,#fde,#fee,#fcd,#cee,#eff,#fee,#fff,#fbc,#cef,#cef,#fde,#eff,#eff,#f00,#cee,#fcc,#fde,#f89,#fee,#cef,#fee,#f99,#fdd,#fee,#fcc,#fee,#fdd,#fee,#faa,#f88,#def,#cee,#eff,#fbc,#eef,#f88,#fee,#fde,#f66,#fff,#fde,#8ce,#fee,#fcc,#fab,#fcd,#cee,#fff,#fff,#fbc,#cef,#f33,#68e,#cef,#fcd,#7be,#f89,#cef,#fdd,#faa,#fab,#fcd,#fde,#def,#fee,#fee,#f33,#fee,#f88,#f11,#fee,#fcd,#fbc,#cee,#def,#f55,#fee,#f55,#eff,#fee,#fcc,#f77,#f66,#fcd,#fee,#fdd,#f00,#f55,#fab,#fbc,#fee,#fcd,#f66,#fdd,#f00,#8be,#f66,#f55,#fbc,#f44,#fcc,#faa,#f00,#f44,#8ce,#fbb,#faa,#faa,#fff,#fee,#f77,#fbc,#fcd,#def,#f99,#fbb,#fcd,#f99,#f00,#f55,#fab,#fee,#f9a,#fbb,#fdd,#f77,#f78,#f00,#f00)"></div><div class="gl" style="top:2385.50px">BCKDHB</div><div class="gl" style="top:2406.53px">PLEKHB2</div><div class="gl" style="top:2427.57px">GUF1</div><div class="gl" style="top:2448.60px">ADAL</div><div class="gl" style="top:2469.64px">ELMOD2</div><div class="gl" style="top:2490.67px">DLD</div><div class="gl" style="top:2511.70px">ZDHHC23</div><div class="gl" style="top:2532.74px">MYO5B</div><div class="gl" style="top:2553.77px">SLC30A9</div><div class="gl" style="top:2574.81px">MARVELD2</div><div class="gl" style="top:2595.84px">PAFAH2</div><div class="gl" style="top:2616.87px">GRSF1</div><div class="gl" style="top:2637.91px">IVD</div><div class="gl" style="top:2658.94px">SDHC</div><div class="gl" style="top:2679.98px">TMEM192</div><div class="gl" style="top:2701.01px">STRBP</div><div class="gl" style="top:2722.04px">KIAA0232</div><div class="gl" style="top:2743.08px">MSI2</div><div class="gl" style="top:2764.11px">PHKB</div><div class="gl" style="top:2785.15px">HADH</div><div class="gl" style="top:2806.18px">MPP7</div><div class="gl" style="top:2827.21px">AGL</div><div class="gl" style="top:2848.25px">OGDHL</div><div class="gl" style="top:2869.28px">CDS1</div><div class="gl" style="top:2890.32px">FECH</div><div class="gl" style="top:2911.35px">PTPLAD1</div><div class="gl" style="top:2932.38px">NNT</div><div class="gl" style="top:2953.42px">PIK3IP1</div><div class="gl" style="top:2974.45px">RBM47</div><div class="gl" style="top:2995.49px">AIF1L</div><div class="gl" style="top:3016.52px">PPIP5K1</div><div class="gl" style="top:3037.55px">SLC31A1</div><div class="gl" style="top:3058.59px">DIRC2</div><div class="gl" style="top:3079.62px">LRBA</div><div class="gl" style="top:3100.66px">LRRC57</div><div class="gl" style="top:3121.69px">COX18</div><div class="gl" style="top:3142.72px">ZNF385B</div><div class="gl" style="top:3163.76px">PFKFB2</div><div class="gl" style="top:3184.79px">ACAD8</div><div class="gl" style="top:3205.83px">CHP</div><div class="gl" style="top:3226.86px">ACBD5</div><div class="gl" style="top:3247.89px">NMNAT1</div><div class="gl" style="top:3268.93px">TAB3</div><div class="gl" style="top:3289.96px">DNAJC28</div><div class="gl" style="top:3311.00px">PTER</div><div class="gl" style="top:3332.03px">CBR4</div><div class="gl" style="top:3353.06px">GPC4</div><div class="gl" style="top:3374.10px">MCCC2</div><div class="gl" style="top:3395.13px">GPD1L</div><div class="gl" style="top:3416.17px">FLRT3</div><div class="lt" style="left:1462.7px;top:2778.3px;font-size:31.5px">Z-Score</div><div class="lt" style="left:1596.7px;top:2778.3px;font-size:31.5px">Group</div><div class="lb" style="left:1464.2px;top:2818.3px;background:#ff0000"></div><div class="li" style="left:1507.7px;top:2818.3px;font-size:31.0px">&gt;3</div><div class="lb" style="left:1464.2px;top:2854.2px;background:#ffc0cb"></div><div class="li" style="left:1507.7px;top:2854.2px;font-size:31.0px">1</div><div class="li" style="left:1507.7px;top:2890.1px;font-size:31.0px">0</div><div class="lb" style="left:1464.2px;top:2926.0px;background:#87ceeb"></div><div class="li" style="left:1507.7px;top:2926.0px;font-size:31.0px">-1</div><div class="lb" style="left:1464.2px;top:2961.9px;background:#0000ff"></div><div class="li" style="left:1507.7px;top:2961.9px;font-size:31.0px">&lt;-3</div><div class="lb" style="left:1598.2px;top:2818.3px;background:#ff0000"></div><div class="li" style="left:1641.7px;top:2818.3px;font-size:31.0px">4</div><div class="lb" style="left:1598.2px;top:2854.2px;background:#ff7050"></div><div class="li" style="left:1641.7px;top:2854.2px;font-size:31.0px">2</div><div class="li" style="left:1641.7px;top:2890.1px;font-size:31.0px">0</div><div class="lb" style="left:1598.2px;top:2926.0px;background:#0000ff"></div><div class="li" style="left:1641.7px;top:2926.0px;font-size:31.0px">-2</div></div></body></html>
